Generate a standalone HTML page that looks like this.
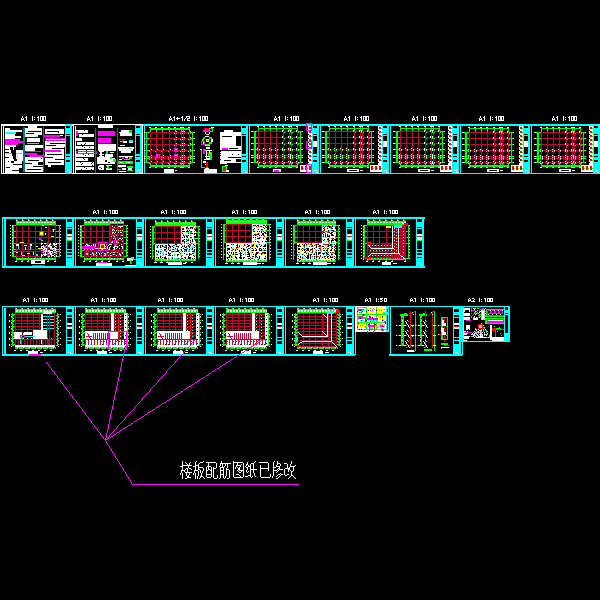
<!DOCTYPE html><html><head><meta charset="utf-8"><style>html,body{margin:0;padding:0;background:#000;overflow:hidden}svg{display:block}</style></head><body>
<svg width="600" height="600" viewBox="0 0 600 600" shape-rendering="crispEdges">
<rect x="0" y="0" width="600" height="600" fill="#000"/>
<path fill="#ffffff" d="M1 124h73v2h-73zM1 173h73v1h-73zM1 124h1v50h-1zM3 126h1v47h-1zM5 128h5v2h-5zM5 130h17v2h-17z"/>
<path fill="#00ffff" d="M5 132h11v2h-11z"/>
<path fill="#ffffff" d="M5 134h10v5h-10zM15 136h6v2h-6z"/>
<path fill="#ff00ff" d="M5 139h15v2h-15zM5 141h20v2h-20zM5 143h13v2h-13z"/>
<path fill="#ffffff" d="M5 145h11v2h-11zM5 147h9v26h-9zM16 150h8v11h-8zM14 160h8v13h-8z"/>
<path fill="#000000" d="M10 147h3v1h-3zM10 148h3v1h-3zM10 149h3v1h-3zM11 150h3v1h-3zM11 151h3v1h-3zM11 152h3v1h-3zM12 153h3v1h-3zM12 154h3v1h-3zM12 155h3v1h-3zM13 156h3v1h-3zM13 157h3v1h-3zM13 158h3v1h-3zM14 159h3v1h-3zM14 160h3v1h-3z"/>
<path fill="#00ffff" d="M6 153h6v1h-6zM16 153h6v1h-6zM17 156h1v1h-1z"/>
<path fill="#000000" d="M13 164h11v1h-11zM11 161h3v2h-3zM19 168h3v5h-3zM8 161h1v1h-1zM6 167h4v1h-4zM12 170h7v1h-7zM5 149h4v1h-4zM5 152h4v1h-4zM5 157h4v1h-4z"/>
<path fill="#008080" d="M23 127h2v45h-2z"/>
<path fill="#ffffff" d="M28 126h9v2h-9zM25 128h17v7h-17zM25 135h13v2h-13zM27 138h13v4h-13z"/>
<path fill="#00ffff" d="M27 143h12v1h-12z"/>
<path fill="#ffffff" d="M25 145h18v3h-18zM25 148h10v3h-10z"/>
<path fill="#ff00ff" d="M26 151h15v1h-15zM25 153h12v2h-12zM30 155h15v2h-15z"/>
<path fill="#ffffff" d="M25 157h19v15h-19z"/>
<path fill="#00ffff" d="M36 136h1v1h-1z"/>
<path fill="#000000" d="M28 131h13v1h-13zM26 133h8v1h-8zM28 160h11v1h-11zM25 163h7v1h-7zM33 166h11v1h-11zM27 169h14v1h-14zM41 158h1v1h-1zM38 162h6v3h-6z"/>
<path fill="#008080" d="M43 127h1v45h-1z"/>
<path fill="#ffffff" d="M45 129h19v5h-19z"/>
<path fill="#ff00ff" d="M44 135h16v2h-16z"/>
<path fill="#ffffff" d="M60 135h3v1h-3z"/>
<path fill="#ff00ff" d="M45 138h21v1h-21z"/>
<path fill="#ffffff" d="M46 139h19v1h-19z"/>
<path fill="#ff00ff" d="M45 140h21v1h-21z"/>
<path fill="#ffffff" d="M45 141h20v6h-20zM45 147h19v3h-19z"/>
<path fill="#ff00ff" d="M44 150h17v2h-17z"/>
<path fill="#ffffff" d="M61 150h3v2h-3zM45 152h19v13h-19zM48 165h3v2h-3z"/>
<path fill="#000000" d="M47 131h12v1h-12zM50 143h15v1h-15zM46 145h10v1h-10zM52 148h12v1h-12zM47 154h15v1h-15zM45 157h8v1h-8zM55 159h9v1h-9zM48 162h13v1h-13zM58 132h1v1h-1zM60 140h1v1h-1z"/>
<path fill="#00ffff" d="M65 124h7v50h-7z"/>
<path fill="#000000" d="M66 126h4v2h-4zM66 134h4v1h-4zM66 136h4v18h-4zM66 156h4v1h-4zM66 160h4v2h-4z"/>
<path fill="#ffffff" d="M67 170h3v1h-3zM69 172h2v1h-2z"/>
<path fill="#000000" d="M72 126h1v47h-1z"/>
<path fill="#ffffff" d="M73 124h1v50h-1zM75 126h1v47h-1zM76 130h2v1h-2zM78 130h3v1h-3zM81 130h3v1h-3zM85 130h3v1h-3zM76 131h2v1h-2zM78 131h6v1h-6zM84 131h4v1h-4zM76 132h4v1h-4zM80 132h8v1h-8zM79 134h3v1h-3zM83 134h3v1h-3zM86 134h6v1h-6zM92 134h2v1h-2zM79 135h7v1h-7zM86 135h5v1h-5zM91 135h3v1h-3zM79 136h9v1h-9zM88 136h6v1h-6zM76 138h6v1h-6zM76 139h6v1h-6zM76 140h6v1h-6zM77 142h3v1h-3zM80 142h8v1h-8zM88 142h6v1h-6zM77 143h8v1h-8zM86 143h2v1h-2zM88 143h6v1h-6zM77 144h2v1h-2zM79 144h2v1h-2zM82 144h2v1h-2zM85 144h9v1h-9zM76 146h6v1h-6zM83 146h4v1h-4zM87 146h2v1h-2zM89 146h5v1h-5zM76 147h8v1h-8zM85 147h4v1h-4zM90 147h4v1h-4zM76 148h5v1h-5zM81 148h3v1h-3zM84 148h2v1h-2zM86 148h5v1h-5zM91 148h3v1h-3zM78 150h8v1h-8zM87 150h3v1h-3zM90 150h4v1h-4zM78 151h5v1h-5zM83 151h9v1h-9zM93 151h1v1h-1zM78 152h2v1h-2zM80 152h4v1h-4zM84 152h2v1h-2zM87 152h6v1h-6zM93 152h1v1h-1zM76 154h4v1h-4zM80 154h3v1h-3zM84 154h2v1h-2zM86 154h2v1h-2zM89 154h5v1h-5zM76 155h9v1h-9zM86 155h5v1h-5zM91 155h3v1h-3zM76 156h7v1h-7zM83 156h9v1h-9zM92 156h2v1h-2zM76 158h7v1h-7zM84 158h4v1h-4zM76 159h8v1h-8zM85 159h3v1h-3zM76 160h5v1h-5zM81 160h3v1h-3zM84 160h4v1h-4zM76 162h4v1h-4zM81 162h2v1h-2zM83 162h9v1h-9zM93 162h1v1h-1zM76 163h6v1h-6zM83 163h6v1h-6zM89 163h2v1h-2zM92 163h2v1h-2zM76 164h5v1h-5zM82 164h7v1h-7zM89 164h4v1h-4zM93 164h1v1h-1zM76 165h7v1h-7zM83 165h9v1h-9zM93 165h1v1h-1zM76 167h8v1h-8zM85 167h4v1h-4zM89 167h5v1h-5zM76 168h4v1h-4zM80 168h6v1h-6zM87 168h2v1h-2zM89 168h5v1h-5zM76 169h3v1h-3zM79 169h2v1h-2zM82 169h9v1h-9zM92 169h2v1h-2z"/>
<path fill="#ff00ff" d="M76 131h2v5h-2zM76 151h21v1h-21zM76 153h21v1h-21zM76 151h1v3h-1zM96 151h1v3h-1z"/>
<path fill="#008080" d="M95 128h1v45h-1z"/>
<path fill="#ffffff" d="M98 125h15v3h-15z"/>
<path fill="#ff00ff" d="M98 131h17v5h-17zM98 138h13v5h-13z"/>
<path fill="#ffffff" d="M98 144h18v7h-18zM99 151h5v1h-5zM100 152h2v2h-2zM99 154h5v1h-5zM100 155h2v1h-2zM99 156h5v1h-5z"/>
<path fill="#00ff00" d="M106 151h2v3h-2z"/>
<path fill="#ffffff" d="M110 152h4v1h-4z"/>
<path fill="#ff0000" d="M111 153h1v1h-1z"/>
<path fill="#ffffff" d="M105 154h8v3h-8zM97 157h13v7h-13zM110 158h5v6h-5z"/>
<path fill="#000000" d="M105 160h2v2h-2z"/>
<path fill="#00ff00" d="M110 157h2v2h-2zM113 159h3v3h-3z"/>
<path fill="#c8c8c8" d="M111 161h3v1h-3z"/>
<path fill="#000000" d="M108 162h2v1h-2z"/>
<path fill="#ffffff" d="M99 165h5v1h-5zM98 166h6v3h-6zM99 169h5v1h-5z"/>
<path fill="#ff0000" d="M99 167h2v1h-2z"/>
<path fill="#000000" d="M101 168h1v1h-1z"/>
<path fill="#ffffff" d="M106 165h6v1h-6z"/>
<path fill="#00ff00" d="M107 166h2v2h-2z"/>
<path fill="#ffffff" d="M106 168h6v2h-6z"/>
<path fill="#00ff00" d="M108 168h2v1h-2z"/>
<path fill="#008080" d="M117 128h1v45h-1z"/>
<path fill="#ffffff" d="M121 130h10v2h-10zM119 132h10v1h-10zM120 133h12v3h-12z"/>
<path fill="#00ff00" d="M129 130h3v3h-3z"/>
<path fill="#000000" d="M130 131h1v1h-1z"/>
<path fill="#ff0000" d="M119 139h6v1h-6zM122 140h2v2h-2z"/>
<path fill="#00ffff" d="M120 141h2v1h-2z"/>
<path fill="#ffffff" d="M123 141h4v2h-4z"/>
<path fill="#00ffff" d="M129 140h4v3h-4z"/>
<path fill="#ffffff" d="M129 142h4v1h-4zM120 145h5v1h-5zM118 147h16v2h-16zM119 149h14v2h-14zM121 151h10v2h-10z"/>
<path fill="#00ff00" d="M125 148h1v1h-1zM129 148h2v1h-2z"/>
<path fill="#000000" d="M119 152h2v1h-2z"/>
<path fill="#ffffff" d="M119 156h14v1h-14z"/>
<path fill="#ff0000" d="M119 157h2v1h-2z"/>
<path fill="#ff00ff" d="M122 157h2v2h-2z"/>
<path fill="#ffffff" d="M125 157h3v1h-3z"/>
<path fill="#ff00ff" d="M126 158h2v2h-2z"/>
<path fill="#00ff00" d="M129 157h3v2h-3z"/>
<path fill="#ffffff" d="M119 159h3v1h-3z"/>
<path fill="#00ff00" d="M124 159h6v1h-6zM118 161h15v3h-15z"/>
<path fill="#ffffff" d="M120 162h2v1h-2zM127 162h3v1h-3zM118 165h8v2h-8z"/>
<path fill="#ff00ff" d="M119 167h3v1h-3z"/>
<path fill="#ffffff" d="M122 168h4v2h-4z"/>
<path fill="#00ff00" d="M118 169h3v1h-3zM127 166h6v2h-6z"/>
<path fill="#ffffff" d="M128 168h4v2h-4z"/>
<path fill="#00ff00" d="M127 170h6v1h-6z"/>
<path fill="#ffffff" d="M119 171h7v1h-7z"/>
<path fill="#00ffff" d="M135 124h7v50h-7z"/>
<path fill="#000000" d="M136 126h4v2h-4zM136 134h4v1h-4zM136 136h4v18h-4zM136 156h4v1h-4zM136 160h4v2h-4z"/>
<path fill="#ffffff" d="M137 170h3v1h-3zM139 172h2v1h-2zM142 124h1v50h-1z"/>
<path fill="#000000" d="M143 126h1v47h-1z"/>
<path fill="#ffffff" d="M73 124h71v1h-71zM73 173h71v1h-71z"/>
<path fill="#00ffff" d="M143 124h457v2h-457zM143 173h457v1h-457zM144 124h1v50h-1z"/>
<path fill="#cc0033" d="M258 131h1v32h-1zM264 131h1v32h-1zM270 131h1v32h-1zM276 131h1v32h-1zM283 131h1v32h-1zM289 131h1v32h-1zM291 131h1v32h-1zM297 131h1v32h-1zM258 131h40v1h-40zM258 137h40v1h-40zM258 143h40v1h-40zM258 149h40v1h-40zM258 155h40v1h-40zM258 157h40v1h-40zM258 162h40v1h-40z"/>
<path fill="#00ff00" d="M258 128h40v1h-40zM258 127h1v4h-1zM264 127h1v4h-1zM270 127h1v4h-1zM276 127h1v4h-1zM283 127h1v4h-1zM289 127h1v4h-1zM291 127h1v4h-1zM297 127h1v4h-1zM254 131h1v32h-1zM253 131h5v1h-5zM253 137h5v1h-5zM253 143h5v1h-5zM253 149h5v1h-5zM253 155h5v1h-5zM253 157h5v1h-5zM253 162h5v1h-5zM300 131h1v32h-1zM298 131h4v1h-4zM298 137h4v1h-4zM298 143h4v1h-4zM298 149h4v1h-4zM298 155h4v1h-4zM298 157h4v1h-4zM298 162h4v1h-4zM258 165h40v2h-40zM258 163h1v4h-1zM264 163h1v4h-1zM270 163h1v4h-1zM276 163h1v4h-1zM283 163h1v4h-1zM289 163h1v4h-1zM291 163h1v4h-1zM297 163h1v4h-1z"/>
<path fill="#ffffff" d="M257 126h2v1h-2zM257 167h2v1h-2zM263 126h2v1h-2zM263 167h2v1h-2zM269 126h2v1h-2zM269 167h2v1h-2zM275 126h2v1h-2zM275 167h2v1h-2zM282 126h2v1h-2zM282 167h2v1h-2zM288 126h2v1h-2zM288 167h2v1h-2zM290 126h2v1h-2zM290 167h2v1h-2zM296 126h2v1h-2zM296 167h2v1h-2zM252 131h1v1h-1zM302 131h1v1h-1zM252 137h1v1h-1zM302 137h1v1h-1zM252 143h1v1h-1zM302 143h1v1h-1zM252 149h1v1h-1zM302 149h1v1h-1zM252 155h1v1h-1zM302 155h1v1h-1zM252 157h1v1h-1zM302 157h1v1h-1zM252 162h1v1h-1zM302 162h1v1h-1z"/>
<path fill="#00ff00" d="M255 131h1v32h-1z"/>
<path fill="#ffffff" d="M251 131h1v1h-1zM251 137h1v1h-1zM251 143h1v1h-1zM251 149h1v1h-1zM251 155h1v1h-1zM251 157h1v1h-1zM251 162h1v1h-1zM282 130h1v1h-1zM282 131h1v1h-1z"/>
<path fill="#00ff00" d="M284 132h1v1h-1z"/>
<path fill="#ffffff" d="M282 136h1v1h-1zM282 137h1v1h-1z"/>
<path fill="#00ff00" d="M284 138h1v1h-1z"/>
<path fill="#ffffff" d="M282 142h1v1h-1zM282 143h1v1h-1z"/>
<path fill="#00ff00" d="M284 144h1v1h-1z"/>
<path fill="#ffffff" d="M282 148h1v1h-1zM282 149h1v1h-1z"/>
<path fill="#00ff00" d="M284 150h1v1h-1z"/>
<path fill="#ffffff" d="M288 130h1v1h-1zM288 131h1v1h-1z"/>
<path fill="#00ff00" d="M290 132h1v1h-1z"/>
<path fill="#ffffff" d="M288 136h1v1h-1zM288 137h1v1h-1z"/>
<path fill="#00ff00" d="M290 138h1v1h-1z"/>
<path fill="#ffffff" d="M288 142h1v1h-1zM288 143h1v1h-1z"/>
<path fill="#00ff00" d="M290 144h1v1h-1z"/>
<path fill="#ffffff" d="M288 148h1v1h-1zM288 149h1v1h-1z"/>
<path fill="#00ff00" d="M290 150h1v1h-1z"/>
<path fill="#ffffff" d="M290 130h1v1h-1zM290 131h1v1h-1z"/>
<path fill="#00ff00" d="M292 132h1v1h-1z"/>
<path fill="#ffffff" d="M290 136h1v1h-1zM290 137h1v1h-1z"/>
<path fill="#00ff00" d="M292 138h1v1h-1z"/>
<path fill="#ffffff" d="M290 142h1v1h-1zM290 143h1v1h-1z"/>
<path fill="#00ff00" d="M292 144h1v1h-1z"/>
<path fill="#ffffff" d="M290 148h1v1h-1zM290 149h1v1h-1z"/>
<path fill="#00ff00" d="M292 150h1v1h-1z"/>
<path fill="#ffffff" d="M296 130h1v1h-1zM296 131h1v1h-1z"/>
<path fill="#00ff00" d="M298 132h1v1h-1z"/>
<path fill="#ffffff" d="M296 136h1v1h-1zM296 137h1v1h-1z"/>
<path fill="#00ff00" d="M298 138h1v1h-1z"/>
<path fill="#ffffff" d="M296 142h1v1h-1zM296 143h1v1h-1z"/>
<path fill="#00ff00" d="M298 144h1v1h-1z"/>
<path fill="#ffffff" d="M296 148h1v1h-1zM296 149h1v1h-1z"/>
<path fill="#00ff00" d="M298 150h1v1h-1z"/>
<path fill="#ffffff" d="M257 148h1v1h-1zM259 149h1v1h-1z"/>
<path fill="#00ff00" d="M259 150h1v1h-1zM257 150h1v1h-1z"/>
<path fill="#ffffff" d="M257 154h1v1h-1zM259 155h1v1h-1z"/>
<path fill="#00ff00" d="M259 156h1v1h-1z"/>
<path fill="#ff0000" d="M257 156h1v1h-1z"/>
<path fill="#ffffff" d="M257 156h1v1h-1zM259 157h1v1h-1z"/>
<path fill="#00ff00" d="M259 158h1v1h-1z"/>
<path fill="#ffff00" d="M257 158h1v1h-1z"/>
<path fill="#ffffff" d="M257 161h1v1h-1zM259 162h1v1h-1z"/>
<path fill="#00ff00" d="M259 163h1v1h-1z"/>
<path fill="#ff0000" d="M257 163h1v1h-1z"/>
<path fill="#ffffff" d="M263 148h1v1h-1zM265 149h1v1h-1z"/>
<path fill="#00ff00" d="M265 150h1v1h-1z"/>
<path fill="#ffffff" d="M263 150h1v1h-1zM263 154h1v1h-1zM265 155h1v1h-1z"/>
<path fill="#00ff00" d="M265 156h1v1h-1z"/>
<path fill="#ffffff" d="M263 156h1v1h-1zM263 156h1v1h-1zM265 157h1v1h-1z"/>
<path fill="#00ff00" d="M265 158h1v1h-1z"/>
<path fill="#ffffff" d="M263 158h1v1h-1zM263 161h1v1h-1zM265 162h1v1h-1z"/>
<path fill="#00ff00" d="M265 163h1v1h-1z"/>
<path fill="#ffffff" d="M263 163h1v1h-1zM269 148h1v1h-1zM271 149h1v1h-1z"/>
<path fill="#00ff00" d="M271 150h1v1h-1zM269 150h1v1h-1z"/>
<path fill="#ffffff" d="M269 154h1v1h-1zM271 155h1v1h-1z"/>
<path fill="#00ff00" d="M271 156h1v1h-1z"/>
<path fill="#ff0000" d="M269 156h1v1h-1z"/>
<path fill="#ffffff" d="M269 156h1v1h-1zM271 157h1v1h-1z"/>
<path fill="#00ff00" d="M271 158h1v1h-1z"/>
<path fill="#ffffff" d="M269 158h1v1h-1zM269 161h1v1h-1zM271 162h1v1h-1z"/>
<path fill="#00ff00" d="M271 163h1v1h-1z"/>
<path fill="#ff0000" d="M269 163h1v1h-1z"/>
<path fill="#ffffff" d="M275 148h1v1h-1zM277 149h1v1h-1z"/>
<path fill="#00ff00" d="M277 150h1v1h-1z"/>
<path fill="#ffffff" d="M275 150h1v1h-1zM275 154h1v1h-1zM277 155h1v1h-1z"/>
<path fill="#00ff00" d="M277 156h1v1h-1z"/>
<path fill="#ffffff" d="M275 156h1v1h-1zM275 156h1v1h-1zM277 157h1v1h-1z"/>
<path fill="#00ff00" d="M277 158h1v1h-1z"/>
<path fill="#ff0000" d="M275 158h1v1h-1z"/>
<path fill="#ffffff" d="M275 161h1v1h-1zM277 162h1v1h-1z"/>
<path fill="#00ff00" d="M277 163h1v1h-1z"/>
<path fill="#ffffff" d="M275 163h1v1h-1zM282 148h1v1h-1zM284 149h1v1h-1z"/>
<path fill="#00ff00" d="M284 150h1v1h-1z"/>
<path fill="#ffff00" d="M282 150h1v1h-1z"/>
<path fill="#ffffff" d="M282 154h1v1h-1zM284 155h1v1h-1z"/>
<path fill="#00ff00" d="M284 156h1v1h-1zM282 156h1v1h-1z"/>
<path fill="#ffffff" d="M282 156h1v1h-1zM284 157h1v1h-1z"/>
<path fill="#00ff00" d="M284 158h1v1h-1z"/>
<path fill="#ff0000" d="M282 158h1v1h-1z"/>
<path fill="#ffffff" d="M282 161h1v1h-1zM284 162h1v1h-1z"/>
<path fill="#00ff00" d="M284 163h1v1h-1z"/>
<path fill="#ffff00" d="M282 163h1v1h-1z"/>
<path fill="#ffffff" d="M288 148h1v1h-1zM290 149h1v1h-1z"/>
<path fill="#00ff00" d="M290 150h1v1h-1z"/>
<path fill="#ff0000" d="M288 150h1v1h-1z"/>
<path fill="#ffffff" d="M288 154h1v1h-1zM290 155h1v1h-1z"/>
<path fill="#00ff00" d="M290 156h1v1h-1z"/>
<path fill="#ff0000" d="M288 156h1v1h-1z"/>
<path fill="#ffffff" d="M288 156h1v1h-1zM290 157h1v1h-1z"/>
<path fill="#00ff00" d="M290 158h1v1h-1z"/>
<path fill="#ff0000" d="M288 158h1v1h-1z"/>
<path fill="#ffffff" d="M288 161h1v1h-1zM290 162h1v1h-1z"/>
<path fill="#00ff00" d="M290 163h1v1h-1z"/>
<path fill="#ff0000" d="M288 163h1v1h-1z"/>
<path fill="#ffffff" d="M290 148h1v1h-1zM292 149h1v1h-1z"/>
<path fill="#00ff00" d="M292 150h1v1h-1z"/>
<path fill="#ffffff" d="M290 150h1v1h-1zM290 154h1v1h-1zM292 155h1v1h-1z"/>
<path fill="#00ff00" d="M292 156h1v1h-1zM290 156h1v1h-1z"/>
<path fill="#ffffff" d="M290 156h1v1h-1zM292 157h1v1h-1z"/>
<path fill="#00ff00" d="M292 158h1v1h-1z"/>
<path fill="#ffffff" d="M290 158h1v1h-1zM290 161h1v1h-1zM292 162h1v1h-1z"/>
<path fill="#00ff00" d="M292 163h1v1h-1z"/>
<path fill="#ff0000" d="M290 163h1v1h-1z"/>
<path fill="#ffffff" d="M296 148h1v1h-1zM298 149h1v1h-1z"/>
<path fill="#00ff00" d="M298 150h1v1h-1zM296 150h1v1h-1z"/>
<path fill="#ffffff" d="M296 154h1v1h-1zM298 155h1v1h-1z"/>
<path fill="#00ff00" d="M298 156h1v1h-1z"/>
<path fill="#ffffff" d="M296 156h1v1h-1zM296 156h1v1h-1zM298 157h1v1h-1z"/>
<path fill="#00ff00" d="M298 158h1v1h-1z"/>
<path fill="#ffffff" d="M296 158h1v1h-1zM296 161h1v1h-1zM298 162h1v1h-1z"/>
<path fill="#00ff00" d="M298 163h1v1h-1zM296 163h1v1h-1z"/>
<path fill="#ff0000" d="M258 154h1v1h-1zM264 154h1v1h-1zM270 154h1v1h-1zM276 154h1v1h-1zM283 154h1v1h-1zM289 154h1v1h-1z"/>
<path fill="#ffffff" d="M308 126h4v39h-4z"/>
<path fill="#ff0000" d="M309 127h2v2h-2z"/>
<path fill="#00ff00" d="M311 128h1v1h-1z"/>
<path fill="#000000" d="M308 130h1v1h-1z"/>
<path fill="#ff0000" d="M309 131h2v2h-2z"/>
<path fill="#00ff00" d="M311 132h1v1h-1z"/>
<path fill="#000000" d="M308 134h1v1h-1z"/>
<path fill="#ff0000" d="M309 135h2v2h-2z"/>
<path fill="#00ff00" d="M311 136h1v1h-1z"/>
<path fill="#000000" d="M308 138h1v1h-1z"/>
<path fill="#ff0000" d="M309 139h2v2h-2z"/>
<path fill="#00ff00" d="M311 140h1v1h-1z"/>
<path fill="#000000" d="M308 142h1v1h-1z"/>
<path fill="#ff0000" d="M309 143h2v2h-2z"/>
<path fill="#00ff00" d="M311 144h1v1h-1z"/>
<path fill="#000000" d="M308 146h1v1h-1z"/>
<path fill="#ff0000" d="M309 147h2v2h-2z"/>
<path fill="#00ff00" d="M311 148h1v1h-1z"/>
<path fill="#000000" d="M308 150h1v1h-1z"/>
<path fill="#ff0000" d="M309 151h2v2h-2z"/>
<path fill="#00ff00" d="M311 152h1v1h-1z"/>
<path fill="#000000" d="M308 154h1v1h-1z"/>
<path fill="#ff0000" d="M309 155h2v2h-2z"/>
<path fill="#00ff00" d="M311 156h1v1h-1z"/>
<path fill="#000000" d="M308 158h1v1h-1z"/>
<path fill="#ff0000" d="M309 159h2v2h-2z"/>
<path fill="#00ff00" d="M311 160h1v1h-1z"/>
<path fill="#000000" d="M308 162h1v1h-1z"/>
<path fill="#ffffff" d="M300 165h12v7h-12z"/>
<path fill="#ff0000" d="M301 166h2v4h-2z"/>
<path fill="#00ff00" d="M303 168h1v1h-1z"/>
<path fill="#ff0000" d="M305 166h2v4h-2z"/>
<path fill="#00ff00" d="M307 168h1v1h-1z"/>
<path fill="#ff0000" d="M309 166h2v4h-2z"/>
<path fill="#00ff00" d="M311 168h1v1h-1z"/>
<path fill="#ffffff" d="M273 169h8v3h-8z"/>
<path fill="#ff00ff" d="M274 170h5v2h-5z"/>
<path fill="#00ffff" d="M312 124h7v50h-7z"/>
<path fill="#000000" d="M313 126h4v2h-4zM313 134h4v1h-4zM313 136h4v18h-4zM313 156h4v1h-4zM313 160h4v2h-4z"/>
<path fill="#ffffff" d="M313 141h4v6h-4zM314 170h3v1h-3zM316 172h2v1h-2z"/>
<path fill="#000000" d="M319 126h1v47h-1z"/>
<path fill="#00ffff" d="M320 124h1v50h-1z"/>
<path fill="#cc0033" d="M329 131h1v32h-1zM335 131h1v32h-1zM341 131h1v32h-1zM347 131h1v32h-1zM354 131h1v32h-1zM360 131h1v32h-1zM362 131h1v32h-1zM368 131h1v32h-1zM329 131h40v1h-40zM329 137h40v1h-40zM329 143h40v1h-40zM329 149h40v1h-40zM329 155h40v1h-40zM329 157h40v1h-40zM329 162h40v1h-40z"/>
<path fill="#00ff00" d="M329 128h40v1h-40zM329 127h1v4h-1zM335 127h1v4h-1zM341 127h1v4h-1zM347 127h1v4h-1zM354 127h1v4h-1zM360 127h1v4h-1zM362 127h1v4h-1zM368 127h1v4h-1zM325 131h1v32h-1zM324 131h5v1h-5zM324 137h5v1h-5zM324 143h5v1h-5zM324 149h5v1h-5zM324 155h5v1h-5zM324 157h5v1h-5zM324 162h5v1h-5zM371 131h1v32h-1zM369 131h4v1h-4zM369 137h4v1h-4zM369 143h4v1h-4zM369 149h4v1h-4zM369 155h4v1h-4zM369 157h4v1h-4zM369 162h4v1h-4zM329 165h40v2h-40zM329 163h1v4h-1zM335 163h1v4h-1zM341 163h1v4h-1zM347 163h1v4h-1zM354 163h1v4h-1zM360 163h1v4h-1zM362 163h1v4h-1zM368 163h1v4h-1z"/>
<path fill="#ffffff" d="M328 126h2v1h-2zM328 167h2v1h-2zM334 126h2v1h-2zM334 167h2v1h-2zM340 126h2v1h-2zM340 167h2v1h-2zM346 126h2v1h-2zM346 167h2v1h-2zM353 126h2v1h-2zM353 167h2v1h-2zM359 126h2v1h-2zM359 167h2v1h-2zM361 126h2v1h-2zM361 167h2v1h-2zM367 126h2v1h-2zM367 167h2v1h-2zM323 131h1v1h-1zM373 131h1v1h-1zM323 137h1v1h-1zM373 137h1v1h-1zM323 143h1v1h-1zM373 143h1v1h-1zM323 149h1v1h-1zM373 149h1v1h-1zM323 155h1v1h-1zM373 155h1v1h-1zM323 157h1v1h-1zM373 157h1v1h-1zM323 162h1v1h-1zM373 162h1v1h-1z"/>
<path fill="#00ff00" d="M326 131h1v32h-1z"/>
<path fill="#ffffff" d="M322 131h1v1h-1zM322 137h1v1h-1zM322 143h1v1h-1zM322 149h1v1h-1zM322 155h1v1h-1zM322 157h1v1h-1zM322 162h1v1h-1zM353 130h1v1h-1zM353 131h1v1h-1z"/>
<path fill="#00ff00" d="M355 132h1v1h-1z"/>
<path fill="#ffffff" d="M353 136h1v1h-1zM353 137h1v1h-1z"/>
<path fill="#00ff00" d="M355 138h1v1h-1z"/>
<path fill="#ffffff" d="M353 142h1v1h-1zM353 143h1v1h-1z"/>
<path fill="#00ff00" d="M355 144h1v1h-1z"/>
<path fill="#ffffff" d="M353 148h1v1h-1zM353 149h1v1h-1z"/>
<path fill="#00ff00" d="M355 150h1v1h-1z"/>
<path fill="#ffffff" d="M359 130h1v1h-1zM359 131h1v1h-1z"/>
<path fill="#00ff00" d="M361 132h1v1h-1z"/>
<path fill="#ffffff" d="M359 136h1v1h-1zM359 137h1v1h-1z"/>
<path fill="#00ff00" d="M361 138h1v1h-1z"/>
<path fill="#ffffff" d="M359 142h1v1h-1zM359 143h1v1h-1z"/>
<path fill="#00ff00" d="M361 144h1v1h-1z"/>
<path fill="#ffffff" d="M359 148h1v1h-1zM359 149h1v1h-1z"/>
<path fill="#00ff00" d="M361 150h1v1h-1z"/>
<path fill="#ffffff" d="M361 130h1v1h-1zM361 131h1v1h-1z"/>
<path fill="#00ff00" d="M363 132h1v1h-1z"/>
<path fill="#ffffff" d="M361 136h1v1h-1zM361 137h1v1h-1z"/>
<path fill="#00ff00" d="M363 138h1v1h-1z"/>
<path fill="#ffffff" d="M361 142h1v1h-1zM361 143h1v1h-1z"/>
<path fill="#00ff00" d="M363 144h1v1h-1z"/>
<path fill="#ffffff" d="M361 148h1v1h-1zM361 149h1v1h-1z"/>
<path fill="#00ff00" d="M363 150h1v1h-1z"/>
<path fill="#ffffff" d="M367 130h1v1h-1zM367 131h1v1h-1z"/>
<path fill="#00ff00" d="M369 132h1v1h-1z"/>
<path fill="#ffffff" d="M367 136h1v1h-1zM367 137h1v1h-1z"/>
<path fill="#00ff00" d="M369 138h1v1h-1z"/>
<path fill="#ffffff" d="M367 142h1v1h-1zM367 143h1v1h-1z"/>
<path fill="#00ff00" d="M369 144h1v1h-1z"/>
<path fill="#ffffff" d="M367 148h1v1h-1zM367 149h1v1h-1z"/>
<path fill="#00ff00" d="M369 150h1v1h-1z"/>
<path fill="#ffffff" d="M328 148h1v1h-1zM330 149h1v1h-1z"/>
<path fill="#00ff00" d="M330 150h1v1h-1z"/>
<path fill="#ff0000" d="M328 150h1v1h-1z"/>
<path fill="#ffffff" d="M328 154h1v1h-1zM330 155h1v1h-1z"/>
<path fill="#00ff00" d="M330 156h1v1h-1z"/>
<path fill="#ff0000" d="M328 156h1v1h-1z"/>
<path fill="#ffffff" d="M328 156h1v1h-1zM330 157h1v1h-1z"/>
<path fill="#00ff00" d="M330 158h1v1h-1z"/>
<path fill="#ff0000" d="M328 158h1v1h-1z"/>
<path fill="#ffffff" d="M328 161h1v1h-1zM330 162h1v1h-1z"/>
<path fill="#00ff00" d="M330 163h1v1h-1z"/>
<path fill="#ffff00" d="M328 163h1v1h-1z"/>
<path fill="#ffffff" d="M334 148h1v1h-1zM336 149h1v1h-1z"/>
<path fill="#00ff00" d="M336 150h1v1h-1zM334 150h1v1h-1z"/>
<path fill="#ffffff" d="M334 154h1v1h-1zM336 155h1v1h-1z"/>
<path fill="#00ff00" d="M336 156h1v1h-1z"/>
<path fill="#ffff00" d="M334 156h1v1h-1z"/>
<path fill="#ffffff" d="M334 156h1v1h-1zM336 157h1v1h-1z"/>
<path fill="#00ff00" d="M336 158h1v1h-1z"/>
<path fill="#ffff00" d="M334 158h1v1h-1z"/>
<path fill="#ffffff" d="M334 161h1v1h-1zM336 162h1v1h-1z"/>
<path fill="#00ff00" d="M336 163h1v1h-1zM334 163h1v1h-1z"/>
<path fill="#ffffff" d="M340 148h1v1h-1zM342 149h1v1h-1z"/>
<path fill="#00ff00" d="M342 150h1v1h-1z"/>
<path fill="#ff0000" d="M340 150h1v1h-1z"/>
<path fill="#ffffff" d="M340 154h1v1h-1zM342 155h1v1h-1z"/>
<path fill="#00ff00" d="M342 156h1v1h-1zM340 156h1v1h-1z"/>
<path fill="#ffffff" d="M340 156h1v1h-1zM342 157h1v1h-1z"/>
<path fill="#00ff00" d="M342 158h1v1h-1z"/>
<path fill="#ffffff" d="M340 158h1v1h-1zM340 161h1v1h-1zM342 162h1v1h-1z"/>
<path fill="#00ff00" d="M342 163h1v1h-1z"/>
<path fill="#ffffff" d="M340 163h1v1h-1zM346 148h1v1h-1zM348 149h1v1h-1z"/>
<path fill="#00ff00" d="M348 150h1v1h-1z"/>
<path fill="#ffff00" d="M346 150h1v1h-1z"/>
<path fill="#ffffff" d="M346 154h1v1h-1zM348 155h1v1h-1z"/>
<path fill="#00ff00" d="M348 156h1v1h-1z"/>
<path fill="#ffffff" d="M346 156h1v1h-1zM346 156h1v1h-1zM348 157h1v1h-1z"/>
<path fill="#00ff00" d="M348 158h1v1h-1z"/>
<path fill="#ffff00" d="M346 158h1v1h-1z"/>
<path fill="#ffffff" d="M346 161h1v1h-1zM348 162h1v1h-1z"/>
<path fill="#00ff00" d="M348 163h1v1h-1z"/>
<path fill="#ff0000" d="M346 163h1v1h-1z"/>
<path fill="#ffffff" d="M353 148h1v1h-1zM355 149h1v1h-1z"/>
<path fill="#00ff00" d="M355 150h1v1h-1z"/>
<path fill="#ff0000" d="M353 150h1v1h-1z"/>
<path fill="#ffffff" d="M353 154h1v1h-1zM355 155h1v1h-1z"/>
<path fill="#00ff00" d="M355 156h1v1h-1z"/>
<path fill="#ffff00" d="M353 156h1v1h-1z"/>
<path fill="#ffffff" d="M353 156h1v1h-1zM355 157h1v1h-1z"/>
<path fill="#00ff00" d="M355 158h1v1h-1z"/>
<path fill="#ffffff" d="M353 158h1v1h-1zM353 161h1v1h-1zM355 162h1v1h-1z"/>
<path fill="#00ff00" d="M355 163h1v1h-1z"/>
<path fill="#ffff00" d="M353 163h1v1h-1z"/>
<path fill="#ffffff" d="M359 148h1v1h-1zM361 149h1v1h-1z"/>
<path fill="#00ff00" d="M361 150h1v1h-1z"/>
<path fill="#ffffff" d="M359 150h1v1h-1zM359 154h1v1h-1zM361 155h1v1h-1z"/>
<path fill="#00ff00" d="M361 156h1v1h-1z"/>
<path fill="#ffffff" d="M359 156h1v1h-1zM359 156h1v1h-1zM361 157h1v1h-1z"/>
<path fill="#00ff00" d="M361 158h1v1h-1zM359 158h1v1h-1z"/>
<path fill="#ffffff" d="M359 161h1v1h-1zM361 162h1v1h-1z"/>
<path fill="#00ff00" d="M361 163h1v1h-1zM359 163h1v1h-1z"/>
<path fill="#ffffff" d="M361 148h1v1h-1zM363 149h1v1h-1z"/>
<path fill="#00ff00" d="M363 150h1v1h-1zM361 150h1v1h-1z"/>
<path fill="#ffffff" d="M361 154h1v1h-1zM363 155h1v1h-1z"/>
<path fill="#00ff00" d="M363 156h1v1h-1zM361 156h1v1h-1z"/>
<path fill="#ffffff" d="M361 156h1v1h-1zM363 157h1v1h-1z"/>
<path fill="#00ff00" d="M363 158h1v1h-1z"/>
<path fill="#ff0000" d="M361 158h1v1h-1z"/>
<path fill="#ffffff" d="M361 161h1v1h-1zM363 162h1v1h-1z"/>
<path fill="#00ff00" d="M363 163h1v1h-1zM361 163h1v1h-1z"/>
<path fill="#ffffff" d="M367 148h1v1h-1zM369 149h1v1h-1z"/>
<path fill="#00ff00" d="M369 150h1v1h-1z"/>
<path fill="#ffff00" d="M367 150h1v1h-1z"/>
<path fill="#ffffff" d="M367 154h1v1h-1zM369 155h1v1h-1z"/>
<path fill="#00ff00" d="M369 156h1v1h-1zM367 156h1v1h-1z"/>
<path fill="#ffffff" d="M367 156h1v1h-1zM369 157h1v1h-1z"/>
<path fill="#00ff00" d="M369 158h1v1h-1zM367 158h1v1h-1z"/>
<path fill="#ffffff" d="M367 161h1v1h-1zM369 162h1v1h-1z"/>
<path fill="#00ff00" d="M369 163h1v1h-1z"/>
<path fill="#ffff00" d="M367 163h1v1h-1z"/>
<path fill="#ff0000" d="M329 154h1v1h-1zM335 154h1v1h-1zM341 154h1v1h-1zM347 154h1v1h-1zM354 154h1v1h-1zM360 154h1v1h-1z"/>
<path fill="#ffffff" d="M378 126h4v39h-4z"/>
<path fill="#ff0000" d="M379 127h2v2h-2z"/>
<path fill="#00ff00" d="M381 128h1v1h-1z"/>
<path fill="#000000" d="M378 130h1v1h-1z"/>
<path fill="#ff0000" d="M379 131h2v2h-2z"/>
<path fill="#00ff00" d="M381 132h1v1h-1z"/>
<path fill="#000000" d="M378 134h1v1h-1z"/>
<path fill="#ff0000" d="M379 135h2v2h-2z"/>
<path fill="#00ff00" d="M381 136h1v1h-1z"/>
<path fill="#000000" d="M378 138h1v1h-1z"/>
<path fill="#ff0000" d="M379 139h2v2h-2z"/>
<path fill="#00ff00" d="M381 140h1v1h-1z"/>
<path fill="#000000" d="M378 142h1v1h-1z"/>
<path fill="#ff0000" d="M379 143h2v2h-2z"/>
<path fill="#00ff00" d="M381 144h1v1h-1z"/>
<path fill="#000000" d="M378 146h1v1h-1z"/>
<path fill="#ff0000" d="M379 147h2v2h-2z"/>
<path fill="#00ff00" d="M381 148h1v1h-1z"/>
<path fill="#000000" d="M378 150h1v1h-1z"/>
<path fill="#ff0000" d="M379 151h2v2h-2z"/>
<path fill="#00ff00" d="M381 152h1v1h-1z"/>
<path fill="#000000" d="M378 154h1v1h-1z"/>
<path fill="#ff0000" d="M379 155h2v2h-2z"/>
<path fill="#00ff00" d="M381 156h1v1h-1z"/>
<path fill="#000000" d="M378 158h1v1h-1z"/>
<path fill="#ff0000" d="M379 159h2v2h-2z"/>
<path fill="#00ff00" d="M381 160h1v1h-1z"/>
<path fill="#000000" d="M378 162h1v1h-1z"/>
<path fill="#ffffff" d="M370 165h12v7h-12z"/>
<path fill="#ff0000" d="M371 166h2v4h-2z"/>
<path fill="#00ff00" d="M373 168h1v1h-1z"/>
<path fill="#ff0000" d="M375 166h2v4h-2z"/>
<path fill="#00ff00" d="M377 168h1v1h-1z"/>
<path fill="#ff0000" d="M379 166h2v4h-2z"/>
<path fill="#00ff00" d="M381 168h1v1h-1z"/>
<path fill="#ffffff" d="M347 169h12v3h-12z"/>
<path fill="#000000" d="M349 170h8v1h-8z"/>
<path fill="#ffffff" d="M360 170h3v1h-3z"/>
<path fill="#00ffff" d="M382 124h7v50h-7z"/>
<path fill="#000000" d="M383 126h4v2h-4zM383 134h4v1h-4zM383 136h4v18h-4zM383 156h4v1h-4zM383 160h4v2h-4z"/>
<path fill="#ffffff" d="M383 141h4v6h-4zM384 170h3v1h-3zM386 172h2v1h-2z"/>
<path fill="#000000" d="M389 126h1v47h-1z"/>
<path fill="#00ffff" d="M390 124h1v50h-1z"/>
<path fill="#cc0033" d="M400 131h1v32h-1zM406 131h1v32h-1zM412 131h1v32h-1zM418 131h1v32h-1zM425 131h1v32h-1zM431 131h1v32h-1zM433 131h1v32h-1zM439 131h1v32h-1zM400 131h40v1h-40zM400 137h40v1h-40zM400 143h40v1h-40zM400 149h40v1h-40zM400 155h40v1h-40zM400 157h40v1h-40zM400 162h40v1h-40z"/>
<path fill="#00ff00" d="M400 128h40v1h-40zM400 127h1v4h-1zM406 127h1v4h-1zM412 127h1v4h-1zM418 127h1v4h-1zM425 127h1v4h-1zM431 127h1v4h-1zM433 127h1v4h-1zM439 127h1v4h-1zM396 131h1v32h-1zM395 131h5v1h-5zM395 137h5v1h-5zM395 143h5v1h-5zM395 149h5v1h-5zM395 155h5v1h-5zM395 157h5v1h-5zM395 162h5v1h-5zM442 131h1v32h-1zM440 131h4v1h-4zM440 137h4v1h-4zM440 143h4v1h-4zM440 149h4v1h-4zM440 155h4v1h-4zM440 157h4v1h-4zM440 162h4v1h-4zM400 165h40v2h-40zM400 163h1v4h-1zM406 163h1v4h-1zM412 163h1v4h-1zM418 163h1v4h-1zM425 163h1v4h-1zM431 163h1v4h-1zM433 163h1v4h-1zM439 163h1v4h-1z"/>
<path fill="#ffffff" d="M399 126h2v1h-2zM399 167h2v1h-2zM405 126h2v1h-2zM405 167h2v1h-2zM411 126h2v1h-2zM411 167h2v1h-2zM417 126h2v1h-2zM417 167h2v1h-2zM424 126h2v1h-2zM424 167h2v1h-2zM430 126h2v1h-2zM430 167h2v1h-2zM432 126h2v1h-2zM432 167h2v1h-2zM438 126h2v1h-2zM438 167h2v1h-2zM394 131h1v1h-1zM444 131h1v1h-1zM394 137h1v1h-1zM444 137h1v1h-1zM394 143h1v1h-1zM444 143h1v1h-1zM394 149h1v1h-1zM444 149h1v1h-1zM394 155h1v1h-1zM444 155h1v1h-1zM394 157h1v1h-1zM444 157h1v1h-1zM394 162h1v1h-1zM444 162h1v1h-1z"/>
<path fill="#00ff00" d="M397 131h1v32h-1z"/>
<path fill="#ffffff" d="M393 131h1v1h-1zM393 137h1v1h-1zM393 143h1v1h-1zM393 149h1v1h-1zM393 155h1v1h-1zM393 157h1v1h-1zM393 162h1v1h-1zM424 130h1v1h-1zM424 131h1v1h-1z"/>
<path fill="#00ff00" d="M426 132h1v1h-1z"/>
<path fill="#ffffff" d="M424 136h1v1h-1zM424 137h1v1h-1z"/>
<path fill="#00ff00" d="M426 138h1v1h-1z"/>
<path fill="#ffffff" d="M424 142h1v1h-1zM424 143h1v1h-1z"/>
<path fill="#00ff00" d="M426 144h1v1h-1z"/>
<path fill="#ffffff" d="M424 148h1v1h-1zM424 149h1v1h-1z"/>
<path fill="#00ff00" d="M426 150h1v1h-1z"/>
<path fill="#ffffff" d="M430 130h1v1h-1zM430 131h1v1h-1z"/>
<path fill="#00ff00" d="M432 132h1v1h-1z"/>
<path fill="#ffffff" d="M430 136h1v1h-1zM430 137h1v1h-1z"/>
<path fill="#00ff00" d="M432 138h1v1h-1z"/>
<path fill="#ffffff" d="M430 142h1v1h-1zM430 143h1v1h-1z"/>
<path fill="#00ff00" d="M432 144h1v1h-1z"/>
<path fill="#ffffff" d="M430 148h1v1h-1zM430 149h1v1h-1z"/>
<path fill="#00ff00" d="M432 150h1v1h-1z"/>
<path fill="#ffffff" d="M432 130h1v1h-1zM432 131h1v1h-1z"/>
<path fill="#00ff00" d="M434 132h1v1h-1z"/>
<path fill="#ffffff" d="M432 136h1v1h-1zM432 137h1v1h-1z"/>
<path fill="#00ff00" d="M434 138h1v1h-1z"/>
<path fill="#ffffff" d="M432 142h1v1h-1zM432 143h1v1h-1z"/>
<path fill="#00ff00" d="M434 144h1v1h-1z"/>
<path fill="#ffffff" d="M432 148h1v1h-1zM432 149h1v1h-1z"/>
<path fill="#00ff00" d="M434 150h1v1h-1z"/>
<path fill="#ffffff" d="M438 130h1v1h-1zM438 131h1v1h-1z"/>
<path fill="#00ff00" d="M440 132h1v1h-1z"/>
<path fill="#ffffff" d="M438 136h1v1h-1zM438 137h1v1h-1z"/>
<path fill="#00ff00" d="M440 138h1v1h-1z"/>
<path fill="#ffffff" d="M438 142h1v1h-1zM438 143h1v1h-1z"/>
<path fill="#00ff00" d="M440 144h1v1h-1z"/>
<path fill="#ffffff" d="M438 148h1v1h-1zM438 149h1v1h-1z"/>
<path fill="#00ff00" d="M440 150h1v1h-1z"/>
<path fill="#ffffff" d="M399 148h1v1h-1zM401 149h1v1h-1z"/>
<path fill="#00ff00" d="M401 150h1v1h-1zM399 150h1v1h-1z"/>
<path fill="#ffffff" d="M399 154h1v1h-1zM401 155h1v1h-1z"/>
<path fill="#00ff00" d="M401 156h1v1h-1zM399 156h1v1h-1z"/>
<path fill="#ffffff" d="M399 156h1v1h-1zM401 157h1v1h-1z"/>
<path fill="#00ff00" d="M401 158h1v1h-1z"/>
<path fill="#ffff00" d="M399 158h1v1h-1z"/>
<path fill="#ffffff" d="M399 161h1v1h-1zM401 162h1v1h-1z"/>
<path fill="#00ff00" d="M401 163h1v1h-1z"/>
<path fill="#ffffff" d="M399 163h1v1h-1zM405 148h1v1h-1zM407 149h1v1h-1z"/>
<path fill="#00ff00" d="M407 150h1v1h-1z"/>
<path fill="#ff0000" d="M405 150h1v1h-1z"/>
<path fill="#ffffff" d="M405 154h1v1h-1zM407 155h1v1h-1z"/>
<path fill="#00ff00" d="M407 156h1v1h-1z"/>
<path fill="#ff0000" d="M405 156h1v1h-1z"/>
<path fill="#ffffff" d="M405 156h1v1h-1zM407 157h1v1h-1z"/>
<path fill="#00ff00" d="M407 158h1v1h-1z"/>
<path fill="#ffffff" d="M405 158h1v1h-1zM405 161h1v1h-1zM407 162h1v1h-1z"/>
<path fill="#00ff00" d="M407 163h1v1h-1z"/>
<path fill="#ffff00" d="M405 163h1v1h-1z"/>
<path fill="#ffffff" d="M411 148h1v1h-1zM413 149h1v1h-1z"/>
<path fill="#00ff00" d="M413 150h1v1h-1zM411 150h1v1h-1z"/>
<path fill="#ffffff" d="M411 154h1v1h-1zM413 155h1v1h-1z"/>
<path fill="#00ff00" d="M413 156h1v1h-1zM411 156h1v1h-1z"/>
<path fill="#ffffff" d="M411 156h1v1h-1zM413 157h1v1h-1z"/>
<path fill="#00ff00" d="M413 158h1v1h-1z"/>
<path fill="#ffffff" d="M411 158h1v1h-1zM411 161h1v1h-1zM413 162h1v1h-1z"/>
<path fill="#00ff00" d="M413 163h1v1h-1z"/>
<path fill="#ffffff" d="M411 163h1v1h-1zM417 148h1v1h-1zM419 149h1v1h-1z"/>
<path fill="#00ff00" d="M419 150h1v1h-1z"/>
<path fill="#ffffff" d="M417 150h1v1h-1zM417 154h1v1h-1zM419 155h1v1h-1z"/>
<path fill="#00ff00" d="M419 156h1v1h-1zM417 156h1v1h-1z"/>
<path fill="#ffffff" d="M417 156h1v1h-1zM419 157h1v1h-1z"/>
<path fill="#00ff00" d="M419 158h1v1h-1zM417 158h1v1h-1z"/>
<path fill="#ffffff" d="M417 161h1v1h-1zM419 162h1v1h-1z"/>
<path fill="#00ff00" d="M419 163h1v1h-1zM417 163h1v1h-1z"/>
<path fill="#ffffff" d="M424 148h1v1h-1zM426 149h1v1h-1z"/>
<path fill="#00ff00" d="M426 150h1v1h-1z"/>
<path fill="#ffffff" d="M424 150h1v1h-1zM424 154h1v1h-1zM426 155h1v1h-1z"/>
<path fill="#00ff00" d="M426 156h1v1h-1z"/>
<path fill="#ff0000" d="M424 156h1v1h-1z"/>
<path fill="#ffffff" d="M424 156h1v1h-1zM426 157h1v1h-1z"/>
<path fill="#00ff00" d="M426 158h1v1h-1z"/>
<path fill="#ff0000" d="M424 158h1v1h-1z"/>
<path fill="#ffffff" d="M424 161h1v1h-1zM426 162h1v1h-1z"/>
<path fill="#00ff00" d="M426 163h1v1h-1zM424 163h1v1h-1z"/>
<path fill="#ffffff" d="M430 148h1v1h-1zM432 149h1v1h-1z"/>
<path fill="#00ff00" d="M432 150h1v1h-1z"/>
<path fill="#ff0000" d="M430 150h1v1h-1z"/>
<path fill="#ffffff" d="M430 154h1v1h-1zM432 155h1v1h-1z"/>
<path fill="#00ff00" d="M432 156h1v1h-1z"/>
<path fill="#ffff00" d="M430 156h1v1h-1z"/>
<path fill="#ffffff" d="M430 156h1v1h-1zM432 157h1v1h-1z"/>
<path fill="#00ff00" d="M432 158h1v1h-1z"/>
<path fill="#ff0000" d="M430 158h1v1h-1z"/>
<path fill="#ffffff" d="M430 161h1v1h-1zM432 162h1v1h-1z"/>
<path fill="#00ff00" d="M432 163h1v1h-1z"/>
<path fill="#ffff00" d="M430 163h1v1h-1z"/>
<path fill="#ffffff" d="M432 148h1v1h-1zM434 149h1v1h-1z"/>
<path fill="#00ff00" d="M434 150h1v1h-1z"/>
<path fill="#ffffff" d="M432 150h1v1h-1zM432 154h1v1h-1zM434 155h1v1h-1z"/>
<path fill="#00ff00" d="M434 156h1v1h-1z"/>
<path fill="#ffffff" d="M432 156h1v1h-1zM432 156h1v1h-1zM434 157h1v1h-1z"/>
<path fill="#00ff00" d="M434 158h1v1h-1z"/>
<path fill="#ffffff" d="M432 158h1v1h-1zM432 161h1v1h-1zM434 162h1v1h-1z"/>
<path fill="#00ff00" d="M434 163h1v1h-1z"/>
<path fill="#ffffff" d="M432 163h1v1h-1zM438 148h1v1h-1zM440 149h1v1h-1z"/>
<path fill="#00ff00" d="M440 150h1v1h-1z"/>
<path fill="#ffffff" d="M438 150h1v1h-1zM438 154h1v1h-1zM440 155h1v1h-1z"/>
<path fill="#00ff00" d="M440 156h1v1h-1zM438 156h1v1h-1z"/>
<path fill="#ffffff" d="M438 156h1v1h-1zM440 157h1v1h-1z"/>
<path fill="#00ff00" d="M440 158h1v1h-1z"/>
<path fill="#ffff00" d="M438 158h1v1h-1z"/>
<path fill="#ffffff" d="M438 161h1v1h-1zM440 162h1v1h-1z"/>
<path fill="#00ff00" d="M440 163h1v1h-1z"/>
<path fill="#ff0000" d="M438 163h1v1h-1zM400 154h1v1h-1zM406 154h1v1h-1zM412 154h1v1h-1zM418 154h1v1h-1zM425 154h1v1h-1zM431 154h1v1h-1z"/>
<path fill="#ffffff" d="M448 126h4v39h-4z"/>
<path fill="#ff0000" d="M449 127h2v2h-2z"/>
<path fill="#00ff00" d="M451 128h1v1h-1z"/>
<path fill="#000000" d="M448 130h1v1h-1z"/>
<path fill="#ff0000" d="M449 131h2v2h-2z"/>
<path fill="#00ff00" d="M451 132h1v1h-1z"/>
<path fill="#000000" d="M448 134h1v1h-1z"/>
<path fill="#ff0000" d="M449 135h2v2h-2z"/>
<path fill="#00ff00" d="M451 136h1v1h-1z"/>
<path fill="#000000" d="M448 138h1v1h-1z"/>
<path fill="#ff0000" d="M449 139h2v2h-2z"/>
<path fill="#00ff00" d="M451 140h1v1h-1z"/>
<path fill="#000000" d="M448 142h1v1h-1z"/>
<path fill="#ff0000" d="M449 143h2v2h-2z"/>
<path fill="#00ff00" d="M451 144h1v1h-1z"/>
<path fill="#000000" d="M448 146h1v1h-1z"/>
<path fill="#ff0000" d="M449 147h2v2h-2z"/>
<path fill="#00ff00" d="M451 148h1v1h-1z"/>
<path fill="#000000" d="M448 150h1v1h-1z"/>
<path fill="#ff0000" d="M449 151h2v2h-2z"/>
<path fill="#00ff00" d="M451 152h1v1h-1z"/>
<path fill="#000000" d="M448 154h1v1h-1z"/>
<path fill="#ff0000" d="M449 155h2v2h-2z"/>
<path fill="#00ff00" d="M451 156h1v1h-1z"/>
<path fill="#000000" d="M448 158h1v1h-1z"/>
<path fill="#ff0000" d="M449 159h2v2h-2z"/>
<path fill="#00ff00" d="M451 160h1v1h-1z"/>
<path fill="#000000" d="M448 162h1v1h-1z"/>
<path fill="#ffffff" d="M440 165h12v7h-12z"/>
<path fill="#ff0000" d="M441 166h2v4h-2z"/>
<path fill="#00ff00" d="M443 168h1v1h-1z"/>
<path fill="#ff0000" d="M445 166h2v4h-2z"/>
<path fill="#00ff00" d="M447 168h1v1h-1z"/>
<path fill="#ff0000" d="M449 166h2v4h-2z"/>
<path fill="#00ff00" d="M451 168h1v1h-1z"/>
<path fill="#ffffff" d="M418 169h12v3h-12z"/>
<path fill="#000000" d="M420 170h8v1h-8z"/>
<path fill="#ffffff" d="M431 170h3v1h-3z"/>
<path fill="#00ffff" d="M452 124h7v50h-7z"/>
<path fill="#000000" d="M453 126h4v2h-4zM453 134h4v1h-4zM453 136h4v18h-4zM453 156h4v1h-4zM453 160h4v2h-4z"/>
<path fill="#ffffff" d="M453 141h4v6h-4zM454 170h3v1h-3zM456 172h2v1h-2z"/>
<path fill="#000000" d="M459 126h1v47h-1z"/>
<path fill="#00ffff" d="M460 124h1v50h-1z"/>
<path fill="#cc0033" d="M469 132h1v31h-1zM475 132h1v31h-1zM481 132h1v31h-1zM487 132h1v31h-1zM494 132h1v31h-1zM500 132h1v31h-1zM502 132h1v31h-1zM508 132h1v31h-1zM469 132h40v1h-40zM469 138h40v1h-40zM469 144h40v1h-40zM469 150h40v1h-40zM469 156h40v1h-40zM469 158h40v1h-40zM469 162h40v1h-40z"/>
<path fill="#00ff00" d="M469 128h40v1h-40zM469 127h1v5h-1zM475 127h1v5h-1zM481 127h1v5h-1zM487 127h1v5h-1zM494 127h1v5h-1zM500 127h1v5h-1zM502 127h1v5h-1zM508 127h1v5h-1zM465 132h1v31h-1zM464 132h5v1h-5zM464 138h5v1h-5zM464 144h5v1h-5zM464 150h5v1h-5zM464 156h5v1h-5zM464 158h5v1h-5zM464 162h5v1h-5zM511 132h1v31h-1zM509 132h4v1h-4zM509 138h4v1h-4zM509 144h4v1h-4zM509 150h4v1h-4zM509 156h4v1h-4zM509 158h4v1h-4zM509 162h4v1h-4zM469 165h40v2h-40zM469 163h1v4h-1zM475 163h1v4h-1zM481 163h1v4h-1zM487 163h1v4h-1zM494 163h1v4h-1zM500 163h1v4h-1zM502 163h1v4h-1zM508 163h1v4h-1z"/>
<path fill="#ffffff" d="M468 127h2v1h-2zM468 167h2v1h-2zM474 127h2v1h-2zM474 167h2v1h-2zM480 127h2v1h-2zM480 167h2v1h-2zM486 127h2v1h-2zM486 167h2v1h-2zM493 127h2v1h-2zM493 167h2v1h-2zM499 127h2v1h-2zM499 167h2v1h-2zM501 127h2v1h-2zM501 167h2v1h-2zM507 127h2v1h-2zM507 167h2v1h-2zM463 132h1v1h-1zM513 132h1v1h-1zM463 138h1v1h-1zM513 138h1v1h-1zM463 144h1v1h-1zM513 144h1v1h-1zM463 150h1v1h-1zM513 150h1v1h-1zM463 156h1v1h-1zM513 156h1v1h-1zM463 158h1v1h-1zM513 158h1v1h-1zM463 162h1v1h-1zM513 162h1v1h-1z"/>
<path fill="#00ff00" d="M466 132h1v31h-1z"/>
<path fill="#ffffff" d="M462 132h1v1h-1zM462 138h1v1h-1zM462 144h1v1h-1zM462 150h1v1h-1zM462 156h1v1h-1zM462 158h1v1h-1zM462 162h1v1h-1zM493 131h1v1h-1zM493 132h1v1h-1z"/>
<path fill="#00ff00" d="M495 133h1v1h-1z"/>
<path fill="#ffffff" d="M493 137h1v1h-1zM493 138h1v1h-1z"/>
<path fill="#00ff00" d="M495 139h1v1h-1z"/>
<path fill="#ffffff" d="M493 143h1v1h-1zM493 144h1v1h-1z"/>
<path fill="#00ff00" d="M495 145h1v1h-1z"/>
<path fill="#ffffff" d="M493 149h1v1h-1zM493 150h1v1h-1z"/>
<path fill="#00ff00" d="M495 151h1v1h-1z"/>
<path fill="#ffffff" d="M499 131h1v1h-1zM499 132h1v1h-1z"/>
<path fill="#00ff00" d="M501 133h1v1h-1z"/>
<path fill="#ffffff" d="M499 137h1v1h-1zM499 138h1v1h-1z"/>
<path fill="#00ff00" d="M501 139h1v1h-1z"/>
<path fill="#ffffff" d="M499 143h1v1h-1zM499 144h1v1h-1z"/>
<path fill="#00ff00" d="M501 145h1v1h-1z"/>
<path fill="#ffffff" d="M499 149h1v1h-1zM499 150h1v1h-1z"/>
<path fill="#00ff00" d="M501 151h1v1h-1z"/>
<path fill="#ffffff" d="M501 131h1v1h-1zM501 132h1v1h-1z"/>
<path fill="#00ff00" d="M503 133h1v1h-1z"/>
<path fill="#ffffff" d="M501 137h1v1h-1zM501 138h1v1h-1z"/>
<path fill="#00ff00" d="M503 139h1v1h-1z"/>
<path fill="#ffffff" d="M501 143h1v1h-1zM501 144h1v1h-1z"/>
<path fill="#00ff00" d="M503 145h1v1h-1z"/>
<path fill="#ffffff" d="M501 149h1v1h-1zM501 150h1v1h-1z"/>
<path fill="#00ff00" d="M503 151h1v1h-1z"/>
<path fill="#ffffff" d="M507 131h1v1h-1zM507 132h1v1h-1z"/>
<path fill="#00ff00" d="M509 133h1v1h-1z"/>
<path fill="#ffffff" d="M507 137h1v1h-1zM507 138h1v1h-1z"/>
<path fill="#00ff00" d="M509 139h1v1h-1z"/>
<path fill="#ffffff" d="M507 143h1v1h-1zM507 144h1v1h-1z"/>
<path fill="#00ff00" d="M509 145h1v1h-1z"/>
<path fill="#ffffff" d="M507 149h1v1h-1zM507 150h1v1h-1z"/>
<path fill="#00ff00" d="M509 151h1v1h-1z"/>
<path fill="#ffffff" d="M468 149h1v1h-1zM470 150h1v1h-1z"/>
<path fill="#00ff00" d="M470 151h1v1h-1zM468 151h1v1h-1z"/>
<path fill="#ffffff" d="M468 155h1v1h-1zM470 156h1v1h-1z"/>
<path fill="#00ff00" d="M470 157h1v1h-1z"/>
<path fill="#ffff00" d="M468 157h1v1h-1z"/>
<path fill="#ffffff" d="M468 157h1v1h-1zM470 158h1v1h-1z"/>
<path fill="#00ff00" d="M470 159h1v1h-1z"/>
<path fill="#ff0000" d="M468 159h1v1h-1z"/>
<path fill="#ffffff" d="M468 161h1v1h-1zM470 162h1v1h-1z"/>
<path fill="#00ff00" d="M470 163h1v1h-1z"/>
<path fill="#ffffff" d="M468 163h1v1h-1zM474 149h1v1h-1zM476 150h1v1h-1z"/>
<path fill="#00ff00" d="M476 151h1v1h-1z"/>
<path fill="#ffffff" d="M474 151h1v1h-1zM474 155h1v1h-1zM476 156h1v1h-1z"/>
<path fill="#00ff00" d="M476 157h1v1h-1zM474 157h1v1h-1z"/>
<path fill="#ffffff" d="M474 157h1v1h-1zM476 158h1v1h-1z"/>
<path fill="#00ff00" d="M476 159h1v1h-1z"/>
<path fill="#ff0000" d="M474 159h1v1h-1z"/>
<path fill="#ffffff" d="M474 161h1v1h-1zM476 162h1v1h-1z"/>
<path fill="#00ff00" d="M476 163h1v1h-1z"/>
<path fill="#ff0000" d="M474 163h1v1h-1z"/>
<path fill="#ffffff" d="M480 149h1v1h-1zM482 150h1v1h-1z"/>
<path fill="#00ff00" d="M482 151h1v1h-1z"/>
<path fill="#ff0000" d="M480 151h1v1h-1z"/>
<path fill="#ffffff" d="M480 155h1v1h-1zM482 156h1v1h-1z"/>
<path fill="#00ff00" d="M482 157h1v1h-1z"/>
<path fill="#ffffff" d="M480 157h1v1h-1zM480 157h1v1h-1zM482 158h1v1h-1z"/>
<path fill="#00ff00" d="M482 159h1v1h-1z"/>
<path fill="#ffff00" d="M480 159h1v1h-1z"/>
<path fill="#ffffff" d="M480 161h1v1h-1zM482 162h1v1h-1z"/>
<path fill="#00ff00" d="M482 163h1v1h-1z"/>
<path fill="#ff0000" d="M480 163h1v1h-1z"/>
<path fill="#ffffff" d="M486 149h1v1h-1zM488 150h1v1h-1z"/>
<path fill="#00ff00" d="M488 151h1v1h-1zM486 151h1v1h-1z"/>
<path fill="#ffffff" d="M486 155h1v1h-1zM488 156h1v1h-1z"/>
<path fill="#00ff00" d="M488 157h1v1h-1z"/>
<path fill="#ffff00" d="M486 157h1v1h-1z"/>
<path fill="#ffffff" d="M486 157h1v1h-1zM488 158h1v1h-1z"/>
<path fill="#00ff00" d="M488 159h1v1h-1z"/>
<path fill="#ffff00" d="M486 159h1v1h-1z"/>
<path fill="#ffffff" d="M486 161h1v1h-1zM488 162h1v1h-1z"/>
<path fill="#00ff00" d="M488 163h1v1h-1zM486 163h1v1h-1z"/>
<path fill="#ffffff" d="M493 149h1v1h-1zM495 150h1v1h-1z"/>
<path fill="#00ff00" d="M495 151h1v1h-1z"/>
<path fill="#ff0000" d="M493 151h1v1h-1z"/>
<path fill="#ffffff" d="M493 155h1v1h-1zM495 156h1v1h-1z"/>
<path fill="#00ff00" d="M495 157h1v1h-1z"/>
<path fill="#ffff00" d="M493 157h1v1h-1z"/>
<path fill="#ffffff" d="M493 157h1v1h-1zM495 158h1v1h-1z"/>
<path fill="#00ff00" d="M495 159h1v1h-1zM493 159h1v1h-1z"/>
<path fill="#ffffff" d="M493 161h1v1h-1zM495 162h1v1h-1z"/>
<path fill="#00ff00" d="M495 163h1v1h-1z"/>
<path fill="#ff0000" d="M493 163h1v1h-1z"/>
<path fill="#ffffff" d="M499 149h1v1h-1zM501 150h1v1h-1z"/>
<path fill="#00ff00" d="M501 151h1v1h-1z"/>
<path fill="#ffff00" d="M499 151h1v1h-1z"/>
<path fill="#ffffff" d="M499 155h1v1h-1zM501 156h1v1h-1z"/>
<path fill="#00ff00" d="M501 157h1v1h-1z"/>
<path fill="#ffff00" d="M499 157h1v1h-1z"/>
<path fill="#ffffff" d="M499 157h1v1h-1zM501 158h1v1h-1z"/>
<path fill="#00ff00" d="M501 159h1v1h-1zM499 159h1v1h-1z"/>
<path fill="#ffffff" d="M499 161h1v1h-1zM501 162h1v1h-1z"/>
<path fill="#00ff00" d="M501 163h1v1h-1zM499 163h1v1h-1z"/>
<path fill="#ffffff" d="M501 149h1v1h-1zM503 150h1v1h-1z"/>
<path fill="#00ff00" d="M503 151h1v1h-1z"/>
<path fill="#ffff00" d="M501 151h1v1h-1z"/>
<path fill="#ffffff" d="M501 155h1v1h-1zM503 156h1v1h-1z"/>
<path fill="#00ff00" d="M503 157h1v1h-1z"/>
<path fill="#ffff00" d="M501 157h1v1h-1z"/>
<path fill="#ffffff" d="M501 157h1v1h-1zM503 158h1v1h-1z"/>
<path fill="#00ff00" d="M503 159h1v1h-1z"/>
<path fill="#ffff00" d="M501 159h1v1h-1z"/>
<path fill="#ffffff" d="M501 161h1v1h-1zM503 162h1v1h-1z"/>
<path fill="#00ff00" d="M503 163h1v1h-1z"/>
<path fill="#ff0000" d="M501 163h1v1h-1z"/>
<path fill="#ffffff" d="M507 149h1v1h-1zM509 150h1v1h-1z"/>
<path fill="#00ff00" d="M509 151h1v1h-1z"/>
<path fill="#ffff00" d="M507 151h1v1h-1z"/>
<path fill="#ffffff" d="M507 155h1v1h-1zM509 156h1v1h-1z"/>
<path fill="#00ff00" d="M509 157h1v1h-1z"/>
<path fill="#ffffff" d="M507 157h1v1h-1zM507 157h1v1h-1zM509 158h1v1h-1z"/>
<path fill="#00ff00" d="M509 159h1v1h-1zM507 159h1v1h-1z"/>
<path fill="#ffffff" d="M507 161h1v1h-1zM509 162h1v1h-1z"/>
<path fill="#00ff00" d="M509 163h1v1h-1zM507 163h1v1h-1z"/>
<path fill="#ff0000" d="M469 155h1v1h-1zM475 155h1v1h-1zM481 155h1v1h-1zM487 155h1v1h-1zM494 155h1v1h-1zM500 155h1v1h-1z"/>
<path fill="#ffffff" d="M519 126h4v39h-4z"/>
<path fill="#ff0000" d="M520 127h2v2h-2z"/>
<path fill="#00ff00" d="M522 128h1v1h-1z"/>
<path fill="#000000" d="M519 130h1v1h-1z"/>
<path fill="#ff0000" d="M520 131h2v2h-2z"/>
<path fill="#00ff00" d="M522 132h1v1h-1z"/>
<path fill="#000000" d="M519 134h1v1h-1z"/>
<path fill="#ff0000" d="M520 135h2v2h-2z"/>
<path fill="#00ff00" d="M522 136h1v1h-1z"/>
<path fill="#000000" d="M519 138h1v1h-1z"/>
<path fill="#ff0000" d="M520 139h2v2h-2z"/>
<path fill="#00ff00" d="M522 140h1v1h-1z"/>
<path fill="#000000" d="M519 142h1v1h-1z"/>
<path fill="#ff0000" d="M520 143h2v2h-2z"/>
<path fill="#00ff00" d="M522 144h1v1h-1z"/>
<path fill="#000000" d="M519 146h1v1h-1z"/>
<path fill="#ff0000" d="M520 147h2v2h-2z"/>
<path fill="#00ff00" d="M522 148h1v1h-1z"/>
<path fill="#000000" d="M519 150h1v1h-1z"/>
<path fill="#ff0000" d="M520 151h2v2h-2z"/>
<path fill="#00ff00" d="M522 152h1v1h-1z"/>
<path fill="#000000" d="M519 154h1v1h-1z"/>
<path fill="#ff0000" d="M520 155h2v2h-2z"/>
<path fill="#00ff00" d="M522 156h1v1h-1z"/>
<path fill="#000000" d="M519 158h1v1h-1z"/>
<path fill="#ff0000" d="M520 159h2v2h-2z"/>
<path fill="#00ff00" d="M522 160h1v1h-1z"/>
<path fill="#000000" d="M519 162h1v1h-1z"/>
<path fill="#ffffff" d="M511 165h12v7h-12z"/>
<path fill="#ff0000" d="M512 166h2v4h-2z"/>
<path fill="#00ff00" d="M514 168h1v1h-1z"/>
<path fill="#ff0000" d="M516 166h2v4h-2z"/>
<path fill="#00ff00" d="M518 168h1v1h-1z"/>
<path fill="#ff0000" d="M520 166h2v4h-2z"/>
<path fill="#00ff00" d="M522 168h1v1h-1z"/>
<path fill="#ffffff" d="M487 169h12v3h-12z"/>
<path fill="#000000" d="M489 170h8v1h-8z"/>
<path fill="#ffffff" d="M500 170h3v1h-3z"/>
<path fill="#00ffff" d="M523 124h7v50h-7z"/>
<path fill="#000000" d="M524 126h4v2h-4zM524 134h4v1h-4zM524 136h4v18h-4zM524 156h4v1h-4zM524 160h4v2h-4z"/>
<path fill="#ffffff" d="M524 141h4v6h-4zM525 170h3v1h-3zM527 172h2v1h-2z"/>
<path fill="#000000" d="M530 126h1v47h-1z"/>
<path fill="#00ffff" d="M531 124h1v50h-1z"/>
<path fill="#cc0033" d="M541 132h1v31h-1zM547 132h1v31h-1zM553 132h1v31h-1zM559 132h1v31h-1zM566 132h1v31h-1zM572 132h1v31h-1zM574 132h1v31h-1zM580 132h1v31h-1zM541 132h40v1h-40zM541 138h40v1h-40zM541 144h40v1h-40zM541 150h40v1h-40zM541 156h40v1h-40zM541 158h40v1h-40zM541 162h40v1h-40z"/>
<path fill="#00ff00" d="M541 128h40v1h-40zM541 127h1v5h-1zM547 127h1v5h-1zM553 127h1v5h-1zM559 127h1v5h-1zM566 127h1v5h-1zM572 127h1v5h-1zM574 127h1v5h-1zM580 127h1v5h-1zM537 132h1v31h-1zM536 132h5v1h-5zM536 138h5v1h-5zM536 144h5v1h-5zM536 150h5v1h-5zM536 156h5v1h-5zM536 158h5v1h-5zM536 162h5v1h-5zM583 132h1v31h-1zM581 132h4v1h-4zM581 138h4v1h-4zM581 144h4v1h-4zM581 150h4v1h-4zM581 156h4v1h-4zM581 158h4v1h-4zM581 162h4v1h-4zM541 165h40v2h-40zM541 163h1v4h-1zM547 163h1v4h-1zM553 163h1v4h-1zM559 163h1v4h-1zM566 163h1v4h-1zM572 163h1v4h-1zM574 163h1v4h-1zM580 163h1v4h-1z"/>
<path fill="#ffffff" d="M540 127h2v1h-2zM540 167h2v1h-2zM546 127h2v1h-2zM546 167h2v1h-2zM552 127h2v1h-2zM552 167h2v1h-2zM558 127h2v1h-2zM558 167h2v1h-2zM565 127h2v1h-2zM565 167h2v1h-2zM571 127h2v1h-2zM571 167h2v1h-2zM573 127h2v1h-2zM573 167h2v1h-2zM579 127h2v1h-2zM579 167h2v1h-2zM535 132h1v1h-1zM585 132h1v1h-1zM535 138h1v1h-1zM585 138h1v1h-1zM535 144h1v1h-1zM585 144h1v1h-1zM535 150h1v1h-1zM585 150h1v1h-1zM535 156h1v1h-1zM585 156h1v1h-1zM535 158h1v1h-1zM585 158h1v1h-1zM535 162h1v1h-1zM585 162h1v1h-1z"/>
<path fill="#00ff00" d="M538 132h1v31h-1z"/>
<path fill="#ffffff" d="M534 132h1v1h-1zM534 138h1v1h-1zM534 144h1v1h-1zM534 150h1v1h-1zM534 156h1v1h-1zM534 158h1v1h-1zM534 162h1v1h-1zM565 131h1v1h-1zM565 132h1v1h-1z"/>
<path fill="#00ff00" d="M567 133h1v1h-1z"/>
<path fill="#ffffff" d="M565 137h1v1h-1zM565 138h1v1h-1z"/>
<path fill="#00ff00" d="M567 139h1v1h-1z"/>
<path fill="#ffffff" d="M565 143h1v1h-1zM565 144h1v1h-1z"/>
<path fill="#00ff00" d="M567 145h1v1h-1z"/>
<path fill="#ffffff" d="M565 149h1v1h-1zM565 150h1v1h-1z"/>
<path fill="#00ff00" d="M567 151h1v1h-1z"/>
<path fill="#ffffff" d="M571 131h1v1h-1zM571 132h1v1h-1z"/>
<path fill="#00ff00" d="M573 133h1v1h-1z"/>
<path fill="#ffffff" d="M571 137h1v1h-1zM571 138h1v1h-1z"/>
<path fill="#00ff00" d="M573 139h1v1h-1z"/>
<path fill="#ffffff" d="M571 143h1v1h-1zM571 144h1v1h-1z"/>
<path fill="#00ff00" d="M573 145h1v1h-1z"/>
<path fill="#ffffff" d="M571 149h1v1h-1zM571 150h1v1h-1z"/>
<path fill="#00ff00" d="M573 151h1v1h-1z"/>
<path fill="#ffffff" d="M573 131h1v1h-1zM573 132h1v1h-1z"/>
<path fill="#00ff00" d="M575 133h1v1h-1z"/>
<path fill="#ffffff" d="M573 137h1v1h-1zM573 138h1v1h-1z"/>
<path fill="#00ff00" d="M575 139h1v1h-1z"/>
<path fill="#ffffff" d="M573 143h1v1h-1zM573 144h1v1h-1z"/>
<path fill="#00ff00" d="M575 145h1v1h-1z"/>
<path fill="#ffffff" d="M573 149h1v1h-1zM573 150h1v1h-1z"/>
<path fill="#00ff00" d="M575 151h1v1h-1z"/>
<path fill="#ffffff" d="M579 131h1v1h-1zM579 132h1v1h-1z"/>
<path fill="#00ff00" d="M581 133h1v1h-1z"/>
<path fill="#ffffff" d="M579 137h1v1h-1zM579 138h1v1h-1z"/>
<path fill="#00ff00" d="M581 139h1v1h-1z"/>
<path fill="#ffffff" d="M579 143h1v1h-1zM579 144h1v1h-1z"/>
<path fill="#00ff00" d="M581 145h1v1h-1z"/>
<path fill="#ffffff" d="M579 149h1v1h-1zM579 150h1v1h-1z"/>
<path fill="#00ff00" d="M581 151h1v1h-1z"/>
<path fill="#ffffff" d="M540 149h1v1h-1zM542 150h1v1h-1z"/>
<path fill="#00ff00" d="M542 151h1v1h-1z"/>
<path fill="#ffff00" d="M540 151h1v1h-1z"/>
<path fill="#ffffff" d="M540 155h1v1h-1zM542 156h1v1h-1z"/>
<path fill="#00ff00" d="M542 157h1v1h-1z"/>
<path fill="#ffff00" d="M540 157h1v1h-1z"/>
<path fill="#ffffff" d="M540 157h1v1h-1zM542 158h1v1h-1z"/>
<path fill="#00ff00" d="M542 159h1v1h-1z"/>
<path fill="#ff0000" d="M540 159h1v1h-1z"/>
<path fill="#ffffff" d="M540 161h1v1h-1zM542 162h1v1h-1z"/>
<path fill="#00ff00" d="M542 163h1v1h-1z"/>
<path fill="#ffffff" d="M540 163h1v1h-1zM546 149h1v1h-1zM548 150h1v1h-1z"/>
<path fill="#00ff00" d="M548 151h1v1h-1zM546 151h1v1h-1z"/>
<path fill="#ffffff" d="M546 155h1v1h-1zM548 156h1v1h-1z"/>
<path fill="#00ff00" d="M548 157h1v1h-1z"/>
<path fill="#ff0000" d="M546 157h1v1h-1z"/>
<path fill="#ffffff" d="M546 157h1v1h-1zM548 158h1v1h-1z"/>
<path fill="#00ff00" d="M548 159h1v1h-1zM546 159h1v1h-1z"/>
<path fill="#ffffff" d="M546 161h1v1h-1zM548 162h1v1h-1z"/>
<path fill="#00ff00" d="M548 163h1v1h-1z"/>
<path fill="#ff0000" d="M546 163h1v1h-1z"/>
<path fill="#ffffff" d="M552 149h1v1h-1zM554 150h1v1h-1z"/>
<path fill="#00ff00" d="M554 151h1v1h-1z"/>
<path fill="#ffff00" d="M552 151h1v1h-1z"/>
<path fill="#ffffff" d="M552 155h1v1h-1zM554 156h1v1h-1z"/>
<path fill="#00ff00" d="M554 157h1v1h-1z"/>
<path fill="#ffffff" d="M552 157h1v1h-1zM552 157h1v1h-1zM554 158h1v1h-1z"/>
<path fill="#00ff00" d="M554 159h1v1h-1zM552 159h1v1h-1z"/>
<path fill="#ffffff" d="M552 161h1v1h-1zM554 162h1v1h-1z"/>
<path fill="#00ff00" d="M554 163h1v1h-1z"/>
<path fill="#ffffff" d="M552 163h1v1h-1zM558 149h1v1h-1zM560 150h1v1h-1z"/>
<path fill="#00ff00" d="M560 151h1v1h-1z"/>
<path fill="#ff0000" d="M558 151h1v1h-1z"/>
<path fill="#ffffff" d="M558 155h1v1h-1zM560 156h1v1h-1z"/>
<path fill="#00ff00" d="M560 157h1v1h-1zM558 157h1v1h-1z"/>
<path fill="#ffffff" d="M558 157h1v1h-1zM560 158h1v1h-1z"/>
<path fill="#00ff00" d="M560 159h1v1h-1z"/>
<path fill="#ff0000" d="M558 159h1v1h-1z"/>
<path fill="#ffffff" d="M558 161h1v1h-1zM560 162h1v1h-1z"/>
<path fill="#00ff00" d="M560 163h1v1h-1zM558 163h1v1h-1z"/>
<path fill="#ffffff" d="M565 149h1v1h-1zM567 150h1v1h-1z"/>
<path fill="#00ff00" d="M567 151h1v1h-1z"/>
<path fill="#ffffff" d="M565 151h1v1h-1zM565 155h1v1h-1zM567 156h1v1h-1z"/>
<path fill="#00ff00" d="M567 157h1v1h-1z"/>
<path fill="#ffff00" d="M565 157h1v1h-1z"/>
<path fill="#ffffff" d="M565 157h1v1h-1zM567 158h1v1h-1z"/>
<path fill="#00ff00" d="M567 159h1v1h-1zM565 159h1v1h-1z"/>
<path fill="#ffffff" d="M565 161h1v1h-1zM567 162h1v1h-1z"/>
<path fill="#00ff00" d="M567 163h1v1h-1z"/>
<path fill="#ffffff" d="M565 163h1v1h-1zM571 149h1v1h-1zM573 150h1v1h-1z"/>
<path fill="#00ff00" d="M573 151h1v1h-1zM571 151h1v1h-1z"/>
<path fill="#ffffff" d="M571 155h1v1h-1zM573 156h1v1h-1z"/>
<path fill="#00ff00" d="M573 157h1v1h-1z"/>
<path fill="#ff0000" d="M571 157h1v1h-1z"/>
<path fill="#ffffff" d="M571 157h1v1h-1zM573 158h1v1h-1z"/>
<path fill="#00ff00" d="M573 159h1v1h-1zM571 159h1v1h-1z"/>
<path fill="#ffffff" d="M571 161h1v1h-1zM573 162h1v1h-1z"/>
<path fill="#00ff00" d="M573 163h1v1h-1z"/>
<path fill="#ffffff" d="M571 163h1v1h-1zM573 149h1v1h-1zM575 150h1v1h-1z"/>
<path fill="#00ff00" d="M575 151h1v1h-1zM573 151h1v1h-1z"/>
<path fill="#ffffff" d="M573 155h1v1h-1zM575 156h1v1h-1z"/>
<path fill="#00ff00" d="M575 157h1v1h-1zM573 157h1v1h-1z"/>
<path fill="#ffffff" d="M573 157h1v1h-1zM575 158h1v1h-1z"/>
<path fill="#00ff00" d="M575 159h1v1h-1z"/>
<path fill="#ff0000" d="M573 159h1v1h-1z"/>
<path fill="#ffffff" d="M573 161h1v1h-1zM575 162h1v1h-1z"/>
<path fill="#00ff00" d="M575 163h1v1h-1z"/>
<path fill="#ff0000" d="M573 163h1v1h-1z"/>
<path fill="#ffffff" d="M579 149h1v1h-1zM581 150h1v1h-1z"/>
<path fill="#00ff00" d="M581 151h1v1h-1zM579 151h1v1h-1z"/>
<path fill="#ffffff" d="M579 155h1v1h-1zM581 156h1v1h-1z"/>
<path fill="#00ff00" d="M581 157h1v1h-1zM579 157h1v1h-1z"/>
<path fill="#ffffff" d="M579 157h1v1h-1zM581 158h1v1h-1z"/>
<path fill="#00ff00" d="M581 159h1v1h-1zM579 159h1v1h-1z"/>
<path fill="#ffffff" d="M579 161h1v1h-1zM581 162h1v1h-1z"/>
<path fill="#00ff00" d="M581 163h1v1h-1zM579 163h1v1h-1z"/>
<path fill="#ff0000" d="M541 155h1v1h-1zM547 155h1v1h-1zM553 155h1v1h-1zM559 155h1v1h-1zM566 155h1v1h-1zM572 155h1v1h-1z"/>
<path fill="#ffffff" d="M589 126h4v39h-4z"/>
<path fill="#ff0000" d="M590 127h2v2h-2z"/>
<path fill="#00ff00" d="M592 128h1v1h-1z"/>
<path fill="#000000" d="M589 130h1v1h-1z"/>
<path fill="#ff0000" d="M590 131h2v2h-2z"/>
<path fill="#00ff00" d="M592 132h1v1h-1z"/>
<path fill="#000000" d="M589 134h1v1h-1z"/>
<path fill="#ff0000" d="M590 135h2v2h-2z"/>
<path fill="#00ff00" d="M592 136h1v1h-1z"/>
<path fill="#000000" d="M589 138h1v1h-1z"/>
<path fill="#ff0000" d="M590 139h2v2h-2z"/>
<path fill="#00ff00" d="M592 140h1v1h-1z"/>
<path fill="#000000" d="M589 142h1v1h-1z"/>
<path fill="#ff0000" d="M590 143h2v2h-2z"/>
<path fill="#00ff00" d="M592 144h1v1h-1z"/>
<path fill="#000000" d="M589 146h1v1h-1z"/>
<path fill="#ff0000" d="M590 147h2v2h-2z"/>
<path fill="#00ff00" d="M592 148h1v1h-1z"/>
<path fill="#000000" d="M589 150h1v1h-1z"/>
<path fill="#ff0000" d="M590 151h2v2h-2z"/>
<path fill="#00ff00" d="M592 152h1v1h-1z"/>
<path fill="#000000" d="M589 154h1v1h-1z"/>
<path fill="#ff0000" d="M590 155h2v2h-2z"/>
<path fill="#00ff00" d="M592 156h1v1h-1z"/>
<path fill="#000000" d="M589 158h1v1h-1z"/>
<path fill="#ff0000" d="M590 159h2v2h-2z"/>
<path fill="#00ff00" d="M592 160h1v1h-1z"/>
<path fill="#000000" d="M589 162h1v1h-1z"/>
<path fill="#ffffff" d="M581 165h12v7h-12z"/>
<path fill="#ff0000" d="M582 166h2v4h-2z"/>
<path fill="#00ff00" d="M584 168h1v1h-1z"/>
<path fill="#ff0000" d="M586 166h2v4h-2z"/>
<path fill="#00ff00" d="M588 168h1v1h-1z"/>
<path fill="#ff0000" d="M590 166h2v4h-2z"/>
<path fill="#00ff00" d="M592 168h1v1h-1z"/>
<path fill="#ffffff" d="M559 169h12v3h-12z"/>
<path fill="#000000" d="M561 170h8v1h-8z"/>
<path fill="#ffffff" d="M572 170h3v1h-3z"/>
<path fill="#00ffff" d="M593 124h7v50h-7z"/>
<path fill="#000000" d="M594 126h4v2h-4zM594 134h4v1h-4zM594 136h4v18h-4zM594 156h4v1h-4zM594 160h4v2h-4z"/>
<path fill="#ffffff" d="M594 141h4v6h-4zM595 170h3v1h-3zM597 172h2v1h-2z"/>
<path fill="#000000" d="M600 126h1v47h-1z"/>
<path fill="#00ffff" d="M601 124h1v50h-1z"/>
<path fill="#ff00ff" d="M306 123h6v1h-6zM306 130h6v1h-6zM306 123h1v8h-1zM311 123h1v8h-1zM306 141h6v1h-6zM306 148h6v1h-6zM306 141h1v8h-1zM311 141h1v8h-1zM306 164h6v1h-6zM306 172h6v1h-6zM306 164h1v9h-1zM311 164h1v9h-1z"/>
<path fill="#cc0033" d="M150 132h1v31h-1zM156 132h1v31h-1zM162 132h1v31h-1zM169 132h1v31h-1zM175 132h1v31h-1zM181 132h1v31h-1zM183 132h1v31h-1zM189 132h1v31h-1zM150 132h40v1h-40zM150 138h40v1h-40zM150 144h40v1h-40zM150 150h40v1h-40zM150 156h40v1h-40zM150 158h40v1h-40zM150 162h40v1h-40z"/>
<path fill="#00ff00" d="M150 128h40v2h-40zM150 127h1v5h-1zM156 127h1v5h-1zM162 127h1v5h-1zM169 127h1v5h-1zM175 127h1v5h-1zM181 127h1v5h-1zM183 127h1v5h-1zM189 127h1v5h-1zM146 132h1v31h-1zM145 132h5v1h-5zM145 138h5v1h-5zM145 144h5v1h-5zM145 150h5v1h-5zM145 156h5v1h-5zM145 158h5v1h-5zM145 162h5v1h-5zM192 132h1v31h-1zM190 132h4v1h-4zM190 138h4v1h-4zM190 144h4v1h-4zM190 150h4v1h-4zM190 156h4v1h-4zM190 158h4v1h-4zM190 162h4v1h-4zM150 165h40v2h-40zM150 163h1v4h-1zM156 163h1v4h-1zM162 163h1v4h-1zM169 163h1v4h-1zM175 163h1v4h-1zM181 163h1v4h-1zM183 163h1v4h-1zM189 163h1v4h-1z"/>
<path fill="#ffffff" d="M149 127h2v1h-2zM149 167h2v1h-2zM155 127h2v1h-2zM155 167h2v1h-2zM161 127h2v1h-2zM161 167h2v1h-2zM168 127h2v1h-2zM168 167h2v1h-2zM174 127h2v1h-2zM174 167h2v1h-2zM180 127h2v1h-2zM180 167h2v1h-2zM182 127h2v1h-2zM182 167h2v1h-2zM188 127h2v1h-2zM188 167h2v1h-2zM144 132h1v1h-1zM194 132h1v1h-1zM144 138h1v1h-1zM194 138h1v1h-1zM144 144h1v1h-1zM194 144h1v1h-1zM144 150h1v1h-1zM194 150h1v1h-1zM144 156h1v1h-1zM194 156h1v1h-1zM144 158h1v1h-1zM194 158h1v1h-1zM144 162h1v1h-1zM194 162h1v1h-1z"/>
<path fill="#ffff00" d="M176 131h1v1h-1zM174 133h1v1h-1z"/>
<path fill="#00ff00" d="M176 133h1v1h-1z"/>
<path fill="#ffff00" d="M176 137h1v1h-1zM174 139h1v1h-1z"/>
<path fill="#00ff00" d="M176 139h1v1h-1z"/>
<path fill="#ffff00" d="M176 143h1v1h-1zM174 145h1v1h-1z"/>
<path fill="#00ff00" d="M176 145h1v1h-1z"/>
<path fill="#ffff00" d="M176 149h1v1h-1zM174 151h1v1h-1z"/>
<path fill="#00ff00" d="M176 151h1v1h-1z"/>
<path fill="#ffff00" d="M176 155h1v1h-1zM174 157h1v1h-1z"/>
<path fill="#00ff00" d="M176 157h1v1h-1z"/>
<path fill="#ffff00" d="M176 157h1v1h-1zM174 159h1v1h-1z"/>
<path fill="#00ff00" d="M176 159h1v1h-1z"/>
<path fill="#ffff00" d="M176 161h1v1h-1zM174 163h1v1h-1z"/>
<path fill="#00ff00" d="M176 163h1v1h-1z"/>
<path fill="#ffff00" d="M182 131h1v1h-1zM180 133h1v1h-1z"/>
<path fill="#00ff00" d="M182 133h1v1h-1z"/>
<path fill="#ffff00" d="M182 137h1v1h-1zM180 139h1v1h-1z"/>
<path fill="#00ff00" d="M182 139h1v1h-1z"/>
<path fill="#ffff00" d="M182 143h1v1h-1zM180 145h1v1h-1z"/>
<path fill="#00ff00" d="M182 145h1v1h-1z"/>
<path fill="#ffff00" d="M182 149h1v1h-1zM180 151h1v1h-1z"/>
<path fill="#00ff00" d="M182 151h1v1h-1z"/>
<path fill="#ffff00" d="M182 155h1v1h-1zM180 157h1v1h-1z"/>
<path fill="#00ff00" d="M182 157h1v1h-1z"/>
<path fill="#ffff00" d="M182 157h1v1h-1zM180 159h1v1h-1z"/>
<path fill="#00ff00" d="M182 159h1v1h-1z"/>
<path fill="#ffff00" d="M182 161h1v1h-1zM180 163h1v1h-1z"/>
<path fill="#00ff00" d="M182 163h1v1h-1z"/>
<path fill="#ffff00" d="M184 131h1v1h-1zM182 133h1v1h-1z"/>
<path fill="#00ff00" d="M184 133h1v1h-1z"/>
<path fill="#ffff00" d="M184 137h1v1h-1zM182 139h1v1h-1z"/>
<path fill="#00ff00" d="M184 139h1v1h-1z"/>
<path fill="#ffff00" d="M184 143h1v1h-1zM182 145h1v1h-1z"/>
<path fill="#00ff00" d="M184 145h1v1h-1z"/>
<path fill="#ffff00" d="M184 149h1v1h-1zM182 151h1v1h-1z"/>
<path fill="#00ff00" d="M184 151h1v1h-1z"/>
<path fill="#ffff00" d="M184 155h1v1h-1zM182 157h1v1h-1z"/>
<path fill="#00ff00" d="M184 157h1v1h-1z"/>
<path fill="#ffff00" d="M184 157h1v1h-1zM182 159h1v1h-1z"/>
<path fill="#00ff00" d="M184 159h1v1h-1z"/>
<path fill="#ffff00" d="M184 161h1v1h-1zM182 163h1v1h-1z"/>
<path fill="#00ff00" d="M184 163h1v1h-1z"/>
<path fill="#ffff00" d="M190 131h1v1h-1zM188 133h1v1h-1z"/>
<path fill="#00ff00" d="M190 133h1v1h-1z"/>
<path fill="#ffff00" d="M190 137h1v1h-1zM188 139h1v1h-1z"/>
<path fill="#00ff00" d="M190 139h1v1h-1z"/>
<path fill="#ffff00" d="M190 143h1v1h-1zM188 145h1v1h-1z"/>
<path fill="#00ff00" d="M190 145h1v1h-1z"/>
<path fill="#ffff00" d="M190 149h1v1h-1zM188 151h1v1h-1z"/>
<path fill="#00ff00" d="M190 151h1v1h-1z"/>
<path fill="#ffff00" d="M190 155h1v1h-1zM188 157h1v1h-1z"/>
<path fill="#00ff00" d="M190 157h1v1h-1z"/>
<path fill="#ffff00" d="M190 157h1v1h-1zM188 159h1v1h-1z"/>
<path fill="#00ff00" d="M190 159h1v1h-1z"/>
<path fill="#ffff00" d="M190 161h1v1h-1zM188 163h1v1h-1z"/>
<path fill="#00ff00" d="M190 163h1v1h-1z"/>
<path fill="#ffff00" d="M151 149h1v1h-1z"/>
<path fill="#00ff00" d="M149 151h1v1h-1z"/>
<path fill="#ffff00" d="M151 155h1v1h-1z"/>
<path fill="#00ff00" d="M149 157h1v1h-1z"/>
<path fill="#ffff00" d="M151 157h1v1h-1z"/>
<path fill="#00ff00" d="M149 159h1v1h-1z"/>
<path fill="#ffff00" d="M151 161h1v1h-1z"/>
<path fill="#00ff00" d="M149 163h1v1h-1z"/>
<path fill="#ffff00" d="M157 149h1v1h-1z"/>
<path fill="#00ff00" d="M155 151h1v1h-1z"/>
<path fill="#ffff00" d="M157 155h1v1h-1z"/>
<path fill="#00ff00" d="M155 157h1v1h-1z"/>
<path fill="#ffff00" d="M157 157h1v1h-1z"/>
<path fill="#00ff00" d="M155 159h1v1h-1z"/>
<path fill="#ffff00" d="M157 161h1v1h-1z"/>
<path fill="#00ff00" d="M155 163h1v1h-1z"/>
<path fill="#ffff00" d="M163 149h1v1h-1z"/>
<path fill="#00ff00" d="M161 151h1v1h-1z"/>
<path fill="#ffff00" d="M163 155h1v1h-1z"/>
<path fill="#00ff00" d="M161 157h1v1h-1z"/>
<path fill="#ffff00" d="M163 157h1v1h-1z"/>
<path fill="#00ff00" d="M161 159h1v1h-1z"/>
<path fill="#ffff00" d="M163 161h1v1h-1z"/>
<path fill="#00ff00" d="M161 163h1v1h-1z"/>
<path fill="#ffff00" d="M170 149h1v1h-1z"/>
<path fill="#00ff00" d="M168 151h1v1h-1z"/>
<path fill="#ffff00" d="M170 155h1v1h-1z"/>
<path fill="#00ff00" d="M168 157h1v1h-1z"/>
<path fill="#ffff00" d="M170 157h1v1h-1z"/>
<path fill="#00ff00" d="M168 159h1v1h-1z"/>
<path fill="#ffff00" d="M170 161h1v1h-1z"/>
<path fill="#00ff00" d="M168 163h1v1h-1z"/>
<path fill="#ff00ff" d="M156 154h4v1h-4zM156 157h4v1h-4zM156 154h1v4h-1zM159 154h1v4h-1z"/>
<path fill="#ffff00" d="M157 155h1v1h-1z"/>
<path fill="#ff00ff" d="M174 148h4v1h-4zM174 151h4v1h-4zM174 148h1v4h-1zM177 148h1v4h-1z"/>
<path fill="#ffff00" d="M175 149h1v1h-1z"/>
<path fill="#ff00ff" d="M174 154h4v1h-4zM174 157h4v1h-4zM174 154h1v4h-1zM177 154h1v4h-1z"/>
<path fill="#ffff00" d="M175 155h1v1h-1z"/>
<path fill="#ffffff" d="M164 169h10v4h-10zM175 170h2v1h-2z"/>
<path fill="#ff0000" d="M204 128h5v2h-5z"/>
<path fill="#ff00ff" d="M203 130h6v2h-6z"/>
<path fill="#ffff00" d="M205 132h1v2h-1zM209 132h1v2h-1zM206 134h3v1h-3z"/>
<path fill="#00ff00" d="M209 128h4v1h-4zM209 129h1v2h-1zM212 129h1v2h-1zM210 131h3v1h-3z"/>
<path fill="#ffffff" d="M211 127h3v1h-3zM205 136h4v1h-4z"/>
<path fill="#00ff00" d="M203 137h2v2h-2zM209 137h3v2h-3zM202 139h2v3h-2z"/>
<path fill="#ffffff" d="M211 139h2v3h-2z"/>
<path fill="#ffff00" d="M206 139h3v3h-3z"/>
<path fill="#ff0000" d="M207 140h1v1h-1z"/>
<path fill="#ffffff" d="M203 142h2v2h-2z"/>
<path fill="#00ff00" d="M209 142h3v2h-3zM205 144h5v1h-5z"/>
<path fill="#ff00ff" d="M201 141h4v1h-4zM201 144h4v1h-4zM201 141h1v4h-1zM204 141h1v4h-1z"/>
<path fill="#ffffff" d="M205 145h5v1h-5zM206 147h4v2h-4zM200 149h2v1h-2z"/>
<path fill="#ff00ff" d="M203 149h2v5h-2z"/>
<path fill="#ffffff" d="M205 150h7v1h-7zM206 151h1v9h-1zM209 151h1v7h-1z"/>
<path fill="#ff0000" d="M207 152h2v2h-2z"/>
<path fill="#00ff00" d="M208 154h3v2h-3zM210 152h2v8h-2z"/>
<path fill="#ffffff" d="M205 156h4v1h-4zM207 158h3v2h-3z"/>
<path fill="#00ff00" d="M201 150h1v17h-1zM201 167h4v1h-4z"/>
<path fill="#ffffff" d="M204 159h2v1h-2zM203 161h3v2h-3zM205 164h2v1h-2z"/>
<path fill="#ff0000" d="M206 162h2v5h-2z"/>
<path fill="#00ff00" d="M206 167h2v1h-2z"/>
<path fill="#ffffff" d="M205 168h4v1h-4zM204 169h13v4h-13zM224 130h9v2h-9zM220 132h22v4h-22zM220 136h16v10h-16z"/>
<path fill="#000000" d="M222 136h10v1h-10z"/>
<path fill="#ffffff" d="M220 146h21v4h-21z"/>
<path fill="#ff00ff" d="M222 148h6v2h-6z"/>
<path fill="#000000" d="M229 148h9v1h-9zM229 150h8v1h-8z"/>
<path fill="#ffffff" d="M220 151h22v12h-22z"/>
<path fill="#000000" d="M220 151h1v1h-1zM220 153h1v1h-1zM220 155h1v1h-1zM220 159h1v1h-1zM232 154h1v1h-1zM238 154h1v1h-1zM228 157h14v1h-14zM236 159h6v3h-6zM224 160h7v1h-7z"/>
<path fill="#ffffff" d="M220 163h7v1h-7z"/>
<path fill="#00ff00" d="M222 166h5v6h-5z"/>
<path fill="#ff0000" d="M223 167h3v4h-3z"/>
<path fill="#ffffff" d="M225 165h3v1h-3zM226 170h3v2h-3z"/>
<path fill="#00ffff" d="M241 124h7v50h-7z"/>
<path fill="#000000" d="M242 126h4v2h-4zM242 134h4v1h-4zM242 136h4v18h-4zM242 156h4v1h-4zM242 160h4v2h-4z"/>
<path fill="#ffffff" d="M243 170h3v1h-3zM245 172h2v1h-2z"/>
<path fill="#000000" d="M248 126h1v47h-1z"/>
<path fill="#00ffff" d="M249 124h1v50h-1z"/>
<path fill="#ffffff" d="M22 116h1v1h-1zM22 117h1v1h-1zM21 118h1v1h-1zM23 118h1v1h-1zM21 119h3v1h-3zM21 120h1v1h-1zM24 120h1v1h-1zM26 116h1v1h-1zM25 117h2v1h-2zM26 118h1v1h-1zM26 119h1v1h-1zM26 120h1v1h-1zM32 116h1v1h-1zM32 117h1v1h-1zM32 118h1v1h-1zM32 119h1v1h-1zM32 120h1v1h-1zM34 117h1v1h-1zM34 119h1v1h-1zM38 116h1v1h-1zM37 117h2v1h-2zM38 118h1v1h-1zM38 119h1v1h-1zM38 120h1v1h-1zM40 116h3v1h-3zM40 117h1v1h-1zM42 117h1v1h-1zM40 118h1v1h-1zM42 118h1v1h-1zM40 119h1v1h-1zM42 119h1v1h-1zM40 120h3v1h-3zM43 116h3v1h-3zM43 117h1v1h-1zM45 117h1v1h-1zM43 118h1v1h-1zM45 118h1v1h-1zM43 119h1v1h-1zM45 119h1v1h-1zM43 120h3v1h-3zM88 116h1v1h-1zM88 117h1v1h-1zM87 118h1v1h-1zM89 118h1v1h-1zM87 119h3v1h-3zM87 120h1v1h-1zM90 120h1v1h-1zM92 116h1v1h-1zM91 117h2v1h-2zM92 118h1v1h-1zM92 119h1v1h-1zM92 120h1v1h-1zM98 116h1v1h-1zM98 117h1v1h-1zM98 118h1v1h-1zM98 119h1v1h-1zM98 120h1v1h-1zM100 117h1v1h-1zM100 119h1v1h-1zM104 116h1v1h-1zM103 117h2v1h-2zM104 118h1v1h-1zM104 119h1v1h-1zM104 120h1v1h-1zM106 116h3v1h-3zM106 117h1v1h-1zM108 117h1v1h-1zM106 118h1v1h-1zM108 118h1v1h-1zM106 119h1v1h-1zM108 119h1v1h-1zM106 120h3v1h-3zM109 116h3v1h-3zM109 117h1v1h-1zM111 117h1v1h-1zM109 118h1v1h-1zM111 118h1v1h-1zM109 119h1v1h-1zM111 119h1v1h-1zM109 120h3v1h-3zM170 116h1v1h-1zM170 117h1v1h-1zM169 118h1v1h-1zM171 118h1v1h-1zM169 119h3v1h-3zM169 120h1v1h-1zM172 120h1v1h-1zM174 116h1v1h-1zM173 117h2v1h-2zM174 118h1v1h-1zM174 119h1v1h-1zM174 120h1v1h-1zM177 117h1v1h-1zM176 118h4v1h-4zM177 119h1v1h-1zM182 116h1v1h-1zM181 117h2v1h-2zM182 118h1v1h-1zM182 119h1v1h-1zM182 120h1v1h-1zM186 116h1v1h-1zM186 117h1v1h-1zM185 118h1v1h-1zM184 119h1v1h-1zM184 120h1v1h-1zM187 116h3v1h-3zM189 117h1v1h-1zM187 118h3v1h-3zM187 119h1v1h-1zM187 120h3v1h-3zM194 116h1v1h-1zM194 117h1v1h-1zM194 118h1v1h-1zM194 119h1v1h-1zM194 120h1v1h-1zM196 117h1v1h-1zM196 119h1v1h-1zM200 116h1v1h-1zM199 117h2v1h-2zM200 118h1v1h-1zM200 119h1v1h-1zM200 120h1v1h-1zM202 116h3v1h-3zM202 117h1v1h-1zM204 117h1v1h-1zM202 118h1v1h-1zM204 118h1v1h-1zM202 119h1v1h-1zM204 119h1v1h-1zM202 120h3v1h-3zM205 116h3v1h-3zM205 117h1v1h-1zM207 117h1v1h-1zM205 118h1v1h-1zM207 118h1v1h-1zM205 119h1v1h-1zM207 119h1v1h-1zM205 120h3v1h-3zM275 116h1v1h-1zM275 117h1v1h-1zM274 118h1v1h-1zM276 118h1v1h-1zM274 119h3v1h-3zM274 120h1v1h-1zM277 120h1v1h-1zM279 116h1v1h-1zM278 117h2v1h-2zM279 118h1v1h-1zM279 119h1v1h-1zM279 120h1v1h-1zM285 116h1v1h-1zM285 117h1v1h-1zM285 118h1v1h-1zM285 119h1v1h-1zM285 120h1v1h-1zM287 117h1v1h-1zM287 119h1v1h-1zM291 116h1v1h-1zM290 117h2v1h-2zM291 118h1v1h-1zM291 119h1v1h-1zM291 120h1v1h-1zM293 116h3v1h-3zM293 117h1v1h-1zM295 117h1v1h-1zM293 118h1v1h-1zM295 118h1v1h-1zM293 119h1v1h-1zM295 119h1v1h-1zM293 120h3v1h-3zM296 116h3v1h-3zM296 117h1v1h-1zM298 117h1v1h-1zM296 118h1v1h-1zM298 118h1v1h-1zM296 119h1v1h-1zM298 119h1v1h-1zM296 120h3v1h-3zM345 116h1v1h-1zM345 117h1v1h-1zM344 118h1v1h-1zM346 118h1v1h-1zM344 119h3v1h-3zM344 120h1v1h-1zM347 120h1v1h-1zM349 116h1v1h-1zM348 117h2v1h-2zM349 118h1v1h-1zM349 119h1v1h-1zM349 120h1v1h-1zM355 116h1v1h-1zM355 117h1v1h-1zM355 118h1v1h-1zM355 119h1v1h-1zM355 120h1v1h-1zM357 117h1v1h-1zM357 119h1v1h-1zM361 116h1v1h-1zM360 117h2v1h-2zM361 118h1v1h-1zM361 119h1v1h-1zM361 120h1v1h-1zM363 116h3v1h-3zM363 117h1v1h-1zM365 117h1v1h-1zM363 118h1v1h-1zM365 118h1v1h-1zM363 119h1v1h-1zM365 119h1v1h-1zM363 120h3v1h-3zM366 116h3v1h-3zM366 117h1v1h-1zM368 117h1v1h-1zM366 118h1v1h-1zM368 118h1v1h-1zM366 119h1v1h-1zM368 119h1v1h-1zM366 120h3v1h-3zM413 116h1v1h-1zM413 117h1v1h-1zM412 118h1v1h-1zM414 118h1v1h-1zM412 119h3v1h-3zM412 120h1v1h-1zM415 120h1v1h-1zM417 116h1v1h-1zM416 117h2v1h-2zM417 118h1v1h-1zM417 119h1v1h-1zM417 120h1v1h-1zM423 116h1v1h-1zM423 117h1v1h-1zM423 118h1v1h-1zM423 119h1v1h-1zM423 120h1v1h-1zM425 117h1v1h-1zM425 119h1v1h-1zM429 116h1v1h-1zM428 117h2v1h-2zM429 118h1v1h-1zM429 119h1v1h-1zM429 120h1v1h-1zM431 116h3v1h-3zM431 117h1v1h-1zM433 117h1v1h-1zM431 118h1v1h-1zM433 118h1v1h-1zM431 119h1v1h-1zM433 119h1v1h-1zM431 120h3v1h-3zM434 116h3v1h-3zM434 117h1v1h-1zM436 117h1v1h-1zM434 118h1v1h-1zM436 118h1v1h-1zM434 119h1v1h-1zM436 119h1v1h-1zM434 120h3v1h-3zM480 116h1v1h-1zM480 117h1v1h-1zM479 118h1v1h-1zM481 118h1v1h-1zM479 119h3v1h-3zM479 120h1v1h-1zM482 120h1v1h-1zM484 116h1v1h-1zM483 117h2v1h-2zM484 118h1v1h-1zM484 119h1v1h-1zM484 120h1v1h-1zM490 116h1v1h-1zM490 117h1v1h-1zM490 118h1v1h-1zM490 119h1v1h-1zM490 120h1v1h-1zM492 117h1v1h-1zM492 119h1v1h-1zM496 116h1v1h-1zM495 117h2v1h-2zM496 118h1v1h-1zM496 119h1v1h-1zM496 120h1v1h-1zM498 116h3v1h-3zM498 117h1v1h-1zM500 117h1v1h-1zM498 118h1v1h-1zM500 118h1v1h-1zM498 119h1v1h-1zM500 119h1v1h-1zM498 120h3v1h-3zM501 116h3v1h-3zM501 117h1v1h-1zM503 117h1v1h-1zM501 118h1v1h-1zM503 118h1v1h-1zM501 119h1v1h-1zM503 119h1v1h-1zM501 120h3v1h-3zM553 116h1v1h-1zM553 117h1v1h-1zM552 118h1v1h-1zM554 118h1v1h-1zM552 119h3v1h-3zM552 120h1v1h-1zM555 120h1v1h-1zM557 116h1v1h-1zM556 117h2v1h-2zM557 118h1v1h-1zM557 119h1v1h-1zM557 120h1v1h-1zM563 116h1v1h-1zM563 117h1v1h-1zM563 118h1v1h-1zM563 119h1v1h-1zM563 120h1v1h-1zM565 117h1v1h-1zM565 119h1v1h-1zM569 116h1v1h-1zM568 117h2v1h-2zM569 118h1v1h-1zM569 119h1v1h-1zM569 120h1v1h-1zM571 116h3v1h-3zM571 117h1v1h-1zM573 117h1v1h-1zM571 118h1v1h-1zM573 118h1v1h-1zM571 119h1v1h-1zM573 119h1v1h-1zM571 120h3v1h-3zM574 116h3v1h-3zM574 117h1v1h-1zM576 117h1v1h-1zM574 118h1v1h-1zM576 118h1v1h-1zM574 119h1v1h-1zM576 119h1v1h-1zM574 120h3v1h-3z"/>
<path fill="#00ffff" d="M2 217h423v2h-423zM2 266h423v2h-423zM2 217h1v51h-1zM4 219h2v47h-2z"/>
<path fill="#cc0033" d="M16 225h1v32h-1zM22 225h1v32h-1zM28 225h1v32h-1zM35 225h1v32h-1zM41 225h1v32h-1zM48 225h1v32h-1zM55 225h1v32h-1zM16 225h40v1h-40zM16 231h40v1h-40zM16 237h40v1h-40zM16 243h40v1h-40zM16 249h40v1h-40zM16 251h40v1h-40zM16 256h40v1h-40z"/>
<path fill="#00ff00" d="M16 219h1v1h-1z"/>
<path fill="#ffffff" d="M16 220h1v1h-1z"/>
<path fill="#00ff00" d="M17 220h1v1h-1zM22 219h1v1h-1z"/>
<path fill="#ffffff" d="M22 220h1v1h-1z"/>
<path fill="#00ff00" d="M23 220h1v1h-1zM28 219h1v1h-1z"/>
<path fill="#ffffff" d="M28 220h1v1h-1z"/>
<path fill="#00ff00" d="M29 220h1v1h-1zM34 219h1v1h-1z"/>
<path fill="#ffffff" d="M34 220h1v1h-1z"/>
<path fill="#00ff00" d="M35 220h1v1h-1zM40 219h1v1h-1z"/>
<path fill="#ffffff" d="M40 220h1v1h-1z"/>
<path fill="#00ff00" d="M41 220h1v1h-1zM46 219h1v1h-1z"/>
<path fill="#ffffff" d="M46 220h1v1h-1z"/>
<path fill="#00ff00" d="M47 220h1v1h-1zM52 219h1v1h-1z"/>
<path fill="#ffffff" d="M52 220h1v1h-1z"/>
<path fill="#00ff00" d="M53 220h1v1h-1zM16 221h40v1h-40z"/>
<path fill="#ffffff" d="M16 222h40v1h-40z"/>
<path fill="#00ff00" d="M16 222h1v1h-1zM19 222h1v1h-1zM22 222h1v1h-1zM25 222h1v1h-1zM28 222h1v1h-1zM31 222h1v1h-1zM34 222h1v1h-1zM37 222h1v1h-1zM40 222h1v1h-1zM43 222h1v1h-1zM46 222h1v1h-1zM49 222h1v1h-1zM52 222h1v1h-1zM55 222h1v1h-1zM16 223h40v2h-40zM12 225h1v32h-1zM13 225h1v32h-1z"/>
<path fill="#ffffff" d="M10 225h1v1h-1zM12 226h1v1h-1zM10 228h1v1h-1zM12 229h1v1h-1zM10 231h1v1h-1zM12 232h1v1h-1zM10 234h1v1h-1zM12 235h1v1h-1zM10 237h1v1h-1zM12 238h1v1h-1zM10 240h1v1h-1zM12 241h1v1h-1zM10 243h1v1h-1zM12 244h1v1h-1zM10 246h1v1h-1zM12 247h1v1h-1zM10 249h1v1h-1zM12 250h1v1h-1zM10 252h1v1h-1zM12 253h1v1h-1zM10 255h1v1h-1zM12 256h1v1h-1z"/>
<path fill="#00ff00" d="M12 225h4v1h-4zM12 231h4v1h-4zM12 237h4v1h-4zM12 243h4v1h-4zM12 249h4v1h-4zM12 251h4v1h-4zM12 256h4v1h-4zM59 225h1v32h-1z"/>
<path fill="#ffffff" d="M60 225h1v1h-1zM60 228h1v1h-1zM60 231h1v1h-1zM60 234h1v1h-1zM60 237h1v1h-1zM60 240h1v1h-1zM60 243h1v1h-1zM60 246h1v1h-1zM60 249h1v1h-1zM60 252h1v1h-1zM60 255h1v1h-1z"/>
<path fill="#00ff00" d="M56 225h4v1h-4zM56 231h4v1h-4zM56 237h4v1h-4zM56 243h4v1h-4zM56 249h4v1h-4zM56 251h4v1h-4zM56 256h4v1h-4zM16 258h40v2h-40z"/>
<path fill="#ffffff" d="M16 258h1v1h-1zM19 258h1v1h-1zM22 258h1v1h-1zM25 258h1v1h-1zM28 258h1v1h-1zM31 258h1v1h-1zM34 258h1v1h-1zM37 258h1v1h-1zM40 258h1v1h-1zM43 258h1v1h-1zM46 258h1v1h-1zM49 258h1v1h-1zM52 258h1v1h-1zM55 258h1v1h-1z"/>
<path fill="#00ff00" d="M16 257h1v4h-1z"/>
<path fill="#ffffff" d="M15 261h2v1h-2z"/>
<path fill="#00ff00" d="M22 257h1v4h-1z"/>
<path fill="#ffffff" d="M21 261h2v1h-2z"/>
<path fill="#00ff00" d="M28 257h1v4h-1z"/>
<path fill="#ffffff" d="M27 261h2v1h-2z"/>
<path fill="#00ff00" d="M35 257h1v4h-1z"/>
<path fill="#ffffff" d="M34 261h2v1h-2z"/>
<path fill="#00ff00" d="M41 257h1v4h-1z"/>
<path fill="#ffffff" d="M40 261h2v1h-2z"/>
<path fill="#00ff00" d="M48 257h1v4h-1z"/>
<path fill="#ffffff" d="M47 261h2v1h-2z"/>
<path fill="#00ff00" d="M55 257h1v4h-1z"/>
<path fill="#ffffff" d="M54 261h2v1h-2z"/>
<path fill="#000000" d="M43 243h1v1h-1zM51 243h1v1h-1zM44 244h1v1h-1zM48 244h1v1h-1zM41 245h1v1h-1zM44 245h1v1h-1zM45 245h1v1h-1zM56 245h1v1h-1zM52 246h1v1h-1zM53 247h1v1h-1zM55 247h1v1h-1zM49 248h1v1h-1zM47 249h1v1h-1zM48 249h1v1h-1zM49 249h1v1h-1zM51 250h1v1h-1zM52 250h1v1h-1zM56 250h1v1h-1zM41 251h1v1h-1zM42 251h1v1h-1zM53 251h1v1h-1zM46 252h1v1h-1zM41 253h1v1h-1zM46 253h1v1h-1zM54 253h1v1h-1zM42 254h1v1h-1zM52 254h1v1h-1zM53 254h1v1h-1zM56 254h1v1h-1zM43 255h1v1h-1zM46 255h1v1h-1zM42 256h1v1h-1zM44 256h1v1h-1zM45 256h1v1h-1zM46 256h1v1h-1zM50 256h1v1h-1zM52 256h1v1h-1zM53 256h1v1h-1z"/>
<path fill="#ff00ff" d="M46 243h1v1h-1zM45 244h1v1h-1zM51 244h1v1h-1zM50 245h1v1h-1zM52 245h1v1h-1zM44 246h1v1h-1zM45 247h1v1h-1zM49 247h1v1h-1zM56 247h1v1h-1zM43 248h1v1h-1zM45 249h1v1h-1zM50 249h1v1h-1zM51 249h1v1h-1zM53 249h1v1h-1zM54 249h1v1h-1zM42 250h1v1h-1zM44 250h1v1h-1zM54 251h1v1h-1zM42 252h1v1h-1zM53 252h1v1h-1zM56 252h1v1h-1zM43 253h1v1h-1zM44 253h1v1h-1zM52 253h1v1h-1zM53 253h1v1h-1zM55 253h1v1h-1zM48 254h1v1h-1zM48 255h1v1h-1zM49 255h1v1h-1z"/>
<path fill="#ffffff" d="M41 243h1v1h-1zM42 243h1v1h-1zM44 243h1v1h-1zM45 243h1v1h-1zM47 243h1v1h-1zM50 243h1v1h-1zM53 243h1v1h-1zM54 243h1v1h-1zM56 243h1v1h-1zM41 244h1v1h-1zM49 244h1v1h-1zM50 244h1v1h-1zM53 244h1v1h-1zM54 244h1v1h-1zM55 244h1v1h-1zM56 244h1v1h-1zM43 245h1v1h-1zM46 245h1v1h-1zM47 245h1v1h-1zM48 245h1v1h-1zM49 245h1v1h-1zM54 245h1v1h-1zM41 246h1v1h-1zM42 246h1v1h-1zM43 246h1v1h-1zM45 246h1v1h-1zM47 246h1v1h-1zM48 246h1v1h-1zM49 246h1v1h-1zM50 246h1v1h-1zM51 246h1v1h-1zM55 246h1v1h-1zM56 246h1v1h-1zM41 247h1v1h-1zM43 247h1v1h-1zM44 247h1v1h-1zM47 247h1v1h-1zM50 247h1v1h-1zM51 247h1v1h-1zM54 247h1v1h-1zM41 248h1v1h-1zM42 248h1v1h-1zM44 248h1v1h-1zM45 248h1v1h-1zM46 248h1v1h-1zM47 248h1v1h-1zM50 248h1v1h-1zM51 248h1v1h-1zM52 248h1v1h-1zM53 248h1v1h-1zM54 248h1v1h-1zM55 248h1v1h-1zM43 249h1v1h-1zM44 249h1v1h-1zM46 249h1v1h-1zM52 249h1v1h-1zM55 249h1v1h-1zM56 249h1v1h-1zM41 250h1v1h-1zM43 250h1v1h-1zM45 250h1v1h-1zM46 250h1v1h-1zM47 250h1v1h-1zM48 250h1v1h-1zM49 250h1v1h-1zM53 250h1v1h-1zM54 250h1v1h-1zM55 250h1v1h-1zM43 251h1v1h-1zM44 251h1v1h-1zM45 251h1v1h-1zM46 251h1v1h-1zM48 251h1v1h-1zM49 251h1v1h-1zM50 251h1v1h-1zM51 251h1v1h-1zM52 251h1v1h-1zM56 251h1v1h-1zM43 252h1v1h-1zM45 252h1v1h-1zM49 252h1v1h-1zM50 252h1v1h-1zM52 252h1v1h-1zM54 252h1v1h-1zM55 252h1v1h-1zM45 253h1v1h-1zM48 253h1v1h-1zM49 253h1v1h-1zM50 253h1v1h-1zM51 253h1v1h-1zM56 253h1v1h-1zM41 254h1v1h-1zM43 254h1v1h-1zM44 254h1v1h-1zM45 254h1v1h-1zM46 254h1v1h-1zM47 254h1v1h-1zM50 254h1v1h-1zM51 254h1v1h-1zM54 254h1v1h-1zM41 255h1v1h-1zM42 255h1v1h-1zM44 255h1v1h-1zM45 255h1v1h-1zM47 255h1v1h-1zM51 255h1v1h-1zM52 255h1v1h-1zM53 255h1v1h-1zM56 255h1v1h-1zM41 256h1v1h-1zM47 256h1v1h-1zM48 256h1v1h-1zM49 256h1v1h-1zM51 256h1v1h-1zM54 256h1v1h-1zM56 256h1v1h-1z"/>
<path fill="#ff00ff" d="M47 242h1v15h-1zM39 231h5v1h-5zM39 235h5v1h-5zM39 231h1v5h-1zM43 231h1v5h-1z"/>
<path fill="#ffff00" d="M40 232h3v3h-3z"/>
<path fill="#ff00ff" d="M39 238h2v2h-2z"/>
<path fill="#ffff00" d="M20 242h4v1h-4zM13 245h1v3h-1z"/>
<path fill="#00ffff" d="M18 245h1v4h-1z"/>
<path fill="#ffff00" d="M25 247h1v3h-1z"/>
<path fill="#00ffff" d="M30 246h1v4h-1zM21 252h1v3h-1z"/>
<path fill="#ffff00" d="M22 255h3v1h-3zM33 252h1v3h-1zM38 248h3v1h-3zM51 236h3v1h-3z"/>
<path fill="#00ffff" d="M52 229h3v1h-3z"/>
<path fill="#ffff00" d="M49 224h3v1h-3z"/>
<path fill="#ffffff" d="M53 229h1v3h-1zM45 227h2v1h-2zM42 225h2v1h-2zM45 233h1v2h-1z"/>
<path fill="#00ffff" d="M41 240h2v1h-2zM36 254h2v2h-2z"/>
<path fill="#ffffff" d="M16 244h3v2h-3zM24 245h3v1h-3zM30 244h2v2h-2zM36 246h2v1h-2zM16 252h2v1h-2zM27 253h3v1h-3zM31 260h14v4h-14z"/>
<path fill="#000000" d="M35 261h6v2h-6z"/>
<path fill="#ff00ff" d="M32 265h13v1h-13z"/>
<path fill="#00ffff" d="M66 217h8v50h-8z"/>
<path fill="#000000" d="M67 219h5v3h-5zM67 227h5v1h-5zM67 229h5v20h-5zM67 250h5v2h-5zM67 253h5v2h-5zM67 257h5v1h-5z"/>
<path fill="#ffffff" d="M67 234h5v2h-5z"/>
<path fill="#ff0000" d="M67 236h5v1h-5z"/>
<path fill="#ffffff" d="M67 237h5v3h-5z"/>
<path fill="#00ff00" d="M67 240h5v1h-5z"/>
<path fill="#ffffff" d="M68 263h3v1h-3zM70 265h2v1h-2z"/>
<path fill="#000000" d="M74 219h1v47h-1z"/>
<path fill="#00ffff" d="M75 217h1v50h-1z"/>
<path fill="#cc0033" d="M84 225h1v32h-1zM90 225h1v32h-1zM96 225h1v32h-1zM102 225h1v32h-1zM109 225h1v32h-1zM117 225h1v32h-1zM123 225h1v32h-1zM84 225h40v1h-40zM84 231h40v1h-40zM84 237h40v1h-40zM84 243h40v1h-40zM84 250h40v1h-40zM84 256h40v1h-40z"/>
<path fill="#00ff00" d="M84 219h1v1h-1z"/>
<path fill="#ffffff" d="M84 220h1v1h-1z"/>
<path fill="#00ff00" d="M85 220h1v1h-1zM90 219h1v1h-1z"/>
<path fill="#ffffff" d="M90 220h1v1h-1z"/>
<path fill="#00ff00" d="M91 220h1v1h-1zM96 219h1v1h-1z"/>
<path fill="#ffffff" d="M96 220h1v1h-1z"/>
<path fill="#00ff00" d="M97 220h1v1h-1zM102 219h1v1h-1z"/>
<path fill="#ffffff" d="M102 220h1v1h-1z"/>
<path fill="#00ff00" d="M103 220h1v1h-1zM108 219h1v1h-1z"/>
<path fill="#ffffff" d="M108 220h1v1h-1z"/>
<path fill="#00ff00" d="M109 220h1v1h-1zM114 219h1v1h-1z"/>
<path fill="#ffffff" d="M114 220h1v1h-1z"/>
<path fill="#00ff00" d="M115 220h1v1h-1zM120 219h1v1h-1z"/>
<path fill="#ffffff" d="M120 220h1v1h-1z"/>
<path fill="#00ff00" d="M121 220h1v1h-1zM84 221h40v1h-40z"/>
<path fill="#ffffff" d="M84 222h40v1h-40z"/>
<path fill="#00ff00" d="M84 222h1v1h-1zM87 222h1v1h-1zM90 222h1v1h-1zM93 222h1v1h-1zM96 222h1v1h-1zM99 222h1v1h-1zM102 222h1v1h-1zM105 222h1v1h-1zM108 222h1v1h-1zM111 222h1v1h-1zM114 222h1v1h-1zM117 222h1v1h-1zM120 222h1v1h-1zM123 222h1v1h-1zM84 223h40v2h-40zM80 225h1v32h-1zM81 225h1v32h-1z"/>
<path fill="#ffffff" d="M78 225h1v1h-1zM80 226h1v1h-1zM78 228h1v1h-1zM80 229h1v1h-1zM78 231h1v1h-1zM80 232h1v1h-1zM78 234h1v1h-1zM80 235h1v1h-1zM78 237h1v1h-1zM80 238h1v1h-1zM78 240h1v1h-1zM80 241h1v1h-1zM78 243h1v1h-1zM80 244h1v1h-1zM78 246h1v1h-1zM80 247h1v1h-1zM78 249h1v1h-1zM80 250h1v1h-1zM78 252h1v1h-1zM80 253h1v1h-1zM78 255h1v1h-1zM80 256h1v1h-1z"/>
<path fill="#00ff00" d="M80 225h4v1h-4zM80 231h4v1h-4zM80 237h4v1h-4zM80 243h4v1h-4zM80 250h4v1h-4zM80 256h4v1h-4zM126 225h1v32h-1z"/>
<path fill="#ffffff" d="M127 225h1v1h-1zM127 228h1v1h-1zM127 231h1v1h-1zM127 234h1v1h-1zM127 237h1v1h-1zM127 240h1v1h-1zM127 243h1v1h-1zM127 246h1v1h-1zM127 249h1v1h-1zM127 252h1v1h-1zM127 255h1v1h-1z"/>
<path fill="#00ff00" d="M124 225h3v1h-3zM124 231h3v1h-3zM124 237h3v1h-3zM124 243h3v1h-3zM124 250h3v1h-3zM124 256h3v1h-3zM84 258h40v2h-40z"/>
<path fill="#ffffff" d="M84 258h1v1h-1zM87 258h1v1h-1zM90 258h1v1h-1zM93 258h1v1h-1zM96 258h1v1h-1zM99 258h1v1h-1zM102 258h1v1h-1zM105 258h1v1h-1zM108 258h1v1h-1zM111 258h1v1h-1zM114 258h1v1h-1zM117 258h1v1h-1zM120 258h1v1h-1zM123 258h1v1h-1z"/>
<path fill="#00ff00" d="M84 257h1v4h-1z"/>
<path fill="#ffffff" d="M83 261h2v1h-2z"/>
<path fill="#00ff00" d="M90 257h1v4h-1z"/>
<path fill="#ffffff" d="M89 261h2v1h-2z"/>
<path fill="#00ff00" d="M96 257h1v4h-1z"/>
<path fill="#ffffff" d="M95 261h2v1h-2z"/>
<path fill="#00ff00" d="M102 257h1v4h-1z"/>
<path fill="#ffffff" d="M101 261h2v1h-2z"/>
<path fill="#00ff00" d="M109 257h1v4h-1z"/>
<path fill="#ffffff" d="M108 261h2v1h-2z"/>
<path fill="#00ff00" d="M117 257h1v4h-1z"/>
<path fill="#ffffff" d="M116 261h2v1h-2z"/>
<path fill="#00ff00" d="M123 257h1v4h-1z"/>
<path fill="#ffffff" d="M122 261h2v1h-2z"/>
<path fill="#000000" d="M110 224h13v19h-13z"/>
<path fill="#cc0033" d="M110 225h13v1h-13z"/>
<path fill="#ffffff" d="M112 226h1v1h-1z"/>
<path fill="#ff0000" d="M112 227h1v1h-1zM113 227h1v1h-1z"/>
<path fill="#cc0033" d="M114 226h1v1h-1z"/>
<path fill="#ffff00" d="M114 227h1v1h-1z"/>
<path fill="#cc0033" d="M115 226h1v1h-1z"/>
<path fill="#ff0000" d="M116 227h1v1h-1z"/>
<path fill="#ffffff" d="M117 226h1v1h-1zM117 227h1v1h-1zM118 226h1v1h-1z"/>
<path fill="#ff0000" d="M118 227h1v1h-1z"/>
<path fill="#ffffff" d="M119 226h1v1h-1zM120 226h1v1h-1zM120 227h1v1h-1zM121 226h1v1h-1zM122 226h1v1h-1z"/>
<path fill="#cc0033" d="M110 228h13v1h-13z"/>
<path fill="#ffffff" d="M112 229h1v1h-1zM112 230h1v1h-1zM113 229h1v1h-1z"/>
<path fill="#ff0000" d="M113 230h1v1h-1z"/>
<path fill="#ffffff" d="M114 230h1v1h-1zM116 230h1v1h-1zM117 229h1v1h-1zM117 230h1v1h-1z"/>
<path fill="#ffff00" d="M118 230h1v1h-1z"/>
<path fill="#ff0000" d="M119 230h1v1h-1z"/>
<path fill="#ffffff" d="M120 230h1v1h-1z"/>
<path fill="#ff0000" d="M121 230h1v1h-1z"/>
<path fill="#ffff00" d="M122 230h1v1h-1z"/>
<path fill="#cc0033" d="M110 231h13v1h-13z"/>
<path fill="#ffff00" d="M112 232h1v1h-1z"/>
<path fill="#ffffff" d="M112 233h1v1h-1z"/>
<path fill="#ffff00" d="M113 232h1v1h-1z"/>
<path fill="#ffffff" d="M114 233h1v1h-1zM115 232h1v1h-1z"/>
<path fill="#ff0000" d="M117 233h1v1h-1z"/>
<path fill="#ffffff" d="M118 232h1v1h-1z"/>
<path fill="#ff0000" d="M119 233h1v1h-1z"/>
<path fill="#ffffff" d="M120 232h1v1h-1z"/>
<path fill="#ffff00" d="M121 232h1v1h-1z"/>
<path fill="#ff0000" d="M122 233h1v1h-1z"/>
<path fill="#cc0033" d="M110 234h13v1h-13z"/>
<path fill="#ffff00" d="M111 236h1v1h-1z"/>
<path fill="#cc0033" d="M112 235h1v1h-1z"/>
<path fill="#ffffff" d="M113 235h1v1h-1z"/>
<path fill="#ff0000" d="M113 236h1v1h-1z"/>
<path fill="#ffffff" d="M114 236h1v1h-1z"/>
<path fill="#cc0033" d="M115 235h1v1h-1z"/>
<path fill="#ffff00" d="M116 235h1v1h-1z"/>
<path fill="#ffffff" d="M117 235h1v1h-1z"/>
<path fill="#ffff00" d="M117 236h1v1h-1z"/>
<path fill="#cc0033" d="M118 235h1v1h-1zM120 235h1v1h-1z"/>
<path fill="#ffffff" d="M121 235h1v1h-1z"/>
<path fill="#ffff00" d="M122 235h1v1h-1z"/>
<path fill="#cc0033" d="M110 237h13v1h-13zM111 238h1v1h-1z"/>
<path fill="#ffff00" d="M113 238h1v1h-1z"/>
<path fill="#cc0033" d="M114 238h1v1h-1z"/>
<path fill="#ffff00" d="M115 238h1v1h-1zM115 239h1v1h-1z"/>
<path fill="#ffffff" d="M117 238h1v1h-1z"/>
<path fill="#ffff00" d="M118 239h1v1h-1z"/>
<path fill="#ffffff" d="M119 238h1v1h-1zM120 238h1v1h-1z"/>
<path fill="#ffff00" d="M121 239h1v1h-1z"/>
<path fill="#ffffff" d="M122 238h1v1h-1z"/>
<path fill="#cc0033" d="M110 240h13v1h-13z"/>
<path fill="#ffffff" d="M111 242h1v1h-1z"/>
<path fill="#ffff00" d="M112 241h1v1h-1z"/>
<path fill="#ffffff" d="M112 242h1v1h-1z"/>
<path fill="#cc0033" d="M113 241h1v1h-1z"/>
<path fill="#ff0000" d="M115 242h1v1h-1z"/>
<path fill="#ffffff" d="M116 241h1v1h-1z"/>
<path fill="#ffff00" d="M116 242h1v1h-1z"/>
<path fill="#ffffff" d="M117 241h1v1h-1z"/>
<path fill="#ffff00" d="M118 242h1v1h-1z"/>
<path fill="#ffffff" d="M122 241h1v1h-1z"/>
<path fill="#cc0033" d="M110 224h1v34h-1zM117 224h1v34h-1zM123 224h1v34h-1z"/>
<path fill="#000000" d="M84 244h39v6h-39zM84 244h1v1h-1zM88 244h1v1h-1zM89 244h1v1h-1zM91 244h1v1h-1zM96 244h1v1h-1zM99 244h1v1h-1zM101 244h1v1h-1zM113 244h1v1h-1zM119 244h1v1h-1zM84 245h1v1h-1zM99 245h1v1h-1zM102 245h1v1h-1zM107 245h1v1h-1zM110 245h1v1h-1zM111 245h1v1h-1zM116 245h1v1h-1zM120 245h1v1h-1zM122 245h1v1h-1zM88 246h1v1h-1zM94 246h1v1h-1zM97 246h1v1h-1zM106 246h1v1h-1zM109 246h1v1h-1zM112 246h1v1h-1zM86 247h1v1h-1zM87 247h1v1h-1zM90 247h1v1h-1zM91 247h1v1h-1zM92 247h1v1h-1zM99 247h1v1h-1zM101 247h1v1h-1zM116 247h1v1h-1zM118 247h1v1h-1zM119 247h1v1h-1zM120 247h1v1h-1zM121 247h1v1h-1zM89 248h1v1h-1zM91 248h1v1h-1zM100 248h1v1h-1zM104 248h1v1h-1zM110 248h1v1h-1zM112 248h1v1h-1zM113 248h1v1h-1zM120 248h1v1h-1zM85 249h1v1h-1zM94 249h1v1h-1zM95 249h1v1h-1zM96 249h1v1h-1zM98 249h1v1h-1zM100 249h1v1h-1zM104 249h1v1h-1zM111 249h1v1h-1zM112 249h1v1h-1zM117 249h1v1h-1zM119 249h1v1h-1z"/>
<path fill="#cc0033" d="M94 244h1v1h-1zM100 244h1v1h-1zM103 244h1v1h-1zM104 244h1v1h-1zM106 244h1v1h-1zM114 244h1v1h-1zM122 244h1v1h-1zM90 245h1v1h-1zM94 245h1v1h-1zM100 245h1v1h-1zM106 245h1v1h-1zM109 245h1v1h-1zM114 245h1v1h-1zM121 245h1v1h-1zM85 246h1v1h-1zM91 246h1v1h-1zM96 246h1v1h-1zM101 246h1v1h-1zM102 246h1v1h-1zM111 246h1v1h-1zM113 246h1v1h-1zM118 246h1v1h-1zM89 247h1v1h-1zM93 247h1v1h-1zM95 247h1v1h-1zM102 247h1v1h-1zM110 247h1v1h-1zM85 248h1v1h-1zM88 248h1v1h-1zM92 248h1v1h-1zM115 248h1v1h-1zM121 248h1v1h-1zM99 249h1v1h-1zM103 249h1v1h-1zM105 249h1v1h-1zM110 249h1v1h-1zM118 249h1v1h-1zM121 249h1v1h-1zM122 249h1v1h-1z"/>
<path fill="#ffff00" d="M87 244h1v1h-1zM93 244h1v1h-1zM102 244h1v1h-1zM115 244h1v1h-1zM116 244h1v1h-1zM121 244h1v1h-1zM87 245h1v1h-1zM95 245h1v1h-1zM119 245h1v1h-1zM86 246h1v1h-1zM87 246h1v1h-1zM90 246h1v1h-1zM105 246h1v1h-1zM107 246h1v1h-1zM116 246h1v1h-1zM100 247h1v1h-1zM103 247h1v1h-1zM104 247h1v1h-1zM106 247h1v1h-1zM122 247h1v1h-1zM84 248h1v1h-1zM86 248h1v1h-1zM94 248h1v1h-1zM101 248h1v1h-1zM92 249h1v1h-1zM101 249h1v1h-1zM102 249h1v1h-1zM114 249h1v1h-1z"/>
<path fill="#ffffff" d="M86 244h1v1h-1zM95 244h1v1h-1zM109 244h1v1h-1zM110 244h1v1h-1zM111 244h1v1h-1zM117 244h1v1h-1zM85 245h1v1h-1zM88 245h1v1h-1zM89 245h1v1h-1zM91 245h1v1h-1zM93 245h1v1h-1zM98 245h1v1h-1zM101 245h1v1h-1zM108 245h1v1h-1zM115 245h1v1h-1zM89 246h1v1h-1zM93 246h1v1h-1zM95 246h1v1h-1zM110 246h1v1h-1zM114 246h1v1h-1zM115 246h1v1h-1zM117 246h1v1h-1zM121 246h1v1h-1zM122 246h1v1h-1zM84 247h1v1h-1zM94 247h1v1h-1zM107 247h1v1h-1zM109 247h1v1h-1zM113 247h1v1h-1zM114 247h1v1h-1zM117 247h1v1h-1zM90 248h1v1h-1zM95 248h1v1h-1zM96 248h1v1h-1zM97 248h1v1h-1zM98 248h1v1h-1zM99 248h1v1h-1zM102 248h1v1h-1zM103 248h1v1h-1zM105 248h1v1h-1zM107 248h1v1h-1zM109 248h1v1h-1zM114 248h1v1h-1zM116 248h1v1h-1zM119 248h1v1h-1zM122 248h1v1h-1zM84 249h1v1h-1zM87 249h1v1h-1zM90 249h1v1h-1zM93 249h1v1h-1zM106 249h1v1h-1zM108 249h1v1h-1zM109 249h1v1h-1zM113 249h1v1h-1z"/>
<path fill="#000000" d="M85 252h38v4h-38z"/>
<path fill="#ffffff" d="M85 253h1v1h-1z"/>
<path fill="#cc0033" d="M86 252h1v1h-1z"/>
<path fill="#00ffff" d="M86 253h1v1h-1zM86 254h1v1h-1z"/>
<path fill="#cc0033" d="M87 252h1v1h-1z"/>
<path fill="#ffff00" d="M87 253h1v1h-1zM87 254h1v1h-1z"/>
<path fill="#cc0033" d="M87 255h1v1h-1z"/>
<path fill="#00ffff" d="M88 253h1v1h-1z"/>
<path fill="#cc0033" d="M88 254h1v1h-1zM88 255h1v1h-1z"/>
<path fill="#ffff00" d="M90 254h1v1h-1z"/>
<path fill="#ffffff" d="M91 252h1v1h-1z"/>
<path fill="#cc0033" d="M91 253h1v1h-1z"/>
<path fill="#000000" d="M91 254h1v1h-1z"/>
<path fill="#00ffff" d="M92 252h1v1h-1zM92 253h1v1h-1z"/>
<path fill="#000000" d="M92 254h1v1h-1z"/>
<path fill="#cc0033" d="M93 252h1v1h-1z"/>
<path fill="#00ffff" d="M93 253h1v1h-1z"/>
<path fill="#ffff00" d="M93 254h1v1h-1z"/>
<path fill="#ffffff" d="M93 255h1v1h-1z"/>
<path fill="#00ffff" d="M94 253h1v1h-1z"/>
<path fill="#ffff00" d="M94 254h1v1h-1z"/>
<path fill="#00ffff" d="M95 254h1v1h-1z"/>
<path fill="#ffffff" d="M96 252h1v1h-1zM96 253h1v1h-1zM96 255h1v1h-1z"/>
<path fill="#00ffff" d="M98 252h1v1h-1z"/>
<path fill="#000000" d="M98 253h1v1h-1zM98 255h1v1h-1zM99 252h1v1h-1z"/>
<path fill="#ffffff" d="M99 253h1v1h-1z"/>
<path fill="#00ffff" d="M99 254h1v1h-1z"/>
<path fill="#000000" d="M100 253h1v1h-1z"/>
<path fill="#ffffff" d="M101 253h1v1h-1z"/>
<path fill="#ffff00" d="M101 255h1v1h-1z"/>
<path fill="#00ffff" d="M102 252h1v1h-1z"/>
<path fill="#cc0033" d="M103 253h1v1h-1z"/>
<path fill="#000000" d="M103 254h1v1h-1z"/>
<path fill="#ffff00" d="M103 255h1v1h-1z"/>
<path fill="#000000" d="M104 252h1v1h-1z"/>
<path fill="#ffffff" d="M104 253h1v1h-1z"/>
<path fill="#cc0033" d="M104 254h1v1h-1z"/>
<path fill="#ffffff" d="M104 255h1v1h-1z"/>
<path fill="#000000" d="M105 252h1v1h-1z"/>
<path fill="#00ffff" d="M105 253h1v1h-1z"/>
<path fill="#ffffff" d="M105 254h1v1h-1zM105 255h1v1h-1zM106 255h1v1h-1zM107 252h1v1h-1z"/>
<path fill="#ffff00" d="M107 253h1v1h-1z"/>
<path fill="#000000" d="M107 254h1v1h-1z"/>
<path fill="#cc0033" d="M107 255h1v1h-1z"/>
<path fill="#ffffff" d="M108 252h1v1h-1z"/>
<path fill="#000000" d="M108 254h1v1h-1z"/>
<path fill="#00ffff" d="M108 255h1v1h-1zM109 252h1v1h-1z"/>
<path fill="#cc0033" d="M109 253h1v1h-1z"/>
<path fill="#000000" d="M110 252h1v1h-1z"/>
<path fill="#ffffff" d="M110 253h1v1h-1z"/>
<path fill="#ffff00" d="M110 255h1v1h-1z"/>
<path fill="#00ffff" d="M111 252h1v1h-1z"/>
<path fill="#000000" d="M111 253h1v1h-1z"/>
<path fill="#00ffff" d="M111 255h1v1h-1z"/>
<path fill="#ffff00" d="M112 252h1v1h-1z"/>
<path fill="#00ffff" d="M112 253h1v1h-1z"/>
<path fill="#cc0033" d="M112 254h1v1h-1z"/>
<path fill="#ffffff" d="M112 255h1v1h-1zM113 252h1v1h-1zM113 254h1v1h-1zM114 252h1v1h-1z"/>
<path fill="#cc0033" d="M114 253h1v1h-1z"/>
<path fill="#00ffff" d="M114 254h1v1h-1z"/>
<path fill="#cc0033" d="M115 252h1v1h-1z"/>
<path fill="#ffffff" d="M115 255h1v1h-1z"/>
<path fill="#cc0033" d="M116 252h1v1h-1z"/>
<path fill="#000000" d="M116 253h1v1h-1z"/>
<path fill="#ffffff" d="M116 255h1v1h-1z"/>
<path fill="#ffff00" d="M117 252h1v1h-1z"/>
<path fill="#cc0033" d="M117 254h1v1h-1z"/>
<path fill="#ffffff" d="M118 254h1v1h-1zM118 255h1v1h-1zM119 253h1v1h-1z"/>
<path fill="#ffff00" d="M119 254h1v1h-1z"/>
<path fill="#cc0033" d="M119 255h1v1h-1z"/>
<path fill="#ffffff" d="M120 254h1v1h-1zM120 255h1v1h-1zM121 253h1v1h-1zM122 252h1v1h-1z"/>
<path fill="#ffff00" d="M122 253h1v1h-1z"/>
<path fill="#cc0033" d="M85 251h1v6h-1zM88 251h1v6h-1zM91 251h1v6h-1zM94 251h1v6h-1zM97 251h1v6h-1zM100 251h1v6h-1zM103 251h1v6h-1zM106 251h1v6h-1zM109 251h1v6h-1zM112 251h1v6h-1zM115 251h1v6h-1zM118 251h1v6h-1zM121 251h1v6h-1zM84 250h40v1h-40zM84 256h40v1h-40z"/>
<path fill="#ff00ff" d="M98 242h9v1h-9zM98 250h9v1h-9zM98 242h1v9h-1zM106 242h1v9h-1z"/>
<path fill="#ffff00" d="M100 244h5v5h-5z"/>
<path fill="#cc0033" d="M101 245h3v3h-3z"/>
<path fill="#ff00ff" d="M82 246h13v1h-13zM82 248h13v1h-13zM82 246h1v3h-1zM94 246h1v3h-1z"/>
<path fill="#cc0033" d="M83 247h11v1h-11z"/>
<path fill="#ff00ff" d="M114 240h4v1h-4zM114 244h4v1h-4zM114 240h1v5h-1zM117 240h1v5h-1z"/>
<path fill="#00ff00" d="M108 222h2v3h-2z"/>
<path fill="#ffffff" d="M96 263h16v3h-16z"/>
<path fill="#ff00ff" d="M97 262h10v1h-10z"/>
<path fill="#ffffff" d="M127 258h6v3h-6z"/>
<path fill="#00ffff" d="M131 257h3v2h-3z"/>
<path fill="#00ff00" d="M130 260h2v4h-2z"/>
<path fill="#ff0000" d="M131 261h1v2h-1z"/>
<path fill="#ffffff" d="M125 265h11v1h-11z"/>
<path fill="#00ff00" d="M133 259h3v1h-3z"/>
<path fill="#00ffff" d="M136 217h8v50h-8z"/>
<path fill="#000000" d="M137 219h5v3h-5zM137 227h5v1h-5zM137 229h5v20h-5zM137 250h5v2h-5zM137 253h5v2h-5zM137 257h5v1h-5z"/>
<path fill="#ffffff" d="M137 234h5v2h-5z"/>
<path fill="#ff0000" d="M137 236h5v1h-5z"/>
<path fill="#ffffff" d="M137 237h5v3h-5z"/>
<path fill="#00ff00" d="M137 240h5v1h-5z"/>
<path fill="#ffffff" d="M138 263h3v1h-3zM140 265h2v1h-2z"/>
<path fill="#000000" d="M144 219h1v47h-1z"/>
<path fill="#00ffff" d="M145 217h1v50h-1z"/>
<path fill="#cc0033" d="M155 226h1v18h-1zM161 226h1v18h-1zM167 226h1v18h-1zM174 226h1v18h-1zM180 226h1v18h-1zM155 226h26v1h-26zM155 232h26v1h-26zM155 238h26v1h-26zM155 243h26v1h-26z"/>
<path fill="#00ff00" d="M155 220h1v1h-1z"/>
<path fill="#ffffff" d="M155 221h1v1h-1z"/>
<path fill="#00ff00" d="M156 221h1v1h-1zM161 220h1v1h-1z"/>
<path fill="#ffffff" d="M161 221h1v1h-1z"/>
<path fill="#00ff00" d="M162 221h1v1h-1zM167 220h1v1h-1z"/>
<path fill="#ffffff" d="M167 221h1v1h-1z"/>
<path fill="#00ff00" d="M168 221h1v1h-1zM173 220h1v1h-1z"/>
<path fill="#ffffff" d="M173 221h1v1h-1z"/>
<path fill="#00ff00" d="M174 221h1v1h-1zM179 220h1v1h-1z"/>
<path fill="#ffffff" d="M179 221h1v1h-1z"/>
<path fill="#00ff00" d="M180 221h1v1h-1zM155 222h26v1h-26z"/>
<path fill="#ffffff" d="M155 223h26v1h-26z"/>
<path fill="#00ff00" d="M155 223h1v1h-1zM158 223h1v1h-1zM161 223h1v1h-1zM164 223h1v1h-1zM167 223h1v1h-1zM170 223h1v1h-1zM173 223h1v1h-1zM176 223h1v1h-1zM179 223h1v1h-1zM155 224h26v2h-26zM152 226h1v18h-1zM153 226h1v18h-1z"/>
<path fill="#ffffff" d="M150 226h1v1h-1zM152 227h1v1h-1zM150 229h1v1h-1zM152 230h1v1h-1zM150 232h1v1h-1zM152 233h1v1h-1zM150 235h1v1h-1zM152 236h1v1h-1zM150 238h1v1h-1zM152 239h1v1h-1zM150 241h1v1h-1zM152 242h1v1h-1z"/>
<path fill="#00ff00" d="M152 226h3v1h-3zM152 232h3v1h-3zM152 238h3v1h-3zM152 243h3v1h-3zM198 226h1v18h-1z"/>
<path fill="#ffffff" d="M199 226h1v1h-1zM199 229h1v1h-1zM199 232h1v1h-1zM199 235h1v1h-1zM199 238h1v1h-1zM199 241h1v1h-1z"/>
<path fill="#00ff00" d="M181 226h18v1h-18zM181 232h18v1h-18zM181 238h18v1h-18zM181 243h18v1h-18zM155 259h26v2h-26z"/>
<path fill="#ffffff" d="M155 259h1v1h-1zM158 259h1v1h-1zM161 259h1v1h-1zM164 259h1v1h-1zM167 259h1v1h-1zM170 259h1v1h-1zM173 259h1v1h-1zM176 259h1v1h-1zM179 259h1v1h-1z"/>
<path fill="#00ff00" d="M155 244h1v18h-1z"/>
<path fill="#ffffff" d="M154 262h2v1h-2z"/>
<path fill="#00ff00" d="M161 244h1v18h-1z"/>
<path fill="#ffffff" d="M160 262h2v1h-2z"/>
<path fill="#00ff00" d="M167 244h1v18h-1z"/>
<path fill="#ffffff" d="M166 262h2v1h-2z"/>
<path fill="#00ff00" d="M174 244h1v18h-1z"/>
<path fill="#ffffff" d="M173 262h2v1h-2z"/>
<path fill="#00ff00" d="M180 244h1v18h-1z"/>
<path fill="#ffffff" d="M179 262h2v1h-2zM181 226h1v1h-1zM183 226h1v1h-1zM184 226h1v1h-1zM185 226h1v1h-1zM186 226h1v1h-1zM188 226h1v1h-1zM189 226h1v1h-1zM190 226h1v1h-1zM191 226h1v1h-1zM192 226h1v1h-1zM194 226h1v1h-1zM195 226h1v1h-1z"/>
<path fill="#ffff00" d="M181 227h1v1h-1z"/>
<path fill="#ffffff" d="M182 227h1v1h-1zM183 227h1v1h-1zM184 227h1v1h-1zM185 227h1v1h-1z"/>
<path fill="#ff0000" d="M187 227h1v1h-1z"/>
<path fill="#ffffff" d="M188 227h1v1h-1zM189 227h1v1h-1z"/>
<path fill="#ff0000" d="M192 227h1v1h-1z"/>
<path fill="#00ffff" d="M193 227h1v1h-1z"/>
<path fill="#ffffff" d="M194 227h1v1h-1z"/>
<path fill="#00ffff" d="M195 227h1v1h-1z"/>
<path fill="#ffffff" d="M181 228h1v1h-1z"/>
<path fill="#ff0000" d="M182 228h1v1h-1z"/>
<path fill="#ffffff" d="M184 228h1v1h-1zM185 228h1v1h-1z"/>
<path fill="#00ffff" d="M187 228h1v1h-1zM189 228h1v1h-1zM191 228h1v1h-1z"/>
<path fill="#ffffff" d="M193 228h1v1h-1z"/>
<path fill="#ff0000" d="M194 228h1v1h-1z"/>
<path fill="#00ffff" d="M195 228h1v1h-1z"/>
<path fill="#ffffff" d="M181 229h1v1h-1zM184 229h1v1h-1zM185 229h1v1h-1zM186 229h1v1h-1z"/>
<path fill="#00ffff" d="M187 229h1v1h-1zM188 229h1v1h-1z"/>
<path fill="#ffff00" d="M189 229h1v1h-1z"/>
<path fill="#ffffff" d="M190 229h1v1h-1zM191 229h1v1h-1zM192 229h1v1h-1zM193 229h1v1h-1z"/>
<path fill="#ff0000" d="M194 229h1v1h-1z"/>
<path fill="#ffffff" d="M181 230h1v1h-1zM182 230h1v1h-1zM183 230h1v1h-1zM184 230h1v1h-1zM185 230h1v1h-1zM186 230h1v1h-1zM188 230h1v1h-1zM190 230h1v1h-1zM191 230h1v1h-1zM192 230h1v1h-1zM193 230h1v1h-1zM194 230h1v1h-1zM181 231h1v1h-1zM185 231h1v1h-1zM189 231h1v1h-1z"/>
<path fill="#ff0000" d="M190 231h1v1h-1z"/>
<path fill="#ffff00" d="M192 231h1v1h-1z"/>
<path fill="#ffffff" d="M193 231h1v1h-1z"/>
<path fill="#ff0000" d="M194 231h1v1h-1z"/>
<path fill="#ffffff" d="M195 231h1v1h-1z"/>
<path fill="#00ffff" d="M181 232h1v1h-1z"/>
<path fill="#ffffff" d="M182 232h1v1h-1zM183 232h1v1h-1z"/>
<path fill="#ffff00" d="M184 232h1v1h-1z"/>
<path fill="#ffffff" d="M185 232h1v1h-1z"/>
<path fill="#00ffff" d="M186 232h1v1h-1z"/>
<path fill="#ffff00" d="M187 232h1v1h-1z"/>
<path fill="#ffffff" d="M189 232h1v1h-1zM192 232h1v1h-1zM193 232h1v1h-1zM194 232h1v1h-1zM195 232h1v1h-1zM181 233h1v1h-1zM183 233h1v1h-1zM184 233h1v1h-1zM185 233h1v1h-1zM186 233h1v1h-1zM187 233h1v1h-1zM189 233h1v1h-1zM193 233h1v1h-1zM181 234h1v1h-1zM182 234h1v1h-1z"/>
<path fill="#ff0000" d="M183 234h1v1h-1z"/>
<path fill="#ffffff" d="M184 234h1v1h-1zM185 234h1v1h-1zM186 234h1v1h-1zM187 234h1v1h-1zM188 234h1v1h-1zM189 234h1v1h-1zM190 234h1v1h-1zM191 234h1v1h-1zM192 234h1v1h-1zM193 234h1v1h-1z"/>
<path fill="#ff0000" d="M194 234h1v1h-1z"/>
<path fill="#ffffff" d="M195 234h1v1h-1zM181 235h1v1h-1zM182 235h1v1h-1z"/>
<path fill="#00ffff" d="M184 235h1v1h-1zM185 235h1v1h-1z"/>
<path fill="#ff0000" d="M186 235h1v1h-1zM187 235h1v1h-1z"/>
<path fill="#ffff00" d="M189 235h1v1h-1z"/>
<path fill="#ff0000" d="M190 235h1v1h-1z"/>
<path fill="#ffffff" d="M191 235h1v1h-1zM192 235h1v1h-1zM193 235h1v1h-1zM194 235h1v1h-1zM195 235h1v1h-1zM181 236h1v1h-1zM182 236h1v1h-1z"/>
<path fill="#ffff00" d="M183 236h1v1h-1z"/>
<path fill="#ffffff" d="M185 236h1v1h-1z"/>
<path fill="#ff0000" d="M187 236h1v1h-1z"/>
<path fill="#ffffff" d="M188 236h1v1h-1zM189 236h1v1h-1zM190 236h1v1h-1zM191 236h1v1h-1zM192 236h1v1h-1zM193 236h1v1h-1z"/>
<path fill="#00ffff" d="M181 237h1v1h-1zM183 237h1v1h-1z"/>
<path fill="#ffffff" d="M185 237h1v1h-1z"/>
<path fill="#00ffff" d="M186 237h1v1h-1z"/>
<path fill="#ffffff" d="M188 237h1v1h-1zM189 237h1v1h-1zM192 237h1v1h-1zM193 237h1v1h-1zM181 238h1v1h-1zM182 238h1v1h-1zM183 238h1v1h-1zM184 238h1v1h-1zM185 238h1v1h-1zM186 238h1v1h-1zM187 238h1v1h-1z"/>
<path fill="#00ffff" d="M188 238h1v1h-1z"/>
<path fill="#ffffff" d="M189 238h1v1h-1z"/>
<path fill="#ffff00" d="M190 238h1v1h-1z"/>
<path fill="#ffffff" d="M191 238h1v1h-1zM192 238h1v1h-1zM193 238h1v1h-1z"/>
<path fill="#00ffff" d="M194 238h1v1h-1z"/>
<path fill="#ffffff" d="M195 238h1v1h-1zM181 239h1v1h-1zM182 239h1v1h-1z"/>
<path fill="#00ffff" d="M183 239h1v1h-1z"/>
<path fill="#ffffff" d="M185 239h1v1h-1zM187 239h1v1h-1zM189 239h1v1h-1zM190 239h1v1h-1z"/>
<path fill="#ffff00" d="M191 239h1v1h-1z"/>
<path fill="#ffffff" d="M193 239h1v1h-1z"/>
<path fill="#ff0000" d="M194 239h1v1h-1z"/>
<path fill="#ffffff" d="M181 240h1v1h-1zM184 240h1v1h-1zM185 240h1v1h-1z"/>
<path fill="#00ffff" d="M186 240h1v1h-1z"/>
<path fill="#ffffff" d="M189 240h1v1h-1zM191 240h1v1h-1zM193 240h1v1h-1zM194 240h1v1h-1zM181 241h1v1h-1z"/>
<path fill="#ff0000" d="M183 241h1v1h-1z"/>
<path fill="#ffffff" d="M185 241h1v1h-1zM187 241h1v1h-1z"/>
<path fill="#00ffff" d="M188 241h1v1h-1z"/>
<path fill="#ffffff" d="M189 241h1v1h-1z"/>
<path fill="#ff0000" d="M190 241h1v1h-1z"/>
<path fill="#ffffff" d="M191 241h1v1h-1z"/>
<path fill="#00ffff" d="M193 241h1v1h-1z"/>
<path fill="#ffffff" d="M194 241h1v1h-1z"/>
<path fill="#00ffff" d="M195 241h1v1h-1z"/>
<path fill="#ffffff" d="M181 242h1v1h-1zM182 242h1v1h-1zM183 242h1v1h-1zM185 242h1v1h-1zM186 242h1v1h-1zM187 242h1v1h-1zM188 242h1v1h-1zM189 242h1v1h-1zM191 242h1v1h-1zM192 242h1v1h-1zM193 242h1v1h-1zM194 242h1v1h-1zM195 242h1v1h-1z"/>
<path fill="#00ffff" d="M181 243h1v1h-1z"/>
<path fill="#ffffff" d="M183 243h1v1h-1z"/>
<path fill="#ff0000" d="M184 243h1v1h-1z"/>
<path fill="#ffffff" d="M185 243h1v1h-1z"/>
<path fill="#ff0000" d="M188 243h1v1h-1z"/>
<path fill="#ffffff" d="M189 243h1v1h-1zM190 243h1v1h-1z"/>
<path fill="#ff0000" d="M191 243h1v1h-1z"/>
<path fill="#ffffff" d="M193 243h1v1h-1z"/>
<path fill="#00ffff" d="M194 243h1v1h-1z"/>
<path fill="#ffffff" d="M195 243h1v1h-1zM156 244h1v1h-1zM157 244h1v1h-1zM158 244h1v1h-1zM159 244h1v1h-1zM160 244h1v1h-1zM161 244h1v1h-1zM162 244h1v1h-1zM163 244h1v1h-1zM164 244h1v1h-1zM165 244h1v1h-1zM166 244h1v1h-1zM167 244h1v1h-1zM169 244h1v1h-1zM170 244h1v1h-1zM171 244h1v1h-1zM172 244h1v1h-1zM173 244h1v1h-1zM174 244h1v1h-1zM177 244h1v1h-1zM178 244h1v1h-1zM179 244h1v1h-1zM180 244h1v1h-1zM182 244h1v1h-1zM183 244h1v1h-1zM184 244h1v1h-1zM185 244h1v1h-1zM186 244h1v1h-1zM187 244h1v1h-1zM188 244h1v1h-1z"/>
<path fill="#ff0000" d="M190 244h1v1h-1z"/>
<path fill="#ffffff" d="M191 244h1v1h-1zM192 244h1v1h-1zM194 244h1v1h-1zM195 244h1v1h-1zM155 245h1v1h-1z"/>
<path fill="#00ffff" d="M156 245h1v1h-1zM157 245h1v1h-1z"/>
<path fill="#ffffff" d="M159 245h1v1h-1zM163 245h1v1h-1zM164 245h1v1h-1zM167 245h1v1h-1zM170 245h1v1h-1zM171 245h1v1h-1z"/>
<path fill="#00ffff" d="M172 245h1v1h-1z"/>
<path fill="#ff0000" d="M173 245h1v1h-1zM174 245h1v1h-1z"/>
<path fill="#ffffff" d="M175 245h1v1h-1z"/>
<path fill="#ff0000" d="M176 245h1v1h-1z"/>
<path fill="#ffffff" d="M177 245h1v1h-1zM178 245h1v1h-1z"/>
<path fill="#00ffff" d="M179 245h1v1h-1z"/>
<path fill="#ffffff" d="M180 245h1v1h-1zM181 245h1v1h-1z"/>
<path fill="#00ffff" d="M182 245h1v1h-1z"/>
<path fill="#ffffff" d="M183 245h1v1h-1zM185 245h1v1h-1zM186 245h1v1h-1z"/>
<path fill="#00ffff" d="M187 245h1v1h-1z"/>
<path fill="#ffff00" d="M189 245h1v1h-1z"/>
<path fill="#ff0000" d="M190 245h1v1h-1z"/>
<path fill="#ffffff" d="M191 245h1v1h-1zM192 245h1v1h-1zM193 245h1v1h-1z"/>
<path fill="#00ffff" d="M195 245h1v1h-1z"/>
<path fill="#ffffff" d="M155 246h1v1h-1z"/>
<path fill="#00ffff" d="M156 246h1v1h-1z"/>
<path fill="#ffffff" d="M158 246h1v1h-1zM159 246h1v1h-1zM161 246h1v1h-1z"/>
<path fill="#ff0000" d="M163 246h1v1h-1z"/>
<path fill="#00ffff" d="M164 246h1v1h-1zM165 246h1v1h-1z"/>
<path fill="#ffffff" d="M167 246h1v1h-1zM168 246h1v1h-1z"/>
<path fill="#00ffff" d="M171 246h1v1h-1z"/>
<path fill="#ffffff" d="M173 246h1v1h-1z"/>
<path fill="#00ffff" d="M174 246h1v1h-1z"/>
<path fill="#ffffff" d="M175 246h1v1h-1zM179 246h1v1h-1zM180 246h1v1h-1zM181 246h1v1h-1z"/>
<path fill="#00ffff" d="M183 246h1v1h-1z"/>
<path fill="#ffffff" d="M185 246h1v1h-1z"/>
<path fill="#ffff00" d="M187 246h1v1h-1z"/>
<path fill="#ff0000" d="M188 246h1v1h-1z"/>
<path fill="#00ffff" d="M190 246h1v1h-1z"/>
<path fill="#ffffff" d="M191 246h1v1h-1z"/>
<path fill="#00ffff" d="M192 246h1v1h-1zM193 246h1v1h-1z"/>
<path fill="#ffffff" d="M194 246h1v1h-1z"/>
<path fill="#00ffff" d="M195 246h1v1h-1z"/>
<path fill="#ffffff" d="M155 247h1v1h-1z"/>
<path fill="#00ffff" d="M156 247h1v1h-1zM158 247h1v1h-1z"/>
<path fill="#ffffff" d="M159 247h1v1h-1zM162 247h1v1h-1zM163 247h1v1h-1zM167 247h1v1h-1z"/>
<path fill="#00ffff" d="M169 247h1v1h-1z"/>
<path fill="#ffffff" d="M171 247h1v1h-1zM172 247h1v1h-1z"/>
<path fill="#ffff00" d="M174 247h1v1h-1z"/>
<path fill="#ffffff" d="M175 247h1v1h-1zM176 247h1v1h-1zM177 247h1v1h-1z"/>
<path fill="#ff0000" d="M178 247h1v1h-1z"/>
<path fill="#ffffff" d="M179 247h1v1h-1zM180 247h1v1h-1zM182 247h1v1h-1zM183 247h1v1h-1z"/>
<path fill="#00ffff" d="M184 247h1v1h-1z"/>
<path fill="#ff0000" d="M186 247h1v1h-1z"/>
<path fill="#ffffff" d="M187 247h1v1h-1zM188 247h1v1h-1zM190 247h1v1h-1zM191 247h1v1h-1z"/>
<path fill="#00ffff" d="M192 247h1v1h-1zM193 247h1v1h-1z"/>
<path fill="#ffffff" d="M195 247h1v1h-1zM155 248h1v1h-1zM156 248h1v1h-1zM157 248h1v1h-1zM158 248h1v1h-1zM159 248h1v1h-1zM160 248h1v1h-1zM161 248h1v1h-1zM162 248h1v1h-1zM163 248h1v1h-1zM164 248h1v1h-1zM165 248h1v1h-1zM167 248h1v1h-1z"/>
<path fill="#ff0000" d="M168 248h1v1h-1z"/>
<path fill="#00ffff" d="M169 248h1v1h-1zM170 248h1v1h-1z"/>
<path fill="#ffffff" d="M171 248h1v1h-1zM172 248h1v1h-1zM173 248h1v1h-1zM174 248h1v1h-1zM176 248h1v1h-1z"/>
<path fill="#ff0000" d="M177 248h1v1h-1z"/>
<path fill="#ffffff" d="M178 248h1v1h-1zM179 248h1v1h-1zM180 248h1v1h-1zM181 248h1v1h-1zM182 248h1v1h-1zM184 248h1v1h-1zM185 248h1v1h-1z"/>
<path fill="#00ffff" d="M186 248h1v1h-1z"/>
<path fill="#ff0000" d="M187 248h1v1h-1z"/>
<path fill="#ffffff" d="M188 248h1v1h-1zM189 248h1v1h-1z"/>
<path fill="#00ffff" d="M190 248h1v1h-1z"/>
<path fill="#ffffff" d="M191 248h1v1h-1zM193 248h1v1h-1zM194 248h1v1h-1zM195 248h1v1h-1zM155 249h1v1h-1zM156 249h1v1h-1z"/>
<path fill="#ffff00" d="M157 249h1v1h-1z"/>
<path fill="#ffffff" d="M158 249h1v1h-1zM159 249h1v1h-1z"/>
<path fill="#00ffff" d="M160 249h1v1h-1z"/>
<path fill="#ffffff" d="M162 249h1v1h-1zM163 249h1v1h-1z"/>
<path fill="#00ffff" d="M166 249h1v1h-1z"/>
<path fill="#ffff00" d="M167 249h1v1h-1z"/>
<path fill="#ffffff" d="M169 249h1v1h-1zM170 249h1v1h-1zM171 249h1v1h-1z"/>
<path fill="#ff0000" d="M172 249h1v1h-1z"/>
<path fill="#00ffff" d="M175 249h1v1h-1z"/>
<path fill="#ffffff" d="M176 249h1v1h-1z"/>
<path fill="#ffff00" d="M178 249h1v1h-1z"/>
<path fill="#ffffff" d="M179 249h1v1h-1zM182 249h1v1h-1zM183 249h1v1h-1zM187 249h1v1h-1z"/>
<path fill="#00ffff" d="M188 249h1v1h-1z"/>
<path fill="#ffffff" d="M190 249h1v1h-1z"/>
<path fill="#00ffff" d="M191 249h1v1h-1z"/>
<path fill="#ffffff" d="M193 249h1v1h-1zM195 249h1v1h-1zM155 250h1v1h-1zM157 250h1v1h-1z"/>
<path fill="#00ffff" d="M158 250h1v1h-1z"/>
<path fill="#ffffff" d="M159 250h1v1h-1zM160 250h1v1h-1zM161 250h1v1h-1z"/>
<path fill="#00ffff" d="M162 250h1v1h-1z"/>
<path fill="#ffffff" d="M163 250h1v1h-1z"/>
<path fill="#ff0000" d="M164 250h1v1h-1zM165 250h1v1h-1z"/>
<path fill="#00ffff" d="M166 250h1v1h-1z"/>
<path fill="#ffff00" d="M167 250h1v1h-1z"/>
<path fill="#ffffff" d="M168 250h1v1h-1zM171 250h1v1h-1zM172 250h1v1h-1zM173 250h1v1h-1zM174 250h1v1h-1zM175 250h1v1h-1z"/>
<path fill="#00ffff" d="M176 250h1v1h-1zM179 250h1v1h-1z"/>
<path fill="#ffffff" d="M180 250h1v1h-1zM182 250h1v1h-1zM183 250h1v1h-1z"/>
<path fill="#00ffff" d="M184 250h1v1h-1z"/>
<path fill="#ffffff" d="M187 250h1v1h-1z"/>
<path fill="#00ffff" d="M188 250h1v1h-1z"/>
<path fill="#ffffff" d="M189 250h1v1h-1zM190 250h1v1h-1zM191 250h1v1h-1zM192 250h1v1h-1z"/>
<path fill="#00ffff" d="M193 250h1v1h-1z"/>
<path fill="#ffffff" d="M195 250h1v1h-1zM155 251h1v1h-1z"/>
<path fill="#00ffff" d="M157 251h1v1h-1z"/>
<path fill="#ffffff" d="M159 251h1v1h-1zM162 251h1v1h-1zM163 251h1v1h-1zM164 251h1v1h-1z"/>
<path fill="#00ffff" d="M165 251h1v1h-1z"/>
<path fill="#ffffff" d="M167 251h1v1h-1zM168 251h1v1h-1zM169 251h1v1h-1zM170 251h1v1h-1z"/>
<path fill="#ff0000" d="M171 251h1v1h-1zM175 251h1v1h-1z"/>
<path fill="#ffffff" d="M179 251h1v1h-1zM181 251h1v1h-1zM183 251h1v1h-1zM185 251h1v1h-1z"/>
<path fill="#ff0000" d="M186 251h1v1h-1z"/>
<path fill="#ffffff" d="M187 251h1v1h-1z"/>
<path fill="#00ffff" d="M188 251h1v1h-1z"/>
<path fill="#ff0000" d="M189 251h1v1h-1z"/>
<path fill="#ffffff" d="M190 251h1v1h-1zM191 251h1v1h-1zM195 251h1v1h-1zM155 252h1v1h-1zM156 252h1v1h-1zM157 252h1v1h-1zM159 252h1v1h-1z"/>
<path fill="#00ffff" d="M160 252h1v1h-1z"/>
<path fill="#ffffff" d="M161 252h1v1h-1zM162 252h1v1h-1z"/>
<path fill="#00ffff" d="M163 252h1v1h-1z"/>
<path fill="#ffffff" d="M164 252h1v1h-1zM165 252h1v1h-1zM166 252h1v1h-1zM167 252h1v1h-1zM169 252h1v1h-1zM170 252h1v1h-1z"/>
<path fill="#00ffff" d="M171 252h1v1h-1z"/>
<path fill="#ffffff" d="M172 252h1v1h-1zM173 252h1v1h-1zM174 252h1v1h-1z"/>
<path fill="#ffff00" d="M175 252h1v1h-1z"/>
<path fill="#ffffff" d="M176 252h1v1h-1zM177 252h1v1h-1zM178 252h1v1h-1zM180 252h1v1h-1zM181 252h1v1h-1zM182 252h1v1h-1zM183 252h1v1h-1zM184 252h1v1h-1zM185 252h1v1h-1zM186 252h1v1h-1zM187 252h1v1h-1zM188 252h1v1h-1zM189 252h1v1h-1zM190 252h1v1h-1zM191 252h1v1h-1zM192 252h1v1h-1zM193 252h1v1h-1z"/>
<path fill="#00ffff" d="M194 252h1v1h-1zM195 252h1v1h-1z"/>
<path fill="#ffffff" d="M155 253h1v1h-1z"/>
<path fill="#00ffff" d="M156 253h1v1h-1z"/>
<path fill="#ffffff" d="M157 253h1v1h-1zM158 253h1v1h-1zM159 253h1v1h-1zM161 253h1v1h-1z"/>
<path fill="#00ffff" d="M162 253h1v1h-1zM163 253h1v1h-1z"/>
<path fill="#ffffff" d="M164 253h1v1h-1zM165 253h1v1h-1z"/>
<path fill="#00ffff" d="M166 253h1v1h-1z"/>
<path fill="#ffffff" d="M167 253h1v1h-1zM171 253h1v1h-1zM172 253h1v1h-1zM173 253h1v1h-1z"/>
<path fill="#00ffff" d="M174 253h1v1h-1z"/>
<path fill="#ffffff" d="M175 253h1v1h-1zM176 253h1v1h-1zM177 253h1v1h-1zM178 253h1v1h-1zM179 253h1v1h-1z"/>
<path fill="#ff0000" d="M180 253h1v1h-1z"/>
<path fill="#00ffff" d="M181 253h1v1h-1z"/>
<path fill="#ffffff" d="M182 253h1v1h-1zM183 253h1v1h-1zM185 253h1v1h-1zM186 253h1v1h-1zM187 253h1v1h-1zM188 253h1v1h-1z"/>
<path fill="#ffff00" d="M190 253h1v1h-1z"/>
<path fill="#ffffff" d="M191 253h1v1h-1z"/>
<path fill="#ffff00" d="M194 253h1v1h-1z"/>
<path fill="#ffffff" d="M195 253h1v1h-1zM155 254h1v1h-1z"/>
<path fill="#00ffff" d="M156 254h1v1h-1z"/>
<path fill="#ffffff" d="M158 254h1v1h-1zM159 254h1v1h-1zM160 254h1v1h-1zM161 254h1v1h-1zM162 254h1v1h-1z"/>
<path fill="#ff0000" d="M163 254h1v1h-1z"/>
<path fill="#ffffff" d="M164 254h1v1h-1z"/>
<path fill="#ff0000" d="M165 254h1v1h-1z"/>
<path fill="#ffffff" d="M167 254h1v1h-1z"/>
<path fill="#00ffff" d="M168 254h1v1h-1z"/>
<path fill="#ffffff" d="M170 254h1v1h-1zM171 254h1v1h-1zM172 254h1v1h-1zM173 254h1v1h-1zM175 254h1v1h-1zM176 254h1v1h-1zM179 254h1v1h-1zM181 254h1v1h-1zM182 254h1v1h-1zM183 254h1v1h-1zM184 254h1v1h-1zM185 254h1v1h-1z"/>
<path fill="#ff0000" d="M187 254h1v1h-1z"/>
<path fill="#ffffff" d="M188 254h1v1h-1z"/>
<path fill="#ff0000" d="M191 254h1v1h-1z"/>
<path fill="#ffffff" d="M192 254h1v1h-1zM193 254h1v1h-1z"/>
<path fill="#ffff00" d="M194 254h1v1h-1z"/>
<path fill="#ffffff" d="M195 254h1v1h-1zM155 255h1v1h-1z"/>
<path fill="#00ffff" d="M156 255h1v1h-1zM157 255h1v1h-1z"/>
<path fill="#ffffff" d="M158 255h1v1h-1zM159 255h1v1h-1z"/>
<path fill="#00ffff" d="M160 255h1v1h-1z"/>
<path fill="#ffffff" d="M161 255h1v1h-1z"/>
<path fill="#00ffff" d="M162 255h1v1h-1zM163 255h1v1h-1z"/>
<path fill="#ffffff" d="M164 255h1v1h-1zM165 255h1v1h-1zM166 255h1v1h-1zM167 255h1v1h-1zM171 255h1v1h-1zM173 255h1v1h-1zM175 255h1v1h-1zM176 255h1v1h-1zM178 255h1v1h-1zM179 255h1v1h-1zM180 255h1v1h-1z"/>
<path fill="#00ffff" d="M181 255h1v1h-1z"/>
<path fill="#ff0000" d="M182 255h1v1h-1z"/>
<path fill="#ffffff" d="M183 255h1v1h-1zM184 255h1v1h-1zM185 255h1v1h-1zM186 255h1v1h-1zM187 255h1v1h-1zM188 255h1v1h-1zM190 255h1v1h-1zM191 255h1v1h-1zM192 255h1v1h-1z"/>
<path fill="#00ffff" d="M194 255h1v1h-1zM195 255h1v1h-1z"/>
<path fill="#ffffff" d="M155 256h1v1h-1z"/>
<path fill="#ffff00" d="M156 256h1v1h-1z"/>
<path fill="#ffffff" d="M157 256h1v1h-1zM158 256h1v1h-1zM159 256h1v1h-1z"/>
<path fill="#00ffff" d="M161 256h1v1h-1z"/>
<path fill="#ffffff" d="M162 256h1v1h-1zM163 256h1v1h-1zM164 256h1v1h-1z"/>
<path fill="#ff0000" d="M165 256h1v1h-1z"/>
<path fill="#ffffff" d="M166 256h1v1h-1zM167 256h1v1h-1zM168 256h1v1h-1zM169 256h1v1h-1zM170 256h1v1h-1zM171 256h1v1h-1zM172 256h1v1h-1zM173 256h1v1h-1zM174 256h1v1h-1zM175 256h1v1h-1zM176 256h1v1h-1zM177 256h1v1h-1zM178 256h1v1h-1zM179 256h1v1h-1zM180 256h1v1h-1zM182 256h1v1h-1zM183 256h1v1h-1zM184 256h1v1h-1zM185 256h1v1h-1zM186 256h1v1h-1zM187 256h1v1h-1zM189 256h1v1h-1zM190 256h1v1h-1zM191 256h1v1h-1zM192 256h1v1h-1zM193 256h1v1h-1zM195 256h1v1h-1zM155 257h1v1h-1z"/>
<path fill="#00ffff" d="M157 257h1v1h-1z"/>
<path fill="#ffffff" d="M159 257h1v1h-1zM161 257h1v1h-1zM163 257h1v1h-1zM166 257h1v1h-1zM167 257h1v1h-1z"/>
<path fill="#00ffff" d="M168 257h1v1h-1z"/>
<path fill="#ffffff" d="M169 257h1v1h-1zM170 257h1v1h-1z"/>
<path fill="#00ffff" d="M171 257h1v1h-1z"/>
<path fill="#ff0000" d="M172 257h1v1h-1z"/>
<path fill="#ffffff" d="M173 257h1v1h-1z"/>
<path fill="#ffff00" d="M174 257h1v1h-1z"/>
<path fill="#ffffff" d="M175 257h1v1h-1zM176 257h1v1h-1zM177 257h1v1h-1zM178 257h1v1h-1zM179 257h1v1h-1zM180 257h1v1h-1z"/>
<path fill="#ffff00" d="M181 257h1v1h-1z"/>
<path fill="#ffffff" d="M182 257h1v1h-1zM183 257h1v1h-1z"/>
<path fill="#ff0000" d="M184 257h1v1h-1z"/>
<path fill="#ffff00" d="M186 257h1v1h-1zM187 257h1v1h-1zM191 257h1v1h-1z"/>
<path fill="#ffffff" d="M192 257h1v1h-1zM193 257h1v1h-1zM194 257h1v1h-1zM195 257h1v1h-1zM155 258h1v1h-1z"/>
<path fill="#ffff00" d="M156 258h1v1h-1z"/>
<path fill="#ffffff" d="M157 258h1v1h-1z"/>
<path fill="#ffff00" d="M159 258h1v1h-1z"/>
<path fill="#00ffff" d="M160 258h1v1h-1z"/>
<path fill="#ffff00" d="M162 258h1v1h-1z"/>
<path fill="#ffffff" d="M163 258h1v1h-1zM167 258h1v1h-1z"/>
<path fill="#ff0000" d="M168 258h1v1h-1z"/>
<path fill="#ffffff" d="M169 258h1v1h-1z"/>
<path fill="#00ffff" d="M170 258h1v1h-1z"/>
<path fill="#ffffff" d="M171 258h1v1h-1z"/>
<path fill="#ffff00" d="M173 258h1v1h-1z"/>
<path fill="#00ffff" d="M174 258h1v1h-1z"/>
<path fill="#ffffff" d="M175 258h1v1h-1z"/>
<path fill="#00ffff" d="M176 258h1v1h-1z"/>
<path fill="#ff0000" d="M177 258h1v1h-1z"/>
<path fill="#00ffff" d="M179 258h1v1h-1z"/>
<path fill="#ffffff" d="M180 258h1v1h-1z"/>
<path fill="#00ffff" d="M183 258h1v1h-1z"/>
<path fill="#ffffff" d="M184 258h1v1h-1zM186 258h1v1h-1z"/>
<path fill="#ffff00" d="M187 258h1v1h-1z"/>
<path fill="#ffffff" d="M191 258h1v1h-1zM193 258h1v1h-1z"/>
<path fill="#ffff00" d="M195 258h1v1h-1z"/>
<path fill="#00ff00" d="M152 226h1v33h-1zM198 226h1v33h-1z"/>
<path fill="#ffffff" d="M150 226h1v1h-1zM199 226h1v1h-1zM150 229h1v1h-1zM199 229h1v1h-1zM150 232h1v1h-1zM199 232h1v1h-1zM150 235h1v1h-1zM199 235h1v1h-1zM150 238h1v1h-1zM199 238h1v1h-1zM150 241h1v1h-1zM199 241h1v1h-1zM150 244h1v1h-1zM199 244h1v1h-1zM150 247h1v1h-1zM199 247h1v1h-1zM150 250h1v1h-1zM199 250h1v1h-1zM150 253h1v1h-1zM199 253h1v1h-1zM150 256h1v1h-1zM199 256h1v1h-1z"/>
<path fill="#00ff00" d="M152 226h2v1h-2zM152 232h2v1h-2zM152 238h2v1h-2zM152 244h2v1h-2zM152 250h2v1h-2zM152 256h2v1h-2zM155 220h1v1h-1z"/>
<path fill="#ffffff" d="M155 221h1v1h-1z"/>
<path fill="#00ff00" d="M156 221h1v1h-1zM161 220h1v1h-1z"/>
<path fill="#ffffff" d="M161 221h1v1h-1z"/>
<path fill="#00ff00" d="M162 221h1v1h-1zM167 220h1v1h-1z"/>
<path fill="#ffffff" d="M167 221h1v1h-1z"/>
<path fill="#00ff00" d="M168 221h1v1h-1zM173 220h1v1h-1z"/>
<path fill="#ffffff" d="M173 221h1v1h-1z"/>
<path fill="#00ff00" d="M174 221h1v1h-1zM179 220h1v1h-1z"/>
<path fill="#ffffff" d="M179 221h1v1h-1z"/>
<path fill="#00ff00" d="M180 221h1v1h-1zM185 220h1v1h-1z"/>
<path fill="#ffffff" d="M185 221h1v1h-1z"/>
<path fill="#00ff00" d="M186 221h1v1h-1zM191 220h1v1h-1z"/>
<path fill="#ffffff" d="M191 221h1v1h-1z"/>
<path fill="#00ff00" d="M192 221h1v1h-1zM155 222h41v1h-41z"/>
<path fill="#ffffff" d="M155 223h41v1h-41z"/>
<path fill="#00ff00" d="M155 223h1v1h-1zM158 223h1v1h-1zM161 223h1v1h-1zM164 223h1v1h-1zM167 223h1v1h-1zM170 223h1v1h-1zM173 223h1v1h-1zM176 223h1v1h-1zM179 223h1v1h-1zM182 223h1v1h-1zM185 223h1v1h-1zM188 223h1v1h-1zM191 223h1v1h-1zM194 223h1v1h-1zM155 224h41v2h-41zM155 259h41v2h-41z"/>
<path fill="#ffffff" d="M155 259h1v1h-1zM158 259h1v1h-1zM161 259h1v1h-1zM164 259h1v1h-1zM167 259h1v1h-1zM170 259h1v1h-1zM173 259h1v1h-1zM176 259h1v1h-1zM179 259h1v1h-1zM182 259h1v1h-1zM185 259h1v1h-1zM188 259h1v1h-1zM191 259h1v1h-1zM194 259h1v1h-1zM155 262h2v1h-2zM161 262h2v1h-2zM167 262h2v1h-2zM173 262h2v1h-2zM179 262h2v1h-2zM185 262h2v1h-2zM191 262h2v1h-2zM168 262h14v3h-14zM183 263h3v1h-3z"/>
<path fill="#00ffff" d="M206 217h8v50h-8z"/>
<path fill="#000000" d="M207 219h5v3h-5zM207 227h5v1h-5zM207 229h5v20h-5zM207 250h5v2h-5zM207 253h5v2h-5zM207 257h5v1h-5z"/>
<path fill="#ffffff" d="M207 234h5v2h-5z"/>
<path fill="#ff0000" d="M207 236h5v1h-5z"/>
<path fill="#ffffff" d="M207 237h5v3h-5z"/>
<path fill="#00ff00" d="M207 240h5v1h-5z"/>
<path fill="#ffffff" d="M208 263h3v1h-3zM210 265h2v1h-2z"/>
<path fill="#000000" d="M214 219h1v47h-1z"/>
<path fill="#00ffff" d="M215 217h1v50h-1z"/>
<path fill="#cc0033" d="M226 224h1v19h-1zM232 224h1v19h-1zM238 224h1v19h-1zM245 224h1v19h-1zM251 224h1v19h-1zM226 224h26v1h-26zM226 230h26v1h-26zM226 236h26v1h-26zM226 242h26v1h-26z"/>
<path fill="#00ff00" d="M226 218h1v1h-1z"/>
<path fill="#ffffff" d="M226 219h1v1h-1z"/>
<path fill="#00ff00" d="M227 219h1v1h-1zM232 218h1v1h-1z"/>
<path fill="#ffffff" d="M232 219h1v1h-1z"/>
<path fill="#00ff00" d="M233 219h1v1h-1zM238 218h1v1h-1z"/>
<path fill="#ffffff" d="M238 219h1v1h-1z"/>
<path fill="#00ff00" d="M239 219h1v1h-1zM244 218h1v1h-1z"/>
<path fill="#ffffff" d="M244 219h1v1h-1z"/>
<path fill="#00ff00" d="M245 219h1v1h-1zM250 218h1v1h-1z"/>
<path fill="#ffffff" d="M250 219h1v1h-1z"/>
<path fill="#00ff00" d="M251 219h1v1h-1zM226 220h26v1h-26z"/>
<path fill="#ffffff" d="M226 221h26v1h-26z"/>
<path fill="#00ff00" d="M226 221h1v1h-1zM229 221h1v1h-1zM232 221h1v1h-1zM235 221h1v1h-1zM238 221h1v1h-1zM241 221h1v1h-1zM244 221h1v1h-1zM247 221h1v1h-1zM250 221h1v1h-1zM226 222h26v2h-26zM223 224h1v19h-1zM224 224h1v19h-1z"/>
<path fill="#ffffff" d="M221 224h1v1h-1zM223 225h1v1h-1zM221 227h1v1h-1zM223 228h1v1h-1zM221 230h1v1h-1zM223 231h1v1h-1zM221 233h1v1h-1zM223 234h1v1h-1zM221 236h1v1h-1zM223 237h1v1h-1zM221 239h1v1h-1zM223 240h1v1h-1zM221 242h1v1h-1zM223 243h1v1h-1z"/>
<path fill="#00ff00" d="M223 224h3v1h-3zM223 230h3v1h-3zM223 236h3v1h-3zM223 242h3v1h-3zM269 224h1v19h-1z"/>
<path fill="#ffffff" d="M270 224h1v1h-1zM270 227h1v1h-1zM270 230h1v1h-1zM270 233h1v1h-1zM270 236h1v1h-1zM270 239h1v1h-1zM270 242h1v1h-1z"/>
<path fill="#00ff00" d="M252 224h18v1h-18zM252 230h18v1h-18zM252 236h18v1h-18zM252 242h18v1h-18zM226 260h26v2h-26z"/>
<path fill="#ffffff" d="M226 260h1v1h-1zM229 260h1v1h-1zM232 260h1v1h-1zM235 260h1v1h-1zM238 260h1v1h-1zM241 260h1v1h-1zM244 260h1v1h-1zM247 260h1v1h-1zM250 260h1v1h-1z"/>
<path fill="#00ff00" d="M226 243h1v20h-1z"/>
<path fill="#ffffff" d="M225 263h2v1h-2z"/>
<path fill="#00ff00" d="M232 243h1v20h-1z"/>
<path fill="#ffffff" d="M231 263h2v1h-2z"/>
<path fill="#00ff00" d="M238 243h1v20h-1z"/>
<path fill="#ffffff" d="M237 263h2v1h-2z"/>
<path fill="#00ff00" d="M245 243h1v20h-1z"/>
<path fill="#ffffff" d="M244 263h2v1h-2z"/>
<path fill="#00ff00" d="M251 243h1v20h-1z"/>
<path fill="#ffffff" d="M250 263h2v1h-2zM252 224h1v1h-1zM253 224h1v1h-1zM254 224h1v1h-1zM255 224h1v1h-1zM256 224h1v1h-1zM257 224h1v1h-1zM258 224h1v1h-1zM259 224h1v1h-1z"/>
<path fill="#00ffff" d="M260 224h1v1h-1z"/>
<path fill="#ffffff" d="M261 224h1v1h-1zM262 224h1v1h-1zM264 224h1v1h-1zM265 224h1v1h-1z"/>
<path fill="#ffff00" d="M252 225h1v1h-1z"/>
<path fill="#ffffff" d="M256 225h1v1h-1z"/>
<path fill="#ffff00" d="M259 225h1v1h-1z"/>
<path fill="#ffffff" d="M260 225h1v1h-1zM261 225h1v1h-1zM262 225h1v1h-1z"/>
<path fill="#ff0000" d="M264 225h1v1h-1z"/>
<path fill="#ffffff" d="M265 225h1v1h-1z"/>
<path fill="#00ffff" d="M252 226h1v1h-1z"/>
<path fill="#ffffff" d="M253 226h1v1h-1z"/>
<path fill="#ffff00" d="M254 226h1v1h-1zM255 226h1v1h-1z"/>
<path fill="#ff0000" d="M256 226h1v1h-1z"/>
<path fill="#ffff00" d="M257 226h1v1h-1z"/>
<path fill="#ff0000" d="M258 226h1v1h-1z"/>
<path fill="#ffffff" d="M259 226h1v1h-1z"/>
<path fill="#ff0000" d="M260 226h1v1h-1z"/>
<path fill="#ffff00" d="M262 226h1v1h-1z"/>
<path fill="#ffffff" d="M263 226h1v1h-1zM264 226h1v1h-1zM266 226h1v1h-1zM252 227h1v1h-1z"/>
<path fill="#ffff00" d="M253 227h1v1h-1z"/>
<path fill="#ffffff" d="M254 227h1v1h-1zM255 227h1v1h-1zM256 227h1v1h-1z"/>
<path fill="#00ffff" d="M257 227h1v1h-1z"/>
<path fill="#ffffff" d="M258 227h1v1h-1zM259 227h1v1h-1zM260 227h1v1h-1zM261 227h1v1h-1z"/>
<path fill="#ffff00" d="M262 227h1v1h-1z"/>
<path fill="#ffffff" d="M264 227h1v1h-1z"/>
<path fill="#00ffff" d="M265 227h1v1h-1z"/>
<path fill="#ffffff" d="M252 228h1v1h-1zM253 228h1v1h-1zM255 228h1v1h-1zM256 228h1v1h-1zM257 228h1v1h-1zM258 228h1v1h-1zM259 228h1v1h-1zM260 228h1v1h-1zM261 228h1v1h-1zM262 228h1v1h-1zM263 228h1v1h-1zM265 228h1v1h-1zM266 228h1v1h-1z"/>
<path fill="#ffff00" d="M252 229h1v1h-1z"/>
<path fill="#ffffff" d="M254 229h1v1h-1zM255 229h1v1h-1zM256 229h1v1h-1z"/>
<path fill="#ffff00" d="M257 229h1v1h-1zM259 229h1v1h-1z"/>
<path fill="#ffffff" d="M260 229h1v1h-1z"/>
<path fill="#ff0000" d="M262 229h1v1h-1z"/>
<path fill="#ffff00" d="M263 229h1v1h-1z"/>
<path fill="#ffffff" d="M264 229h1v1h-1zM265 229h1v1h-1z"/>
<path fill="#00ffff" d="M266 229h1v1h-1zM252 230h1v1h-1zM254 230h1v1h-1z"/>
<path fill="#ffffff" d="M255 230h1v1h-1zM256 230h1v1h-1zM257 230h1v1h-1zM258 230h1v1h-1z"/>
<path fill="#ffff00" d="M259 230h1v1h-1z"/>
<path fill="#ffffff" d="M260 230h1v1h-1zM263 230h1v1h-1zM264 230h1v1h-1zM252 231h1v1h-1z"/>
<path fill="#ffff00" d="M255 231h1v1h-1z"/>
<path fill="#ffffff" d="M256 231h1v1h-1zM258 231h1v1h-1zM260 231h1v1h-1zM262 231h1v1h-1zM264 231h1v1h-1zM265 231h1v1h-1zM252 232h1v1h-1zM253 232h1v1h-1z"/>
<path fill="#ffff00" d="M254 232h1v1h-1z"/>
<path fill="#ffffff" d="M255 232h1v1h-1zM256 232h1v1h-1zM257 232h1v1h-1zM258 232h1v1h-1z"/>
<path fill="#ffff00" d="M259 232h1v1h-1z"/>
<path fill="#ffffff" d="M260 232h1v1h-1zM262 232h1v1h-1zM263 232h1v1h-1zM266 232h1v1h-1zM252 233h1v1h-1zM253 233h1v1h-1zM254 233h1v1h-1z"/>
<path fill="#ffff00" d="M255 233h1v1h-1z"/>
<path fill="#ffffff" d="M256 233h1v1h-1z"/>
<path fill="#ffff00" d="M257 233h1v1h-1z"/>
<path fill="#00ffff" d="M259 233h1v1h-1z"/>
<path fill="#ffffff" d="M260 233h1v1h-1zM261 233h1v1h-1zM264 233h1v1h-1z"/>
<path fill="#ff0000" d="M266 233h1v1h-1z"/>
<path fill="#ffffff" d="M252 234h1v1h-1zM253 234h1v1h-1z"/>
<path fill="#ff0000" d="M256 234h1v1h-1z"/>
<path fill="#00ffff" d="M259 234h1v1h-1z"/>
<path fill="#ffffff" d="M260 234h1v1h-1zM261 234h1v1h-1zM264 234h1v1h-1zM265 234h1v1h-1zM266 234h1v1h-1zM252 235h1v1h-1z"/>
<path fill="#ffff00" d="M254 235h1v1h-1z"/>
<path fill="#00ffff" d="M256 235h1v1h-1z"/>
<path fill="#ffffff" d="M257 235h1v1h-1zM258 235h1v1h-1zM260 235h1v1h-1zM262 235h1v1h-1z"/>
<path fill="#00ffff" d="M264 235h1v1h-1z"/>
<path fill="#ffffff" d="M265 235h1v1h-1zM266 235h1v1h-1zM252 236h1v1h-1zM253 236h1v1h-1zM254 236h1v1h-1zM255 236h1v1h-1zM256 236h1v1h-1zM258 236h1v1h-1zM259 236h1v1h-1zM260 236h1v1h-1zM261 236h1v1h-1zM262 236h1v1h-1zM263 236h1v1h-1z"/>
<path fill="#ff0000" d="M264 236h1v1h-1z"/>
<path fill="#ffffff" d="M265 236h1v1h-1z"/>
<path fill="#ffff00" d="M266 236h1v1h-1z"/>
<path fill="#ffffff" d="M252 237h1v1h-1zM254 237h1v1h-1zM256 237h1v1h-1zM257 237h1v1h-1z"/>
<path fill="#ffff00" d="M258 237h1v1h-1z"/>
<path fill="#ff0000" d="M260 237h1v1h-1z"/>
<path fill="#ffffff" d="M261 237h1v1h-1zM262 237h1v1h-1z"/>
<path fill="#00ffff" d="M263 237h1v1h-1z"/>
<path fill="#ffff00" d="M264 237h1v1h-1z"/>
<path fill="#ffffff" d="M265 237h1v1h-1z"/>
<path fill="#00ffff" d="M266 237h1v1h-1z"/>
<path fill="#ffffff" d="M252 238h1v1h-1zM253 238h1v1h-1zM254 238h1v1h-1zM255 238h1v1h-1zM256 238h1v1h-1zM260 238h1v1h-1zM261 238h1v1h-1zM262 238h1v1h-1zM264 238h1v1h-1zM265 238h1v1h-1zM252 239h1v1h-1z"/>
<path fill="#ffff00" d="M253 239h1v1h-1z"/>
<path fill="#ffffff" d="M254 239h1v1h-1z"/>
<path fill="#ff0000" d="M255 239h1v1h-1z"/>
<path fill="#ffffff" d="M256 239h1v1h-1z"/>
<path fill="#ffff00" d="M257 239h1v1h-1z"/>
<path fill="#00ffff" d="M258 239h1v1h-1z"/>
<path fill="#ffffff" d="M259 239h1v1h-1zM260 239h1v1h-1zM261 239h1v1h-1zM262 239h1v1h-1zM263 239h1v1h-1zM264 239h1v1h-1z"/>
<path fill="#ffff00" d="M265 239h1v1h-1z"/>
<path fill="#ffffff" d="M252 240h1v1h-1zM253 240h1v1h-1zM254 240h1v1h-1zM255 240h1v1h-1zM256 240h1v1h-1zM257 240h1v1h-1zM258 240h1v1h-1zM259 240h1v1h-1zM260 240h1v1h-1z"/>
<path fill="#ffff00" d="M261 240h1v1h-1z"/>
<path fill="#ffffff" d="M262 240h1v1h-1zM263 240h1v1h-1zM264 240h1v1h-1zM265 240h1v1h-1zM266 240h1v1h-1zM252 241h1v1h-1z"/>
<path fill="#ff0000" d="M253 241h1v1h-1z"/>
<path fill="#ffffff" d="M254 241h1v1h-1zM256 241h1v1h-1z"/>
<path fill="#ff0000" d="M258 241h1v1h-1z"/>
<path fill="#ffff00" d="M259 241h1v1h-1z"/>
<path fill="#ffffff" d="M260 241h1v1h-1zM261 241h1v1h-1zM263 241h1v1h-1zM264 241h1v1h-1zM252 242h1v1h-1z"/>
<path fill="#ffff00" d="M253 242h1v1h-1zM254 242h1v1h-1z"/>
<path fill="#ffffff" d="M255 242h1v1h-1zM256 242h1v1h-1zM257 242h1v1h-1z"/>
<path fill="#ff0000" d="M258 242h1v1h-1z"/>
<path fill="#ffffff" d="M260 242h1v1h-1zM261 242h1v1h-1zM262 242h1v1h-1z"/>
<path fill="#ffff00" d="M263 242h1v1h-1z"/>
<path fill="#ffffff" d="M264 242h1v1h-1zM265 242h1v1h-1z"/>
<path fill="#00ffff" d="M266 242h1v1h-1z"/>
<path fill="#ffffff" d="M226 243h1v1h-1zM227 243h1v1h-1zM228 243h1v1h-1zM229 243h1v1h-1z"/>
<path fill="#ffff00" d="M230 243h1v1h-1zM231 243h1v1h-1z"/>
<path fill="#00ffff" d="M232 243h1v1h-1z"/>
<path fill="#ffffff" d="M233 243h1v1h-1zM234 243h1v1h-1zM235 243h1v1h-1zM236 243h1v1h-1z"/>
<path fill="#00ffff" d="M237 243h1v1h-1z"/>
<path fill="#ffffff" d="M238 243h1v1h-1zM239 243h1v1h-1zM240 243h1v1h-1zM241 243h1v1h-1zM242 243h1v1h-1zM243 243h1v1h-1zM244 243h1v1h-1zM245 243h1v1h-1zM246 243h1v1h-1zM247 243h1v1h-1zM248 243h1v1h-1zM249 243h1v1h-1zM250 243h1v1h-1zM251 243h1v1h-1zM252 243h1v1h-1zM253 243h1v1h-1z"/>
<path fill="#ffff00" d="M254 243h1v1h-1z"/>
<path fill="#ffffff" d="M255 243h1v1h-1zM256 243h1v1h-1zM257 243h1v1h-1zM258 243h1v1h-1zM259 243h1v1h-1z"/>
<path fill="#ffff00" d="M260 243h1v1h-1z"/>
<path fill="#ffffff" d="M261 243h1v1h-1zM262 243h1v1h-1zM263 243h1v1h-1zM264 243h1v1h-1zM265 243h1v1h-1zM266 243h1v1h-1z"/>
<path fill="#ffff00" d="M226 244h1v1h-1z"/>
<path fill="#ffffff" d="M227 244h1v1h-1zM228 244h1v1h-1zM229 244h1v1h-1zM230 244h1v1h-1z"/>
<path fill="#00ffff" d="M232 244h1v1h-1z"/>
<path fill="#ffffff" d="M234 244h1v1h-1zM235 244h1v1h-1z"/>
<path fill="#ffff00" d="M236 244h1v1h-1z"/>
<path fill="#ffffff" d="M238 244h1v1h-1z"/>
<path fill="#ffff00" d="M239 244h1v1h-1zM240 244h1v1h-1zM241 244h1v1h-1z"/>
<path fill="#ffffff" d="M242 244h1v1h-1zM243 244h1v1h-1z"/>
<path fill="#ff0000" d="M244 244h1v1h-1z"/>
<path fill="#ffff00" d="M245 244h1v1h-1z"/>
<path fill="#ffffff" d="M246 244h1v1h-1zM248 244h1v1h-1z"/>
<path fill="#ffff00" d="M249 244h1v1h-1z"/>
<path fill="#ffffff" d="M250 244h1v1h-1zM252 244h1v1h-1z"/>
<path fill="#ffff00" d="M254 244h1v1h-1z"/>
<path fill="#ffffff" d="M255 244h1v1h-1z"/>
<path fill="#00ffff" d="M256 244h1v1h-1z"/>
<path fill="#ffff00" d="M257 244h1v1h-1z"/>
<path fill="#ffffff" d="M258 244h1v1h-1zM260 244h1v1h-1z"/>
<path fill="#ffff00" d="M261 244h1v1h-1z"/>
<path fill="#ffffff" d="M262 244h1v1h-1z"/>
<path fill="#ffff00" d="M263 244h1v1h-1z"/>
<path fill="#ffffff" d="M264 244h1v1h-1zM266 244h1v1h-1z"/>
<path fill="#ffff00" d="M226 245h1v1h-1z"/>
<path fill="#ffffff" d="M229 245h1v1h-1zM230 245h1v1h-1zM231 245h1v1h-1zM232 245h1v1h-1zM233 245h1v1h-1zM234 245h1v1h-1zM235 245h1v1h-1z"/>
<path fill="#ff0000" d="M236 245h1v1h-1z"/>
<path fill="#ffffff" d="M238 245h1v1h-1z"/>
<path fill="#ff0000" d="M239 245h1v1h-1z"/>
<path fill="#ffffff" d="M240 245h1v1h-1z"/>
<path fill="#ffff00" d="M241 245h1v1h-1z"/>
<path fill="#ffffff" d="M242 245h1v1h-1z"/>
<path fill="#ffff00" d="M243 245h1v1h-1z"/>
<path fill="#ffffff" d="M246 245h1v1h-1z"/>
<path fill="#ffff00" d="M247 245h1v1h-1z"/>
<path fill="#ffffff" d="M250 245h1v1h-1zM254 245h1v1h-1z"/>
<path fill="#ffff00" d="M255 245h1v1h-1z"/>
<path fill="#00ffff" d="M257 245h1v1h-1z"/>
<path fill="#ffffff" d="M258 245h1v1h-1zM259 245h1v1h-1zM260 245h1v1h-1zM262 245h1v1h-1zM263 245h1v1h-1z"/>
<path fill="#00ffff" d="M266 245h1v1h-1zM226 246h1v1h-1z"/>
<path fill="#ffffff" d="M227 246h1v1h-1zM228 246h1v1h-1zM229 246h1v1h-1zM230 246h1v1h-1zM231 246h1v1h-1zM232 246h1v1h-1z"/>
<path fill="#ffff00" d="M233 246h1v1h-1z"/>
<path fill="#ffffff" d="M234 246h1v1h-1zM235 246h1v1h-1zM236 246h1v1h-1zM238 246h1v1h-1zM240 246h1v1h-1zM241 246h1v1h-1zM242 246h1v1h-1z"/>
<path fill="#00ffff" d="M243 246h1v1h-1z"/>
<path fill="#ffffff" d="M244 246h1v1h-1z"/>
<path fill="#ffff00" d="M245 246h1v1h-1z"/>
<path fill="#ffffff" d="M246 246h1v1h-1z"/>
<path fill="#ffff00" d="M249 246h1v1h-1z"/>
<path fill="#ffffff" d="M250 246h1v1h-1z"/>
<path fill="#ff0000" d="M251 246h1v1h-1zM252 246h1v1h-1z"/>
<path fill="#00ffff" d="M253 246h1v1h-1z"/>
<path fill="#ffff00" d="M254 246h1v1h-1z"/>
<path fill="#ffffff" d="M255 246h1v1h-1zM258 246h1v1h-1zM259 246h1v1h-1zM261 246h1v1h-1zM262 246h1v1h-1zM266 246h1v1h-1zM226 247h1v1h-1zM227 247h1v1h-1zM228 247h1v1h-1zM229 247h1v1h-1zM230 247h1v1h-1zM232 247h1v1h-1zM233 247h1v1h-1zM234 247h1v1h-1zM235 247h1v1h-1z"/>
<path fill="#00ffff" d="M239 247h1v1h-1z"/>
<path fill="#ffffff" d="M240 247h1v1h-1zM241 247h1v1h-1zM242 247h1v1h-1zM243 247h1v1h-1zM244 247h1v1h-1zM245 247h1v1h-1z"/>
<path fill="#ff0000" d="M246 247h1v1h-1z"/>
<path fill="#ffffff" d="M247 247h1v1h-1zM248 247h1v1h-1zM249 247h1v1h-1zM251 247h1v1h-1zM252 247h1v1h-1zM253 247h1v1h-1zM254 247h1v1h-1zM255 247h1v1h-1zM256 247h1v1h-1z"/>
<path fill="#ff0000" d="M257 247h1v1h-1z"/>
<path fill="#ffffff" d="M258 247h1v1h-1zM259 247h1v1h-1zM260 247h1v1h-1zM261 247h1v1h-1zM262 247h1v1h-1zM263 247h1v1h-1zM264 247h1v1h-1zM265 247h1v1h-1zM266 247h1v1h-1zM226 248h1v1h-1zM230 248h1v1h-1z"/>
<path fill="#00ffff" d="M231 248h1v1h-1z"/>
<path fill="#ffffff" d="M233 248h1v1h-1zM234 248h1v1h-1zM235 248h1v1h-1z"/>
<path fill="#ff0000" d="M236 248h1v1h-1z"/>
<path fill="#ffffff" d="M237 248h1v1h-1z"/>
<path fill="#ffff00" d="M238 248h1v1h-1z"/>
<path fill="#ffffff" d="M239 248h1v1h-1zM240 248h1v1h-1zM242 248h1v1h-1zM244 248h1v1h-1zM245 248h1v1h-1zM246 248h1v1h-1z"/>
<path fill="#ffff00" d="M247 248h1v1h-1z"/>
<path fill="#ff0000" d="M249 248h1v1h-1z"/>
<path fill="#ffffff" d="M250 248h1v1h-1z"/>
<path fill="#00ffff" d="M253 248h1v1h-1z"/>
<path fill="#ffffff" d="M254 248h1v1h-1zM256 248h1v1h-1zM257 248h1v1h-1zM258 248h1v1h-1z"/>
<path fill="#00ffff" d="M261 248h1v1h-1z"/>
<path fill="#ffff00" d="M262 248h1v1h-1z"/>
<path fill="#ffffff" d="M264 248h1v1h-1zM266 248h1v1h-1zM226 249h1v1h-1z"/>
<path fill="#ff0000" d="M227 249h1v1h-1z"/>
<path fill="#ffffff" d="M230 249h1v1h-1z"/>
<path fill="#ffff00" d="M231 249h1v1h-1z"/>
<path fill="#ffffff" d="M234 249h1v1h-1z"/>
<path fill="#ffff00" d="M236 249h1v1h-1z"/>
<path fill="#ffffff" d="M238 249h1v1h-1zM239 249h1v1h-1zM240 249h1v1h-1zM241 249h1v1h-1z"/>
<path fill="#ffff00" d="M242 249h1v1h-1z"/>
<path fill="#ffffff" d="M246 249h1v1h-1zM248 249h1v1h-1z"/>
<path fill="#ffff00" d="M249 249h1v1h-1zM250 249h1v1h-1z"/>
<path fill="#ffffff" d="M251 249h1v1h-1zM252 249h1v1h-1z"/>
<path fill="#ff0000" d="M253 249h1v1h-1z"/>
<path fill="#ffffff" d="M254 249h1v1h-1zM255 249h1v1h-1zM257 249h1v1h-1zM258 249h1v1h-1zM260 249h1v1h-1zM262 249h1v1h-1zM263 249h1v1h-1z"/>
<path fill="#00ffff" d="M264 249h1v1h-1z"/>
<path fill="#ffff00" d="M265 249h1v1h-1z"/>
<path fill="#ffffff" d="M266 249h1v1h-1zM226 250h1v1h-1zM228 250h1v1h-1z"/>
<path fill="#ffff00" d="M229 250h1v1h-1z"/>
<path fill="#ffffff" d="M230 250h1v1h-1z"/>
<path fill="#ff0000" d="M231 250h1v1h-1zM232 250h1v1h-1z"/>
<path fill="#ffffff" d="M233 250h1v1h-1zM234 250h1v1h-1z"/>
<path fill="#ffff00" d="M236 250h1v1h-1z"/>
<path fill="#ffffff" d="M237 250h1v1h-1zM238 250h1v1h-1zM240 250h1v1h-1z"/>
<path fill="#ffff00" d="M242 250h1v1h-1z"/>
<path fill="#ffffff" d="M243 250h1v1h-1zM246 250h1v1h-1z"/>
<path fill="#00ffff" d="M248 250h1v1h-1z"/>
<path fill="#ffff00" d="M249 250h1v1h-1z"/>
<path fill="#ffffff" d="M250 250h1v1h-1zM254 250h1v1h-1zM257 250h1v1h-1zM258 250h1v1h-1z"/>
<path fill="#00ffff" d="M262 250h1v1h-1z"/>
<path fill="#ff0000" d="M263 250h1v1h-1z"/>
<path fill="#00ffff" d="M266 250h1v1h-1z"/>
<path fill="#ffffff" d="M226 251h1v1h-1zM227 251h1v1h-1z"/>
<path fill="#00ffff" d="M228 251h1v1h-1z"/>
<path fill="#ffffff" d="M229 251h1v1h-1zM230 251h1v1h-1zM231 251h1v1h-1zM232 251h1v1h-1zM233 251h1v1h-1zM234 251h1v1h-1zM235 251h1v1h-1zM236 251h1v1h-1zM237 251h1v1h-1zM238 251h1v1h-1zM240 251h1v1h-1z"/>
<path fill="#00ffff" d="M241 251h1v1h-1z"/>
<path fill="#ffffff" d="M242 251h1v1h-1z"/>
<path fill="#ffff00" d="M243 251h1v1h-1z"/>
<path fill="#ffffff" d="M244 251h1v1h-1zM245 251h1v1h-1zM246 251h1v1h-1zM247 251h1v1h-1zM249 251h1v1h-1zM250 251h1v1h-1zM251 251h1v1h-1zM252 251h1v1h-1zM253 251h1v1h-1zM254 251h1v1h-1zM255 251h1v1h-1zM256 251h1v1h-1zM257 251h1v1h-1zM258 251h1v1h-1zM259 251h1v1h-1zM260 251h1v1h-1zM261 251h1v1h-1zM262 251h1v1h-1zM263 251h1v1h-1zM264 251h1v1h-1zM265 251h1v1h-1zM266 251h1v1h-1z"/>
<path fill="#ffff00" d="M226 252h1v1h-1z"/>
<path fill="#ffffff" d="M228 252h1v1h-1zM230 252h1v1h-1zM232 252h1v1h-1zM234 252h1v1h-1zM237 252h1v1h-1zM238 252h1v1h-1zM239 252h1v1h-1zM241 252h1v1h-1z"/>
<path fill="#00ffff" d="M242 252h1v1h-1z"/>
<path fill="#ffffff" d="M243 252h1v1h-1zM244 252h1v1h-1zM246 252h1v1h-1zM249 252h1v1h-1z"/>
<path fill="#ffff00" d="M250 252h1v1h-1zM253 252h1v1h-1zM254 252h1v1h-1z"/>
<path fill="#ffffff" d="M255 252h1v1h-1z"/>
<path fill="#ff0000" d="M258 252h1v1h-1z"/>
<path fill="#ffff00" d="M259 252h1v1h-1z"/>
<path fill="#ffffff" d="M260 252h1v1h-1z"/>
<path fill="#ffff00" d="M261 252h1v1h-1z"/>
<path fill="#ff0000" d="M262 252h1v1h-1z"/>
<path fill="#ffffff" d="M266 252h1v1h-1zM226 253h1v1h-1zM228 253h1v1h-1zM229 253h1v1h-1zM230 253h1v1h-1zM232 253h1v1h-1z"/>
<path fill="#ffff00" d="M234 253h1v1h-1z"/>
<path fill="#00ffff" d="M235 253h1v1h-1z"/>
<path fill="#ffffff" d="M236 253h1v1h-1zM237 253h1v1h-1zM238 253h1v1h-1z"/>
<path fill="#ff0000" d="M239 253h1v1h-1z"/>
<path fill="#ffffff" d="M242 253h1v1h-1zM243 253h1v1h-1zM244 253h1v1h-1z"/>
<path fill="#ffff00" d="M245 253h1v1h-1z"/>
<path fill="#ffffff" d="M246 253h1v1h-1zM247 253h1v1h-1zM250 253h1v1h-1zM251 253h1v1h-1zM252 253h1v1h-1z"/>
<path fill="#ffff00" d="M253 253h1v1h-1zM254 253h1v1h-1z"/>
<path fill="#00ffff" d="M255 253h1v1h-1z"/>
<path fill="#ffffff" d="M258 253h1v1h-1z"/>
<path fill="#00ffff" d="M259 253h1v1h-1z"/>
<path fill="#ffffff" d="M260 253h1v1h-1z"/>
<path fill="#ff0000" d="M262 253h1v1h-1z"/>
<path fill="#00ffff" d="M263 253h1v1h-1z"/>
<path fill="#ffff00" d="M266 253h1v1h-1z"/>
<path fill="#ffffff" d="M226 254h1v1h-1zM227 254h1v1h-1z"/>
<path fill="#ffff00" d="M229 254h1v1h-1z"/>
<path fill="#ffffff" d="M230 254h1v1h-1zM231 254h1v1h-1z"/>
<path fill="#ffff00" d="M234 254h1v1h-1z"/>
<path fill="#ffffff" d="M238 254h1v1h-1z"/>
<path fill="#ffff00" d="M239 254h1v1h-1z"/>
<path fill="#ffffff" d="M241 254h1v1h-1zM242 254h1v1h-1zM244 254h1v1h-1z"/>
<path fill="#ff0000" d="M245 254h1v1h-1z"/>
<path fill="#ffffff" d="M246 254h1v1h-1zM250 254h1v1h-1zM252 254h1v1h-1zM254 254h1v1h-1zM257 254h1v1h-1zM258 254h1v1h-1z"/>
<path fill="#ffff00" d="M259 254h1v1h-1z"/>
<path fill="#ffffff" d="M260 254h1v1h-1z"/>
<path fill="#ffff00" d="M262 254h1v1h-1z"/>
<path fill="#ffffff" d="M263 254h1v1h-1z"/>
<path fill="#ffff00" d="M264 254h1v1h-1zM265 254h1v1h-1z"/>
<path fill="#ffffff" d="M266 254h1v1h-1zM226 255h1v1h-1zM227 255h1v1h-1zM228 255h1v1h-1zM231 255h1v1h-1zM232 255h1v1h-1zM233 255h1v1h-1zM234 255h1v1h-1zM235 255h1v1h-1zM236 255h1v1h-1zM237 255h1v1h-1zM238 255h1v1h-1zM239 255h1v1h-1zM242 255h1v1h-1zM243 255h1v1h-1zM244 255h1v1h-1zM245 255h1v1h-1zM246 255h1v1h-1zM247 255h1v1h-1zM248 255h1v1h-1zM250 255h1v1h-1zM251 255h1v1h-1zM252 255h1v1h-1zM253 255h1v1h-1zM254 255h1v1h-1z"/>
<path fill="#00ffff" d="M256 255h1v1h-1z"/>
<path fill="#ffffff" d="M257 255h1v1h-1zM258 255h1v1h-1zM259 255h1v1h-1zM260 255h1v1h-1zM261 255h1v1h-1zM262 255h1v1h-1zM263 255h1v1h-1zM264 255h1v1h-1zM265 255h1v1h-1zM266 255h1v1h-1zM226 256h1v1h-1zM227 256h1v1h-1zM228 256h1v1h-1z"/>
<path fill="#00ffff" d="M230 256h1v1h-1z"/>
<path fill="#ffff00" d="M232 256h1v1h-1z"/>
<path fill="#ffffff" d="M233 256h1v1h-1zM234 256h1v1h-1zM236 256h1v1h-1zM237 256h1v1h-1zM238 256h1v1h-1zM239 256h1v1h-1z"/>
<path fill="#ffff00" d="M241 256h1v1h-1z"/>
<path fill="#ffffff" d="M242 256h1v1h-1zM243 256h1v1h-1zM244 256h1v1h-1zM245 256h1v1h-1zM246 256h1v1h-1zM250 256h1v1h-1zM251 256h1v1h-1zM254 256h1v1h-1z"/>
<path fill="#ff0000" d="M255 256h1v1h-1z"/>
<path fill="#ffffff" d="M257 256h1v1h-1zM258 256h1v1h-1zM260 256h1v1h-1zM261 256h1v1h-1zM262 256h1v1h-1zM263 256h1v1h-1zM264 256h1v1h-1zM266 256h1v1h-1z"/>
<path fill="#00ffff" d="M226 257h1v1h-1z"/>
<path fill="#ffffff" d="M230 257h1v1h-1zM233 257h1v1h-1zM234 257h1v1h-1zM237 257h1v1h-1zM238 257h1v1h-1zM242 257h1v1h-1z"/>
<path fill="#ff0000" d="M243 257h1v1h-1z"/>
<path fill="#ffffff" d="M245 257h1v1h-1zM246 257h1v1h-1zM247 257h1v1h-1zM248 257h1v1h-1zM249 257h1v1h-1z"/>
<path fill="#ff0000" d="M250 257h1v1h-1z"/>
<path fill="#ffffff" d="M251 257h1v1h-1z"/>
<path fill="#ffff00" d="M252 257h1v1h-1zM253 257h1v1h-1z"/>
<path fill="#ffffff" d="M254 257h1v1h-1z"/>
<path fill="#00ffff" d="M256 257h1v1h-1z"/>
<path fill="#ffffff" d="M258 257h1v1h-1zM260 257h1v1h-1z"/>
<path fill="#00ffff" d="M261 257h1v1h-1z"/>
<path fill="#ffffff" d="M262 257h1v1h-1zM263 257h1v1h-1zM264 257h1v1h-1z"/>
<path fill="#00ffff" d="M265 257h1v1h-1z"/>
<path fill="#ffff00" d="M266 257h1v1h-1z"/>
<path fill="#ffffff" d="M226 258h1v1h-1z"/>
<path fill="#ffff00" d="M228 258h1v1h-1z"/>
<path fill="#ffffff" d="M229 258h1v1h-1z"/>
<path fill="#ffff00" d="M230 258h1v1h-1z"/>
<path fill="#ffffff" d="M231 258h1v1h-1zM232 258h1v1h-1z"/>
<path fill="#ffff00" d="M233 258h1v1h-1z"/>
<path fill="#ffffff" d="M234 258h1v1h-1zM235 258h1v1h-1z"/>
<path fill="#00ffff" d="M237 258h1v1h-1z"/>
<path fill="#ffffff" d="M238 258h1v1h-1z"/>
<path fill="#00ffff" d="M239 258h1v1h-1z"/>
<path fill="#ffffff" d="M242 258h1v1h-1zM244 258h1v1h-1zM245 258h1v1h-1zM246 258h1v1h-1z"/>
<path fill="#ffff00" d="M247 258h1v1h-1z"/>
<path fill="#ffffff" d="M250 258h1v1h-1z"/>
<path fill="#ff0000" d="M251 258h1v1h-1z"/>
<path fill="#ffff00" d="M253 258h1v1h-1z"/>
<path fill="#ffffff" d="M254 258h1v1h-1zM255 258h1v1h-1zM256 258h1v1h-1zM257 258h1v1h-1z"/>
<path fill="#00ffff" d="M258 258h1v1h-1z"/>
<path fill="#ffffff" d="M260 258h1v1h-1zM261 258h1v1h-1zM262 258h1v1h-1zM263 258h1v1h-1zM266 258h1v1h-1zM226 259h1v1h-1zM227 259h1v1h-1zM229 259h1v1h-1zM230 259h1v1h-1zM232 259h1v1h-1zM233 259h1v1h-1zM234 259h1v1h-1zM235 259h1v1h-1zM236 259h1v1h-1zM237 259h1v1h-1zM238 259h1v1h-1zM239 259h1v1h-1zM240 259h1v1h-1zM241 259h1v1h-1zM242 259h1v1h-1z"/>
<path fill="#ffff00" d="M243 259h1v1h-1z"/>
<path fill="#ffffff" d="M244 259h1v1h-1zM245 259h1v1h-1zM246 259h1v1h-1zM247 259h1v1h-1zM248 259h1v1h-1zM249 259h1v1h-1zM251 259h1v1h-1zM252 259h1v1h-1zM253 259h1v1h-1z"/>
<path fill="#ff0000" d="M254 259h1v1h-1z"/>
<path fill="#ffffff" d="M255 259h1v1h-1zM256 259h1v1h-1z"/>
<path fill="#00ffff" d="M257 259h1v1h-1z"/>
<path fill="#ffff00" d="M259 259h1v1h-1z"/>
<path fill="#ffffff" d="M260 259h1v1h-1zM261 259h1v1h-1zM262 259h1v1h-1zM263 259h1v1h-1zM264 259h1v1h-1zM265 259h1v1h-1zM266 259h1v1h-1z"/>
<path fill="#00ff00" d="M223 224h1v36h-1zM269 224h1v36h-1z"/>
<path fill="#ffffff" d="M221 224h1v1h-1zM270 224h1v1h-1zM221 227h1v1h-1zM270 227h1v1h-1zM221 230h1v1h-1zM270 230h1v1h-1zM221 233h1v1h-1zM270 233h1v1h-1zM221 236h1v1h-1zM270 236h1v1h-1zM221 239h1v1h-1zM270 239h1v1h-1zM221 242h1v1h-1zM270 242h1v1h-1zM221 245h1v1h-1zM270 245h1v1h-1zM221 248h1v1h-1zM270 248h1v1h-1zM221 251h1v1h-1zM270 251h1v1h-1zM221 254h1v1h-1zM270 254h1v1h-1zM221 257h1v1h-1zM270 257h1v1h-1z"/>
<path fill="#00ff00" d="M223 224h2v1h-2zM223 230h2v1h-2zM223 236h2v1h-2zM223 242h2v1h-2zM223 248h2v1h-2zM223 254h2v1h-2zM226 218h1v1h-1z"/>
<path fill="#ffffff" d="M226 219h1v1h-1z"/>
<path fill="#00ff00" d="M227 219h1v1h-1zM232 218h1v1h-1z"/>
<path fill="#ffffff" d="M232 219h1v1h-1z"/>
<path fill="#00ff00" d="M233 219h1v1h-1zM238 218h1v1h-1z"/>
<path fill="#ffffff" d="M238 219h1v1h-1z"/>
<path fill="#00ff00" d="M239 219h1v1h-1zM244 218h1v1h-1z"/>
<path fill="#ffffff" d="M244 219h1v1h-1z"/>
<path fill="#00ff00" d="M245 219h1v1h-1zM250 218h1v1h-1z"/>
<path fill="#ffffff" d="M250 219h1v1h-1z"/>
<path fill="#00ff00" d="M251 219h1v1h-1zM256 218h1v1h-1z"/>
<path fill="#ffffff" d="M256 219h1v1h-1z"/>
<path fill="#00ff00" d="M257 219h1v1h-1zM262 218h1v1h-1z"/>
<path fill="#ffffff" d="M262 219h1v1h-1z"/>
<path fill="#00ff00" d="M263 219h1v1h-1zM226 220h41v1h-41z"/>
<path fill="#ffffff" d="M226 221h41v1h-41z"/>
<path fill="#00ff00" d="M226 221h1v1h-1zM229 221h1v1h-1zM232 221h1v1h-1zM235 221h1v1h-1zM238 221h1v1h-1zM241 221h1v1h-1zM244 221h1v1h-1zM247 221h1v1h-1zM250 221h1v1h-1zM253 221h1v1h-1zM256 221h1v1h-1zM259 221h1v1h-1zM262 221h1v1h-1zM265 221h1v1h-1zM226 222h41v2h-41zM226 260h41v2h-41z"/>
<path fill="#ffffff" d="M226 260h1v1h-1zM229 260h1v1h-1zM232 260h1v1h-1zM235 260h1v1h-1zM238 260h1v1h-1zM241 260h1v1h-1zM244 260h1v1h-1zM247 260h1v1h-1zM250 260h1v1h-1zM253 260h1v1h-1zM256 260h1v1h-1zM259 260h1v1h-1zM262 260h1v1h-1zM265 260h1v1h-1zM226 263h2v1h-2zM232 263h2v1h-2zM238 263h2v1h-2zM244 263h2v1h-2zM250 263h2v1h-2zM256 263h2v1h-2zM262 263h2v1h-2zM243 262h14v3h-14zM258 263h3v1h-3z"/>
<path fill="#00ffff" d="M276 217h8v50h-8z"/>
<path fill="#000000" d="M277 219h5v3h-5zM277 227h5v1h-5zM277 229h5v20h-5zM277 250h5v2h-5zM277 253h5v2h-5zM277 257h5v1h-5z"/>
<path fill="#ffffff" d="M277 234h5v2h-5z"/>
<path fill="#ff0000" d="M277 236h5v1h-5z"/>
<path fill="#ffffff" d="M277 237h5v3h-5z"/>
<path fill="#00ff00" d="M277 240h5v1h-5z"/>
<path fill="#ffffff" d="M278 263h3v1h-3zM280 265h2v1h-2z"/>
<path fill="#000000" d="M284 219h1v47h-1z"/>
<path fill="#00ffff" d="M285 217h1v50h-1z"/>
<path fill="#cc0033" d="M297 225h1v18h-1zM303 225h1v18h-1zM309 225h1v18h-1zM315 225h1v18h-1zM321 225h1v18h-1zM297 225h25v1h-25zM297 231h25v1h-25zM297 237h25v1h-25zM297 242h25v1h-25z"/>
<path fill="#00ff00" d="M297 219h1v1h-1z"/>
<path fill="#ffffff" d="M297 220h1v1h-1z"/>
<path fill="#00ff00" d="M298 220h1v1h-1zM303 219h1v1h-1z"/>
<path fill="#ffffff" d="M303 220h1v1h-1z"/>
<path fill="#00ff00" d="M304 220h1v1h-1zM309 219h1v1h-1z"/>
<path fill="#ffffff" d="M309 220h1v1h-1z"/>
<path fill="#00ff00" d="M310 220h1v1h-1zM315 219h1v1h-1z"/>
<path fill="#ffffff" d="M315 220h1v1h-1z"/>
<path fill="#00ff00" d="M316 220h1v1h-1zM321 219h1v1h-1z"/>
<path fill="#ffffff" d="M321 220h1v1h-1z"/>
<path fill="#00ff00" d="M322 220h1v1h-1zM297 221h25v1h-25z"/>
<path fill="#ffffff" d="M297 222h25v1h-25z"/>
<path fill="#00ff00" d="M297 222h1v1h-1zM300 222h1v1h-1zM303 222h1v1h-1zM306 222h1v1h-1zM309 222h1v1h-1zM312 222h1v1h-1zM315 222h1v1h-1zM318 222h1v1h-1zM321 222h1v1h-1zM297 223h25v2h-25zM293 225h1v18h-1zM294 225h1v18h-1z"/>
<path fill="#ffffff" d="M291 225h1v1h-1zM293 226h1v1h-1zM291 228h1v1h-1zM293 229h1v1h-1zM291 231h1v1h-1zM293 232h1v1h-1zM291 234h1v1h-1zM293 235h1v1h-1zM291 237h1v1h-1zM293 238h1v1h-1zM291 240h1v1h-1zM293 241h1v1h-1z"/>
<path fill="#00ff00" d="M293 225h4v1h-4zM293 231h4v1h-4zM293 237h4v1h-4zM293 242h4v1h-4zM338 225h1v18h-1z"/>
<path fill="#ffffff" d="M339 225h1v1h-1zM339 228h1v1h-1zM339 231h1v1h-1zM339 234h1v1h-1zM339 237h1v1h-1zM339 240h1v1h-1z"/>
<path fill="#00ff00" d="M322 225h17v1h-17zM322 231h17v1h-17zM322 237h17v1h-17zM322 242h17v1h-17zM297 260h25v2h-25z"/>
<path fill="#ffffff" d="M297 260h1v1h-1zM300 260h1v1h-1zM303 260h1v1h-1zM306 260h1v1h-1zM309 260h1v1h-1zM312 260h1v1h-1zM315 260h1v1h-1zM318 260h1v1h-1zM321 260h1v1h-1z"/>
<path fill="#00ff00" d="M297 243h1v20h-1z"/>
<path fill="#ffffff" d="M296 263h2v1h-2z"/>
<path fill="#00ff00" d="M303 243h1v20h-1z"/>
<path fill="#ffffff" d="M302 263h2v1h-2z"/>
<path fill="#00ff00" d="M309 243h1v20h-1z"/>
<path fill="#ffffff" d="M308 263h2v1h-2z"/>
<path fill="#00ff00" d="M315 243h1v20h-1z"/>
<path fill="#ffffff" d="M314 263h2v1h-2z"/>
<path fill="#00ff00" d="M321 243h1v20h-1z"/>
<path fill="#ffffff" d="M320 263h2v1h-2zM322 225h1v1h-1zM323 225h1v1h-1zM324 225h1v1h-1zM325 225h1v1h-1zM327 225h1v1h-1z"/>
<path fill="#ff0000" d="M328 225h1v1h-1z"/>
<path fill="#ffffff" d="M329 225h1v1h-1zM330 225h1v1h-1zM331 225h1v1h-1z"/>
<path fill="#ff0000" d="M332 225h1v1h-1z"/>
<path fill="#ffffff" d="M333 225h1v1h-1zM334 225h1v1h-1zM335 225h1v1h-1z"/>
<path fill="#00ffff" d="M322 226h1v1h-1zM324 226h1v1h-1z"/>
<path fill="#ffffff" d="M326 226h1v1h-1z"/>
<path fill="#ff0000" d="M330 226h1v1h-1z"/>
<path fill="#00ffff" d="M331 226h1v1h-1zM333 226h1v1h-1zM334 226h1v1h-1z"/>
<path fill="#ff0000" d="M335 226h1v1h-1z"/>
<path fill="#ffffff" d="M322 227h1v1h-1zM323 227h1v1h-1zM325 227h1v1h-1zM326 227h1v1h-1z"/>
<path fill="#00ffff" d="M327 227h1v1h-1z"/>
<path fill="#ffffff" d="M328 227h1v1h-1z"/>
<path fill="#ff0000" d="M330 227h1v1h-1zM331 227h1v1h-1z"/>
<path fill="#ffffff" d="M332 227h1v1h-1zM333 227h1v1h-1zM334 227h1v1h-1zM322 228h1v1h-1z"/>
<path fill="#ff0000" d="M324 228h1v1h-1z"/>
<path fill="#ffffff" d="M325 228h1v1h-1z"/>
<path fill="#ffff00" d="M326 228h1v1h-1z"/>
<path fill="#ffffff" d="M328 228h1v1h-1zM329 228h1v1h-1z"/>
<path fill="#00ffff" d="M330 228h1v1h-1z"/>
<path fill="#ffffff" d="M333 228h1v1h-1zM334 228h1v1h-1zM322 229h1v1h-1zM323 229h1v1h-1zM325 229h1v1h-1zM326 229h1v1h-1zM327 229h1v1h-1zM328 229h1v1h-1zM329 229h1v1h-1zM330 229h1v1h-1zM331 229h1v1h-1zM332 229h1v1h-1zM333 229h1v1h-1zM334 229h1v1h-1zM335 229h1v1h-1zM322 230h1v1h-1z"/>
<path fill="#ff0000" d="M323 230h1v1h-1z"/>
<path fill="#ffffff" d="M325 230h1v1h-1zM326 230h1v1h-1zM327 230h1v1h-1z"/>
<path fill="#ffff00" d="M329 230h1v1h-1z"/>
<path fill="#00ffff" d="M330 230h1v1h-1z"/>
<path fill="#ffffff" d="M334 230h1v1h-1zM335 230h1v1h-1z"/>
<path fill="#ff0000" d="M322 231h1v1h-1zM323 231h1v1h-1z"/>
<path fill="#ffffff" d="M324 231h1v1h-1z"/>
<path fill="#ff0000" d="M326 231h1v1h-1zM328 231h1v1h-1z"/>
<path fill="#ffffff" d="M330 231h1v1h-1zM331 231h1v1h-1z"/>
<path fill="#ff0000" d="M333 231h1v1h-1zM334 231h1v1h-1zM322 232h1v1h-1z"/>
<path fill="#ffff00" d="M325 232h1v1h-1z"/>
<path fill="#ffffff" d="M326 232h1v1h-1z"/>
<path fill="#ff0000" d="M327 232h1v1h-1zM328 232h1v1h-1z"/>
<path fill="#ffffff" d="M330 232h1v1h-1zM333 232h1v1h-1zM334 232h1v1h-1z"/>
<path fill="#ffff00" d="M335 232h1v1h-1z"/>
<path fill="#ffffff" d="M323 233h1v1h-1zM324 233h1v1h-1z"/>
<path fill="#ff0000" d="M325 233h1v1h-1z"/>
<path fill="#ffffff" d="M326 233h1v1h-1zM327 233h1v1h-1zM328 233h1v1h-1zM329 233h1v1h-1zM332 233h1v1h-1zM333 233h1v1h-1z"/>
<path fill="#00ffff" d="M334 233h1v1h-1z"/>
<path fill="#ffffff" d="M335 233h1v1h-1zM322 234h1v1h-1zM324 234h1v1h-1zM326 234h1v1h-1zM328 234h1v1h-1zM329 234h1v1h-1zM330 234h1v1h-1z"/>
<path fill="#ff0000" d="M331 234h1v1h-1z"/>
<path fill="#ffffff" d="M333 234h1v1h-1zM334 234h1v1h-1zM335 234h1v1h-1zM322 235h1v1h-1z"/>
<path fill="#ff0000" d="M323 235h1v1h-1z"/>
<path fill="#ffffff" d="M324 235h1v1h-1zM326 235h1v1h-1z"/>
<path fill="#00ffff" d="M328 235h1v1h-1z"/>
<path fill="#ffffff" d="M330 235h1v1h-1zM334 235h1v1h-1zM335 235h1v1h-1z"/>
<path fill="#00ffff" d="M322 236h1v1h-1z"/>
<path fill="#ffffff" d="M324 236h1v1h-1zM326 236h1v1h-1zM330 236h1v1h-1zM331 236h1v1h-1zM332 236h1v1h-1z"/>
<path fill="#ffff00" d="M333 236h1v1h-1z"/>
<path fill="#ffffff" d="M334 236h1v1h-1z"/>
<path fill="#ff0000" d="M335 236h1v1h-1z"/>
<path fill="#ffffff" d="M322 237h1v1h-1zM323 237h1v1h-1zM324 237h1v1h-1zM326 237h1v1h-1zM327 237h1v1h-1zM328 237h1v1h-1zM330 237h1v1h-1zM331 237h1v1h-1zM332 237h1v1h-1zM333 237h1v1h-1zM334 237h1v1h-1zM322 238h1v1h-1zM323 238h1v1h-1zM324 238h1v1h-1zM325 238h1v1h-1zM326 238h1v1h-1z"/>
<path fill="#00ffff" d="M327 238h1v1h-1z"/>
<path fill="#ffffff" d="M329 238h1v1h-1zM330 238h1v1h-1z"/>
<path fill="#ff0000" d="M331 238h1v1h-1zM332 238h1v1h-1z"/>
<path fill="#ffffff" d="M334 238h1v1h-1z"/>
<path fill="#00ffff" d="M335 238h1v1h-1zM322 239h1v1h-1z"/>
<path fill="#ffffff" d="M323 239h1v1h-1zM325 239h1v1h-1zM326 239h1v1h-1zM329 239h1v1h-1z"/>
<path fill="#ffff00" d="M330 239h1v1h-1z"/>
<path fill="#ffffff" d="M331 239h1v1h-1z"/>
<path fill="#00ffff" d="M333 239h1v1h-1z"/>
<path fill="#ff0000" d="M334 239h1v1h-1z"/>
<path fill="#ffffff" d="M322 240h1v1h-1z"/>
<path fill="#00ffff" d="M324 240h1v1h-1z"/>
<path fill="#ffffff" d="M325 240h1v1h-1zM326 240h1v1h-1z"/>
<path fill="#00ffff" d="M327 240h1v1h-1z"/>
<path fill="#ff0000" d="M328 240h1v1h-1z"/>
<path fill="#ffffff" d="M330 240h1v1h-1zM334 240h1v1h-1zM322 241h1v1h-1zM323 241h1v1h-1zM324 241h1v1h-1zM325 241h1v1h-1z"/>
<path fill="#00ffff" d="M326 241h1v1h-1z"/>
<path fill="#ffff00" d="M327 241h1v1h-1z"/>
<path fill="#ffffff" d="M329 241h1v1h-1zM330 241h1v1h-1zM332 241h1v1h-1zM333 241h1v1h-1zM334 241h1v1h-1zM335 241h1v1h-1zM322 242h1v1h-1zM323 242h1v1h-1zM324 242h1v1h-1zM326 242h1v1h-1zM327 242h1v1h-1zM330 242h1v1h-1z"/>
<path fill="#ff0000" d="M331 242h1v1h-1z"/>
<path fill="#ffffff" d="M334 242h1v1h-1zM335 242h1v1h-1zM297 243h1v1h-1zM298 243h1v1h-1zM299 243h1v1h-1zM300 243h1v1h-1zM301 243h1v1h-1zM302 243h1v1h-1zM303 243h1v1h-1zM304 243h1v1h-1z"/>
<path fill="#ff0000" d="M305 243h1v1h-1z"/>
<path fill="#ffffff" d="M306 243h1v1h-1zM307 243h1v1h-1zM309 243h1v1h-1zM310 243h1v1h-1zM312 243h1v1h-1zM313 243h1v1h-1zM314 243h1v1h-1zM315 243h1v1h-1zM316 243h1v1h-1zM317 243h1v1h-1z"/>
<path fill="#ff0000" d="M318 243h1v1h-1z"/>
<path fill="#ffffff" d="M319 243h1v1h-1zM320 243h1v1h-1zM321 243h1v1h-1zM322 243h1v1h-1z"/>
<path fill="#00ffff" d="M323 243h1v1h-1z"/>
<path fill="#ffffff" d="M324 243h1v1h-1zM325 243h1v1h-1zM326 243h1v1h-1zM327 243h1v1h-1zM328 243h1v1h-1z"/>
<path fill="#ff0000" d="M329 243h1v1h-1z"/>
<path fill="#ffffff" d="M330 243h1v1h-1zM331 243h1v1h-1zM332 243h1v1h-1zM333 243h1v1h-1zM334 243h1v1h-1zM335 243h1v1h-1zM297 244h1v1h-1zM298 244h1v1h-1z"/>
<path fill="#ffff00" d="M300 244h1v1h-1z"/>
<path fill="#ffffff" d="M301 244h1v1h-1z"/>
<path fill="#00ffff" d="M303 244h1v1h-1z"/>
<path fill="#ffffff" d="M305 244h1v1h-1z"/>
<path fill="#00ffff" d="M307 244h1v1h-1z"/>
<path fill="#ffff00" d="M308 244h1v1h-1z"/>
<path fill="#00ffff" d="M309 244h1v1h-1z"/>
<path fill="#ff0000" d="M310 244h1v1h-1z"/>
<path fill="#ffffff" d="M312 244h1v1h-1zM313 244h1v1h-1z"/>
<path fill="#ffff00" d="M314 244h1v1h-1z"/>
<path fill="#ff0000" d="M317 244h1v1h-1z"/>
<path fill="#ffffff" d="M319 244h1v1h-1zM320 244h1v1h-1zM321 244h1v1h-1zM322 244h1v1h-1z"/>
<path fill="#ff0000" d="M323 244h1v1h-1zM324 244h1v1h-1zM325 244h1v1h-1zM326 244h1v1h-1z"/>
<path fill="#ffffff" d="M329 244h1v1h-1z"/>
<path fill="#00ffff" d="M332 244h1v1h-1z"/>
<path fill="#ffffff" d="M333 244h1v1h-1zM335 244h1v1h-1z"/>
<path fill="#ff0000" d="M297 245h1v1h-1zM299 245h1v1h-1z"/>
<path fill="#ffffff" d="M300 245h1v1h-1zM301 245h1v1h-1z"/>
<path fill="#ffff00" d="M302 245h1v1h-1z"/>
<path fill="#ffffff" d="M305 245h1v1h-1z"/>
<path fill="#ff0000" d="M306 245h1v1h-1z"/>
<path fill="#ffffff" d="M307 245h1v1h-1zM308 245h1v1h-1zM309 245h1v1h-1z"/>
<path fill="#ffff00" d="M310 245h1v1h-1z"/>
<path fill="#00ffff" d="M311 245h1v1h-1z"/>
<path fill="#ffff00" d="M313 245h1v1h-1z"/>
<path fill="#ff0000" d="M314 245h1v1h-1z"/>
<path fill="#00ffff" d="M315 245h1v1h-1z"/>
<path fill="#ffffff" d="M317 245h1v1h-1zM318 245h1v1h-1zM321 245h1v1h-1zM322 245h1v1h-1zM323 245h1v1h-1zM324 245h1v1h-1z"/>
<path fill="#00ffff" d="M325 245h1v1h-1z"/>
<path fill="#ffffff" d="M326 245h1v1h-1z"/>
<path fill="#ffff00" d="M327 245h1v1h-1z"/>
<path fill="#ff0000" d="M329 245h1v1h-1z"/>
<path fill="#00ffff" d="M332 245h1v1h-1z"/>
<path fill="#ffffff" d="M333 245h1v1h-1zM334 245h1v1h-1zM297 246h1v1h-1z"/>
<path fill="#ff0000" d="M299 246h1v1h-1z"/>
<path fill="#ffffff" d="M301 246h1v1h-1zM302 246h1v1h-1z"/>
<path fill="#ff0000" d="M304 246h1v1h-1z"/>
<path fill="#ffffff" d="M305 246h1v1h-1z"/>
<path fill="#00ffff" d="M306 246h1v1h-1z"/>
<path fill="#ffff00" d="M307 246h1v1h-1z"/>
<path fill="#ffffff" d="M308 246h1v1h-1z"/>
<path fill="#ff0000" d="M309 246h1v1h-1z"/>
<path fill="#ffffff" d="M310 246h1v1h-1z"/>
<path fill="#ff0000" d="M311 246h1v1h-1z"/>
<path fill="#ffffff" d="M313 246h1v1h-1zM314 246h1v1h-1zM315 246h1v1h-1zM317 246h1v1h-1z"/>
<path fill="#ff0000" d="M318 246h1v1h-1zM320 246h1v1h-1z"/>
<path fill="#00ffff" d="M321 246h1v1h-1z"/>
<path fill="#ffffff" d="M324 246h1v1h-1zM325 246h1v1h-1zM326 246h1v1h-1z"/>
<path fill="#ff0000" d="M327 246h1v1h-1z"/>
<path fill="#ffffff" d="M329 246h1v1h-1zM330 246h1v1h-1z"/>
<path fill="#ff0000" d="M331 246h1v1h-1z"/>
<path fill="#ffffff" d="M333 246h1v1h-1z"/>
<path fill="#ff0000" d="M334 246h1v1h-1z"/>
<path fill="#00ffff" d="M297 247h1v1h-1z"/>
<path fill="#ffffff" d="M298 247h1v1h-1zM299 247h1v1h-1zM300 247h1v1h-1zM301 247h1v1h-1zM302 247h1v1h-1zM303 247h1v1h-1z"/>
<path fill="#ff0000" d="M304 247h1v1h-1z"/>
<path fill="#ffffff" d="M305 247h1v1h-1zM306 247h1v1h-1zM307 247h1v1h-1zM308 247h1v1h-1zM309 247h1v1h-1zM310 247h1v1h-1zM311 247h1v1h-1zM312 247h1v1h-1zM313 247h1v1h-1zM314 247h1v1h-1zM317 247h1v1h-1zM318 247h1v1h-1zM319 247h1v1h-1z"/>
<path fill="#ffff00" d="M320 247h1v1h-1z"/>
<path fill="#ffffff" d="M321 247h1v1h-1zM322 247h1v1h-1zM323 247h1v1h-1z"/>
<path fill="#00ffff" d="M324 247h1v1h-1z"/>
<path fill="#ffffff" d="M325 247h1v1h-1z"/>
<path fill="#00ffff" d="M326 247h1v1h-1z"/>
<path fill="#ffffff" d="M327 247h1v1h-1zM328 247h1v1h-1z"/>
<path fill="#ffff00" d="M329 247h1v1h-1z"/>
<path fill="#ffffff" d="M330 247h1v1h-1z"/>
<path fill="#ff0000" d="M331 247h1v1h-1z"/>
<path fill="#ffffff" d="M332 247h1v1h-1zM333 247h1v1h-1zM335 247h1v1h-1zM297 248h1v1h-1z"/>
<path fill="#ffff00" d="M300 248h1v1h-1z"/>
<path fill="#ffffff" d="M301 248h1v1h-1z"/>
<path fill="#00ffff" d="M304 248h1v1h-1z"/>
<path fill="#ffffff" d="M305 248h1v1h-1zM309 248h1v1h-1zM310 248h1v1h-1z"/>
<path fill="#ffff00" d="M311 248h1v1h-1z"/>
<path fill="#ffffff" d="M313 248h1v1h-1zM315 248h1v1h-1zM316 248h1v1h-1zM317 248h1v1h-1z"/>
<path fill="#00ffff" d="M318 248h1v1h-1z"/>
<path fill="#ff0000" d="M320 248h1v1h-1z"/>
<path fill="#ffffff" d="M321 248h1v1h-1zM322 248h1v1h-1z"/>
<path fill="#ffff00" d="M324 248h1v1h-1z"/>
<path fill="#ff0000" d="M325 248h1v1h-1z"/>
<path fill="#ffff00" d="M326 248h1v1h-1z"/>
<path fill="#ff0000" d="M327 248h1v1h-1z"/>
<path fill="#ffffff" d="M329 248h1v1h-1zM330 248h1v1h-1z"/>
<path fill="#00ffff" d="M331 248h1v1h-1z"/>
<path fill="#ffffff" d="M333 248h1v1h-1zM334 248h1v1h-1zM297 249h1v1h-1zM300 249h1v1h-1z"/>
<path fill="#ff0000" d="M301 249h1v1h-1z"/>
<path fill="#ffffff" d="M302 249h1v1h-1z"/>
<path fill="#ff0000" d="M305 249h1v1h-1z"/>
<path fill="#00ffff" d="M306 249h1v1h-1z"/>
<path fill="#ffffff" d="M309 249h1v1h-1z"/>
<path fill="#ff0000" d="M310 249h1v1h-1zM312 249h1v1h-1z"/>
<path fill="#ffffff" d="M313 249h1v1h-1z"/>
<path fill="#ffff00" d="M314 249h1v1h-1z"/>
<path fill="#ffffff" d="M316 249h1v1h-1zM317 249h1v1h-1zM318 249h1v1h-1zM319 249h1v1h-1z"/>
<path fill="#ff0000" d="M320 249h1v1h-1z"/>
<path fill="#ffffff" d="M321 249h1v1h-1zM322 249h1v1h-1z"/>
<path fill="#ffff00" d="M323 249h1v1h-1z"/>
<path fill="#ffffff" d="M324 249h1v1h-1zM325 249h1v1h-1z"/>
<path fill="#ffff00" d="M326 249h1v1h-1zM328 249h1v1h-1z"/>
<path fill="#ffffff" d="M329 249h1v1h-1zM330 249h1v1h-1zM332 249h1v1h-1zM333 249h1v1h-1zM335 249h1v1h-1zM297 250h1v1h-1zM298 250h1v1h-1zM299 250h1v1h-1z"/>
<path fill="#ffff00" d="M300 250h1v1h-1z"/>
<path fill="#ffffff" d="M301 250h1v1h-1zM303 250h1v1h-1zM305 250h1v1h-1z"/>
<path fill="#ff0000" d="M306 250h1v1h-1z"/>
<path fill="#ffffff" d="M309 250h1v1h-1zM311 250h1v1h-1z"/>
<path fill="#ff0000" d="M312 250h1v1h-1z"/>
<path fill="#ffffff" d="M313 250h1v1h-1zM314 250h1v1h-1z"/>
<path fill="#ffff00" d="M315 250h1v1h-1z"/>
<path fill="#ffffff" d="M317 250h1v1h-1z"/>
<path fill="#00ffff" d="M319 250h1v1h-1z"/>
<path fill="#ff0000" d="M320 250h1v1h-1z"/>
<path fill="#ffffff" d="M321 250h1v1h-1zM322 250h1v1h-1zM325 250h1v1h-1z"/>
<path fill="#ff0000" d="M327 250h1v1h-1z"/>
<path fill="#ffffff" d="M328 250h1v1h-1zM329 250h1v1h-1z"/>
<path fill="#ffff00" d="M332 250h1v1h-1z"/>
<path fill="#ffffff" d="M333 250h1v1h-1z"/>
<path fill="#ff0000" d="M335 250h1v1h-1z"/>
<path fill="#ffffff" d="M298 251h1v1h-1zM299 251h1v1h-1zM300 251h1v1h-1zM301 251h1v1h-1zM302 251h1v1h-1zM303 251h1v1h-1zM304 251h1v1h-1zM306 251h1v1h-1zM307 251h1v1h-1zM308 251h1v1h-1z"/>
<path fill="#ff0000" d="M309 251h1v1h-1z"/>
<path fill="#ffffff" d="M310 251h1v1h-1zM311 251h1v1h-1zM313 251h1v1h-1zM314 251h1v1h-1zM316 251h1v1h-1zM317 251h1v1h-1zM318 251h1v1h-1zM319 251h1v1h-1zM320 251h1v1h-1zM322 251h1v1h-1zM323 251h1v1h-1zM324 251h1v1h-1zM325 251h1v1h-1zM326 251h1v1h-1z"/>
<path fill="#ff0000" d="M327 251h1v1h-1z"/>
<path fill="#ffffff" d="M328 251h1v1h-1zM329 251h1v1h-1zM330 251h1v1h-1zM331 251h1v1h-1zM332 251h1v1h-1zM333 251h1v1h-1zM334 251h1v1h-1zM297 252h1v1h-1z"/>
<path fill="#ff0000" d="M299 252h1v1h-1z"/>
<path fill="#ffff00" d="M300 252h1v1h-1z"/>
<path fill="#ffffff" d="M301 252h1v1h-1zM302 252h1v1h-1zM303 252h1v1h-1z"/>
<path fill="#ff0000" d="M305 252h1v1h-1z"/>
<path fill="#ffffff" d="M306 252h1v1h-1z"/>
<path fill="#00ffff" d="M307 252h1v1h-1z"/>
<path fill="#ffff00" d="M308 252h1v1h-1z"/>
<path fill="#ffffff" d="M309 252h1v1h-1zM310 252h1v1h-1z"/>
<path fill="#ff0000" d="M311 252h1v1h-1z"/>
<path fill="#ffffff" d="M313 252h1v1h-1zM314 252h1v1h-1z"/>
<path fill="#ff0000" d="M315 252h1v1h-1z"/>
<path fill="#ffffff" d="M317 252h1v1h-1zM321 252h1v1h-1zM322 252h1v1h-1zM323 252h1v1h-1z"/>
<path fill="#00ffff" d="M324 252h1v1h-1z"/>
<path fill="#ff0000" d="M325 252h1v1h-1z"/>
<path fill="#00ffff" d="M327 252h1v1h-1z"/>
<path fill="#ffffff" d="M329 252h1v1h-1z"/>
<path fill="#00ffff" d="M331 252h1v1h-1z"/>
<path fill="#ff0000" d="M332 252h1v1h-1zM333 252h1v1h-1z"/>
<path fill="#ffffff" d="M334 252h1v1h-1zM297 253h1v1h-1z"/>
<path fill="#ffff00" d="M298 253h1v1h-1z"/>
<path fill="#ffffff" d="M299 253h1v1h-1z"/>
<path fill="#ffff00" d="M300 253h1v1h-1z"/>
<path fill="#ffffff" d="M301 253h1v1h-1zM302 253h1v1h-1z"/>
<path fill="#00ffff" d="M303 253h1v1h-1z"/>
<path fill="#ffffff" d="M304 253h1v1h-1zM305 253h1v1h-1zM307 253h1v1h-1zM309 253h1v1h-1zM310 253h1v1h-1zM311 253h1v1h-1zM312 253h1v1h-1zM313 253h1v1h-1z"/>
<path fill="#ff0000" d="M314 253h1v1h-1z"/>
<path fill="#ffff00" d="M315 253h1v1h-1z"/>
<path fill="#ffffff" d="M317 253h1v1h-1z"/>
<path fill="#ff0000" d="M320 253h1v1h-1z"/>
<path fill="#ffffff" d="M321 253h1v1h-1z"/>
<path fill="#ffff00" d="M325 253h1v1h-1z"/>
<path fill="#ffffff" d="M328 253h1v1h-1zM329 253h1v1h-1zM330 253h1v1h-1z"/>
<path fill="#ff0000" d="M331 253h1v1h-1z"/>
<path fill="#ffffff" d="M332 253h1v1h-1z"/>
<path fill="#ffff00" d="M333 253h1v1h-1z"/>
<path fill="#ff0000" d="M297 254h1v1h-1z"/>
<path fill="#00ffff" d="M298 254h1v1h-1z"/>
<path fill="#ff0000" d="M299 254h1v1h-1z"/>
<path fill="#ffffff" d="M300 254h1v1h-1zM301 254h1v1h-1z"/>
<path fill="#ffff00" d="M303 254h1v1h-1z"/>
<path fill="#ffffff" d="M304 254h1v1h-1zM305 254h1v1h-1z"/>
<path fill="#ffff00" d="M306 254h1v1h-1z"/>
<path fill="#ffffff" d="M307 254h1v1h-1z"/>
<path fill="#00ffff" d="M309 254h1v1h-1z"/>
<path fill="#ffffff" d="M312 254h1v1h-1z"/>
<path fill="#ff0000" d="M313 254h1v1h-1z"/>
<path fill="#ffff00" d="M315 254h1v1h-1z"/>
<path fill="#ffffff" d="M317 254h1v1h-1zM319 254h1v1h-1zM320 254h1v1h-1zM321 254h1v1h-1zM322 254h1v1h-1zM324 254h1v1h-1zM325 254h1v1h-1z"/>
<path fill="#00ffff" d="M326 254h1v1h-1z"/>
<path fill="#ffffff" d="M329 254h1v1h-1zM330 254h1v1h-1zM333 254h1v1h-1zM334 254h1v1h-1zM298 255h1v1h-1zM299 255h1v1h-1zM300 255h1v1h-1zM301 255h1v1h-1zM302 255h1v1h-1zM303 255h1v1h-1z"/>
<path fill="#ff0000" d="M304 255h1v1h-1z"/>
<path fill="#ffffff" d="M305 255h1v1h-1zM306 255h1v1h-1z"/>
<path fill="#ffff00" d="M309 255h1v1h-1z"/>
<path fill="#ffffff" d="M311 255h1v1h-1zM312 255h1v1h-1zM313 255h1v1h-1zM314 255h1v1h-1zM315 255h1v1h-1z"/>
<path fill="#ff0000" d="M316 255h1v1h-1z"/>
<path fill="#ffffff" d="M317 255h1v1h-1zM318 255h1v1h-1zM319 255h1v1h-1zM321 255h1v1h-1zM322 255h1v1h-1zM323 255h1v1h-1zM324 255h1v1h-1zM325 255h1v1h-1z"/>
<path fill="#ff0000" d="M326 255h1v1h-1z"/>
<path fill="#ffffff" d="M327 255h1v1h-1zM328 255h1v1h-1z"/>
<path fill="#ff0000" d="M329 255h1v1h-1z"/>
<path fill="#ffffff" d="M330 255h1v1h-1z"/>
<path fill="#00ffff" d="M331 255h1v1h-1z"/>
<path fill="#ffffff" d="M332 255h1v1h-1zM333 255h1v1h-1zM334 255h1v1h-1zM335 255h1v1h-1zM297 256h1v1h-1zM299 256h1v1h-1zM301 256h1v1h-1z"/>
<path fill="#00ffff" d="M302 256h1v1h-1z"/>
<path fill="#ffffff" d="M303 256h1v1h-1zM304 256h1v1h-1z"/>
<path fill="#ff0000" d="M305 256h1v1h-1z"/>
<path fill="#ffffff" d="M306 256h1v1h-1zM309 256h1v1h-1z"/>
<path fill="#ffff00" d="M311 256h1v1h-1z"/>
<path fill="#ff0000" d="M312 256h1v1h-1z"/>
<path fill="#ffffff" d="M313 256h1v1h-1z"/>
<path fill="#ff0000" d="M317 256h1v1h-1zM318 256h1v1h-1z"/>
<path fill="#ffffff" d="M319 256h1v1h-1z"/>
<path fill="#ff0000" d="M320 256h1v1h-1z"/>
<path fill="#ffffff" d="M321 256h1v1h-1z"/>
<path fill="#00ffff" d="M322 256h1v1h-1z"/>
<path fill="#ffffff" d="M323 256h1v1h-1z"/>
<path fill="#ff0000" d="M325 256h1v1h-1z"/>
<path fill="#ffffff" d="M326 256h1v1h-1zM329 256h1v1h-1z"/>
<path fill="#ffff00" d="M331 256h1v1h-1z"/>
<path fill="#ff0000" d="M332 256h1v1h-1z"/>
<path fill="#ffffff" d="M333 256h1v1h-1zM335 256h1v1h-1zM297 257h1v1h-1zM298 257h1v1h-1zM299 257h1v1h-1zM301 257h1v1h-1z"/>
<path fill="#ffff00" d="M303 257h1v1h-1zM304 257h1v1h-1z"/>
<path fill="#ffffff" d="M305 257h1v1h-1z"/>
<path fill="#ff0000" d="M307 257h1v1h-1z"/>
<path fill="#ffffff" d="M309 257h1v1h-1z"/>
<path fill="#ffff00" d="M311 257h1v1h-1zM312 257h1v1h-1z"/>
<path fill="#ffffff" d="M313 257h1v1h-1z"/>
<path fill="#ff0000" d="M314 257h1v1h-1z"/>
<path fill="#ffffff" d="M315 257h1v1h-1zM317 257h1v1h-1zM318 257h1v1h-1zM320 257h1v1h-1zM321 257h1v1h-1zM323 257h1v1h-1z"/>
<path fill="#ff0000" d="M324 257h1v1h-1z"/>
<path fill="#ffffff" d="M325 257h1v1h-1zM326 257h1v1h-1zM328 257h1v1h-1zM329 257h1v1h-1zM333 257h1v1h-1z"/>
<path fill="#ffff00" d="M334 257h1v1h-1z"/>
<path fill="#00ffff" d="M335 257h1v1h-1zM297 258h1v1h-1z"/>
<path fill="#ffffff" d="M299 258h1v1h-1zM300 258h1v1h-1z"/>
<path fill="#ffff00" d="M301 258h1v1h-1z"/>
<path fill="#ff0000" d="M302 258h1v1h-1z"/>
<path fill="#00ffff" d="M303 258h1v1h-1zM304 258h1v1h-1z"/>
<path fill="#ffffff" d="M305 258h1v1h-1zM306 258h1v1h-1zM309 258h1v1h-1zM311 258h1v1h-1z"/>
<path fill="#00ffff" d="M312 258h1v1h-1z"/>
<path fill="#ffffff" d="M313 258h1v1h-1z"/>
<path fill="#00ffff" d="M315 258h1v1h-1zM316 258h1v1h-1z"/>
<path fill="#ffffff" d="M317 258h1v1h-1z"/>
<path fill="#ffff00" d="M318 258h1v1h-1z"/>
<path fill="#ffffff" d="M320 258h1v1h-1zM321 258h1v1h-1zM322 258h1v1h-1zM323 258h1v1h-1zM324 258h1v1h-1z"/>
<path fill="#ff0000" d="M325 258h1v1h-1z"/>
<path fill="#ffff00" d="M326 258h1v1h-1z"/>
<path fill="#ffffff" d="M327 258h1v1h-1z"/>
<path fill="#ff0000" d="M328 258h1v1h-1z"/>
<path fill="#ffffff" d="M329 258h1v1h-1zM330 258h1v1h-1zM331 258h1v1h-1zM332 258h1v1h-1zM333 258h1v1h-1zM335 258h1v1h-1zM297 259h1v1h-1zM298 259h1v1h-1zM301 259h1v1h-1zM302 259h1v1h-1zM303 259h1v1h-1zM304 259h1v1h-1zM305 259h1v1h-1zM306 259h1v1h-1zM307 259h1v1h-1zM308 259h1v1h-1zM309 259h1v1h-1zM310 259h1v1h-1zM311 259h1v1h-1zM312 259h1v1h-1zM313 259h1v1h-1zM314 259h1v1h-1zM315 259h1v1h-1zM317 259h1v1h-1zM318 259h1v1h-1zM319 259h1v1h-1zM320 259h1v1h-1zM321 259h1v1h-1zM322 259h1v1h-1zM323 259h1v1h-1zM324 259h1v1h-1zM325 259h1v1h-1zM326 259h1v1h-1zM327 259h1v1h-1zM328 259h1v1h-1zM329 259h1v1h-1zM330 259h1v1h-1zM332 259h1v1h-1zM333 259h1v1h-1zM334 259h1v1h-1z"/>
<path fill="#00ff00" d="M293 225h1v35h-1zM338 225h1v35h-1z"/>
<path fill="#ffffff" d="M291 225h1v1h-1zM339 225h1v1h-1zM291 228h1v1h-1zM339 228h1v1h-1zM291 231h1v1h-1zM339 231h1v1h-1zM291 234h1v1h-1zM339 234h1v1h-1zM291 237h1v1h-1zM339 237h1v1h-1zM291 240h1v1h-1zM339 240h1v1h-1zM291 243h1v1h-1zM339 243h1v1h-1zM291 246h1v1h-1zM339 246h1v1h-1zM291 249h1v1h-1zM339 249h1v1h-1zM291 252h1v1h-1zM339 252h1v1h-1zM291 255h1v1h-1zM339 255h1v1h-1zM291 258h1v1h-1zM339 258h1v1h-1z"/>
<path fill="#00ff00" d="M293 225h2v1h-2zM293 231h2v1h-2zM293 237h2v1h-2zM293 243h2v1h-2zM293 249h2v1h-2zM293 255h2v1h-2zM297 219h1v1h-1z"/>
<path fill="#ffffff" d="M297 220h1v1h-1z"/>
<path fill="#00ff00" d="M298 220h1v1h-1zM303 219h1v1h-1z"/>
<path fill="#ffffff" d="M303 220h1v1h-1z"/>
<path fill="#00ff00" d="M304 220h1v1h-1zM309 219h1v1h-1z"/>
<path fill="#ffffff" d="M309 220h1v1h-1z"/>
<path fill="#00ff00" d="M310 220h1v1h-1zM315 219h1v1h-1z"/>
<path fill="#ffffff" d="M315 220h1v1h-1z"/>
<path fill="#00ff00" d="M316 220h1v1h-1zM321 219h1v1h-1z"/>
<path fill="#ffffff" d="M321 220h1v1h-1z"/>
<path fill="#00ff00" d="M322 220h1v1h-1zM327 219h1v1h-1z"/>
<path fill="#ffffff" d="M327 220h1v1h-1z"/>
<path fill="#00ff00" d="M328 220h1v1h-1zM333 219h1v1h-1z"/>
<path fill="#ffffff" d="M333 220h1v1h-1z"/>
<path fill="#00ff00" d="M334 220h1v1h-1zM297 221h39v1h-39z"/>
<path fill="#ffffff" d="M297 222h39v1h-39z"/>
<path fill="#00ff00" d="M297 222h1v1h-1zM300 222h1v1h-1zM303 222h1v1h-1zM306 222h1v1h-1zM309 222h1v1h-1zM312 222h1v1h-1zM315 222h1v1h-1zM318 222h1v1h-1zM321 222h1v1h-1zM324 222h1v1h-1zM327 222h1v1h-1zM330 222h1v1h-1zM333 222h1v1h-1zM297 223h39v2h-39zM297 260h39v2h-39z"/>
<path fill="#ffffff" d="M297 260h1v1h-1zM300 260h1v1h-1zM303 260h1v1h-1zM306 260h1v1h-1zM309 260h1v1h-1zM312 260h1v1h-1zM315 260h1v1h-1zM318 260h1v1h-1zM321 260h1v1h-1zM324 260h1v1h-1zM327 260h1v1h-1zM330 260h1v1h-1zM333 260h1v1h-1zM297 263h2v1h-2zM303 263h2v1h-2zM309 263h2v1h-2zM315 263h2v1h-2zM321 263h2v1h-2zM327 263h2v1h-2zM333 263h2v1h-2zM313 262h14v3h-14zM328 263h3v1h-3z"/>
<path fill="#00ffff" d="M346 217h8v50h-8z"/>
<path fill="#000000" d="M347 219h5v3h-5zM347 227h5v1h-5zM347 229h5v20h-5zM347 250h5v2h-5zM347 253h5v2h-5zM347 257h5v1h-5z"/>
<path fill="#ffffff" d="M347 234h5v2h-5z"/>
<path fill="#ff0000" d="M347 236h5v1h-5z"/>
<path fill="#ffffff" d="M347 237h5v3h-5z"/>
<path fill="#00ff00" d="M347 240h5v1h-5z"/>
<path fill="#ffffff" d="M348 263h3v1h-3zM350 265h2v1h-2z"/>
<path fill="#000000" d="M354 219h1v47h-1z"/>
<path fill="#00ffff" d="M355 217h1v50h-1z"/>
<path fill="#cc0033" d="M367 225h1v34h-1zM373 225h1v34h-1zM379 225h1v34h-1zM386 225h1v34h-1zM392 225h1v34h-1zM405 225h1v34h-1zM367 225h39v1h-39zM367 231h39v1h-39zM367 237h39v1h-39zM367 243h39v1h-39zM367 258h39v1h-39z"/>
<path fill="#00ff00" d="M367 219h1v1h-1z"/>
<path fill="#ffffff" d="M367 220h1v1h-1z"/>
<path fill="#00ff00" d="M368 220h1v1h-1zM373 219h1v1h-1z"/>
<path fill="#ffffff" d="M373 220h1v1h-1z"/>
<path fill="#00ff00" d="M374 220h1v1h-1zM379 219h1v1h-1z"/>
<path fill="#ffffff" d="M379 220h1v1h-1z"/>
<path fill="#00ff00" d="M380 220h1v1h-1zM385 219h1v1h-1z"/>
<path fill="#ffffff" d="M385 220h1v1h-1z"/>
<path fill="#00ff00" d="M386 220h1v1h-1zM391 219h1v1h-1z"/>
<path fill="#ffffff" d="M391 220h1v1h-1z"/>
<path fill="#00ff00" d="M392 220h1v1h-1zM397 219h1v1h-1z"/>
<path fill="#ffffff" d="M397 220h1v1h-1z"/>
<path fill="#00ff00" d="M398 220h1v1h-1zM403 219h1v1h-1z"/>
<path fill="#ffffff" d="M403 220h1v1h-1z"/>
<path fill="#00ff00" d="M404 220h1v1h-1zM367 221h39v1h-39z"/>
<path fill="#ffffff" d="M367 222h39v1h-39z"/>
<path fill="#00ff00" d="M367 222h1v1h-1zM370 222h1v1h-1zM373 222h1v1h-1zM376 222h1v1h-1zM379 222h1v1h-1zM382 222h1v1h-1zM385 222h1v1h-1zM388 222h1v1h-1zM391 222h1v1h-1zM394 222h1v1h-1zM397 222h1v1h-1zM400 222h1v1h-1zM403 222h1v1h-1zM367 223h39v2h-39zM363 225h1v34h-1zM364 225h1v34h-1z"/>
<path fill="#ffffff" d="M361 225h1v1h-1zM363 226h1v1h-1zM361 228h1v1h-1zM363 229h1v1h-1zM361 231h1v1h-1zM363 232h1v1h-1zM361 234h1v1h-1zM363 235h1v1h-1zM361 237h1v1h-1zM363 238h1v1h-1zM361 240h1v1h-1zM363 241h1v1h-1zM361 243h1v1h-1zM363 244h1v1h-1zM361 246h1v1h-1zM363 247h1v1h-1zM361 249h1v1h-1zM363 250h1v1h-1zM361 252h1v1h-1zM363 253h1v1h-1zM361 255h1v1h-1zM363 256h1v1h-1zM361 258h1v1h-1zM363 259h1v1h-1z"/>
<path fill="#00ff00" d="M363 225h4v1h-4zM363 231h4v1h-4zM363 237h4v1h-4zM363 243h4v1h-4zM363 258h4v1h-4zM408 225h1v34h-1z"/>
<path fill="#ffffff" d="M409 225h1v1h-1zM409 228h1v1h-1zM409 231h1v1h-1zM409 234h1v1h-1zM409 237h1v1h-1zM409 240h1v1h-1zM409 243h1v1h-1zM409 246h1v1h-1zM409 249h1v1h-1zM409 252h1v1h-1zM409 255h1v1h-1zM409 258h1v1h-1z"/>
<path fill="#00ff00" d="M406 225h3v1h-3zM406 231h3v1h-3zM406 237h3v1h-3zM406 243h3v1h-3zM406 258h3v1h-3zM367 258h39v2h-39z"/>
<path fill="#ffffff" d="M367 258h1v1h-1zM370 258h1v1h-1zM373 258h1v1h-1zM376 258h1v1h-1zM379 258h1v1h-1zM382 258h1v1h-1zM385 258h1v1h-1zM388 258h1v1h-1zM391 258h1v1h-1zM394 258h1v1h-1zM397 258h1v1h-1zM400 258h1v1h-1zM403 258h1v1h-1z"/>
<path fill="#00ff00" d="M367 259h1v2h-1z"/>
<path fill="#ffffff" d="M366 261h2v1h-2z"/>
<path fill="#00ff00" d="M373 259h1v2h-1z"/>
<path fill="#ffffff" d="M372 261h2v1h-2z"/>
<path fill="#00ff00" d="M379 259h1v2h-1z"/>
<path fill="#ffffff" d="M378 261h2v1h-2z"/>
<path fill="#00ff00" d="M386 259h1v2h-1z"/>
<path fill="#ffffff" d="M385 261h2v1h-2z"/>
<path fill="#00ff00" d="M392 259h1v2h-1z"/>
<path fill="#ffffff" d="M391 261h2v1h-2z"/>
<path fill="#00ff00" d="M405 259h1v2h-1z"/>
<path fill="#ffffff" d="M404 261h2v1h-2z"/>
<path fill="#cc0033" d="M367 243h39v1h-39zM367 245h39v1h-39zM367 247h39v1h-39zM367 249h39v1h-39zM367 251h39v1h-39zM367 253h39v1h-39zM367 255h39v1h-39zM367 257h39v1h-39zM392 225h1v34h-1zM394 225h1v34h-1zM396 225h1v34h-1zM398 225h1v34h-1zM400 225h1v34h-1zM402 225h1v34h-1zM404 225h1v34h-1zM367 243h1v16h-1zM370 243h1v16h-1zM373 243h1v16h-1zM376 243h1v16h-1zM379 243h1v16h-1zM382 243h1v16h-1zM385 243h1v16h-1zM388 243h1v16h-1zM391 243h1v16h-1zM392 226h14v1h-14zM392 229h14v1h-14zM392 232h14v1h-14zM392 235h14v1h-14zM392 238h14v1h-14zM392 241h14v1h-14z"/>
<path fill="#ffff00" d="M369 245h1v1h-1zM370 250h1v1h-1z"/>
<path fill="#00ffff" d="M369 255h1v1h-1z"/>
<path fill="#ffffff" d="M372 245h1v1h-1z"/>
<path fill="#ffff00" d="M373 250h1v1h-1zM372 255h1v1h-1zM375 245h1v1h-1zM376 250h1v1h-1zM375 255h1v1h-1z"/>
<path fill="#00ffff" d="M378 245h1v1h-1zM379 250h1v1h-1z"/>
<path fill="#ffffff" d="M378 255h1v1h-1z"/>
<path fill="#ffff00" d="M381 245h1v1h-1z"/>
<path fill="#ffffff" d="M382 250h1v1h-1zM381 255h1v1h-1z"/>
<path fill="#ffff00" d="M384 245h1v1h-1zM385 250h1v1h-1z"/>
<path fill="#ffffff" d="M384 255h1v1h-1z"/>
<path fill="#ffff00" d="M387 245h1v1h-1z"/>
<path fill="#00ffff" d="M388 250h1v1h-1z"/>
<path fill="#ffffff" d="M387 255h1v1h-1z"/>
<path fill="#00ffff" d="M390 245h1v1h-1z"/>
<path fill="#ffffff" d="M391 250h1v1h-1zM390 255h1v1h-1z"/>
<path fill="#00ffff" d="M394 228h1v1h-1zM396 229h1v1h-1zM403 228h1v1h-1z"/>
<path fill="#ffff00" d="M394 231h1v1h-1z"/>
<path fill="#00ffff" d="M396 232h1v1h-1z"/>
<path fill="#ffff00" d="M403 231h1v1h-1z"/>
<path fill="#00ffff" d="M394 234h1v1h-1zM396 235h1v1h-1zM403 234h1v1h-1z"/>
<path fill="#ffffff" d="M394 237h1v1h-1z"/>
<path fill="#ffff00" d="M396 238h1v1h-1z"/>
<path fill="#ffffff" d="M403 237h1v1h-1zM394 240h1v1h-1z"/>
<path fill="#ffff00" d="M396 241h1v1h-1z"/>
<path fill="#ffffff" d="M403 240h1v1h-1z"/>
<path fill="#00ffff" d="M394 243h1v1h-1z"/>
<path fill="#ffff00" d="M396 244h1v1h-1zM403 243h1v1h-1zM394 246h1v1h-1z"/>
<path fill="#00ffff" d="M396 247h1v1h-1z"/>
<path fill="#ffffff" d="M403 246h1v1h-1zM394 249h1v1h-1z"/>
<path fill="#ffff00" d="M396 250h1v1h-1z"/>
<path fill="#ffffff" d="M403 249h1v1h-1z"/>
<path fill="#ffff00" d="M394 252h1v1h-1zM396 253h1v1h-1zM403 252h1v1h-1z"/>
<path fill="#ffffff" d="M371 253h29v1h-29zM398 226h1v28h-1zM371 248h23v1h-23zM392 226h1v23h-1zM367 244h1v1h-1zM368 245h1v1h-1zM369 246h1v1h-1zM370 247h1v1h-1zM371 248h1v1h-1zM367 257h1v1h-1zM368 256h1v1h-1zM369 255h1v1h-1zM370 254h1v1h-1zM371 253h1v1h-1zM398 253h1v1h-1zM399 254h1v1h-1zM400 255h1v1h-1zM401 256h1v1h-1zM402 256h1v1h-1zM403 257h1v1h-1zM404 258h1v1h-1zM398 226h1v1h-1zM399 225h1v1h-1zM400 225h1v1h-1zM401 224h1v1h-1zM402 223h1v1h-1zM403 223h1v1h-1zM404 222h1v1h-1z"/>
<path fill="#00ffff" d="M394 225h8v3h-8z"/>
<path fill="#ffff00" d="M386 226h5v2h-5z"/>
<path fill="#ff0000" d="M367 242h4v3h-4zM364 257h7v2h-7zM404 223h4v3h-4z"/>
<path fill="#ffffff" d="M382 262h9v3h-9zM393 263h4v1h-4z"/>
<path fill="#00ffff" d="M416 217h8v50h-8z"/>
<path fill="#000000" d="M417 219h5v3h-5zM417 227h5v1h-5zM417 229h5v20h-5zM417 250h5v2h-5zM417 253h5v2h-5zM417 257h5v1h-5z"/>
<path fill="#ffffff" d="M417 234h5v2h-5z"/>
<path fill="#ff0000" d="M417 236h5v1h-5z"/>
<path fill="#ffffff" d="M417 237h5v3h-5z"/>
<path fill="#00ff00" d="M417 240h5v1h-5z"/>
<path fill="#ffffff" d="M418 263h3v1h-3zM420 265h2v1h-2zM94 210h1v1h-1zM93 211h1v1h-1zM95 211h1v1h-1zM93 212h3v1h-3zM93 213h1v1h-1zM96 213h1v1h-1zM97 210h2v1h-2zM98 211h1v1h-1zM98 212h1v1h-1zM98 213h1v1h-1zM104 210h1v1h-1zM104 211h1v1h-1zM104 212h1v1h-1zM104 213h1v1h-1zM106 211h1v1h-1zM106 213h1v1h-1zM109 210h2v1h-2zM110 211h1v1h-1zM110 212h1v1h-1zM110 213h1v1h-1zM112 210h3v1h-3zM112 211h1v1h-1zM114 211h1v1h-1zM112 212h1v1h-1zM114 212h1v1h-1zM112 213h3v1h-3zM115 210h3v1h-3zM115 211h1v1h-1zM117 211h1v1h-1zM115 212h1v1h-1zM117 212h1v1h-1zM115 213h3v1h-3zM162 210h1v1h-1zM161 211h1v1h-1zM163 211h1v1h-1zM161 212h3v1h-3zM161 213h1v1h-1zM164 213h1v1h-1zM165 210h2v1h-2zM166 211h1v1h-1zM166 212h1v1h-1zM166 213h1v1h-1zM172 210h1v1h-1zM172 211h1v1h-1zM172 212h1v1h-1zM172 213h1v1h-1zM174 211h1v1h-1zM174 213h1v1h-1zM177 210h2v1h-2zM178 211h1v1h-1zM178 212h1v1h-1zM178 213h1v1h-1zM180 210h3v1h-3zM180 211h1v1h-1zM182 211h1v1h-1zM180 212h1v1h-1zM182 212h1v1h-1zM180 213h3v1h-3zM183 210h3v1h-3zM183 211h1v1h-1zM185 211h1v1h-1zM183 212h1v1h-1zM185 212h1v1h-1zM183 213h3v1h-3zM233 210h1v1h-1zM232 211h1v1h-1zM234 211h1v1h-1zM232 212h3v1h-3zM232 213h1v1h-1zM235 213h1v1h-1zM236 210h2v1h-2zM237 211h1v1h-1zM237 212h1v1h-1zM237 213h1v1h-1zM243 210h1v1h-1zM243 211h1v1h-1zM243 212h1v1h-1zM243 213h1v1h-1zM245 211h1v1h-1zM245 213h1v1h-1zM248 210h2v1h-2zM249 211h1v1h-1zM249 212h1v1h-1zM249 213h1v1h-1zM251 210h3v1h-3zM251 211h1v1h-1zM253 211h1v1h-1zM251 212h1v1h-1zM253 212h1v1h-1zM251 213h3v1h-3zM254 210h3v1h-3zM254 211h1v1h-1zM256 211h1v1h-1zM254 212h1v1h-1zM256 212h1v1h-1zM254 213h3v1h-3zM306 210h1v1h-1zM305 211h1v1h-1zM307 211h1v1h-1zM305 212h3v1h-3zM305 213h1v1h-1zM308 213h1v1h-1zM309 210h2v1h-2zM310 211h1v1h-1zM310 212h1v1h-1zM310 213h1v1h-1zM316 210h1v1h-1zM316 211h1v1h-1zM316 212h1v1h-1zM316 213h1v1h-1zM318 211h1v1h-1zM318 213h1v1h-1zM321 210h2v1h-2zM322 211h1v1h-1zM322 212h1v1h-1zM322 213h1v1h-1zM324 210h3v1h-3zM324 211h1v1h-1zM326 211h1v1h-1zM324 212h1v1h-1zM326 212h1v1h-1zM324 213h3v1h-3zM327 210h3v1h-3zM327 211h1v1h-1zM329 211h1v1h-1zM327 212h1v1h-1zM329 212h1v1h-1zM327 213h3v1h-3zM374 210h1v1h-1zM373 211h1v1h-1zM375 211h1v1h-1zM373 212h3v1h-3zM373 213h1v1h-1zM376 213h1v1h-1zM377 210h2v1h-2zM378 211h1v1h-1zM378 212h1v1h-1zM378 213h1v1h-1zM384 210h1v1h-1zM384 211h1v1h-1zM384 212h1v1h-1zM384 213h1v1h-1zM386 211h1v1h-1zM386 213h1v1h-1zM389 210h2v1h-2zM390 211h1v1h-1zM390 212h1v1h-1zM390 213h1v1h-1zM392 210h3v1h-3zM392 211h1v1h-1zM394 211h1v1h-1zM392 212h1v1h-1zM394 212h1v1h-1zM392 213h3v1h-3zM395 210h3v1h-3zM395 211h1v1h-1zM397 211h1v1h-1zM395 212h1v1h-1zM397 212h1v1h-1zM395 213h3v1h-3z"/>
<path fill="#00ffff" d="M2 306h353v1h-353zM2 354h353v2h-353zM2 306h1v50h-1zM4 308h2v46h-2z"/>
<path fill="#00ff00" d="M15 308h1v1h-1z"/>
<path fill="#ffffff" d="M16 308h1v1h-1z"/>
<path fill="#00ff00" d="M21 308h1v1h-1z"/>
<path fill="#ffffff" d="M22 308h1v1h-1z"/>
<path fill="#00ff00" d="M27 308h1v1h-1z"/>
<path fill="#ffffff" d="M28 308h1v1h-1z"/>
<path fill="#00ff00" d="M33 308h1v1h-1z"/>
<path fill="#ffffff" d="M34 308h1v1h-1z"/>
<path fill="#00ff00" d="M39 308h1v1h-1z"/>
<path fill="#ffffff" d="M40 308h1v1h-1z"/>
<path fill="#00ff00" d="M45 308h1v1h-1z"/>
<path fill="#ffffff" d="M46 308h1v1h-1z"/>
<path fill="#00ff00" d="M51 308h1v1h-1z"/>
<path fill="#ffffff" d="M52 308h1v1h-1z"/>
<path fill="#00ff00" d="M15 309h41v1h-41z"/>
<path fill="#ffffff" d="M15 310h41v1h-41zM15 311h41v1h-41z"/>
<path fill="#00ff00" d="M15 310h1v2h-1zM18 310h1v2h-1zM21 310h1v2h-1zM24 310h1v2h-1zM27 310h1v2h-1zM30 310h1v2h-1zM33 310h1v2h-1zM36 310h1v2h-1zM39 310h1v2h-1zM42 310h1v2h-1zM45 310h1v2h-1zM48 310h1v2h-1zM51 310h1v2h-1zM54 310h1v2h-1zM15 312h41v1h-41zM12 313h1v33h-1zM11 314h1v1h-1zM13 315h1v1h-1zM11 317h1v1h-1zM13 318h1v1h-1zM11 320h1v1h-1zM13 321h1v1h-1zM11 323h1v1h-1zM13 324h1v1h-1zM11 326h1v1h-1zM13 327h1v1h-1zM11 329h1v1h-1zM13 330h1v1h-1zM11 332h1v1h-1zM13 333h1v1h-1zM11 335h1v1h-1zM13 336h1v1h-1zM11 338h1v1h-1zM13 339h1v1h-1zM11 341h1v1h-1zM13 342h1v1h-1zM11 344h1v1h-1zM13 345h1v1h-1z"/>
<path fill="#ffffff" d="M9 314h1v1h-1zM9 315h1v1h-1zM11 316h1v1h-1z"/>
<path fill="#00ff00" d="M13 314h2v1h-2z"/>
<path fill="#ffffff" d="M9 320h1v1h-1zM9 321h1v1h-1zM11 322h1v1h-1z"/>
<path fill="#00ff00" d="M13 320h2v1h-2z"/>
<path fill="#ffffff" d="M9 326h1v1h-1zM9 327h1v1h-1zM11 328h1v1h-1z"/>
<path fill="#00ff00" d="M13 326h2v1h-2z"/>
<path fill="#ffffff" d="M9 332h1v1h-1zM9 333h1v1h-1zM11 334h1v1h-1z"/>
<path fill="#00ff00" d="M13 332h2v1h-2z"/>
<path fill="#ffffff" d="M9 338h1v1h-1zM9 339h1v1h-1zM11 340h1v1h-1z"/>
<path fill="#00ff00" d="M13 338h2v1h-2z"/>
<path fill="#ffffff" d="M9 344h1v1h-1zM9 345h1v1h-1zM11 346h1v1h-1z"/>
<path fill="#00ff00" d="M13 344h2v1h-2zM57 313h1v33h-1zM58 314h1v1h-1zM56 315h1v1h-1zM58 317h1v1h-1zM56 318h1v1h-1zM58 320h1v1h-1zM56 321h1v1h-1zM58 323h1v1h-1zM56 324h1v1h-1zM58 326h1v1h-1zM56 327h1v1h-1zM58 329h1v1h-1zM56 330h1v1h-1zM58 332h1v1h-1zM56 333h1v1h-1zM58 335h1v1h-1zM56 336h1v1h-1zM58 338h1v1h-1zM56 339h1v1h-1zM58 341h1v1h-1zM56 342h1v1h-1zM58 344h1v1h-1zM56 345h1v1h-1z"/>
<path fill="#ffffff" d="M60 314h1v1h-1zM58 316h1v1h-1zM60 320h1v1h-1zM58 322h1v1h-1zM60 326h1v1h-1zM58 328h1v1h-1zM60 332h1v1h-1zM58 334h1v1h-1zM60 338h1v1h-1zM58 340h1v1h-1zM60 344h1v1h-1zM58 346h1v1h-1z"/>
<path fill="#00ff00" d="M15 347h41v2h-41z"/>
<path fill="#ffffff" d="M14 350h2v1h-2zM17 347h1v1h-1z"/>
<path fill="#000000" d="M18 348h1v1h-1z"/>
<path fill="#ffffff" d="M20 350h2v1h-2zM23 347h1v1h-1z"/>
<path fill="#000000" d="M24 348h1v1h-1z"/>
<path fill="#ffffff" d="M26 350h2v1h-2zM29 347h1v1h-1z"/>
<path fill="#000000" d="M30 348h1v1h-1z"/>
<path fill="#ffffff" d="M32 350h2v1h-2zM35 347h1v1h-1z"/>
<path fill="#000000" d="M36 348h1v1h-1z"/>
<path fill="#ffffff" d="M38 350h2v1h-2zM41 347h1v1h-1z"/>
<path fill="#000000" d="M42 348h1v1h-1z"/>
<path fill="#ffffff" d="M44 350h2v1h-2zM47 347h1v1h-1z"/>
<path fill="#000000" d="M48 348h1v1h-1z"/>
<path fill="#ffffff" d="M50 350h2v1h-2zM53 347h1v1h-1z"/>
<path fill="#000000" d="M54 348h1v1h-1z"/>
<path fill="#cc0033" d="M15 314h27v1h-27zM15 317h27v1h-27zM15 320h27v1h-27zM15 323h27v1h-27zM15 326h27v1h-27zM15 329h27v1h-27zM15 332h27v1h-27zM15 313h1v19h-1zM21 313h1v19h-1zM27 313h1v19h-1zM33 313h1v19h-1zM39 313h1v19h-1z"/>
<path fill="#ffffff" d="M41 313h2v31h-2z"/>
<path fill="#00ffff" d="M43 316h11v1h-11zM43 319h11v1h-11zM43 322h11v1h-11zM43 325h11v1h-11zM43 328h11v1h-11z"/>
<path fill="#cc0033" d="M47 313h1v32h-1zM49 313h1v32h-1zM54 313h1v32h-1zM41 313h14v1h-14z"/>
<path fill="#ffffff" d="M43 311h9v3h-9zM14 332h8v7h-8zM33 330h14v9h-14zM23 333h9v2h-9z"/>
<path fill="#cc0033" d="M15 339h40v1h-40zM15 339h1v6h-1zM18 339h1v6h-1zM21 339h1v6h-1zM24 339h1v6h-1zM27 339h1v6h-1zM30 339h1v6h-1zM33 339h1v6h-1zM36 339h1v6h-1zM39 339h1v6h-1zM42 339h1v6h-1zM45 339h1v6h-1zM48 339h1v6h-1zM51 339h1v6h-1zM54 339h1v6h-1z"/>
<path fill="#ffff00" d="M15 338h1v1h-1zM19 338h1v1h-1zM23 338h1v1h-1zM27 338h1v1h-1zM31 338h1v1h-1zM35 338h1v1h-1zM39 338h1v1h-1zM43 338h1v1h-1zM47 338h1v1h-1zM51 338h1v1h-1z"/>
<path fill="#ffffff" d="M15 345h40v2h-40zM28 351h10v3h-10zM40 352h3v1h-3z"/>
<path fill="#00ffff" d="M66 306h8v49h-8z"/>
<path fill="#000000" d="M67 309h5v3h-5zM67 315h5v2h-5zM67 318h5v19h-5zM67 338h5v2h-5zM67 341h5v3h-5z"/>
<path fill="#ffffff" d="M67 323h5v2h-5z"/>
<path fill="#ff0000" d="M67 326h5v1h-5z"/>
<path fill="#ffffff" d="M67 327h5v2h-5zM68 352h3v1h-3zM70 353h2v1h-2z"/>
<path fill="#000000" d="M74 308h1v46h-1z"/>
<path fill="#00ffff" d="M75 306h1v49h-1z"/>
<path fill="#00ff00" d="M85 308h1v1h-1z"/>
<path fill="#ffffff" d="M86 308h1v1h-1z"/>
<path fill="#00ff00" d="M91 308h1v1h-1z"/>
<path fill="#ffffff" d="M92 308h1v1h-1z"/>
<path fill="#00ff00" d="M97 308h1v1h-1z"/>
<path fill="#ffffff" d="M98 308h1v1h-1z"/>
<path fill="#00ff00" d="M103 308h1v1h-1z"/>
<path fill="#ffffff" d="M104 308h1v1h-1z"/>
<path fill="#00ff00" d="M109 308h1v1h-1z"/>
<path fill="#ffffff" d="M110 308h1v1h-1z"/>
<path fill="#00ff00" d="M115 308h1v1h-1z"/>
<path fill="#ffffff" d="M116 308h1v1h-1z"/>
<path fill="#00ff00" d="M121 308h1v1h-1z"/>
<path fill="#ffffff" d="M122 308h1v1h-1z"/>
<path fill="#00ff00" d="M85 309h41v1h-41z"/>
<path fill="#ffffff" d="M85 310h41v1h-41zM85 311h41v1h-41z"/>
<path fill="#00ff00" d="M85 310h1v2h-1zM88 310h1v2h-1zM91 310h1v2h-1zM94 310h1v2h-1zM97 310h1v2h-1zM100 310h1v2h-1zM103 310h1v2h-1zM106 310h1v2h-1zM109 310h1v2h-1zM112 310h1v2h-1zM115 310h1v2h-1zM118 310h1v2h-1zM121 310h1v2h-1zM124 310h1v2h-1zM85 312h41v1h-41zM82 313h1v33h-1zM81 314h1v1h-1zM83 315h1v1h-1zM81 317h1v1h-1zM83 318h1v1h-1zM81 320h1v1h-1zM83 321h1v1h-1zM81 323h1v1h-1zM83 324h1v1h-1zM81 326h1v1h-1zM83 327h1v1h-1zM81 329h1v1h-1zM83 330h1v1h-1zM81 332h1v1h-1zM83 333h1v1h-1zM81 335h1v1h-1zM83 336h1v1h-1zM81 338h1v1h-1zM83 339h1v1h-1zM81 341h1v1h-1zM83 342h1v1h-1zM81 344h1v1h-1zM83 345h1v1h-1z"/>
<path fill="#ffffff" d="M79 314h1v1h-1zM79 315h1v1h-1zM81 316h1v1h-1z"/>
<path fill="#00ff00" d="M83 314h2v1h-2z"/>
<path fill="#ffffff" d="M79 320h1v1h-1zM79 321h1v1h-1zM81 322h1v1h-1z"/>
<path fill="#00ff00" d="M83 320h2v1h-2z"/>
<path fill="#ffffff" d="M79 326h1v1h-1zM79 327h1v1h-1zM81 328h1v1h-1z"/>
<path fill="#00ff00" d="M83 326h2v1h-2z"/>
<path fill="#ffffff" d="M79 332h1v1h-1zM79 333h1v1h-1zM81 334h1v1h-1z"/>
<path fill="#00ff00" d="M83 332h2v1h-2z"/>
<path fill="#ffffff" d="M79 338h1v1h-1zM79 339h1v1h-1zM81 340h1v1h-1z"/>
<path fill="#00ff00" d="M83 338h2v1h-2z"/>
<path fill="#ffffff" d="M79 344h1v1h-1zM79 345h1v1h-1zM81 346h1v1h-1z"/>
<path fill="#00ff00" d="M83 344h2v1h-2zM127 313h1v33h-1zM128 314h1v1h-1zM126 315h1v1h-1zM128 317h1v1h-1zM126 318h1v1h-1zM128 320h1v1h-1zM126 321h1v1h-1zM128 323h1v1h-1zM126 324h1v1h-1zM128 326h1v1h-1zM126 327h1v1h-1zM128 329h1v1h-1zM126 330h1v1h-1zM128 332h1v1h-1zM126 333h1v1h-1zM128 335h1v1h-1zM126 336h1v1h-1zM128 338h1v1h-1zM126 339h1v1h-1zM128 341h1v1h-1zM126 342h1v1h-1zM128 344h1v1h-1zM126 345h1v1h-1z"/>
<path fill="#ffffff" d="M130 314h1v1h-1zM128 316h1v1h-1zM130 320h1v1h-1zM128 322h1v1h-1zM130 326h1v1h-1zM128 328h1v1h-1zM130 332h1v1h-1zM128 334h1v1h-1zM130 338h1v1h-1zM128 340h1v1h-1zM130 344h1v1h-1zM128 346h1v1h-1z"/>
<path fill="#00ff00" d="M85 347h41v2h-41z"/>
<path fill="#ffffff" d="M84 350h2v1h-2zM87 347h1v1h-1z"/>
<path fill="#000000" d="M88 348h1v1h-1z"/>
<path fill="#ffffff" d="M90 350h2v1h-2zM93 347h1v1h-1z"/>
<path fill="#000000" d="M94 348h1v1h-1z"/>
<path fill="#ffffff" d="M96 350h2v1h-2zM99 347h1v1h-1z"/>
<path fill="#000000" d="M100 348h1v1h-1z"/>
<path fill="#ffffff" d="M102 350h2v1h-2zM105 347h1v1h-1z"/>
<path fill="#000000" d="M106 348h1v1h-1z"/>
<path fill="#ffffff" d="M108 350h2v1h-2zM111 347h1v1h-1z"/>
<path fill="#000000" d="M112 348h1v1h-1z"/>
<path fill="#ffffff" d="M114 350h2v1h-2zM117 347h1v1h-1z"/>
<path fill="#000000" d="M118 348h1v1h-1z"/>
<path fill="#ffffff" d="M120 350h2v1h-2zM123 347h1v1h-1z"/>
<path fill="#000000" d="M124 348h1v1h-1z"/>
<path fill="#cc0033" d="M85 314h27v1h-27zM85 317h27v1h-27zM85 320h27v1h-27zM85 323h27v1h-27zM85 326h27v1h-27zM85 329h27v1h-27zM85 332h27v1h-27zM85 313h1v19h-1zM91 313h1v19h-1zM97 313h1v19h-1zM103 313h1v19h-1zM109 313h1v19h-1z"/>
<path fill="#ffffff" d="M111 313h3v21h-3z"/>
<path fill="#cc0033" d="M114 314h10v1h-10z"/>
<path fill="#00ffff" d="M115 315h1v1h-1z"/>
<path fill="#ffff00" d="M120 315h1v1h-1z"/>
<path fill="#ff0000" d="M114 313h1v1h-1z"/>
<path fill="#cc0033" d="M114 317h10v1h-10z"/>
<path fill="#00ffff" d="M115 318h1v1h-1z"/>
<path fill="#ffffff" d="M120 318h1v1h-1z"/>
<path fill="#ff0000" d="M114 316h1v1h-1z"/>
<path fill="#cc0033" d="M114 320h10v1h-10z"/>
<path fill="#ffffff" d="M115 321h1v1h-1z"/>
<path fill="#00ffff" d="M120 321h1v1h-1z"/>
<path fill="#ff0000" d="M114 319h1v1h-1z"/>
<path fill="#cc0033" d="M114 323h10v1h-10z"/>
<path fill="#ffff00" d="M115 324h1v1h-1z"/>
<path fill="#ffffff" d="M120 324h1v1h-1z"/>
<path fill="#ff0000" d="M114 322h1v1h-1z"/>
<path fill="#cc0033" d="M114 326h10v1h-10z"/>
<path fill="#ffffff" d="M115 327h1v1h-1z"/>
<path fill="#00ffff" d="M120 327h1v1h-1z"/>
<path fill="#ff0000" d="M114 325h1v1h-1z"/>
<path fill="#cc0033" d="M114 329h10v1h-10z"/>
<path fill="#00ffff" d="M115 330h1v1h-1z"/>
<path fill="#ffffff" d="M120 330h1v1h-1z"/>
<path fill="#ff0000" d="M114 328h1v1h-1z"/>
<path fill="#cc0033" d="M114 332h10v1h-10z"/>
<path fill="#ffffff" d="M115 333h1v1h-1z"/>
<path fill="#ffff00" d="M120 333h1v1h-1z"/>
<path fill="#ff0000" d="M114 331h1v1h-1z"/>
<path fill="#cc0033" d="M114 335h10v1h-10z"/>
<path fill="#ffff00" d="M115 336h1v1h-1zM120 336h1v1h-1z"/>
<path fill="#ff0000" d="M114 334h1v1h-1zM118 313h1v33h-1z"/>
<path fill="#ffffff" d="M124 313h3v33h-3z"/>
<path fill="#000000" d="M125 315h1v1h-1zM125 319h1v1h-1zM125 323h1v1h-1zM125 327h1v1h-1zM125 331h1v1h-1zM125 335h1v1h-1zM125 339h1v1h-1zM125 343h1v1h-1z"/>
<path fill="#ffffff" d="M85 331h33v8h-33z"/>
<path fill="#cc0033" d="M93 333h1v6h-1zM95 333h1v6h-1zM97 333h1v6h-1zM99 333h1v6h-1zM101 333h1v6h-1zM103 333h1v6h-1zM105 333h1v6h-1zM107 333h1v6h-1zM109 333h1v6h-1zM87 333h1v1h-1zM88 334h1v1h-1zM88 335h1v1h-1zM89 336h1v1h-1zM89 337h1v1h-1zM90 338h1v1h-1zM86 336h6v1h-6z"/>
<path fill="#ffffff" d="M85 339h40v7h-40z"/>
<path fill="#cc0033" d="M85 339h40v1h-40zM85 339h1v6h-1z"/>
<path fill="#ffffff" d="M86 341h1v1h-1z"/>
<path fill="#ffff00" d="M87 344h1v1h-1z"/>
<path fill="#cc0033" d="M88 339h1v6h-1z"/>
<path fill="#ffffff" d="M89 341h1v1h-1z"/>
<path fill="#00ffff" d="M90 344h1v1h-1z"/>
<path fill="#cc0033" d="M91 339h1v6h-1z"/>
<path fill="#ffffff" d="M92 341h1v1h-1z"/>
<path fill="#00ffff" d="M93 344h1v1h-1z"/>
<path fill="#cc0033" d="M94 339h1v6h-1z"/>
<path fill="#ffffff" d="M95 341h1v1h-1z"/>
<path fill="#ffff00" d="M96 344h1v1h-1z"/>
<path fill="#cc0033" d="M97 339h1v6h-1z"/>
<path fill="#ffffff" d="M98 341h1v1h-1z"/>
<path fill="#ffff00" d="M99 344h1v1h-1z"/>
<path fill="#cc0033" d="M100 339h1v6h-1zM101 341h1v1h-1z"/>
<path fill="#000000" d="M102 344h1v1h-1z"/>
<path fill="#cc0033" d="M103 339h1v6h-1zM104 341h1v1h-1z"/>
<path fill="#ffffff" d="M105 344h1v1h-1z"/>
<path fill="#cc0033" d="M106 339h1v6h-1z"/>
<path fill="#ffffff" d="M107 341h1v1h-1z"/>
<path fill="#000000" d="M108 344h1v1h-1z"/>
<path fill="#cc0033" d="M109 339h1v6h-1zM110 341h1v1h-1z"/>
<path fill="#ffffff" d="M111 344h1v1h-1z"/>
<path fill="#cc0033" d="M112 339h1v6h-1z"/>
<path fill="#ffffff" d="M113 341h1v1h-1z"/>
<path fill="#00ffff" d="M114 344h1v1h-1z"/>
<path fill="#cc0033" d="M115 339h1v6h-1z"/>
<path fill="#ff0000" d="M116 341h1v1h-1z"/>
<path fill="#ffff00" d="M117 344h1v1h-1z"/>
<path fill="#cc0033" d="M118 339h1v6h-1zM119 341h1v1h-1z"/>
<path fill="#00ffff" d="M120 344h1v1h-1z"/>
<path fill="#cc0033" d="M121 339h1v6h-1zM122 341h1v1h-1z"/>
<path fill="#ffffff" d="M123 344h1v1h-1z"/>
<path fill="#cc0033" d="M124 339h1v6h-1z"/>
<path fill="#ff0000" d="M125 341h1v1h-1z"/>
<path fill="#ffffff" d="M126 344h1v1h-1z"/>
<path fill="#ff0000" d="M113 344h1v1h-1zM114 343h1v1h-1zM115 342h1v1h-1zM116 341h1v1h-1zM117 340h1v1h-1zM118 339h1v1h-1zM119 338h1v1h-1zM120 337h1v1h-1zM121 336h1v1h-1zM122 335h1v1h-1zM123 334h1v1h-1z"/>
<path fill="#ffffff" d="M85 346h40v1h-40zM97 351h10v3h-10zM109 352h3v1h-3z"/>
<path fill="#00ffff" d="M136 306h8v49h-8z"/>
<path fill="#000000" d="M137 309h5v3h-5zM137 315h5v2h-5zM137 318h5v19h-5zM137 338h5v2h-5zM137 341h5v3h-5z"/>
<path fill="#ffffff" d="M137 323h5v2h-5z"/>
<path fill="#ff0000" d="M137 326h5v1h-5z"/>
<path fill="#ffffff" d="M137 327h5v2h-5zM138 352h3v1h-3zM140 353h2v1h-2z"/>
<path fill="#000000" d="M144 308h1v46h-1z"/>
<path fill="#00ffff" d="M145 306h1v49h-1z"/>
<path fill="#00ff00" d="M157 308h1v1h-1z"/>
<path fill="#ffffff" d="M158 308h1v1h-1z"/>
<path fill="#00ff00" d="M163 308h1v1h-1z"/>
<path fill="#ffffff" d="M164 308h1v1h-1z"/>
<path fill="#00ff00" d="M169 308h1v1h-1z"/>
<path fill="#ffffff" d="M170 308h1v1h-1z"/>
<path fill="#00ff00" d="M175 308h1v1h-1z"/>
<path fill="#ffffff" d="M176 308h1v1h-1z"/>
<path fill="#00ff00" d="M181 308h1v1h-1z"/>
<path fill="#ffffff" d="M182 308h1v1h-1z"/>
<path fill="#00ff00" d="M187 308h1v1h-1z"/>
<path fill="#ffffff" d="M188 308h1v1h-1z"/>
<path fill="#00ff00" d="M193 308h1v1h-1z"/>
<path fill="#ffffff" d="M194 308h1v1h-1z"/>
<path fill="#00ff00" d="M157 309h41v1h-41z"/>
<path fill="#ffffff" d="M157 310h41v1h-41zM157 311h41v1h-41z"/>
<path fill="#00ff00" d="M157 310h1v2h-1zM160 310h1v2h-1zM163 310h1v2h-1zM166 310h1v2h-1zM169 310h1v2h-1zM172 310h1v2h-1zM175 310h1v2h-1zM178 310h1v2h-1zM181 310h1v2h-1zM184 310h1v2h-1zM187 310h1v2h-1zM190 310h1v2h-1zM193 310h1v2h-1zM196 310h1v2h-1zM157 312h41v1h-41zM154 313h1v33h-1zM153 314h1v1h-1zM155 315h1v1h-1zM153 317h1v1h-1zM155 318h1v1h-1zM153 320h1v1h-1zM155 321h1v1h-1zM153 323h1v1h-1zM155 324h1v1h-1zM153 326h1v1h-1zM155 327h1v1h-1zM153 329h1v1h-1zM155 330h1v1h-1zM153 332h1v1h-1zM155 333h1v1h-1zM153 335h1v1h-1zM155 336h1v1h-1zM153 338h1v1h-1zM155 339h1v1h-1zM153 341h1v1h-1zM155 342h1v1h-1zM153 344h1v1h-1zM155 345h1v1h-1z"/>
<path fill="#ffffff" d="M151 314h1v1h-1zM151 315h1v1h-1zM153 316h1v1h-1z"/>
<path fill="#00ff00" d="M155 314h2v1h-2z"/>
<path fill="#ffffff" d="M151 320h1v1h-1zM151 321h1v1h-1zM153 322h1v1h-1z"/>
<path fill="#00ff00" d="M155 320h2v1h-2z"/>
<path fill="#ffffff" d="M151 326h1v1h-1zM151 327h1v1h-1zM153 328h1v1h-1z"/>
<path fill="#00ff00" d="M155 326h2v1h-2z"/>
<path fill="#ffffff" d="M151 332h1v1h-1zM151 333h1v1h-1zM153 334h1v1h-1z"/>
<path fill="#00ff00" d="M155 332h2v1h-2z"/>
<path fill="#ffffff" d="M151 338h1v1h-1zM151 339h1v1h-1zM153 340h1v1h-1z"/>
<path fill="#00ff00" d="M155 338h2v1h-2z"/>
<path fill="#ffffff" d="M151 344h1v1h-1zM151 345h1v1h-1zM153 346h1v1h-1z"/>
<path fill="#00ff00" d="M155 344h2v1h-2zM199 313h1v33h-1zM200 314h1v1h-1zM198 315h1v1h-1zM200 317h1v1h-1zM198 318h1v1h-1zM200 320h1v1h-1zM198 321h1v1h-1zM200 323h1v1h-1zM198 324h1v1h-1zM200 326h1v1h-1zM198 327h1v1h-1zM200 329h1v1h-1zM198 330h1v1h-1zM200 332h1v1h-1zM198 333h1v1h-1zM200 335h1v1h-1zM198 336h1v1h-1zM200 338h1v1h-1zM198 339h1v1h-1zM200 341h1v1h-1zM198 342h1v1h-1zM200 344h1v1h-1zM198 345h1v1h-1z"/>
<path fill="#ffffff" d="M202 314h1v1h-1zM200 316h1v1h-1zM202 320h1v1h-1zM200 322h1v1h-1zM202 326h1v1h-1zM200 328h1v1h-1zM202 332h1v1h-1zM200 334h1v1h-1zM202 338h1v1h-1zM200 340h1v1h-1zM202 344h1v1h-1zM200 346h1v1h-1z"/>
<path fill="#00ff00" d="M157 347h41v2h-41z"/>
<path fill="#ffffff" d="M156 350h2v1h-2zM159 347h1v1h-1z"/>
<path fill="#000000" d="M160 348h1v1h-1z"/>
<path fill="#ffffff" d="M162 350h2v1h-2zM165 347h1v1h-1z"/>
<path fill="#000000" d="M166 348h1v1h-1z"/>
<path fill="#ffffff" d="M168 350h2v1h-2zM171 347h1v1h-1z"/>
<path fill="#000000" d="M172 348h1v1h-1z"/>
<path fill="#ffffff" d="M174 350h2v1h-2zM177 347h1v1h-1z"/>
<path fill="#000000" d="M178 348h1v1h-1z"/>
<path fill="#ffffff" d="M180 350h2v1h-2zM183 347h1v1h-1z"/>
<path fill="#000000" d="M184 348h1v1h-1z"/>
<path fill="#ffffff" d="M186 350h2v1h-2zM189 347h1v1h-1z"/>
<path fill="#000000" d="M190 348h1v1h-1z"/>
<path fill="#ffffff" d="M192 350h2v1h-2zM195 347h1v1h-1z"/>
<path fill="#000000" d="M196 348h1v1h-1z"/>
<path fill="#cc0033" d="M157 314h27v1h-27zM157 317h27v1h-27zM157 320h27v1h-27zM157 323h27v1h-27zM157 326h27v1h-27zM157 329h27v1h-27zM157 332h27v1h-27zM157 313h1v19h-1zM163 313h1v19h-1zM169 313h1v19h-1zM175 313h1v19h-1zM181 313h1v19h-1z"/>
<path fill="#ffffff" d="M183 313h3v21h-3z"/>
<path fill="#cc0033" d="M186 314h10v1h-10z"/>
<path fill="#ffff00" d="M187 315h1v1h-1z"/>
<path fill="#00ffff" d="M192 315h1v1h-1z"/>
<path fill="#ff0000" d="M186 313h1v1h-1z"/>
<path fill="#cc0033" d="M186 317h10v1h-10z"/>
<path fill="#00ffff" d="M187 318h1v1h-1zM192 318h1v1h-1z"/>
<path fill="#ff0000" d="M186 316h1v1h-1z"/>
<path fill="#cc0033" d="M186 320h10v1h-10z"/>
<path fill="#ffff00" d="M187 321h1v1h-1zM192 321h1v1h-1z"/>
<path fill="#ff0000" d="M186 319h1v1h-1z"/>
<path fill="#cc0033" d="M186 323h10v1h-10z"/>
<path fill="#00ffff" d="M187 324h1v1h-1z"/>
<path fill="#ffffff" d="M192 324h1v1h-1z"/>
<path fill="#ff0000" d="M186 322h1v1h-1z"/>
<path fill="#cc0033" d="M186 326h10v1h-10z"/>
<path fill="#00ffff" d="M187 327h1v1h-1z"/>
<path fill="#ffff00" d="M192 327h1v1h-1z"/>
<path fill="#ff0000" d="M186 325h1v1h-1z"/>
<path fill="#cc0033" d="M186 329h10v1h-10z"/>
<path fill="#ffffff" d="M187 330h1v1h-1z"/>
<path fill="#00ffff" d="M192 330h1v1h-1z"/>
<path fill="#ff0000" d="M186 328h1v1h-1z"/>
<path fill="#cc0033" d="M186 332h10v1h-10z"/>
<path fill="#ffffff" d="M187 333h1v1h-1zM192 333h1v1h-1z"/>
<path fill="#ff0000" d="M186 331h1v1h-1z"/>
<path fill="#cc0033" d="M186 335h10v1h-10z"/>
<path fill="#00ffff" d="M187 336h1v1h-1zM192 336h1v1h-1z"/>
<path fill="#ff0000" d="M186 334h1v1h-1zM190 313h1v33h-1z"/>
<path fill="#ffffff" d="M196 313h3v33h-3z"/>
<path fill="#000000" d="M197 315h1v1h-1zM197 319h1v1h-1zM197 323h1v1h-1zM197 327h1v1h-1zM197 331h1v1h-1zM197 335h1v1h-1zM197 339h1v1h-1zM197 343h1v1h-1z"/>
<path fill="#ffffff" d="M157 331h33v8h-33z"/>
<path fill="#cc0033" d="M165 333h1v6h-1zM167 333h1v6h-1zM169 333h1v6h-1zM171 333h1v6h-1zM173 333h1v6h-1zM175 333h1v6h-1zM177 333h1v6h-1zM179 333h1v6h-1zM181 333h1v6h-1zM159 333h1v1h-1zM160 334h1v1h-1zM160 335h1v1h-1zM161 336h1v1h-1zM161 337h1v1h-1zM162 338h1v1h-1zM158 336h6v1h-6z"/>
<path fill="#ffffff" d="M157 339h40v7h-40z"/>
<path fill="#cc0033" d="M157 339h40v1h-40zM157 339h1v6h-1zM158 341h1v1h-1z"/>
<path fill="#ffff00" d="M159 344h1v1h-1z"/>
<path fill="#cc0033" d="M160 339h1v6h-1z"/>
<path fill="#ffffff" d="M161 341h1v1h-1z"/>
<path fill="#ffff00" d="M162 344h1v1h-1z"/>
<path fill="#cc0033" d="M163 339h1v6h-1z"/>
<path fill="#ffffff" d="M164 341h1v1h-1z"/>
<path fill="#000000" d="M165 344h1v1h-1z"/>
<path fill="#cc0033" d="M166 339h1v6h-1z"/>
<path fill="#ff0000" d="M167 341h1v1h-1z"/>
<path fill="#000000" d="M168 344h1v1h-1z"/>
<path fill="#cc0033" d="M169 339h1v6h-1zM170 341h1v1h-1z"/>
<path fill="#ffff00" d="M171 344h1v1h-1z"/>
<path fill="#cc0033" d="M172 339h1v6h-1z"/>
<path fill="#ffffff" d="M173 341h1v1h-1z"/>
<path fill="#000000" d="M174 344h1v1h-1z"/>
<path fill="#cc0033" d="M175 339h1v6h-1zM176 341h1v1h-1z"/>
<path fill="#ffff00" d="M177 344h1v1h-1z"/>
<path fill="#cc0033" d="M178 339h1v6h-1z"/>
<path fill="#ff0000" d="M179 341h1v1h-1z"/>
<path fill="#00ffff" d="M180 344h1v1h-1z"/>
<path fill="#cc0033" d="M181 339h1v6h-1zM182 341h1v1h-1z"/>
<path fill="#00ffff" d="M183 344h1v1h-1z"/>
<path fill="#cc0033" d="M184 339h1v6h-1z"/>
<path fill="#ff0000" d="M185 341h1v1h-1z"/>
<path fill="#00ffff" d="M186 344h1v1h-1z"/>
<path fill="#cc0033" d="M187 339h1v6h-1z"/>
<path fill="#ffffff" d="M188 341h1v1h-1zM189 344h1v1h-1z"/>
<path fill="#cc0033" d="M190 339h1v6h-1z"/>
<path fill="#ff0000" d="M191 341h1v1h-1z"/>
<path fill="#00ffff" d="M192 344h1v1h-1z"/>
<path fill="#cc0033" d="M193 339h1v6h-1z"/>
<path fill="#ffffff" d="M194 341h1v1h-1zM195 344h1v1h-1z"/>
<path fill="#cc0033" d="M196 339h1v6h-1z"/>
<path fill="#ffffff" d="M197 341h1v1h-1z"/>
<path fill="#00ffff" d="M198 344h1v1h-1z"/>
<path fill="#ff0000" d="M185 344h1v1h-1zM186 343h1v1h-1zM187 342h1v1h-1zM188 341h1v1h-1zM189 340h1v1h-1zM190 339h1v1h-1zM191 338h1v1h-1zM192 337h1v1h-1zM193 336h1v1h-1zM194 335h1v1h-1zM195 334h1v1h-1z"/>
<path fill="#ffffff" d="M157 346h40v1h-40zM173 351h10v3h-10zM185 352h3v1h-3z"/>
<path fill="#00ffff" d="M206 306h8v49h-8z"/>
<path fill="#000000" d="M207 309h5v3h-5zM207 315h5v2h-5zM207 318h5v19h-5zM207 338h5v2h-5zM207 341h5v3h-5z"/>
<path fill="#ffffff" d="M207 323h5v2h-5z"/>
<path fill="#ff0000" d="M207 326h5v1h-5z"/>
<path fill="#ffffff" d="M207 327h5v2h-5zM208 352h3v1h-3zM210 353h2v1h-2z"/>
<path fill="#000000" d="M214 308h1v46h-1z"/>
<path fill="#00ffff" d="M215 306h1v49h-1z"/>
<path fill="#00ff00" d="M226 308h1v1h-1z"/>
<path fill="#ffffff" d="M227 308h1v1h-1z"/>
<path fill="#00ff00" d="M232 308h1v1h-1z"/>
<path fill="#ffffff" d="M233 308h1v1h-1z"/>
<path fill="#00ff00" d="M238 308h1v1h-1z"/>
<path fill="#ffffff" d="M239 308h1v1h-1z"/>
<path fill="#00ff00" d="M244 308h1v1h-1z"/>
<path fill="#ffffff" d="M245 308h1v1h-1z"/>
<path fill="#00ff00" d="M250 308h1v1h-1z"/>
<path fill="#ffffff" d="M251 308h1v1h-1z"/>
<path fill="#00ff00" d="M256 308h1v1h-1z"/>
<path fill="#ffffff" d="M257 308h1v1h-1z"/>
<path fill="#00ff00" d="M262 308h1v1h-1z"/>
<path fill="#ffffff" d="M263 308h1v1h-1z"/>
<path fill="#00ff00" d="M226 309h41v1h-41z"/>
<path fill="#ffffff" d="M226 310h41v1h-41zM226 311h41v1h-41z"/>
<path fill="#00ff00" d="M226 310h1v2h-1zM229 310h1v2h-1zM232 310h1v2h-1zM235 310h1v2h-1zM238 310h1v2h-1zM241 310h1v2h-1zM244 310h1v2h-1zM247 310h1v2h-1zM250 310h1v2h-1zM253 310h1v2h-1zM256 310h1v2h-1zM259 310h1v2h-1zM262 310h1v2h-1zM265 310h1v2h-1zM226 312h41v1h-41zM223 313h1v33h-1zM222 314h1v1h-1zM224 315h1v1h-1zM222 317h1v1h-1zM224 318h1v1h-1zM222 320h1v1h-1zM224 321h1v1h-1zM222 323h1v1h-1zM224 324h1v1h-1zM222 326h1v1h-1zM224 327h1v1h-1zM222 329h1v1h-1zM224 330h1v1h-1zM222 332h1v1h-1zM224 333h1v1h-1zM222 335h1v1h-1zM224 336h1v1h-1zM222 338h1v1h-1zM224 339h1v1h-1zM222 341h1v1h-1zM224 342h1v1h-1zM222 344h1v1h-1zM224 345h1v1h-1z"/>
<path fill="#ffffff" d="M220 314h1v1h-1zM220 315h1v1h-1zM222 316h1v1h-1z"/>
<path fill="#00ff00" d="M224 314h2v1h-2z"/>
<path fill="#ffffff" d="M220 320h1v1h-1zM220 321h1v1h-1zM222 322h1v1h-1z"/>
<path fill="#00ff00" d="M224 320h2v1h-2z"/>
<path fill="#ffffff" d="M220 326h1v1h-1zM220 327h1v1h-1zM222 328h1v1h-1z"/>
<path fill="#00ff00" d="M224 326h2v1h-2z"/>
<path fill="#ffffff" d="M220 332h1v1h-1zM220 333h1v1h-1zM222 334h1v1h-1z"/>
<path fill="#00ff00" d="M224 332h2v1h-2z"/>
<path fill="#ffffff" d="M220 338h1v1h-1zM220 339h1v1h-1zM222 340h1v1h-1z"/>
<path fill="#00ff00" d="M224 338h2v1h-2z"/>
<path fill="#ffffff" d="M220 344h1v1h-1zM220 345h1v1h-1zM222 346h1v1h-1z"/>
<path fill="#00ff00" d="M224 344h2v1h-2zM268 313h1v33h-1zM269 314h1v1h-1zM267 315h1v1h-1zM269 317h1v1h-1zM267 318h1v1h-1zM269 320h1v1h-1zM267 321h1v1h-1zM269 323h1v1h-1zM267 324h1v1h-1zM269 326h1v1h-1zM267 327h1v1h-1zM269 329h1v1h-1zM267 330h1v1h-1zM269 332h1v1h-1zM267 333h1v1h-1zM269 335h1v1h-1zM267 336h1v1h-1zM269 338h1v1h-1zM267 339h1v1h-1zM269 341h1v1h-1zM267 342h1v1h-1zM269 344h1v1h-1zM267 345h1v1h-1z"/>
<path fill="#ffffff" d="M271 314h1v1h-1zM269 316h1v1h-1zM271 320h1v1h-1zM269 322h1v1h-1zM271 326h1v1h-1zM269 328h1v1h-1zM271 332h1v1h-1zM269 334h1v1h-1zM271 338h1v1h-1zM269 340h1v1h-1zM271 344h1v1h-1zM269 346h1v1h-1z"/>
<path fill="#00ff00" d="M226 347h41v2h-41z"/>
<path fill="#ffffff" d="M225 350h2v1h-2zM228 347h1v1h-1z"/>
<path fill="#000000" d="M229 348h1v1h-1z"/>
<path fill="#ffffff" d="M231 350h2v1h-2zM234 347h1v1h-1z"/>
<path fill="#000000" d="M235 348h1v1h-1z"/>
<path fill="#ffffff" d="M237 350h2v1h-2zM240 347h1v1h-1z"/>
<path fill="#000000" d="M241 348h1v1h-1z"/>
<path fill="#ffffff" d="M243 350h2v1h-2zM246 347h1v1h-1z"/>
<path fill="#000000" d="M247 348h1v1h-1z"/>
<path fill="#ffffff" d="M249 350h2v1h-2zM252 347h1v1h-1z"/>
<path fill="#000000" d="M253 348h1v1h-1z"/>
<path fill="#ffffff" d="M255 350h2v1h-2zM258 347h1v1h-1z"/>
<path fill="#000000" d="M259 348h1v1h-1z"/>
<path fill="#ffffff" d="M261 350h2v1h-2zM264 347h1v1h-1z"/>
<path fill="#000000" d="M265 348h1v1h-1z"/>
<path fill="#cc0033" d="M226 314h27v1h-27zM226 317h27v1h-27zM226 320h27v1h-27zM226 323h27v1h-27zM226 326h27v1h-27zM226 329h27v1h-27zM226 332h27v1h-27zM226 313h1v19h-1zM232 313h1v19h-1zM238 313h1v19h-1zM244 313h1v19h-1zM250 313h1v19h-1z"/>
<path fill="#ffffff" d="M252 313h3v21h-3z"/>
<path fill="#cc0033" d="M255 314h10v1h-10z"/>
<path fill="#ffff00" d="M256 315h1v1h-1z"/>
<path fill="#00ffff" d="M261 315h1v1h-1z"/>
<path fill="#ff0000" d="M255 313h1v1h-1z"/>
<path fill="#cc0033" d="M255 317h10v1h-10z"/>
<path fill="#ffffff" d="M256 318h1v1h-1z"/>
<path fill="#ffff00" d="M261 318h1v1h-1z"/>
<path fill="#ff0000" d="M255 316h1v1h-1z"/>
<path fill="#cc0033" d="M255 320h10v1h-10z"/>
<path fill="#ffffff" d="M256 321h1v1h-1z"/>
<path fill="#00ffff" d="M261 321h1v1h-1z"/>
<path fill="#ff0000" d="M255 319h1v1h-1z"/>
<path fill="#cc0033" d="M255 323h10v1h-10z"/>
<path fill="#ffff00" d="M256 324h1v1h-1zM261 324h1v1h-1z"/>
<path fill="#ff0000" d="M255 322h1v1h-1z"/>
<path fill="#cc0033" d="M255 326h10v1h-10z"/>
<path fill="#00ffff" d="M256 327h1v1h-1z"/>
<path fill="#ffffff" d="M261 327h1v1h-1z"/>
<path fill="#ff0000" d="M255 325h1v1h-1z"/>
<path fill="#cc0033" d="M255 329h10v1h-10z"/>
<path fill="#ffff00" d="M256 330h1v1h-1zM261 330h1v1h-1z"/>
<path fill="#ff0000" d="M255 328h1v1h-1z"/>
<path fill="#cc0033" d="M255 332h10v1h-10z"/>
<path fill="#00ffff" d="M256 333h1v1h-1zM261 333h1v1h-1z"/>
<path fill="#ff0000" d="M255 331h1v1h-1z"/>
<path fill="#cc0033" d="M255 335h10v1h-10z"/>
<path fill="#ffff00" d="M256 336h1v1h-1z"/>
<path fill="#00ffff" d="M261 336h1v1h-1z"/>
<path fill="#ff0000" d="M255 334h1v1h-1zM259 313h1v33h-1z"/>
<path fill="#ffffff" d="M265 313h3v33h-3z"/>
<path fill="#000000" d="M266 315h1v1h-1zM266 319h1v1h-1zM266 323h1v1h-1zM266 327h1v1h-1zM266 331h1v1h-1zM266 335h1v1h-1zM266 339h1v1h-1zM266 343h1v1h-1z"/>
<path fill="#ffffff" d="M226 331h33v8h-33z"/>
<path fill="#cc0033" d="M234 333h1v6h-1zM236 333h1v6h-1zM238 333h1v6h-1zM240 333h1v6h-1zM242 333h1v6h-1zM244 333h1v6h-1zM246 333h1v6h-1zM248 333h1v6h-1zM250 333h1v6h-1zM228 333h1v1h-1zM229 334h1v1h-1zM229 335h1v1h-1zM230 336h1v1h-1zM230 337h1v1h-1zM231 338h1v1h-1zM227 336h6v1h-6z"/>
<path fill="#ffffff" d="M226 339h40v7h-40z"/>
<path fill="#cc0033" d="M226 339h40v1h-40zM226 339h1v6h-1zM227 341h1v1h-1z"/>
<path fill="#ffffff" d="M228 344h1v1h-1z"/>
<path fill="#cc0033" d="M229 339h1v6h-1z"/>
<path fill="#ffffff" d="M230 341h1v1h-1z"/>
<path fill="#ffff00" d="M231 344h1v1h-1z"/>
<path fill="#cc0033" d="M232 339h1v6h-1zM233 341h1v1h-1z"/>
<path fill="#000000" d="M234 344h1v1h-1z"/>
<path fill="#cc0033" d="M235 339h1v6h-1z"/>
<path fill="#ff0000" d="M236 341h1v1h-1z"/>
<path fill="#00ffff" d="M237 344h1v1h-1z"/>
<path fill="#cc0033" d="M238 339h1v6h-1zM239 341h1v1h-1z"/>
<path fill="#000000" d="M240 344h1v1h-1z"/>
<path fill="#cc0033" d="M241 339h1v6h-1z"/>
<path fill="#ffffff" d="M242 341h1v1h-1zM243 344h1v1h-1z"/>
<path fill="#cc0033" d="M244 339h1v6h-1z"/>
<path fill="#ffffff" d="M245 341h1v1h-1z"/>
<path fill="#00ffff" d="M246 344h1v1h-1z"/>
<path fill="#cc0033" d="M247 339h1v6h-1zM248 341h1v1h-1z"/>
<path fill="#000000" d="M249 344h1v1h-1z"/>
<path fill="#cc0033" d="M250 339h1v6h-1zM251 341h1v1h-1z"/>
<path fill="#ffff00" d="M252 344h1v1h-1z"/>
<path fill="#cc0033" d="M253 339h1v6h-1z"/>
<path fill="#ff0000" d="M254 341h1v1h-1z"/>
<path fill="#ffffff" d="M255 344h1v1h-1z"/>
<path fill="#cc0033" d="M256 339h1v6h-1z"/>
<path fill="#ffffff" d="M257 341h1v1h-1zM258 344h1v1h-1z"/>
<path fill="#cc0033" d="M259 339h1v6h-1z"/>
<path fill="#ffffff" d="M260 341h1v1h-1z"/>
<path fill="#000000" d="M261 344h1v1h-1z"/>
<path fill="#cc0033" d="M262 339h1v6h-1z"/>
<path fill="#ffffff" d="M263 341h1v1h-1z"/>
<path fill="#000000" d="M264 344h1v1h-1z"/>
<path fill="#cc0033" d="M265 339h1v6h-1z"/>
<path fill="#ffffff" d="M266 341h1v1h-1z"/>
<path fill="#ffff00" d="M267 344h1v1h-1z"/>
<path fill="#ff0000" d="M254 344h1v1h-1zM255 343h1v1h-1zM256 342h1v1h-1zM257 341h1v1h-1zM258 340h1v1h-1zM259 339h1v1h-1zM260 338h1v1h-1zM261 337h1v1h-1zM262 336h1v1h-1zM263 335h1v1h-1zM264 334h1v1h-1z"/>
<path fill="#ffffff" d="M226 346h40v1h-40zM241 351h10v3h-10zM253 352h3v1h-3z"/>
<path fill="#00ffff" d="M276 306h8v49h-8z"/>
<path fill="#000000" d="M277 309h5v3h-5zM277 315h5v2h-5zM277 318h5v19h-5zM277 338h5v2h-5zM277 341h5v3h-5z"/>
<path fill="#ffffff" d="M277 323h5v2h-5z"/>
<path fill="#ff0000" d="M277 326h5v1h-5z"/>
<path fill="#ffffff" d="M277 327h5v2h-5zM278 352h3v1h-3zM280 353h2v1h-2z"/>
<path fill="#000000" d="M284 308h1v46h-1z"/>
<path fill="#00ffff" d="M285 306h1v49h-1z"/>
<path fill="#ff00ff" d="M108 331h19v1h-19zM108 349h19v1h-19zM108 331h1v19h-1zM126 331h1v19h-1zM20 335h5v1h-5zM20 337h5v1h-5zM20 335h1v3h-1zM24 335h1v3h-1z"/>
<path fill="#00ffff" d="M25 336h10v1h-10zM20 340h1v4h-1z"/>
<path fill="#ffffff" d="M24 332h8v3h-8z"/>
<path fill="#00ff00" d="M21 338h1v1h-1zM22 338h1v1h-1z"/>
<path fill="#ff00ff" d="M29 354h12v1h-12zM29 355h12v1h-12z"/>
<path fill="#cc0033" d="M297 313h40v1h-40zM297 316h40v1h-40zM297 319h40v1h-40zM297 322h40v1h-40zM297 325h40v1h-40zM297 328h40v1h-40zM297 331h40v1h-40zM297 334h40v1h-40zM297 337h40v1h-40zM297 340h40v1h-40zM297 343h40v1h-40zM297 346h40v1h-40zM297 313h1v34h-1zM303 313h1v34h-1zM309 313h1v34h-1zM315 313h1v34h-1zM322 313h1v34h-1zM328 313h1v34h-1zM331 313h1v34h-1zM336 313h1v34h-1z"/>
<path fill="#00ff00" d="M297 308h1v1h-1z"/>
<path fill="#ffffff" d="M298 308h1v1h-1z"/>
<path fill="#00ff00" d="M303 308h1v1h-1z"/>
<path fill="#ffffff" d="M304 308h1v1h-1z"/>
<path fill="#00ff00" d="M309 308h1v1h-1z"/>
<path fill="#ffffff" d="M310 308h1v1h-1z"/>
<path fill="#00ff00" d="M315 308h1v1h-1z"/>
<path fill="#ffffff" d="M316 308h1v1h-1z"/>
<path fill="#00ff00" d="M321 308h1v1h-1z"/>
<path fill="#ffffff" d="M322 308h1v1h-1z"/>
<path fill="#00ff00" d="M327 308h1v1h-1z"/>
<path fill="#ffffff" d="M328 308h1v1h-1z"/>
<path fill="#00ff00" d="M333 308h1v1h-1z"/>
<path fill="#ffffff" d="M334 308h1v1h-1z"/>
<path fill="#00ff00" d="M297 309h41v1h-41z"/>
<path fill="#ffffff" d="M297 310h41v1h-41zM297 311h41v1h-41z"/>
<path fill="#00ff00" d="M297 310h1v2h-1zM300 310h1v2h-1zM303 310h1v2h-1zM306 310h1v2h-1zM309 310h1v2h-1zM312 310h1v2h-1zM315 310h1v2h-1zM318 310h1v2h-1zM321 310h1v2h-1zM324 310h1v2h-1zM327 310h1v2h-1zM330 310h1v2h-1zM333 310h1v2h-1zM336 310h1v2h-1zM297 312h41v1h-41zM295 313h1v33h-1zM294 314h1v1h-1zM296 315h1v1h-1zM294 317h1v1h-1zM296 318h1v1h-1zM294 320h1v1h-1zM296 321h1v1h-1zM294 323h1v1h-1zM296 324h1v1h-1zM294 326h1v1h-1zM296 327h1v1h-1zM294 329h1v1h-1zM296 330h1v1h-1zM294 332h1v1h-1zM296 333h1v1h-1zM294 335h1v1h-1zM296 336h1v1h-1zM294 338h1v1h-1zM296 339h1v1h-1zM294 341h1v1h-1zM296 342h1v1h-1zM294 344h1v1h-1zM296 345h1v1h-1z"/>
<path fill="#ffffff" d="M292 314h1v1h-1zM292 315h1v1h-1zM294 316h1v1h-1z"/>
<path fill="#00ff00" d="M296 314h2v1h-2z"/>
<path fill="#ffffff" d="M292 320h1v1h-1zM292 321h1v1h-1zM294 322h1v1h-1z"/>
<path fill="#00ff00" d="M296 320h2v1h-2z"/>
<path fill="#ffffff" d="M292 326h1v1h-1zM292 327h1v1h-1zM294 328h1v1h-1z"/>
<path fill="#00ff00" d="M296 326h2v1h-2z"/>
<path fill="#ffffff" d="M292 332h1v1h-1zM292 333h1v1h-1zM294 334h1v1h-1z"/>
<path fill="#00ff00" d="M296 332h2v1h-2z"/>
<path fill="#ffffff" d="M292 338h1v1h-1zM292 339h1v1h-1zM294 340h1v1h-1z"/>
<path fill="#00ff00" d="M296 338h2v1h-2z"/>
<path fill="#ffffff" d="M292 344h1v1h-1zM292 345h1v1h-1zM294 346h1v1h-1z"/>
<path fill="#00ff00" d="M296 344h2v1h-2zM339 313h1v33h-1zM340 314h1v1h-1zM338 315h1v1h-1zM340 317h1v1h-1zM338 318h1v1h-1zM340 320h1v1h-1zM338 321h1v1h-1zM340 323h1v1h-1zM338 324h1v1h-1zM340 326h1v1h-1zM338 327h1v1h-1zM340 329h1v1h-1zM338 330h1v1h-1zM340 332h1v1h-1zM338 333h1v1h-1zM340 335h1v1h-1zM338 336h1v1h-1zM340 338h1v1h-1zM338 339h1v1h-1zM340 341h1v1h-1zM338 342h1v1h-1zM340 344h1v1h-1zM338 345h1v1h-1z"/>
<path fill="#ffffff" d="M342 314h1v1h-1zM340 316h1v1h-1zM342 320h1v1h-1zM340 322h1v1h-1zM342 326h1v1h-1zM340 328h1v1h-1zM342 332h1v1h-1zM340 334h1v1h-1zM342 338h1v1h-1zM340 340h1v1h-1zM342 344h1v1h-1zM340 346h1v1h-1z"/>
<path fill="#00ff00" d="M297 347h41v2h-41z"/>
<path fill="#ffffff" d="M296 350h2v1h-2zM299 347h1v1h-1z"/>
<path fill="#000000" d="M300 348h1v1h-1z"/>
<path fill="#ffffff" d="M302 350h2v1h-2zM305 347h1v1h-1z"/>
<path fill="#000000" d="M306 348h1v1h-1z"/>
<path fill="#ffffff" d="M308 350h2v1h-2zM311 347h1v1h-1z"/>
<path fill="#000000" d="M312 348h1v1h-1z"/>
<path fill="#ffffff" d="M314 350h2v1h-2zM317 347h1v1h-1z"/>
<path fill="#000000" d="M318 348h1v1h-1z"/>
<path fill="#ffffff" d="M320 350h2v1h-2zM323 347h1v1h-1z"/>
<path fill="#000000" d="M324 348h1v1h-1z"/>
<path fill="#ffffff" d="M326 350h2v1h-2zM329 347h1v1h-1z"/>
<path fill="#000000" d="M330 348h1v1h-1z"/>
<path fill="#ffffff" d="M332 350h2v1h-2zM335 347h1v1h-1z"/>
<path fill="#000000" d="M336 348h1v1h-1z"/>
<path fill="#00ff00" d="M296 314h2v1h-2zM337 314h2v1h-2zM296 317h2v1h-2zM337 317h2v1h-2zM296 320h2v1h-2zM337 320h2v1h-2zM296 323h2v1h-2zM337 323h2v1h-2zM296 326h2v1h-2zM337 326h2v1h-2zM296 329h2v1h-2zM337 329h2v1h-2zM296 332h2v1h-2zM337 332h2v1h-2zM296 335h2v1h-2zM337 335h2v1h-2zM296 338h2v1h-2zM337 338h2v1h-2zM296 341h2v1h-2zM337 341h2v1h-2zM296 344h2v1h-2zM337 344h2v1h-2z"/>
<path fill="#ffffff" d="M302 341h30v1h-30zM331 314h1v28h-1zM302 336h26v1h-26zM327 314h1v23h-1zM323 314h1v1h-1zM324 315h1v1h-1zM325 316h1v1h-1zM326 317h1v1h-1zM327 318h1v1h-1zM322 331h1v1h-1zM323 332h1v1h-1zM324 333h1v1h-1zM325 334h1v1h-1zM326 335h1v1h-1zM327 336h1v1h-1zM298 332h1v1h-1zM299 333h1v1h-1zM300 334h1v1h-1zM301 335h1v1h-1zM302 336h1v1h-1zM298 344h1v1h-1zM299 343h1v1h-1zM300 342h1v1h-1zM301 342h1v1h-1zM302 341h1v1h-1zM331 341h1v1h-1zM332 342h1v1h-1zM333 343h1v1h-1zM334 344h1v1h-1zM335 345h1v1h-1zM336 346h1v1h-1zM331 314h1v1h-1zM332 313h1v1h-1zM333 312h1v1h-1zM334 311h1v1h-1zM335 310h1v1h-1z"/>
<path fill="#00ffff" d="M296 337h2v4h-2zM327 311h6v3h-6z"/>
<path fill="#ff0000" d="M297 345h4v2h-4zM336 310h4v3h-4z"/>
<path fill="#ffffff" d="M313 351h10v3h-10zM325 352h4v1h-4z"/>
<path fill="#00ffff" d="M346 306h8v49h-8z"/>
<path fill="#000000" d="M347 309h5v3h-5zM347 315h5v2h-5zM347 318h5v19h-5zM347 338h5v2h-5zM347 341h5v3h-5z"/>
<path fill="#ffffff" d="M347 323h5v2h-5z"/>
<path fill="#ff0000" d="M347 326h5v1h-5z"/>
<path fill="#ffffff" d="M347 327h5v2h-5zM348 352h3v1h-3zM350 353h2v1h-2z"/>
<path fill="#000000" d="M354 308h1v46h-1z"/>
<path fill="#00ffff" d="M355 306h1v49h-1z"/>
<path fill="#ffffff" d="M355 306h32v26h-32z"/>
<path fill="#00ff00" d="M357 307h9v1h-9zM357 307h1v23h-1zM366 307h1v23h-1zM376 307h1v23h-1zM357 314h29v1h-29zM357 322h29v1h-29zM357 329h29v1h-29z"/>
<path fill="#ff00ff" d="M358 309h6v2h-6zM359 312h3v1h-3z"/>
<path fill="#00ffff" d="M362 310h3v1h-3z"/>
<path fill="#ff00ff" d="M358 316h5v3h-5z"/>
<path fill="#00ff00" d="M363 317h2v2h-2z"/>
<path fill="#00ffff" d="M360 320h4v1h-4z"/>
<path fill="#ff0000" d="M362 315h3v1h-3z"/>
<path fill="#ff00ff" d="M367 318h12v2h-12z"/>
<path fill="#00ffff" d="M368 320h9v1h-9z"/>
<path fill="#ff0000" d="M369 316h2v2h-2z"/>
<path fill="#00ff00" d="M372 321h3v2h-3z"/>
<path fill="#ff0000" d="M369 323h1v8h-1zM374 323h1v8h-1z"/>
<path fill="#ff00ff" d="M368 325h6v2h-6z"/>
<path fill="#00ffff" d="M370 327h3v2h-3z"/>
<path fill="#ff00ff" d="M371 329h3v1h-3z"/>
<path fill="#ff0000" d="M359 310h2v1h-2z"/>
<path fill="#00ff00" d="M364 326h2v2h-2zM377 320h1v3h-1z"/>
<path fill="#ff0000" d="M365 318h1v4h-1z"/>
<path fill="#00ff00" d="M383 312h2v2h-2z"/>
<path fill="#ff00ff" d="M384 321h2v2h-2zM381 329h3v2h-3z"/>
<path fill="#ff0000" d="M357 326h2v2h-2z"/>
<path fill="#ffff00" d="M368 308h6v5h-6z"/>
<path fill="#ff00ff" d="M370 310h1v1h-1zM372 310h1v1h-1z"/>
<path fill="#ffff00" d="M377 308h6v5h-6z"/>
<path fill="#ff00ff" d="M379 310h1v1h-1zM381 310h1v1h-1z"/>
<path fill="#ffff00" d="M378 315h7v5h-7z"/>
<path fill="#ff00ff" d="M380 317h1v1h-1zM382 317h1v1h-1z"/>
<path fill="#ffff00" d="M358 323h7v5h-7z"/>
<path fill="#ff00ff" d="M360 325h1v1h-1zM362 325h1v1h-1z"/>
<path fill="#ffb0a0" d="M378 324h7v4h-7z"/>
<path fill="#ff00ff" d="M380 325h3v2h-3z"/>
<path fill="#000000" d="M360 310h1v1h-1zM368 310h1v1h-1zM376 310h1v1h-1zM357 311h1v1h-1zM362 311h1v1h-1zM366 311h1v1h-1zM363 314h1v1h-1zM382 316h1v1h-1zM372 317h1v1h-1zM360 318h1v1h-1zM373 319h1v1h-1zM361 320h1v1h-1zM366 320h1v1h-1zM382 320h1v1h-1zM370 321h1v1h-1zM358 323h1v1h-1zM385 323h1v1h-1zM368 324h1v1h-1zM375 324h1v1h-1zM383 326h1v1h-1zM359 329h1v1h-1zM361 329h1v1h-1z"/>
<path fill="#00ff00" d="M370 308h1v1h-1zM373 308h1v1h-1zM374 309h1v1h-1zM384 309h1v1h-1zM361 311h1v1h-1zM360 312h1v1h-1zM360 314h1v1h-1zM358 316h1v1h-1zM365 317h1v1h-1zM372 319h1v1h-1zM382 319h1v1h-1zM373 320h1v1h-1zM383 320h1v1h-1zM372 321h1v1h-1zM374 321h1v1h-1zM366 322h1v1h-1zM368 322h1v1h-1zM364 323h1v1h-1zM371 323h1v1h-1zM373 323h1v1h-1zM375 325h1v1h-1zM366 327h1v1h-1zM377 327h1v1h-1zM372 328h1v1h-1zM381 328h1v1h-1zM382 328h1v1h-1zM366 329h1v1h-1zM373 329h1v1h-1z"/>
<path fill="#00ffff" d="M386 306h3v26h-3zM390 306h1v26h-1z"/>
<path fill="#000000" d="M387 315h1v15h-1zM387 309h1v3h-1z"/>
<path fill="#ff0000" d="M367 331h1v3h-1zM373 331h1v3h-1z"/>
<path fill="#00ffff" d="M389 306h73v1h-73zM389 354h73v2h-73zM390 306h1v50h-1z"/>
<path fill="#00ff00" d="M401 315h3v31h-3z"/>
<path fill="#000000" d="M402 318h1v1h-1zM401 322h1v1h-1zM403 328h1v1h-1zM403 332h1v1h-1zM402 338h1v1h-1zM402 342h1v1h-1z"/>
<path fill="#ffffff" d="M402 320h1v1h-1zM401 340h1v1h-1z"/>
<path fill="#00ff00" d="M400 314h8v2h-8zM404 313h3v1h-3z"/>
<path fill="#ff0000" d="M410 311h1v37h-1zM409 315h1v1h-1zM410 314h1v1h-1zM411 313h1v1h-1zM412 313h1v1h-1zM413 312h1v1h-1zM414 311h1v1h-1z"/>
<path fill="#ffffff" d="M412 312h1v1h-1zM413 314h1v1h-1z"/>
<path fill="#00ff00" d="M415 311h1v40h-1z"/>
<path fill="#ffffff" d="M396 325h1v1h-1z"/>
<path fill="#ff0000" d="M397 325h2v1h-2z"/>
<path fill="#ffffff" d="M399 325h2v1h-2zM404 325h2v1h-2zM405 321h1v1h-1zM406 322h1v1h-1zM406 323h1v1h-1zM407 324h1v1h-1zM408 325h1v1h-1zM408 326h1v1h-1zM409 327h1v1h-1zM407 320h1v1h-1z"/>
<path fill="#00ff00" d="M408 321h1v1h-1z"/>
<path fill="#ff0000" d="M406 325h1v1h-1z"/>
<path fill="#ffffff" d="M411 325h3v1h-3z"/>
<path fill="#00ff00" d="M412 326h1v1h-1z"/>
<path fill="#ffffff" d="M416 325h1v1h-1zM396 335h1v1h-1z"/>
<path fill="#ff0000" d="M397 335h2v1h-2z"/>
<path fill="#ffffff" d="M399 335h2v1h-2zM404 335h2v1h-2zM405 331h1v1h-1zM406 332h1v1h-1zM406 333h1v1h-1zM407 334h1v1h-1zM408 335h1v1h-1zM408 336h1v1h-1zM409 337h1v1h-1zM407 330h1v1h-1z"/>
<path fill="#00ff00" d="M408 331h1v1h-1z"/>
<path fill="#ff0000" d="M406 335h1v1h-1z"/>
<path fill="#ffffff" d="M411 335h3v1h-3z"/>
<path fill="#00ff00" d="M412 336h1v1h-1z"/>
<path fill="#ffffff" d="M416 335h1v1h-1zM396 345h1v1h-1z"/>
<path fill="#ff0000" d="M397 345h2v1h-2z"/>
<path fill="#ffffff" d="M399 345h2v1h-2zM404 345h2v1h-2zM405 341h1v1h-1zM406 342h1v1h-1zM406 343h1v1h-1zM407 344h1v1h-1zM408 345h1v1h-1zM408 346h1v1h-1zM409 347h1v1h-1zM407 340h1v1h-1z"/>
<path fill="#00ff00" d="M408 341h1v1h-1z"/>
<path fill="#ff0000" d="M406 345h1v1h-1z"/>
<path fill="#ffffff" d="M411 345h3v1h-3z"/>
<path fill="#00ff00" d="M412 346h1v1h-1z"/>
<path fill="#ffffff" d="M416 345h1v1h-1z"/>
<path fill="#00ff00" d="M406 347h1v1h-1zM420 315h2v31h-2z"/>
<path fill="#000000" d="M421 318h1v1h-1zM421 322h1v1h-1zM421 328h1v1h-1zM421 332h1v1h-1zM420 338h1v1h-1zM420 342h1v1h-1z"/>
<path fill="#ffffff" d="M421 320h1v1h-1zM420 340h1v1h-1z"/>
<path fill="#00ff00" d="M419 314h8v2h-8zM423 313h3v1h-3z"/>
<path fill="#ff0000" d="M425 311h1v37h-1zM432 311h1v37h-1zM428 315h1v1h-1zM429 314h1v1h-1zM430 313h1v1h-1zM431 313h1v1h-1zM432 312h1v1h-1zM433 311h1v1h-1z"/>
<path fill="#ffffff" d="M431 312h1v1h-1zM432 314h1v1h-1z"/>
<path fill="#00ff00" d="M434 311h1v40h-1z"/>
<path fill="#ffffff" d="M415 325h1v1h-1z"/>
<path fill="#ff0000" d="M416 325h2v1h-2z"/>
<path fill="#ffffff" d="M418 325h2v1h-2zM422 325h2v1h-2zM423 321h1v1h-1zM424 322h1v1h-1zM424 323h1v1h-1zM425 324h1v1h-1zM426 325h1v1h-1zM426 326h1v1h-1zM427 327h1v1h-1zM425 320h1v1h-1z"/>
<path fill="#00ff00" d="M426 321h1v1h-1z"/>
<path fill="#ff0000" d="M424 325h1v1h-1z"/>
<path fill="#ffffff" d="M433 325h3v1h-3z"/>
<path fill="#00ff00" d="M434 326h1v1h-1z"/>
<path fill="#ffffff" d="M435 325h1v1h-1zM415 335h1v1h-1z"/>
<path fill="#ff0000" d="M416 335h2v1h-2z"/>
<path fill="#ffffff" d="M418 335h2v1h-2zM422 335h2v1h-2zM423 331h1v1h-1zM424 332h1v1h-1zM424 333h1v1h-1zM425 334h1v1h-1zM426 335h1v1h-1zM426 336h1v1h-1zM427 337h1v1h-1zM425 330h1v1h-1z"/>
<path fill="#00ff00" d="M426 331h1v1h-1z"/>
<path fill="#ff0000" d="M424 335h1v1h-1z"/>
<path fill="#ffffff" d="M433 335h3v1h-3z"/>
<path fill="#00ff00" d="M434 336h1v1h-1z"/>
<path fill="#ffffff" d="M435 335h1v1h-1zM415 345h1v1h-1z"/>
<path fill="#ff0000" d="M416 345h2v1h-2z"/>
<path fill="#ffffff" d="M418 345h2v1h-2zM422 345h2v1h-2zM423 341h1v1h-1zM424 342h1v1h-1zM424 343h1v1h-1zM425 344h1v1h-1zM426 345h1v1h-1zM426 346h1v1h-1zM427 347h1v1h-1zM425 340h1v1h-1z"/>
<path fill="#00ff00" d="M426 341h1v1h-1z"/>
<path fill="#ff0000" d="M424 345h1v1h-1z"/>
<path fill="#ffffff" d="M433 345h3v1h-3z"/>
<path fill="#00ff00" d="M434 346h1v1h-1z"/>
<path fill="#ffffff" d="M435 345h1v1h-1z"/>
<path fill="#00ff00" d="M424 347h1v1h-1z"/>
<path fill="#ffffff" d="M407 350h7v2h-7z"/>
<path fill="#00ff00" d="M414 351h1v1h-1zM424 349h8v2h-8zM441 317h2v23h-2z"/>
<path fill="#ff0000" d="M444 318h1v24h-1z"/>
<path fill="#00ff00" d="M447 317h1v23h-1zM441 317h7v1h-7zM441 339h7v1h-7z"/>
<path fill="#ffffff" d="M438 325h1v1h-1z"/>
<path fill="#ff0000" d="M439 325h2v1h-2z"/>
<path fill="#ffffff" d="M442 323h4v3h-4z"/>
<path fill="#00ff00" d="M446 326h1v1h-1z"/>
<path fill="#ffffff" d="M438 334h1v1h-1z"/>
<path fill="#ff0000" d="M439 334h2v1h-2z"/>
<path fill="#ffffff" d="M442 332h4v3h-4z"/>
<path fill="#00ff00" d="M446 335h1v1h-1z"/>
<path fill="#ffffff" d="M442 320h2v4h-2zM441 328h3v4h-3z"/>
<path fill="#ff0000" d="M445 329h1v1h-1z"/>
<path fill="#00ff00" d="M441 343h7v2h-7z"/>
<path fill="#ff0000" d="M444 345h5v1h-5z"/>
<path fill="#ffffff" d="M441 347h8v1h-8z"/>
<path fill="#00ff00" d="M441 348h1v1h-1z"/>
<path fill="#00ffff" d="M453 306h8v49h-8z"/>
<path fill="#000000" d="M454 309h5v3h-5zM454 315h5v2h-5zM454 318h5v19h-5zM454 338h5v2h-5zM454 341h5v3h-5z"/>
<path fill="#ffffff" d="M454 323h5v2h-5z"/>
<path fill="#ff0000" d="M454 326h5v1h-5z"/>
<path fill="#ffffff" d="M454 327h5v2h-5zM455 352h3v1h-3zM457 353h2v1h-2z"/>
<path fill="#000000" d="M461 308h1v46h-1z"/>
<path fill="#00ffff" d="M462 306h1v49h-1zM461 306h49v1h-49zM461 341h49v1h-49zM461 306h1v36h-1z"/>
<path fill="#ffffff" d="M463 308h1v33h-1zM464 308h6v1h-6zM464 309h4v1h-4zM468 309h2v1h-2zM464 310h6v1h-6zM464 311h6v1h-6zM464 313h6v1h-6zM464 314h5v1h-5zM469 314h1v1h-1zM464 315h2v1h-2zM466 315h4v1h-4zM464 317h5v1h-5zM469 317h1v1h-1zM464 318h6v1h-6zM464 319h4v1h-4zM468 319h2v1h-2zM466 325h4v1h-4zM466 326h4v1h-4zM466 327h4v1h-4zM466 328h3v1h-3zM469 328h1v1h-1zM466 329h2v1h-2zM469 329h1v1h-1zM464 331h2v1h-2zM467 331h1v1h-1zM464 332h2v1h-2zM466 332h2v1h-2zM464 333h4v1h-4zM464 334h3v1h-3zM464 336h6v1h-6zM464 337h5v1h-5zM464 338h5v1h-5zM464 340h3v1h-3z"/>
<path fill="#000000" d="M465 310h4v3h-4z"/>
<path fill="#ff00ff" d="M466 320h5v1h-5zM464 332h8v1h-8z"/>
<path fill="#00ff00" d="M463 307h1v1h-1zM463 316h1v1h-1zM463 338h1v1h-1zM471 308h1v1h-1z"/>
<path fill="#ff00ff" d="M471 309h1v1h-1z"/>
<path fill="#00ff00" d="M471 310h1v1h-1z"/>
<path fill="#ff00ff" d="M471 311h1v1h-1z"/>
<path fill="#00ff00" d="M471 313h1v1h-1zM471 316h1v1h-1zM471 317h1v1h-1z"/>
<path fill="#ff00ff" d="M472 310h1v1h-1zM472 315h1v1h-1z"/>
<path fill="#ffffff" d="M473 308h1v1h-1z"/>
<path fill="#ff00ff" d="M473 310h1v1h-1z"/>
<path fill="#00ff00" d="M473 314h1v1h-1zM473 317h1v1h-1zM474 308h1v1h-1z"/>
<path fill="#ffffff" d="M474 309h1v1h-1z"/>
<path fill="#ff00ff" d="M474 310h1v1h-1z"/>
<path fill="#00ff00" d="M474 312h1v1h-1zM474 313h1v1h-1z"/>
<path fill="#ffffff" d="M474 316h1v1h-1z"/>
<path fill="#00ff00" d="M474 317h1v1h-1z"/>
<path fill="#ffffff" d="M475 308h1v1h-1zM475 311h1v1h-1z"/>
<path fill="#00ff00" d="M475 312h1v1h-1z"/>
<path fill="#ff00ff" d="M475 313h1v1h-1z"/>
<path fill="#ffffff" d="M475 314h1v1h-1z"/>
<path fill="#00ff00" d="M476 311h1v1h-1z"/>
<path fill="#ffffff" d="M476 313h1v1h-1zM476 317h1v1h-1z"/>
<path fill="#00ff00" d="M477 308h1v1h-1zM477 310h1v1h-1zM477 312h1v1h-1zM477 313h1v1h-1z"/>
<path fill="#ff00ff" d="M477 317h1v1h-1z"/>
<path fill="#00ff00" d="M478 308h1v1h-1zM478 313h1v1h-1z"/>
<path fill="#ff00ff" d="M478 315h1v1h-1z"/>
<path fill="#00ff00" d="M478 317h1v1h-1z"/>
<path fill="#ff00ff" d="M479 310h1v1h-1z"/>
<path fill="#00ff00" d="M479 311h1v1h-1z"/>
<path fill="#ffffff" d="M479 312h1v1h-1z"/>
<path fill="#00ff00" d="M479 314h1v1h-1zM479 315h1v1h-1zM479 316h1v1h-1z"/>
<path fill="#ffffff" d="M479 317h1v1h-1z"/>
<path fill="#ff00ff" d="M480 309h1v1h-1z"/>
<path fill="#ffffff" d="M480 311h1v1h-1z"/>
<path fill="#00ff00" d="M480 314h1v1h-1zM480 316h1v1h-1zM481 309h1v1h-1zM481 310h1v1h-1z"/>
<path fill="#ff00ff" d="M481 311h1v1h-1zM481 312h1v1h-1z"/>
<path fill="#00ff00" d="M481 313h1v1h-1zM481 314h1v1h-1zM481 315h1v1h-1z"/>
<path fill="#ffffff" d="M481 317h1v1h-1z"/>
<path fill="#ff00ff" d="M482 308h1v1h-1z"/>
<path fill="#00ff00" d="M482 309h1v1h-1zM482 311h1v1h-1zM482 312h1v1h-1zM482 313h1v1h-1zM482 315h1v1h-1zM482 316h1v1h-1zM483 308h1v1h-1z"/>
<path fill="#ff00ff" d="M483 309h1v1h-1z"/>
<path fill="#00ff00" d="M483 310h1v1h-1zM483 313h1v1h-1zM483 314h1v1h-1zM483 315h1v1h-1z"/>
<path fill="#ff00ff" d="M483 317h1v1h-1z"/>
<path fill="#ffffff" d="M484 309h1v1h-1zM484 310h1v1h-1zM484 311h1v1h-1z"/>
<path fill="#ff00ff" d="M484 312h1v1h-1zM484 313h1v1h-1z"/>
<path fill="#00ff00" d="M484 314h1v1h-1zM484 315h1v1h-1zM484 317h1v1h-1zM485 308h1v1h-1zM485 311h1v1h-1z"/>
<path fill="#ffffff" d="M485 313h1v1h-1z"/>
<path fill="#00ff00" d="M485 315h1v1h-1zM485 316h1v1h-1z"/>
<path fill="#c8c8c8" d="M481 310h4v10h-4z"/>
<path fill="#ffffff" d="M482 311h2v8h-2zM473 318h5v2h-5z"/>
<path fill="#00ff00" d="M486 309h19v1h-19zM486 316h19v1h-19zM486 309h1v8h-1zM504 309h1v8h-1z"/>
<path fill="#ff00ff" d="M488 310h2v1h-2zM487 311h1v1h-1zM490 311h1v1h-1zM487 312h1v1h-1zM490 312h1v1h-1zM487 313h4v1h-4z"/>
<path fill="#ffffff" d="M488 314h1v1h-1zM490 310h1v1h-1z"/>
<path fill="#ff00ff" d="M492 310h2v1h-2zM491 311h1v1h-1zM494 311h1v1h-1zM491 312h1v1h-1zM494 312h1v1h-1zM491 313h4v1h-4z"/>
<path fill="#ffffff" d="M492 314h1v1h-1zM494 310h1v1h-1z"/>
<path fill="#ff00ff" d="M496 310h2v1h-2zM495 311h1v1h-1zM498 311h1v1h-1zM495 312h1v1h-1zM498 312h1v1h-1zM495 313h4v1h-4z"/>
<path fill="#ffffff" d="M496 314h1v1h-1zM498 310h1v1h-1z"/>
<path fill="#ff00ff" d="M500 310h2v1h-2zM499 311h1v1h-1zM502 311h1v1h-1zM499 312h1v1h-1zM502 312h1v1h-1zM499 313h4v1h-4z"/>
<path fill="#ffffff" d="M500 314h1v1h-1zM502 310h1v1h-1z"/>
<path fill="#ff00ff" d="M487 315h17v1h-17z"/>
<path fill="#00ff00" d="M486 318h19v1h-19zM486 323h19v1h-19zM486 318h1v6h-1zM504 318h1v6h-1z"/>
<path fill="#ff00ff" d="M487 319h17v4h-17z"/>
<path fill="#ffffff" d="M488 320h15v1h-15z"/>
<path fill="#00ff00" d="M485 318h2v6h-2z"/>
<path fill="#ffffff" d="M471 334h1v1h-1z"/>
<path fill="#000000" d="M471 335h1v1h-1z"/>
<path fill="#c8c8c8" d="M471 336h1v1h-1z"/>
<path fill="#000000" d="M471 337h1v1h-1z"/>
<path fill="#c8c8c8" d="M472 333h1v1h-1zM472 334h1v1h-1z"/>
<path fill="#000000" d="M472 335h1v1h-1z"/>
<path fill="#c8c8c8" d="M472 336h1v1h-1zM473 332h1v1h-1zM473 334h1v1h-1z"/>
<path fill="#ffffff" d="M473 335h1v1h-1z"/>
<path fill="#c8c8c8" d="M473 336h1v1h-1z"/>
<path fill="#000000" d="M473 337h1v1h-1z"/>
<path fill="#c8c8c8" d="M474 331h1v1h-1z"/>
<path fill="#ffffff" d="M474 333h1v1h-1zM474 334h1v1h-1z"/>
<path fill="#c8c8c8" d="M474 335h1v1h-1z"/>
<path fill="#ffffff" d="M474 337h1v1h-1z"/>
<path fill="#00ff00" d="M475 328h1v1h-1z"/>
<path fill="#ffffff" d="M475 329h1v1h-1z"/>
<path fill="#000000" d="M475 330h1v1h-1z"/>
<path fill="#00ff00" d="M475 331h1v1h-1z"/>
<path fill="#c8c8c8" d="M475 332h1v1h-1zM475 333h1v1h-1zM475 335h1v1h-1zM475 336h1v1h-1zM476 329h1v1h-1z"/>
<path fill="#ffffff" d="M476 330h1v1h-1z"/>
<path fill="#000000" d="M476 331h1v1h-1z"/>
<path fill="#c8c8c8" d="M476 332h1v1h-1zM476 333h1v1h-1zM476 334h1v1h-1zM476 336h1v1h-1z"/>
<path fill="#ffffff" d="M476 337h1v1h-1z"/>
<path fill="#000000" d="M477 325h1v1h-1zM477 328h1v1h-1zM477 329h1v1h-1z"/>
<path fill="#00ff00" d="M477 331h1v1h-1z"/>
<path fill="#c8c8c8" d="M477 332h1v1h-1z"/>
<path fill="#000000" d="M477 333h1v1h-1z"/>
<path fill="#c8c8c8" d="M477 334h1v1h-1zM477 335h1v1h-1z"/>
<path fill="#000000" d="M477 336h1v1h-1zM478 325h1v1h-1z"/>
<path fill="#00ff00" d="M478 328h1v1h-1z"/>
<path fill="#ffffff" d="M478 329h1v1h-1zM478 331h1v1h-1z"/>
<path fill="#c8c8c8" d="M478 332h1v1h-1z"/>
<path fill="#00ff00" d="M478 333h1v1h-1z"/>
<path fill="#000000" d="M478 334h1v1h-1z"/>
<path fill="#c8c8c8" d="M478 335h1v1h-1z"/>
<path fill="#ffffff" d="M478 336h1v1h-1z"/>
<path fill="#000000" d="M479 323h1v1h-1z"/>
<path fill="#c8c8c8" d="M479 327h1v1h-1z"/>
<path fill="#000000" d="M479 329h1v1h-1z"/>
<path fill="#ffffff" d="M479 330h1v1h-1z"/>
<path fill="#c8c8c8" d="M479 332h1v1h-1z"/>
<path fill="#000000" d="M479 333h1v1h-1z"/>
<path fill="#c8c8c8" d="M479 334h1v1h-1zM479 336h1v1h-1z"/>
<path fill="#000000" d="M479 337h1v1h-1z"/>
<path fill="#c8c8c8" d="M480 324h1v1h-1z"/>
<path fill="#00ff00" d="M480 325h1v1h-1z"/>
<path fill="#000000" d="M480 327h1v1h-1z"/>
<path fill="#c8c8c8" d="M480 328h1v1h-1z"/>
<path fill="#ffffff" d="M480 330h1v1h-1z"/>
<path fill="#c8c8c8" d="M480 331h1v1h-1zM480 332h1v1h-1zM480 333h1v1h-1z"/>
<path fill="#00ff00" d="M480 334h1v1h-1z"/>
<path fill="#c8c8c8" d="M480 335h1v1h-1z"/>
<path fill="#000000" d="M480 336h1v1h-1z"/>
<path fill="#c8c8c8" d="M481 323h1v1h-1z"/>
<path fill="#ffffff" d="M481 325h1v1h-1zM481 326h1v1h-1z"/>
<path fill="#c8c8c8" d="M481 329h1v1h-1zM481 330h1v1h-1z"/>
<path fill="#00ff00" d="M481 331h1v1h-1zM481 332h1v1h-1z"/>
<path fill="#ffffff" d="M481 333h1v1h-1z"/>
<path fill="#c8c8c8" d="M481 334h1v1h-1z"/>
<path fill="#00ff00" d="M481 335h1v1h-1z"/>
<path fill="#ffffff" d="M481 336h1v1h-1zM481 337h1v1h-1z"/>
<path fill="#c8c8c8" d="M482 324h1v1h-1z"/>
<path fill="#00ff00" d="M482 327h1v1h-1zM482 328h1v1h-1z"/>
<path fill="#000000" d="M482 329h1v1h-1z"/>
<path fill="#c8c8c8" d="M482 332h1v1h-1z"/>
<path fill="#000000" d="M482 333h1v1h-1z"/>
<path fill="#c8c8c8" d="M482 334h1v1h-1z"/>
<path fill="#ffffff" d="M482 335h1v1h-1zM482 336h1v1h-1z"/>
<path fill="#c8c8c8" d="M482 337h1v1h-1z"/>
<path fill="#ffffff" d="M483 325h1v1h-1z"/>
<path fill="#00ff00" d="M483 327h1v1h-1z"/>
<path fill="#c8c8c8" d="M483 329h1v1h-1zM483 330h1v1h-1z"/>
<path fill="#00ff00" d="M483 331h1v1h-1z"/>
<path fill="#000000" d="M483 334h1v1h-1z"/>
<path fill="#c8c8c8" d="M484 327h1v1h-1z"/>
<path fill="#00ff00" d="M484 328h1v1h-1z"/>
<path fill="#000000" d="M484 329h1v1h-1zM484 331h1v1h-1z"/>
<path fill="#ffffff" d="M484 332h1v1h-1z"/>
<path fill="#c8c8c8" d="M484 333h1v1h-1zM484 334h1v1h-1zM484 335h1v1h-1z"/>
<path fill="#000000" d="M484 336h1v1h-1z"/>
<path fill="#ffffff" d="M485 329h1v1h-1z"/>
<path fill="#00ff00" d="M485 330h1v1h-1z"/>
<path fill="#000000" d="M485 331h1v1h-1zM485 332h1v1h-1z"/>
<path fill="#c8c8c8" d="M485 334h1v1h-1z"/>
<path fill="#000000" d="M485 335h1v1h-1zM485 337h1v1h-1z"/>
<path fill="#c8c8c8" d="M486 330h1v1h-1z"/>
<path fill="#00ff00" d="M486 331h1v1h-1zM486 332h1v1h-1z"/>
<path fill="#c8c8c8" d="M486 334h1v1h-1z"/>
<path fill="#ffffff" d="M486 335h1v1h-1z"/>
<path fill="#c8c8c8" d="M486 337h1v1h-1zM487 331h1v1h-1z"/>
<path fill="#000000" d="M487 332h1v1h-1z"/>
<path fill="#c8c8c8" d="M487 333h1v1h-1zM487 334h1v1h-1z"/>
<path fill="#00ff00" d="M487 337h1v1h-1z"/>
<path fill="#000000" d="M488 336h1v1h-1z"/>
<path fill="#ffffff" d="M488 337h1v1h-1z"/>
<path fill="#c8c8c8" d="M489 335h1v1h-1zM489 336h1v1h-1z"/>
<path fill="#00ff00" d="M489 337h1v1h-1z"/>
<path fill="#ff0000" d="M478 324h5v5h-5z"/>
<path fill="#c8c8c8" d="M479 325h3v3h-3z"/>
<path fill="#ffffff" d="M476 337h10v1h-10zM480 334h1v4h-1zM490 325h1v15h-1zM491 325h1v15h-1z"/>
<path fill="#ff0000" d="M492 328h4v3h-4z"/>
<path fill="#ff00ff" d="M495 329h10v1h-10zM495 337h10v1h-10zM495 329h1v9h-1zM504 329h1v9h-1z"/>
<path fill="#000000" d="M496 330h8v7h-8z"/>
<path fill="#00ffff" d="M497 331h1v1h-1zM500 333h1v1h-1zM494 326h1v1h-1zM499 327h1v1h-1z"/>
<path fill="#00ff00" d="M501 335h1v1h-1zM496 328h5v1h-5z"/>
<path fill="#ffffff" d="M492 337h13v4h-13z"/>
<path fill="#00ffff" d="M504 306h6v36h-6z"/>
<path fill="#000000" d="M505 307h3v3h-3zM505 313h3v1h-3zM505 315h3v14h-3zM505 329h3v2h-3zM505 331h3v2h-3z"/>
<path fill="#ffffff" d="M24 298h1v1h-1zM23 299h1v1h-1zM25 299h1v1h-1zM23 300h3v1h-3zM23 301h1v1h-1zM26 301h1v1h-1zM27 298h2v1h-2zM28 299h1v1h-1zM28 300h1v1h-1zM28 301h1v1h-1zM34 298h1v1h-1zM34 299h1v1h-1zM34 300h1v1h-1zM34 301h1v1h-1zM36 299h1v1h-1zM36 301h1v1h-1zM39 298h2v1h-2zM40 299h1v1h-1zM40 300h1v1h-1zM40 301h1v1h-1zM42 298h3v1h-3zM42 299h1v1h-1zM44 299h1v1h-1zM42 300h1v1h-1zM44 300h1v1h-1zM42 301h3v1h-3zM45 298h3v1h-3zM45 299h1v1h-1zM47 299h1v1h-1zM45 300h1v1h-1zM47 300h1v1h-1zM45 301h3v1h-3zM92 298h1v1h-1zM91 299h1v1h-1zM93 299h1v1h-1zM91 300h3v1h-3zM91 301h1v1h-1zM94 301h1v1h-1zM95 298h2v1h-2zM96 299h1v1h-1zM96 300h1v1h-1zM96 301h1v1h-1zM102 298h1v1h-1zM102 299h1v1h-1zM102 300h1v1h-1zM102 301h1v1h-1zM104 299h1v1h-1zM104 301h1v1h-1zM107 298h2v1h-2zM108 299h1v1h-1zM108 300h1v1h-1zM108 301h1v1h-1zM110 298h3v1h-3zM110 299h1v1h-1zM112 299h1v1h-1zM110 300h1v1h-1zM112 300h1v1h-1zM110 301h3v1h-3zM113 298h3v1h-3zM113 299h1v1h-1zM115 299h1v1h-1zM113 300h1v1h-1zM115 300h1v1h-1zM113 301h3v1h-3zM159 298h1v1h-1zM158 299h1v1h-1zM160 299h1v1h-1zM158 300h3v1h-3zM158 301h1v1h-1zM161 301h1v1h-1zM162 298h2v1h-2zM163 299h1v1h-1zM163 300h1v1h-1zM163 301h1v1h-1zM169 298h1v1h-1zM169 299h1v1h-1zM169 300h1v1h-1zM169 301h1v1h-1zM171 299h1v1h-1zM171 301h1v1h-1zM174 298h2v1h-2zM175 299h1v1h-1zM175 300h1v1h-1zM175 301h1v1h-1zM177 298h3v1h-3zM177 299h1v1h-1zM179 299h1v1h-1zM177 300h1v1h-1zM179 300h1v1h-1zM177 301h3v1h-3zM180 298h3v1h-3zM180 299h1v1h-1zM182 299h1v1h-1zM180 300h1v1h-1zM182 300h1v1h-1zM180 301h3v1h-3zM230 298h1v1h-1zM229 299h1v1h-1zM231 299h1v1h-1zM229 300h3v1h-3zM229 301h1v1h-1zM232 301h1v1h-1zM233 298h2v1h-2zM234 299h1v1h-1zM234 300h1v1h-1zM234 301h1v1h-1zM240 298h1v1h-1zM240 299h1v1h-1zM240 300h1v1h-1zM240 301h1v1h-1zM242 299h1v1h-1zM242 301h1v1h-1zM245 298h2v1h-2zM246 299h1v1h-1zM246 300h1v1h-1zM246 301h1v1h-1zM248 298h3v1h-3zM248 299h1v1h-1zM250 299h1v1h-1zM248 300h1v1h-1zM250 300h1v1h-1zM248 301h3v1h-3zM251 298h3v1h-3zM251 299h1v1h-1zM253 299h1v1h-1zM251 300h1v1h-1zM253 300h1v1h-1zM251 301h3v1h-3zM314 298h1v1h-1zM313 299h1v1h-1zM315 299h1v1h-1zM313 300h3v1h-3zM313 301h1v1h-1zM316 301h1v1h-1zM317 298h2v1h-2zM318 299h1v1h-1zM318 300h1v1h-1zM318 301h1v1h-1zM324 298h1v1h-1zM324 299h1v1h-1zM324 300h1v1h-1zM324 301h1v1h-1zM326 299h1v1h-1zM326 301h1v1h-1zM329 298h2v1h-2zM330 299h1v1h-1zM330 300h1v1h-1zM330 301h1v1h-1zM332 298h3v1h-3zM332 299h1v1h-1zM334 299h1v1h-1zM332 300h1v1h-1zM334 300h1v1h-1zM332 301h3v1h-3zM335 298h3v1h-3zM335 299h1v1h-1zM337 299h1v1h-1zM335 300h1v1h-1zM337 300h1v1h-1zM335 301h3v1h-3zM366 298h1v1h-1zM365 299h1v1h-1zM367 299h1v1h-1zM365 300h3v1h-3zM365 301h1v1h-1zM368 301h1v1h-1zM369 298h2v1h-2zM370 299h1v1h-1zM370 300h1v1h-1zM370 301h1v1h-1zM376 298h1v1h-1zM376 299h1v1h-1zM376 300h1v1h-1zM376 301h1v1h-1zM378 299h1v1h-1zM378 301h1v1h-1zM380 298h3v1h-3zM380 299h2v1h-2zM382 300h1v1h-1zM380 301h2v1h-2zM384 298h3v1h-3zM384 299h1v1h-1zM386 299h1v1h-1zM384 300h1v1h-1zM386 300h1v1h-1zM384 301h3v1h-3zM411 298h1v1h-1zM410 299h1v1h-1zM412 299h1v1h-1zM410 300h3v1h-3zM410 301h1v1h-1zM413 301h1v1h-1zM414 298h2v1h-2zM415 299h1v1h-1zM415 300h1v1h-1zM415 301h1v1h-1zM421 298h1v1h-1zM421 299h1v1h-1zM421 300h1v1h-1zM421 301h1v1h-1zM423 299h1v1h-1zM423 301h1v1h-1zM426 298h2v1h-2zM427 299h1v1h-1zM427 300h1v1h-1zM427 301h1v1h-1zM429 298h3v1h-3zM429 299h1v1h-1zM431 299h1v1h-1zM429 300h1v1h-1zM431 300h1v1h-1zM429 301h3v1h-3zM432 298h3v1h-3zM432 299h1v1h-1zM434 299h1v1h-1zM432 300h1v1h-1zM434 300h1v1h-1zM432 301h3v1h-3zM469 298h1v1h-1zM468 299h1v1h-1zM470 299h1v1h-1zM468 300h3v1h-3zM468 301h1v1h-1zM471 301h1v1h-1zM472 298h2v1h-2zM474 299h1v1h-1zM473 300h1v1h-1zM472 301h3v1h-3zM479 298h1v1h-1zM479 299h1v1h-1zM479 300h1v1h-1zM479 301h1v1h-1zM481 299h1v1h-1zM481 301h1v1h-1zM484 298h2v1h-2zM485 299h1v1h-1zM485 300h1v1h-1zM485 301h1v1h-1zM487 298h3v1h-3zM487 299h1v1h-1zM489 299h1v1h-1zM487 300h1v1h-1zM489 300h1v1h-1zM487 301h3v1h-3zM490 298h3v1h-3zM490 299h1v1h-1zM492 299h1v1h-1zM490 300h1v1h-1zM492 300h1v1h-1zM490 301h3v1h-3zM182 461h1v1h-1zM182 462h1v1h-1zM185 462h1v1h-1zM190 462h1v1h-1zM182 463h1v1h-1zM186 463h1v1h-1zM189 463h1v1h-1zM182 464h1v1h-1zM187 464h1v1h-1zM189 464h1v1h-1zM182 465h10v1h-10zM180 466h3v1h-3zM188 466h1v1h-1zM182 467h1v1h-1zM188 467h1v1h-1zM182 468h1v1h-1zM186 468h2v1h-2zM189 468h2v1h-2zM182 469h1v1h-1zM185 469h1v1h-1zM187 469h1v1h-1zM191 469h1v1h-1zM181 470h4v1h-4zM187 470h1v1h-1zM181 471h1v1h-1zM184 471h1v1h-1zM187 471h1v1h-1zM181 472h1v1h-1zM185 472h7v1h-7zM180 473h1v1h-1zM182 473h1v1h-1zM186 473h1v1h-1zM189 473h1v1h-1zM180 474h1v1h-1zM182 474h1v1h-1zM186 474h1v1h-1zM189 474h1v1h-1zM182 475h1v1h-1zM186 475h1v1h-1zM188 475h1v1h-1zM182 476h1v1h-1zM187 476h2v1h-2zM182 477h1v1h-1zM187 477h4v1h-4zM182 478h1v1h-1zM185 478h2v1h-2zM196 461h1v1h-1zM203 461h1v1h-1zM195 462h1v1h-1zM200 462h3v1h-3zM195 463h1v1h-1zM199 463h1v1h-1zM195 464h1v1h-1zM198 464h1v1h-1zM195 465h4v1h-4zM193 466h3v1h-3zM198 466h1v1h-1zM195 467h1v1h-1zM198 467h5v1h-5zM195 468h1v1h-1zM198 468h1v1h-1zM203 468h1v1h-1zM195 469h1v1h-1zM198 469h2v1h-2zM203 469h1v1h-1zM194 470h4v1h-4zM200 470h1v1h-1zM203 470h1v1h-1zM194 471h1v1h-1zM198 471h1v1h-1zM200 471h1v1h-1zM202 471h1v1h-1zM194 472h1v1h-1zM198 472h1v1h-1zM200 472h1v1h-1zM202 472h1v1h-1zM193 473h1v1h-1zM195 473h1v1h-1zM198 473h1v1h-1zM201 473h1v1h-1zM193 474h1v1h-1zM195 474h1v1h-1zM198 474h1v1h-1zM201 474h1v1h-1zM195 475h1v1h-1zM198 475h1v1h-1zM201 475h1v1h-1zM195 476h1v1h-1zM197 476h1v1h-1zM200 476h3v1h-3zM195 477h1v1h-1zM197 477h1v1h-1zM200 477h1v1h-1zM203 477h1v1h-1zM195 478h1v1h-1zM197 478h1v1h-1zM199 478h1v1h-1zM204 478h1v1h-1zM206 462h10v1h-10zM208 463h1v1h-1zM216 463h1v1h-1zM208 464h1v1h-1zM216 464h1v1h-1zM208 465h1v1h-1zM216 465h1v1h-1zM207 466h4v1h-4zM216 466h1v1h-1zM206 467h1v1h-1zM208 467h1v1h-1zM211 467h1v1h-1zM213 467h1v1h-1zM216 467h1v1h-1zM206 468h1v1h-1zM208 468h1v1h-1zM211 468h1v1h-1zM213 468h3v1h-3zM206 469h1v1h-1zM208 469h2v1h-2zM211 469h1v1h-1zM213 469h1v1h-1zM206 470h2v1h-2zM210 470h2v1h-2zM213 470h1v1h-1zM206 471h1v1h-1zM211 471h1v1h-1zM213 471h1v1h-1zM206 472h1v1h-1zM211 472h1v1h-1zM213 472h1v1h-1zM206 473h1v1h-1zM211 473h1v1h-1zM213 473h1v1h-1zM206 474h6v1h-6zM213 474h1v1h-1zM206 475h1v1h-1zM211 475h1v1h-1zM213 475h1v1h-1zM217 475h1v1h-1zM206 476h1v1h-1zM211 476h1v1h-1zM213 476h1v1h-1zM217 476h1v1h-1zM207 477h4v1h-4zM213 477h1v1h-1zM217 477h1v1h-1zM214 478h3v1h-3zM221 461h1v1h-1zM221 462h1v1h-1zM220 463h11v1h-11zM220 464h1v1h-1zM222 464h1v1h-1zM225 464h1v1h-1zM227 464h1v1h-1zM220 465h1v1h-1zM222 465h1v1h-1zM225 465h1v1h-1zM227 465h1v1h-1zM219 466h1v1h-1zM222 466h1v1h-1zM224 466h1v1h-1zM227 466h1v1h-1zM220 467h4v1h-4zM227 467h1v1h-1zM220 468h1v1h-1zM223 468h1v1h-1zM226 468h1v1h-1zM220 469h1v1h-1zM223 469h1v1h-1zM226 469h3v1h-3zM220 470h4v1h-4zM226 470h1v1h-1zM229 470h1v1h-1zM220 471h1v1h-1zM223 471h1v1h-1zM226 471h1v1h-1zM229 471h1v1h-1zM220 472h1v1h-1zM223 472h1v1h-1zM226 472h1v1h-1zM229 472h1v1h-1zM220 473h1v1h-1zM223 473h1v1h-1zM226 473h1v1h-1zM229 473h1v1h-1zM220 474h4v1h-4zM226 474h1v1h-1zM229 474h1v1h-1zM220 475h1v1h-1zM223 475h1v1h-1zM226 475h1v1h-1zM229 475h1v1h-1zM220 476h1v1h-1zM223 476h1v1h-1zM225 476h1v1h-1zM229 476h1v1h-1zM220 477h1v1h-1zM223 477h1v1h-1zM225 477h1v1h-1zM229 477h1v1h-1zM219 478h1v1h-1zM224 478h1v1h-1zM227 478h2v1h-2zM233 461h1v1h-1zM233 462h10v1h-10zM233 463h1v1h-1zM237 463h1v1h-1zM243 463h1v1h-1zM233 464h1v1h-1zM237 464h1v1h-1zM241 464h1v1h-1zM243 464h1v1h-1zM233 465h1v1h-1zM236 465h5v1h-5zM243 465h1v1h-1zM233 466h1v1h-1zM236 466h1v1h-1zM240 466h1v1h-1zM243 466h1v1h-1zM233 467h1v1h-1zM235 467h1v1h-1zM237 467h1v1h-1zM239 467h1v1h-1zM243 467h1v1h-1zM233 468h1v1h-1zM235 468h1v1h-1zM238 468h2v1h-2zM243 468h1v1h-1zM233 469h1v1h-1zM238 469h2v1h-2zM243 469h1v1h-1zM233 470h1v1h-1zM237 470h1v1h-1zM239 470h5v1h-5zM233 471h1v1h-1zM238 471h1v1h-1zM241 471h1v1h-1zM243 471h1v1h-1zM233 472h1v1h-1zM239 472h2v1h-2zM243 472h1v1h-1zM233 473h1v1h-1zM243 473h1v1h-1zM233 474h1v1h-1zM236 474h3v1h-3zM243 474h1v1h-1zM233 475h1v1h-1zM239 475h1v1h-1zM243 475h1v1h-1zM233 476h1v1h-1zM240 476h1v1h-1zM243 476h1v1h-1zM234 477h9v1h-9zM255 461h1v1h-1zM247 462h1v1h-1zM254 462h1v1h-1zM247 463h1v1h-1zM251 463h3v1h-3zM246 464h2v1h-2zM250 464h1v1h-1zM253 464h1v1h-1zM246 465h1v1h-1zM248 465h1v1h-1zM250 465h1v1h-1zM253 465h1v1h-1zM245 466h1v1h-1zM248 466h3v1h-3zM253 466h1v1h-1zM246 467h2v1h-2zM250 467h1v1h-1zM253 467h1v1h-1zM247 468h1v1h-1zM250 468h1v1h-1zM253 468h1v1h-1zM247 469h1v1h-1zM250 469h7v1h-7zM246 470h1v1h-1zM250 470h1v1h-1zM253 470h1v1h-1zM246 471h1v1h-1zM248 471h1v1h-1zM250 471h1v1h-1zM253 471h1v1h-1zM247 472h1v1h-1zM250 472h1v1h-1zM253 472h1v1h-1zM250 473h1v1h-1zM254 473h1v1h-1zM250 474h1v1h-1zM254 474h1v1h-1zM248 475h3v1h-3zM254 475h1v1h-1zM245 476h3v1h-3zM250 476h1v1h-1zM252 476h1v1h-1zM255 476h1v1h-1zM251 477h1v1h-1zM259 462h9v1h-9zM268 463h1v1h-1zM268 464h1v1h-1zM260 465h1v1h-1zM268 465h1v1h-1zM260 466h1v1h-1zM268 466h1v1h-1zM260 467h1v1h-1zM268 467h1v1h-1zM260 468h9v1h-9zM260 469h1v1h-1zM268 469h1v1h-1zM260 470h1v1h-1zM268 470h1v1h-1zM260 471h1v1h-1zM260 472h1v1h-1zM260 473h1v1h-1zM260 474h1v1h-1zM270 474h1v1h-1zM260 475h1v1h-1zM270 475h1v1h-1zM260 476h1v1h-1zM270 476h1v1h-1zM261 477h9v1h-9zM274 461h1v1h-1zM277 461h1v1h-1zM273 462h1v1h-1zM277 462h1v1h-1zM273 463h1v1h-1zM277 463h3v1h-3zM273 464h1v1h-1zM277 464h1v1h-1zM280 464h1v1h-1zM273 465h1v1h-1zM276 465h1v1h-1zM280 465h1v1h-1zM273 466h1v1h-1zM276 466h4v1h-4zM273 467h3v1h-3zM279 467h1v1h-1zM273 468h1v1h-1zM278 468h2v1h-2zM273 469h1v1h-1zM277 469h1v1h-1zM279 469h4v1h-4zM273 470h4v1h-4zM278 470h1v1h-1zM273 471h1v1h-1zM277 471h1v1h-1zM273 472h1v1h-1zM276 472h1v1h-1zM273 473h1v1h-1zM280 473h1v1h-1zM273 474h1v1h-1zM278 474h2v1h-2zM281 474h2v1h-2zM273 475h1v1h-1zM277 475h1v1h-1zM280 475h1v1h-1zM272 476h1v1h-1zM276 476h1v1h-1zM279 476h1v1h-1zM272 477h1v1h-1zM278 477h1v1h-1zM276 478h2v1h-2zM291 461h1v1h-1zM291 462h1v1h-1zM284 463h3v1h-3zM291 463h1v1h-1zM287 464h1v1h-1zM290 464h1v1h-1zM287 465h1v1h-1zM290 465h1v1h-1zM295 465h1v1h-1zM287 466h1v1h-1zM290 466h5v1h-5zM287 467h1v1h-1zM289 467h1v1h-1zM293 467h1v1h-1zM285 468h5v1h-5zM293 468h1v1h-1zM284 469h1v1h-1zM288 469h2v1h-2zM293 469h1v1h-1zM284 470h1v1h-1zM288 470h1v1h-1zM290 470h1v1h-1zM293 470h1v1h-1zM284 471h1v1h-1zM288 471h1v1h-1zM291 471h2v1h-2zM284 472h1v1h-1zM291 472h1v1h-1zM284 473h1v1h-1zM291 473h1v1h-1zM284 474h1v1h-1zM287 474h2v1h-2zM291 474h1v1h-1zM285 475h2v1h-2zM291 475h2v1h-2zM290 476h1v1h-1zM293 476h1v1h-1zM289 477h1v1h-1zM294 477h1v1h-1zM288 478h1v1h-1zM295 478h1v1h-1z"/>
<path fill="#ff00ff" d="M46 362h1v1h-1zM47 363h1v1h-1zM48 364h1v1h-1zM48 365h1v1h-1zM49 366h1v1h-1zM50 367h1v1h-1zM51 368h1v1h-1zM51 369h1v1h-1zM52 370h1v1h-1zM53 371h1v1h-1zM54 372h1v1h-1zM54 373h1v1h-1zM55 374h1v1h-1zM56 375h1v1h-1zM57 376h1v1h-1zM57 377h1v1h-1zM58 378h1v1h-1zM59 379h1v1h-1zM60 380h1v1h-1zM60 381h1v1h-1zM61 382h1v1h-1zM62 383h1v1h-1zM63 384h1v1h-1zM63 385h1v1h-1zM64 386h1v1h-1zM65 387h1v1h-1zM66 388h1v1h-1zM66 389h1v1h-1zM67 390h1v1h-1zM68 391h1v1h-1zM69 392h1v1h-1zM69 393h1v1h-1zM70 394h1v1h-1zM71 395h1v1h-1zM72 396h1v1h-1zM72 397h1v1h-1zM73 398h1v1h-1zM74 399h1v1h-1zM75 400h1v1h-1zM76 401h1v1h-1zM76 402h1v1h-1zM77 403h1v1h-1zM78 404h1v1h-1zM79 405h1v1h-1zM79 406h1v1h-1zM80 407h1v1h-1zM81 408h1v1h-1zM82 409h1v1h-1zM82 410h1v1h-1zM83 411h1v1h-1zM84 412h1v1h-1zM85 413h1v1h-1zM85 414h1v1h-1zM86 415h1v1h-1zM87 416h1v1h-1zM88 417h1v1h-1zM88 418h1v1h-1zM89 419h1v1h-1zM90 420h1v1h-1zM91 421h1v1h-1zM91 422h1v1h-1zM92 423h1v1h-1zM93 424h1v1h-1zM94 425h1v1h-1zM94 426h1v1h-1zM95 427h1v1h-1zM96 428h1v1h-1zM97 429h1v1h-1zM97 430h1v1h-1zM98 431h1v1h-1zM99 432h1v1h-1zM100 433h1v1h-1zM100 434h1v1h-1zM101 435h1v1h-1zM102 436h1v1h-1zM103 437h1v1h-1zM103 438h1v1h-1zM104 439h1v1h-1zM105 440h1v1h-1zM124 350h1v1h-1zM124 351h1v1h-1zM124 352h1v1h-1zM123 353h1v1h-1zM123 354h1v1h-1zM123 355h1v1h-1zM123 356h1v1h-1zM123 357h1v1h-1zM122 358h1v1h-1zM122 359h1v1h-1zM122 360h1v1h-1zM122 361h1v1h-1zM121 362h1v1h-1zM121 363h1v1h-1zM121 364h1v1h-1zM121 365h1v1h-1zM121 366h1v1h-1zM120 367h1v1h-1zM120 368h1v1h-1zM120 369h1v1h-1zM120 370h1v1h-1zM120 371h1v1h-1zM119 372h1v1h-1zM119 373h1v1h-1zM119 374h1v1h-1zM119 375h1v1h-1zM119 376h1v1h-1zM118 377h1v1h-1zM118 378h1v1h-1zM118 379h1v1h-1zM118 380h1v1h-1zM117 381h1v1h-1zM117 382h1v1h-1zM117 383h1v1h-1zM117 384h1v1h-1zM117 385h1v1h-1zM116 386h1v1h-1zM116 387h1v1h-1zM116 388h1v1h-1zM116 389h1v1h-1zM116 390h1v1h-1zM115 391h1v1h-1zM115 392h1v1h-1zM115 393h1v1h-1zM115 394h1v1h-1zM114 395h1v1h-1zM114 396h1v1h-1zM114 397h1v1h-1zM114 398h1v1h-1zM114 399h1v1h-1zM113 400h1v1h-1zM113 401h1v1h-1zM113 402h1v1h-1zM113 403h1v1h-1zM113 404h1v1h-1zM112 405h1v1h-1zM112 406h1v1h-1zM112 407h1v1h-1zM112 408h1v1h-1zM112 409h1v1h-1zM111 410h1v1h-1zM111 411h1v1h-1zM111 412h1v1h-1zM111 413h1v1h-1zM110 414h1v1h-1zM110 415h1v1h-1zM110 416h1v1h-1zM110 417h1v1h-1zM110 418h1v1h-1zM109 419h1v1h-1zM109 420h1v1h-1zM109 421h1v1h-1zM109 422h1v1h-1zM109 423h1v1h-1zM108 424h1v1h-1zM108 425h1v1h-1zM108 426h1v1h-1zM108 427h1v1h-1zM108 428h1v1h-1zM107 429h1v1h-1zM107 430h1v1h-1zM107 431h1v1h-1zM107 432h1v1h-1zM106 433h1v1h-1zM106 434h1v1h-1zM106 435h1v1h-1zM106 436h1v1h-1zM106 437h1v1h-1zM105 438h1v1h-1zM105 439h1v1h-1zM105 440h1v1h-1zM195 339h1v1h-1zM194 340h1v1h-1zM193 341h1v1h-1zM192 342h1v1h-1zM191 343h1v1h-1zM191 344h1v1h-1zM190 345h1v1h-1zM189 346h1v1h-1zM188 347h1v1h-1zM187 348h1v1h-1zM186 349h1v1h-1zM185 350h1v1h-1zM184 351h1v1h-1zM183 352h1v1h-1zM183 353h1v1h-1zM182 354h1v1h-1zM181 355h1v1h-1zM180 356h1v1h-1zM179 357h1v1h-1zM178 358h1v1h-1zM177 359h1v1h-1zM176 360h1v1h-1zM175 361h1v1h-1zM175 362h1v1h-1zM174 363h1v1h-1zM173 364h1v1h-1zM172 365h1v1h-1zM171 366h1v1h-1zM170 367h1v1h-1zM169 368h1v1h-1zM168 369h1v1h-1zM167 370h1v1h-1zM166 371h1v1h-1zM166 372h1v1h-1zM165 373h1v1h-1zM164 374h1v1h-1zM163 375h1v1h-1zM162 376h1v1h-1zM161 377h1v1h-1zM160 378h1v1h-1zM159 379h1v1h-1zM158 380h1v1h-1zM158 381h1v1h-1zM157 382h1v1h-1zM156 383h1v1h-1zM155 384h1v1h-1zM154 385h1v1h-1zM153 386h1v1h-1zM152 387h1v1h-1zM151 388h1v1h-1zM150 389h1v1h-1zM150 390h1v1h-1zM149 391h1v1h-1zM148 392h1v1h-1zM147 393h1v1h-1zM146 394h1v1h-1zM145 395h1v1h-1zM144 396h1v1h-1zM143 397h1v1h-1zM142 398h1v1h-1zM142 399h1v1h-1zM141 400h1v1h-1zM140 401h1v1h-1zM139 402h1v1h-1zM138 403h1v1h-1zM137 404h1v1h-1zM136 405h1v1h-1zM135 406h1v1h-1zM134 407h1v1h-1zM134 408h1v1h-1zM133 409h1v1h-1zM132 410h1v1h-1zM131 411h1v1h-1zM130 412h1v1h-1zM129 413h1v1h-1zM128 414h1v1h-1zM127 415h1v1h-1zM126 416h1v1h-1zM125 417h1v1h-1zM125 418h1v1h-1zM124 419h1v1h-1zM123 420h1v1h-1zM122 421h1v1h-1zM121 422h1v1h-1zM120 423h1v1h-1zM119 424h1v1h-1zM118 425h1v1h-1zM117 426h1v1h-1zM117 427h1v1h-1zM116 428h1v1h-1zM115 429h1v1h-1zM114 430h1v1h-1zM113 431h1v1h-1zM112 432h1v1h-1zM111 433h1v1h-1zM110 434h1v1h-1zM109 435h1v1h-1zM109 436h1v1h-1zM108 437h1v1h-1zM107 438h1v1h-1zM106 439h1v1h-1zM105 440h1v1h-1zM261 340h1v1h-1zM260 341h1v1h-1zM259 341h1v1h-1zM258 342h1v1h-1zM257 343h1v1h-1zM256 343h1v1h-1zM255 344h1v1h-1zM254 344h1v1h-1zM253 345h1v1h-1zM252 346h1v1h-1zM251 346h1v1h-1zM250 347h1v1h-1zM249 348h1v1h-1zM248 348h1v1h-1zM247 349h1v1h-1zM246 350h1v1h-1zM245 350h1v1h-1zM244 351h1v1h-1zM243 352h1v1h-1zM242 352h1v1h-1zM241 353h1v1h-1zM240 353h1v1h-1zM239 354h1v1h-1zM238 355h1v1h-1zM237 355h1v1h-1zM236 356h1v1h-1zM235 357h1v1h-1zM234 357h1v1h-1zM233 358h1v1h-1zM232 359h1v1h-1zM231 359h1v1h-1zM230 360h1v1h-1zM229 361h1v1h-1zM228 361h1v1h-1zM227 362h1v1h-1zM226 362h1v1h-1zM225 363h1v1h-1zM224 364h1v1h-1zM223 364h1v1h-1zM222 365h1v1h-1zM221 366h1v1h-1zM220 366h1v1h-1zM219 367h1v1h-1zM218 368h1v1h-1zM217 368h1v1h-1zM216 369h1v1h-1zM215 369h1v1h-1zM214 370h1v1h-1zM213 371h1v1h-1zM212 371h1v1h-1zM211 372h1v1h-1zM210 373h1v1h-1zM209 373h1v1h-1zM208 374h1v1h-1zM207 375h1v1h-1zM206 375h1v1h-1zM205 376h1v1h-1zM204 377h1v1h-1zM203 377h1v1h-1zM202 378h1v1h-1zM201 378h1v1h-1zM200 379h1v1h-1zM199 380h1v1h-1zM198 380h1v1h-1zM197 381h1v1h-1zM196 382h1v1h-1zM195 382h1v1h-1zM194 383h1v1h-1zM193 384h1v1h-1zM192 384h1v1h-1zM191 385h1v1h-1zM190 386h1v1h-1zM189 386h1v1h-1zM188 387h1v1h-1zM187 387h1v1h-1zM186 388h1v1h-1zM185 389h1v1h-1zM184 389h1v1h-1zM183 390h1v1h-1zM182 391h1v1h-1zM181 391h1v1h-1zM180 392h1v1h-1zM179 393h1v1h-1zM178 393h1v1h-1zM177 394h1v1h-1zM176 394h1v1h-1zM175 395h1v1h-1zM174 396h1v1h-1zM173 396h1v1h-1zM172 397h1v1h-1zM171 398h1v1h-1zM170 398h1v1h-1zM169 399h1v1h-1zM168 400h1v1h-1zM167 400h1v1h-1zM166 401h1v1h-1zM165 402h1v1h-1zM164 402h1v1h-1zM163 403h1v1h-1zM162 403h1v1h-1zM161 404h1v1h-1zM160 405h1v1h-1zM159 405h1v1h-1zM158 406h1v1h-1zM157 407h1v1h-1zM156 407h1v1h-1zM155 408h1v1h-1zM154 409h1v1h-1zM153 409h1v1h-1zM152 410h1v1h-1zM151 411h1v1h-1zM150 411h1v1h-1zM149 412h1v1h-1zM148 412h1v1h-1zM147 413h1v1h-1zM146 414h1v1h-1zM145 414h1v1h-1zM144 415h1v1h-1zM143 416h1v1h-1zM142 416h1v1h-1zM141 417h1v1h-1zM140 418h1v1h-1zM139 418h1v1h-1zM138 419h1v1h-1zM137 419h1v1h-1zM136 420h1v1h-1zM135 421h1v1h-1zM134 421h1v1h-1zM133 422h1v1h-1zM132 423h1v1h-1zM131 423h1v1h-1zM130 424h1v1h-1zM129 425h1v1h-1zM128 425h1v1h-1zM127 426h1v1h-1zM126 427h1v1h-1zM125 427h1v1h-1zM124 428h1v1h-1zM123 428h1v1h-1zM122 429h1v1h-1zM121 430h1v1h-1zM120 430h1v1h-1zM119 431h1v1h-1zM118 432h1v1h-1zM117 432h1v1h-1zM116 433h1v1h-1zM115 434h1v1h-1zM114 434h1v1h-1zM113 435h1v1h-1zM112 436h1v1h-1zM111 436h1v1h-1zM110 437h1v1h-1zM109 437h1v1h-1zM108 438h1v1h-1zM107 439h1v1h-1zM106 439h1v1h-1zM105 440h1v1h-1zM105 440h1v1h-1zM106 441h1v1h-1zM106 442h1v1h-1zM107 443h1v1h-1zM107 444h1v1h-1zM108 445h1v1h-1zM109 446h1v1h-1zM109 447h1v1h-1zM110 448h1v1h-1zM111 449h1v1h-1zM111 450h1v1h-1zM112 451h1v1h-1zM112 452h1v1h-1zM113 453h1v1h-1zM114 454h1v1h-1zM114 455h1v1h-1zM115 456h1v1h-1zM115 457h1v1h-1zM116 458h1v1h-1zM117 459h1v1h-1zM117 460h1v1h-1zM118 461h1v1h-1zM119 462h1v1h-1zM119 463h1v1h-1zM120 464h1v1h-1zM120 465h1v1h-1zM121 466h1v1h-1zM122 467h1v1h-1zM122 468h1v1h-1zM123 469h1v1h-1zM123 470h1v1h-1zM124 471h1v1h-1zM125 472h1v1h-1zM125 473h1v1h-1zM126 474h1v1h-1zM126 475h1v1h-1zM127 476h1v1h-1zM128 477h1v1h-1zM128 478h1v1h-1zM129 479h1v1h-1zM130 480h1v1h-1zM130 481h1v1h-1zM131 482h1v1h-1zM131 483h1v1h-1zM132 484h1v1h-1zM132 484h167v1h-167z"/>
</svg></body></html>
